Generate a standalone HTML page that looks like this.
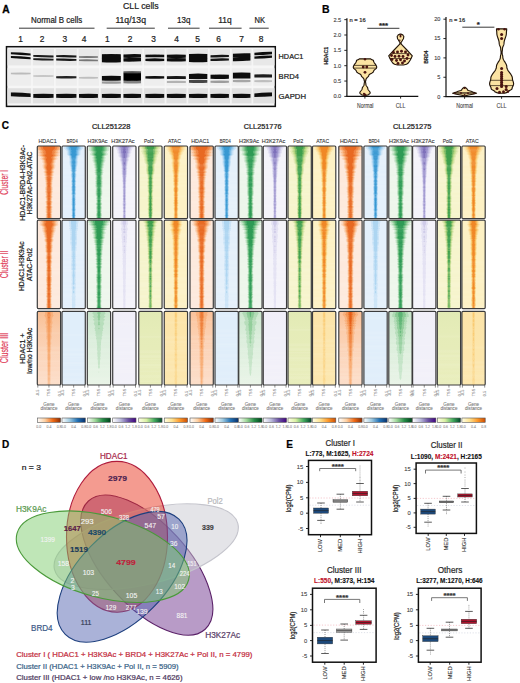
<!DOCTYPE html>
<html><head><meta charset="utf-8"><style>
html,body{margin:0;padding:0;background:#fff;}
body{width:520px;height:683px;overflow:hidden;font-family:"Liberation Sans", sans-serif;}
svg{display:block;}
</style></head><body>
<svg width="520" height="683" viewBox="0 0 520 683" font-family="'Liberation Sans', sans-serif">
<defs>
<filter id="bblur" x="-5%" y="-50%" width="110%" height="200%"><feGaussianBlur stdDeviation="0.6"/></filter>
<linearGradient id="cb_HDAC1" x1="0" y1="0" x2="1" y2="0"><stop offset="0.00" stop-color="#ffffff"/><stop offset="0.33" stop-color="#fdd0a2"/><stop offset="0.67" stop-color="#f16913"/><stop offset="1.00" stop-color="#8c2d04"/></linearGradient>
<linearGradient id="cb_BRD4" x1="0" y1="0" x2="1" y2="0"><stop offset="0.00" stop-color="#ffffff"/><stop offset="0.33" stop-color="#9ecae1"/><stop offset="0.67" stop-color="#2171b5"/><stop offset="1.00" stop-color="#08306b"/></linearGradient>
<linearGradient id="cb_H3K9Ac" x1="0" y1="0" x2="1" y2="0"><stop offset="0.00" stop-color="#ffffff"/><stop offset="0.33" stop-color="#a1d99b"/><stop offset="0.67" stop-color="#238b45"/><stop offset="1.00" stop-color="#00441b"/></linearGradient>
<linearGradient id="cb_H3K27Ac" x1="0" y1="0" x2="1" y2="0"><stop offset="0.00" stop-color="#ffffff"/><stop offset="0.33" stop-color="#bcbddc"/><stop offset="0.67" stop-color="#6a51a3"/><stop offset="1.00" stop-color="#3f007d"/></linearGradient>
<linearGradient id="cb_Pol2" x1="0" y1="0" x2="1" y2="0"><stop offset="0.00" stop-color="#ffffe5"/><stop offset="0.33" stop-color="#d9f0a3"/><stop offset="0.67" stop-color="#41ab5d"/><stop offset="1.00" stop-color="#004529"/></linearGradient>
<linearGradient id="cb_ATAC" x1="0" y1="0" x2="1" y2="0"><stop offset="0.00" stop-color="#ffffe5"/><stop offset="0.33" stop-color="#fee391"/><stop offset="0.67" stop-color="#fe9929"/><stop offset="1.00" stop-color="#cc4c02"/></linearGradient>
<filter id="lblur" x="-50%" y="-10%" width="200%" height="120%"><feGaussianBlur stdDeviation="0.6"/></filter>
<pattern id="streak" patternUnits="userSpaceOnUse" x="0" y="0" width="30" height="120"><rect x="0" y="1.14" width="30" height="1.71" fill="#fff" opacity="0.07"/><rect x="0" y="2.85" width="30" height="1.30" fill="#fff" opacity="0.07"/><rect x="0" y="5.51" width="30" height="0.71" fill="#fff" opacity="0.04"/><rect x="0" y="10.21" width="30" height="1.34" fill="#fff" opacity="0.03"/><rect x="0" y="11.54" width="30" height="1.23" fill="#fff" opacity="0.04"/><rect x="0" y="12.78" width="30" height="0.89" fill="#fff" opacity="0.06"/><rect x="0" y="17.22" width="30" height="1.15" fill="#fff" opacity="0.10"/><rect x="0" y="20.16" width="30" height="1.45" fill="#fff" opacity="0.05"/><rect x="0" y="21.61" width="30" height="0.95" fill="#fff" opacity="0.08"/><rect x="0" y="24.70" width="30" height="1.62" fill="#fff" opacity="0.04"/><rect x="0" y="26.32" width="30" height="1.69" fill="#fff" opacity="0.10"/><rect x="0" y="28.01" width="30" height="1.08" fill="#fff" opacity="0.07"/><rect x="0" y="29.09" width="30" height="1.53" fill="#fff" opacity="0.04"/><rect x="0" y="31.62" width="30" height="1.51" fill="#fff" opacity="0.05"/><rect x="0" y="33.13" width="30" height="0.72" fill="#fff" opacity="0.09"/><rect x="0" y="34.67" width="30" height="1.14" fill="#fff" opacity="0.08"/><rect x="0" y="36.56" width="30" height="0.74" fill="#fff" opacity="0.04"/><rect x="0" y="38.22" width="30" height="1.56" fill="#fff" opacity="0.09"/><rect x="0" y="39.79" width="30" height="0.85" fill="#fff" opacity="0.09"/><rect x="0" y="40.64" width="30" height="1.37" fill="#fff" opacity="0.10"/><rect x="0" y="42.01" width="30" height="0.86" fill="#fff" opacity="0.08"/><rect x="0" y="42.87" width="30" height="0.99" fill="#fff" opacity="0.04"/><rect x="0" y="45.46" width="30" height="1.05" fill="#fff" opacity="0.10"/><rect x="0" y="47.69" width="30" height="1.64" fill="#fff" opacity="0.04"/><rect x="0" y="51.02" width="30" height="0.90" fill="#fff" opacity="0.08"/><rect x="0" y="51.92" width="30" height="1.73" fill="#fff" opacity="0.10"/><rect x="0" y="55.31" width="30" height="1.11" fill="#fff" opacity="0.03"/><rect x="0" y="56.41" width="30" height="1.76" fill="#fff" opacity="0.08"/><rect x="0" y="59.07" width="30" height="1.32" fill="#fff" opacity="0.04"/><rect x="0" y="60.39" width="30" height="1.46" fill="#fff" opacity="0.05"/><rect x="0" y="63.13" width="30" height="1.34" fill="#fff" opacity="0.09"/><rect x="0" y="64.46" width="30" height="0.84" fill="#fff" opacity="0.05"/><rect x="0" y="65.31" width="30" height="1.13" fill="#fff" opacity="0.04"/><rect x="0" y="67.49" width="30" height="0.76" fill="#fff" opacity="0.09"/><rect x="0" y="71.45" width="30" height="0.77" fill="#fff" opacity="0.03"/><rect x="0" y="73.91" width="30" height="1.76" fill="#fff" opacity="0.07"/><rect x="0" y="88.48" width="30" height="1.35" fill="#fff" opacity="0.07"/><rect x="0" y="89.83" width="30" height="1.33" fill="#fff" opacity="0.07"/><rect x="0" y="92.95" width="30" height="1.47" fill="#fff" opacity="0.08"/><rect x="0" y="94.42" width="30" height="1.30" fill="#fff" opacity="0.09"/><rect x="0" y="97.06" width="30" height="1.18" fill="#fff" opacity="0.08"/><rect x="0" y="99.43" width="30" height="1.70" fill="#fff" opacity="0.03"/><rect x="0" y="102.10" width="30" height="0.84" fill="#fff" opacity="0.09"/><rect x="0" y="102.94" width="30" height="1.39" fill="#fff" opacity="0.09"/><rect x="0" y="105.32" width="30" height="0.84" fill="#fff" opacity="0.09"/><rect x="0" y="108.92" width="30" height="0.98" fill="#fff" opacity="0.06"/><rect x="0" y="112.96" width="30" height="0.93" fill="#fff" opacity="0.06"/><rect x="0" y="113.89" width="30" height="0.93" fill="#fff" opacity="0.06"/><rect x="0" y="114.82" width="30" height="1.35" fill="#fff" opacity="0.05"/><rect x="0" y="117.78" width="30" height="1.14" fill="#fff" opacity="0.03"/><rect x="0" y="118.92" width="30" height="1.65" fill="#fff" opacity="0.08"/></pattern>
</defs>
<rect width="520" height="683" fill="#fff"/>
<text x="2.20" y="12.90" font-size="10.2" fill="#000" stroke="#000" stroke-width="0.3" font-weight="bold">A</text>
<text x="123.00" y="8.70" font-size="9.3" fill="#222" stroke="#222" stroke-width="0.22" textLength="35.70" lengthAdjust="spacingAndGlyphs">CLL cells</text>
<text x="31.00" y="23.40" font-size="8.7" fill="#222" stroke="#222" stroke-width="0.22" textLength="51.20" lengthAdjust="spacingAndGlyphs">Normal B cells</text>
<text x="115.40" y="23.40" font-size="8.7" fill="#222" stroke="#222" stroke-width="0.22" textLength="30.60" lengthAdjust="spacingAndGlyphs">11q/13q</text>
<text x="177.00" y="23.40" font-size="8.7" fill="#222" stroke="#222" stroke-width="0.22" textLength="13.40" lengthAdjust="spacingAndGlyphs">13q</text>
<text x="218.20" y="23.40" font-size="8.7" fill="#222" stroke="#222" stroke-width="0.22" textLength="13.40" lengthAdjust="spacingAndGlyphs">11q</text>
<text x="254.50" y="23.40" font-size="8.7" fill="#222" stroke="#222" stroke-width="0.22" textLength="10.50" lengthAdjust="spacingAndGlyphs">NK</text>
<line x1="19.00" y1="28.20" x2="94.50" y2="28.20" stroke="#222" stroke-width="0.9"/>
<line x1="106.70" y1="28.20" x2="154.80" y2="28.20" stroke="#222" stroke-width="0.9"/>
<line x1="168.00" y1="28.20" x2="199.60" y2="28.20" stroke="#222" stroke-width="0.9"/>
<line x1="209.00" y1="28.20" x2="241.60" y2="28.20" stroke="#222" stroke-width="0.9"/>
<line x1="249.40" y1="28.20" x2="268.70" y2="28.20" stroke="#222" stroke-width="0.9"/>
<text x="20.70" y="41.90" font-size="8.4" fill="#222" stroke="#222" stroke-width="0.22" text-anchor="middle">1</text>
<text x="42.00" y="41.90" font-size="8.4" fill="#222" stroke="#222" stroke-width="0.22" text-anchor="middle">2</text>
<text x="64.80" y="41.90" font-size="8.4" fill="#222" stroke="#222" stroke-width="0.22" text-anchor="middle">3</text>
<text x="84.00" y="41.90" font-size="8.4" fill="#222" stroke="#222" stroke-width="0.22" text-anchor="middle">4</text>
<text x="107.30" y="41.90" font-size="8.4" fill="#222" stroke="#222" stroke-width="0.22" text-anchor="middle">1</text>
<text x="130.00" y="41.90" font-size="8.4" fill="#222" stroke="#222" stroke-width="0.22" text-anchor="middle">2</text>
<text x="153.50" y="41.90" font-size="8.4" fill="#222" stroke="#222" stroke-width="0.22" text-anchor="middle">3</text>
<text x="176.50" y="41.90" font-size="8.4" fill="#222" stroke="#222" stroke-width="0.22" text-anchor="middle">4</text>
<text x="197.50" y="41.90" font-size="8.4" fill="#222" stroke="#222" stroke-width="0.22" text-anchor="middle">5</text>
<text x="218.60" y="41.90" font-size="8.4" fill="#222" stroke="#222" stroke-width="0.22" text-anchor="middle">6</text>
<text x="241.60" y="41.90" font-size="8.4" fill="#222" stroke="#222" stroke-width="0.22" text-anchor="middle">7</text>
<text x="261.00" y="41.90" font-size="8.4" fill="#222" stroke="#222" stroke-width="0.22" text-anchor="middle">8</text>
<rect x="6.50" y="46.70" width="268.80" height="59.70" fill="#f6f6f6" stroke="#111" stroke-width="1.5"/>
<rect x="7.50" y="48.80" width="267.00" height="16.60" fill="#e8e8e8"/>
<rect x="7.50" y="68.20" width="267.00" height="17.60" fill="#eeeeee"/>
<rect x="7.50" y="88.20" width="267.00" height="15.20" fill="#e0e0e0"/>
<rect x="31.05" y="48.80" width="1.80" height="55.00" fill="#f7f7f7" opacity="0.8"/>
<rect x="53.95" y="48.80" width="1.80" height="55.00" fill="#f7f7f7" opacity="0.8"/>
<rect x="76.80" y="48.80" width="1.80" height="55.00" fill="#f7f7f7" opacity="0.8"/>
<rect x="99.00" y="48.80" width="1.80" height="55.00" fill="#f7f7f7" opacity="0.8"/>
<rect x="121.25" y="48.80" width="1.80" height="55.00" fill="#f7f7f7" opacity="0.8"/>
<rect x="142.30" y="48.80" width="1.80" height="55.00" fill="#f7f7f7" opacity="0.8"/>
<rect x="164.65" y="48.80" width="1.80" height="55.00" fill="#f7f7f7" opacity="0.8"/>
<rect x="186.50" y="48.80" width="1.80" height="55.00" fill="#f7f7f7" opacity="0.8"/>
<rect x="208.00" y="48.80" width="1.80" height="55.00" fill="#f7f7f7" opacity="0.8"/>
<rect x="230.00" y="48.80" width="1.80" height="55.00" fill="#f7f7f7" opacity="0.8"/>
<rect x="251.50" y="48.80" width="1.80" height="55.00" fill="#f7f7f7" opacity="0.8"/>
<g filter="url(#bblur)">
<path d="M10.90,52.35 Q20.75,52.35 30.60,53.55 L30.60,55.45 Q20.75,55.25 10.90,54.25 Z" fill="#111" fill-opacity="1"/>
<path d="M10.90,56.05 Q20.75,56.05 30.60,57.25 L30.60,59.15 Q20.75,58.95 10.90,57.95 Z" fill="#111" fill-opacity="1"/>
<path d="M33.30,55.00 Q43.40,54.70 53.50,55.60 L53.50,57.40 Q43.40,57.50 33.30,56.80 Z" fill="#1a1a1a" fill-opacity="1"/>
<path d="M33.30,58.20 Q43.40,57.90 53.50,58.80 L53.50,60.60 Q43.40,60.70 33.30,60.00 Z" fill="#1a1a1a" fill-opacity="1"/>
<path d="M56.20,55.20 Q66.30,54.75 76.40,55.50 L76.40,57.40 Q66.30,57.65 56.20,57.10 Z" fill="#161616" fill-opacity="1"/>
<path d="M56.20,58.60 Q66.30,58.15 76.40,58.90 L76.40,60.80 Q66.30,61.05 56.20,60.50 Z" fill="#161616" fill-opacity="1"/>
<path d="M79.00,56.15 Q88.45,55.65 97.90,56.35 L97.90,57.85 Q88.45,58.15 79.00,57.65 Z" fill="#777" fill-opacity="1"/>
<path d="M79.00,59.45 Q88.45,58.95 97.90,59.65 L97.90,61.15 Q88.45,61.45 79.00,60.95 Z" fill="#777" fill-opacity="1"/>
<path d="M101.90,54.20 Q111.35,53.60 120.80,54.20 L120.80,58.60 Q111.35,59.00 101.90,58.60 Z" fill="#080808" fill-opacity="1"/>
<path d="M101.90,57.80 Q111.35,57.20 120.80,57.80 L120.80,62.20 Q111.35,62.60 101.90,62.20 Z" fill="#080808" fill-opacity="1"/>
<path d="M123.50,54.45 Q132.25,53.70 141.00,54.15 L141.00,57.55 Q132.25,58.10 123.50,57.85 Z" fill="#0c0c0c" fill-opacity="1"/>
<path d="M123.50,58.15 Q132.25,57.40 141.00,57.85 L141.00,61.25 Q132.25,61.80 123.50,61.55 Z" fill="#0c0c0c" fill-opacity="1"/>
<path d="M145.40,54.85 Q154.80,54.25 164.20,54.85 L164.20,57.15 Q154.80,57.55 145.40,57.15 Z" fill="#111" fill-opacity="1"/>
<path d="M145.40,58.65 Q154.80,58.05 164.20,58.65 L164.20,60.95 Q154.80,61.35 145.40,60.95 Z" fill="#111" fill-opacity="1"/>
<path d="M166.90,54.70 Q176.35,54.10 185.80,54.70 L185.80,57.70 Q176.35,58.10 166.90,57.70 Z" fill="#0c0c0c" fill-opacity="1"/>
<path d="M166.90,58.30 Q176.35,57.70 185.80,58.30 L185.80,61.30 Q176.35,61.70 166.90,61.30 Z" fill="#0c0c0c" fill-opacity="1"/>
<path d="M189.00,54.10 Q198.15,53.50 207.30,54.10 L207.30,58.30 Q198.15,58.70 189.00,58.30 Z" fill="#080808" fill-opacity="1"/>
<path d="M189.00,57.90 Q198.15,57.30 207.30,57.90 L207.30,62.10 Q198.15,62.50 189.00,62.10 Z" fill="#080808" fill-opacity="1"/>
<path d="M210.50,55.30 Q219.70,54.55 228.90,55.00 L228.90,57.10 Q219.70,57.65 210.50,57.40 Z" fill="#151515" fill-opacity="1"/>
<path d="M210.50,58.80 Q219.70,58.05 228.90,58.50 L228.90,60.60 Q219.70,61.15 210.50,60.90 Z" fill="#151515" fill-opacity="1"/>
<path d="M232.90,53.80 Q241.65,52.90 250.40,53.20 L250.40,57.00 Q241.65,57.70 232.90,57.60 Z" fill="#0a0a0a" fill-opacity="1"/>
<path d="M232.90,57.40 Q241.65,56.50 250.40,56.80 L250.40,60.60 Q241.65,61.30 232.90,61.20 Z" fill="#0a0a0a" fill-opacity="1"/>
<path d="M254.40,52.85 Q263.20,51.75 272.00,51.85 L272.00,54.15 Q263.20,55.05 254.40,55.15 Z" fill="#111" fill-opacity="1"/>
<path d="M254.40,56.45 Q263.20,55.35 272.00,55.45 L272.00,57.75 Q263.20,58.65 254.40,58.75 Z" fill="#111" fill-opacity="1"/>
<path d="M10.90,72.75 Q20.75,72.15 30.60,72.75 L30.60,74.25 Q20.75,74.65 10.90,74.25 Z" fill="#999" fill-opacity="0.6"/>
<path d="M33.30,75.30 Q43.40,74.70 53.50,75.30 L53.50,76.70 Q43.40,77.10 33.30,76.70 Z" fill="#aaa" fill-opacity="0.6"/>
<path d="M56.20,76.30 Q66.30,75.70 76.40,76.30 L76.40,78.30 Q66.30,78.70 56.20,78.30 Z" fill="#222" fill-opacity="1"/>
<path d="M79.00,77.05 Q88.45,76.45 97.90,77.05 L97.90,78.55 Q88.45,78.95 79.00,78.55 Z" fill="#aaa" fill-opacity="0.7"/>
<path d="M101.90,76.00 Q111.35,75.40 120.80,76.00 L120.80,80.60 Q111.35,81.00 101.90,80.60 Z" fill="#0a0a0a" fill-opacity="1"/>
<path d="M101.90,81.60 Q111.35,81.00 120.80,81.60 L120.80,83.60 Q111.35,84.00 101.90,83.60 Z" fill="#777" fill-opacity="0.7"/>
<path d="M123.50,72.80 Q132.25,72.20 141.00,72.80 L141.00,80.80 Q132.25,81.20 123.50,80.80 Z" fill="#060606" fill-opacity="1"/>
<path d="M123.50,71.20 Q132.25,70.60 141.00,71.20 L141.00,73.20 Q132.25,73.60 123.50,73.20 Z" fill="#444" fill-opacity="0.8"/>
<path d="M123.50,80.80 Q132.25,80.20 141.00,80.80 L141.00,83.20 Q132.25,83.60 123.50,83.20 Z" fill="#555" fill-opacity="0.7"/>
<path d="M145.40,76.20 Q154.80,75.60 164.20,76.20 L164.20,78.60 Q154.80,79.00 145.40,78.60 Z" fill="#111" fill-opacity="1"/>
<path d="M166.90,76.30 Q176.35,75.70 185.80,76.30 L185.80,78.90 Q176.35,79.30 166.90,78.90 Z" fill="#151515" fill-opacity="1"/>
<path d="M166.90,81.10 Q176.35,80.50 185.80,81.10 L185.80,82.90 Q176.35,83.30 166.90,82.90 Z" fill="#999" fill-opacity="0.7"/>
<path d="M189.00,73.90 Q198.15,73.30 207.30,73.90 L207.30,78.90 Q198.15,79.30 189.00,78.90 Z" fill="#080808" fill-opacity="1"/>
<path d="M189.00,80.10 Q198.15,79.50 207.30,80.10 L207.30,82.70 Q198.15,83.10 189.00,82.70 Z" fill="#333" fill-opacity="0.9"/>
<path d="M210.50,74.80 Q219.70,74.20 228.90,74.80 L228.90,78.80 Q219.70,79.20 210.50,78.80 Z" fill="#111" fill-opacity="1"/>
<path d="M210.50,80.80 Q219.70,80.20 228.90,80.80 L228.90,82.80 Q219.70,83.20 210.50,82.80 Z" fill="#888" fill-opacity="0.8"/>
<path d="M232.90,72.80 Q241.65,72.20 250.40,72.80 L250.40,78.40 Q241.65,78.80 232.90,78.40 Z" fill="#0a0a0a" fill-opacity="1"/>
<path d="M232.90,80.00 Q241.65,79.40 250.40,80.00 L250.40,82.00 Q241.65,82.40 232.90,82.00 Z" fill="#888" fill-opacity="0.7"/>
<path d="M254.40,74.60 Q263.20,74.00 272.00,74.60 L272.00,77.40 Q263.20,77.80 254.40,77.40 Z" fill="#1a1a1a" fill-opacity="1"/>
<path d="M254.40,80.30 Q263.20,79.70 272.00,80.30 L272.00,82.10 Q263.20,82.50 254.40,82.10 Z" fill="#aaa" fill-opacity="0.7"/>
<path d="M10.90,92.60 Q20.75,92.40 30.60,93.40 L30.60,97.00 Q20.75,97.00 10.90,96.20 Z" fill="#0a0a0a" fill-opacity="1"/>
<path d="M33.30,94.10 Q43.40,93.50 53.50,94.10 L53.50,97.70 Q43.40,98.10 33.30,97.70 Z" fill="#0a0a0a" fill-opacity="1"/>
<path d="M56.20,94.10 Q66.30,93.50 76.40,94.10 L76.40,97.70 Q66.30,98.10 56.20,97.70 Z" fill="#0a0a0a" fill-opacity="1"/>
<path d="M79.00,94.10 Q88.45,93.50 97.90,94.10 L97.90,97.70 Q88.45,98.10 79.00,97.70 Z" fill="#0a0a0a" fill-opacity="1"/>
<path d="M101.90,94.10 Q111.35,93.50 120.80,94.10 L120.80,97.70 Q111.35,98.10 101.90,97.70 Z" fill="#0a0a0a" fill-opacity="1"/>
<path d="M123.50,94.10 Q132.25,93.50 141.00,94.10 L141.00,97.70 Q132.25,98.10 123.50,97.70 Z" fill="#0a0a0a" fill-opacity="1"/>
<path d="M145.40,94.10 Q154.80,93.50 164.20,94.10 L164.20,97.70 Q154.80,98.10 145.40,97.70 Z" fill="#0a0a0a" fill-opacity="1"/>
<path d="M166.90,94.10 Q176.35,93.50 185.80,94.10 L185.80,97.70 Q176.35,98.10 166.90,97.70 Z" fill="#0a0a0a" fill-opacity="1"/>
<path d="M189.00,94.10 Q198.15,93.50 207.30,94.10 L207.30,97.70 Q198.15,98.10 189.00,97.70 Z" fill="#0a0a0a" fill-opacity="1"/>
<path d="M210.50,94.10 Q219.70,93.50 228.90,94.10 L228.90,97.70 Q219.70,98.10 210.50,97.70 Z" fill="#0a0a0a" fill-opacity="1"/>
<path d="M232.90,94.10 Q241.65,93.50 250.40,94.10 L250.40,97.70 Q241.65,98.10 232.90,97.70 Z" fill="#0a0a0a" fill-opacity="1"/>
<path d="M254.40,93.40 Q263.20,92.40 272.00,92.60 L272.00,96.20 Q263.20,97.00 254.40,97.00 Z" fill="#0a0a0a" fill-opacity="1"/>
</g>
<text x="278.60" y="59.10" font-size="7.5" fill="#222" stroke="#222" stroke-width="0.22" textLength="24.80" lengthAdjust="spacingAndGlyphs">HDAC1</text>
<text x="278.60" y="79.30" font-size="7.5" fill="#222" stroke="#222" stroke-width="0.22" textLength="20.40" lengthAdjust="spacingAndGlyphs">BRD4</text>
<text x="278.60" y="99.10" font-size="7.5" fill="#222" stroke="#222" stroke-width="0.22" textLength="27.40" lengthAdjust="spacingAndGlyphs">GAPDH</text>
<text x="321.90" y="12.50" font-size="10.5" fill="#000" stroke="#000" stroke-width="0.22" font-weight="bold">B</text>
<line x1="346.90" y1="18.30" x2="346.90" y2="96.40" stroke="#111" stroke-width="1.2"/>
<line x1="346.30" y1="96.40" x2="418.30" y2="96.40" stroke="#111" stroke-width="1.2"/>
<line x1="344.30" y1="96.40" x2="346.90" y2="96.40" stroke="#111" stroke-width="0.9"/>
<text x="341.20" y="98.30" font-size="5.6" fill="#444" stroke="#444" stroke-width="0.12" text-anchor="end">0.0</text>
<line x1="344.30" y1="81.05" x2="346.90" y2="81.05" stroke="#111" stroke-width="0.9"/>
<text x="341.20" y="82.95" font-size="5.6" fill="#444" stroke="#444" stroke-width="0.12" text-anchor="end">0.5</text>
<line x1="344.30" y1="65.70" x2="346.90" y2="65.70" stroke="#111" stroke-width="0.9"/>
<text x="341.20" y="67.60" font-size="5.6" fill="#444" stroke="#444" stroke-width="0.12" text-anchor="end">1.0</text>
<line x1="344.30" y1="50.35" x2="346.90" y2="50.35" stroke="#111" stroke-width="0.9"/>
<text x="341.20" y="52.25" font-size="5.6" fill="#444" stroke="#444" stroke-width="0.12" text-anchor="end">1.5</text>
<line x1="344.30" y1="35.00" x2="346.90" y2="35.00" stroke="#111" stroke-width="0.9"/>
<text x="341.20" y="36.90" font-size="5.6" fill="#444" stroke="#444" stroke-width="0.12" text-anchor="end">2.0</text>
<line x1="344.30" y1="19.65" x2="346.90" y2="19.65" stroke="#111" stroke-width="0.9"/>
<text x="341.20" y="21.55" font-size="5.6" fill="#444" stroke="#444" stroke-width="0.12" text-anchor="end">2.5</text>
<line x1="364.90" y1="96.40" x2="364.90" y2="98.60" stroke="#111" stroke-width="0.9"/>
<line x1="400.60" y1="96.40" x2="400.60" y2="98.60" stroke="#111" stroke-width="0.9"/>
<text x="365.20" y="107.80" font-size="6.3" fill="#444" stroke="#444" stroke-width="0.1" text-anchor="middle" textLength="16.50" lengthAdjust="spacingAndGlyphs">Normal</text>
<text x="400.60" y="107.80" font-size="6.3" fill="#444" stroke="#444" stroke-width="0.1" text-anchor="middle" textLength="9.80" lengthAdjust="spacingAndGlyphs">CLL</text>
<text x="327.80" y="64.50" font-size="6.2" fill="#222" stroke="#222" stroke-width="0.22" font-weight="bold" textLength="17.50" lengthAdjust="spacingAndGlyphs" transform="rotate(-90 327.80 64.50)">HDAC1</text>
<text x="349.50" y="21.80" font-size="5.2" fill="#333" stroke="#333" stroke-width="0.22" textLength="16.20" lengthAdjust="spacingAndGlyphs">n = 16</text>
<line x1="367.30" y1="28.30" x2="399.40" y2="28.30" stroke="#222" stroke-width="0.9"/>
<text x="383.50" y="28.00" font-size="7.8" fill="#222" stroke="#222" stroke-width="0.22" font-weight="bold" text-anchor="middle">***</text>
<polygon points="370.40,58.80 371.18,59.37 372.73,59.93 373.50,60.50 373.55,61.02 373.68,61.55 373.90,62.07 374.19,62.59 374.53,63.12 374.91,63.64 375.29,64.16 375.67,64.68 376.01,65.21 376.30,65.73 376.52,66.25 376.65,66.78 376.70,67.30 376.58,67.83 376.23,68.35 375.71,68.88 375.10,69.40 374.49,69.92 373.97,70.45 373.62,70.97 373.50,71.50 373.27,72.06 372.62,72.61 371.67,73.17 370.63,73.73 369.68,74.29 369.03,74.84 368.80,75.40 368.69,75.91 368.39,76.43 367.94,76.94 367.40,77.45 366.86,77.96 366.41,78.47 366.11,78.99 366.00,79.50 365.93,80.00 365.75,80.50 365.57,81.00 365.50,81.50 365.53,82.00 365.60,82.50 365.70,83.00 365.80,83.50 365.87,84.00 365.90,84.50 365.97,85.00 366.18,85.50 366.49,86.00 366.85,86.50 367.21,87.00 367.52,87.50 367.73,88.00 367.80,88.50 367.87,89.00 368.08,89.50 368.40,90.00 368.79,90.50 369.21,91.00 369.60,91.50 369.92,92.00 370.13,92.50 370.20,93.00 369.77,93.60 368.93,94.20 368.50,94.80 367.00,95.10 365.50,95.40 364.50,95.40 363.00,95.10 361.50,94.80 361.07,94.20 360.23,93.60 359.80,93.00 359.87,92.50 360.08,92.00 360.40,91.50 360.79,91.00 361.21,90.50 361.60,90.00 361.92,89.50 362.13,89.00 362.20,88.50 362.27,88.00 362.48,87.50 362.79,87.00 363.15,86.50 363.51,86.00 363.82,85.50 364.03,85.00 364.10,84.50 364.13,84.00 364.20,83.50 364.30,83.00 364.40,82.50 364.47,82.00 364.50,81.50 364.43,81.00 364.25,80.50 364.07,80.00 364.00,79.50 363.89,78.99 363.59,78.47 363.14,77.96 362.60,77.45 362.06,76.94 361.61,76.43 361.31,75.91 361.20,75.40 360.97,74.84 360.32,74.29 359.37,73.73 358.33,73.17 357.38,72.61 356.73,72.06 356.50,71.50 356.38,70.97 356.03,70.45 355.51,69.92 354.90,69.40 354.29,68.88 353.77,68.35 353.42,67.83 353.30,67.30 353.35,66.78 353.48,66.25 353.70,65.73 353.99,65.21 354.33,64.68 354.71,64.16 355.09,63.64 355.47,63.12 355.81,62.59 356.10,62.07 356.32,61.55 356.45,61.02 356.50,60.50 357.27,59.93 358.82,59.37 359.60,58.80" fill="#fbe3a3" stroke="#24160a" stroke-width="1.15" stroke-linejoin="round"/>
<line x1="354.00" y1="65.40" x2="376.00" y2="65.40" stroke="#24160a" stroke-width="0.7"/>
<line x1="353.60" y1="68.10" x2="376.40" y2="68.10" stroke="#24160a" stroke-width="0.7"/>
<circle cx="363.20" cy="67.00" r="1.4" fill="#4a1410"/>
<circle cx="366.80" cy="67.00" r="1.4" fill="#4a1410"/>
<circle cx="365.00" cy="72.30" r="1.4" fill="#4a1410"/>
<circle cx="365.00" cy="59.20" r="1.2" fill="#4a1410"/>
<circle cx="365.00" cy="94.80" r="1.2" fill="#4a1410"/>
<circle cx="364.00" cy="93.80" r="1.1" fill="#4a1410"/>
<polygon points="401.00,34.10 401.85,34.45 402.70,34.80 402.98,35.37 403.52,35.93 403.80,36.50 403.76,37.00 403.65,37.50 403.54,38.00 403.50,38.50 403.32,39.00 402.90,39.50 402.48,40.00 402.30,40.50 402.12,41.00 401.70,41.50 401.28,42.00 401.10,42.50 401.10,43.00 401.10,43.50 401.10,44.00 401.50,44.30 406.90,50.00 412.30,55.80 410.30,60.00 408.30,63.00 406.50,64.30 403.50,65.00 397.50,65.00 394.50,64.30 392.70,63.00 390.70,60.00 388.70,55.80 394.10,50.00 399.50,44.30 399.90,44.00 399.90,43.50 399.90,43.00 399.90,42.50 399.72,42.00 399.30,41.50 398.88,41.00 398.70,40.50 398.52,40.00 398.10,39.50 397.68,39.00 397.50,38.50 397.46,38.00 397.35,37.50 397.24,37.00 397.20,36.50 397.48,35.93 398.02,35.37 398.30,34.80 399.15,34.45 400.00,34.10" fill="#fbe3a3" stroke="#24160a" stroke-width="1.15" stroke-linejoin="round"/>
<line x1="392.00" y1="53.60" x2="409.00" y2="53.60" stroke="#24160a" stroke-width="0.7"/>
<line x1="389.70" y1="58.50" x2="411.30" y2="58.50" stroke="#24160a" stroke-width="0.7"/>
<circle cx="400.50" cy="36.50" r="1.0" fill="#4a1410"/>
<circle cx="400.50" cy="35.20" r="0.9" fill="#4a1410"/>
<circle cx="399.80" cy="40.30" r="0.8" fill="#4a1410"/>
<circle cx="393.50" cy="52.50" r="1.45" fill="#4a1410"/>
<circle cx="397.50" cy="52.00" r="1.45" fill="#4a1410"/>
<circle cx="401.50" cy="51.30" r="1.45" fill="#4a1410"/>
<circle cx="405.50" cy="52.00" r="1.45" fill="#4a1410"/>
<circle cx="408.00" cy="55.00" r="1.45" fill="#4a1410"/>
<circle cx="395.00" cy="56.50" r="1.45" fill="#4a1410"/>
<circle cx="399.00" cy="56.20" r="1.45" fill="#4a1410"/>
<circle cx="403.00" cy="56.50" r="1.45" fill="#4a1410"/>
<circle cx="407.00" cy="58.50" r="1.45" fill="#4a1410"/>
<circle cx="392.00" cy="59.50" r="1.45" fill="#4a1410"/>
<circle cx="396.50" cy="60.50" r="1.45" fill="#4a1410"/>
<circle cx="400.50" cy="59.80" r="1.45" fill="#4a1410"/>
<circle cx="404.50" cy="61.00" r="1.45" fill="#4a1410"/>
<circle cx="398.00" cy="63.50" r="1.45" fill="#4a1410"/>
<circle cx="402.50" cy="63.00" r="1.45" fill="#4a1410"/>
<circle cx="391.50" cy="55.50" r="1.45" fill="#4a1410"/>
<line x1="446.00" y1="16.90" x2="446.00" y2="96.60" stroke="#111" stroke-width="1.2"/>
<line x1="445.40" y1="96.60" x2="520.00" y2="96.60" stroke="#111" stroke-width="1.2"/>
<line x1="443.40" y1="96.60" x2="446.00" y2="96.60" stroke="#111" stroke-width="0.9"/>
<text x="440.40" y="98.50" font-size="5.6" fill="#444" stroke="#444" stroke-width="0.12" text-anchor="end">0</text>
<line x1="443.40" y1="77.25" x2="446.00" y2="77.25" stroke="#111" stroke-width="0.9"/>
<text x="440.40" y="79.15" font-size="5.6" fill="#444" stroke="#444" stroke-width="0.12" text-anchor="end">5</text>
<line x1="443.40" y1="57.90" x2="446.00" y2="57.90" stroke="#111" stroke-width="0.9"/>
<text x="440.40" y="59.80" font-size="5.6" fill="#444" stroke="#444" stroke-width="0.12" text-anchor="end">10</text>
<line x1="443.40" y1="38.55" x2="446.00" y2="38.55" stroke="#111" stroke-width="0.9"/>
<text x="440.40" y="40.45" font-size="5.6" fill="#444" stroke="#444" stroke-width="0.12" text-anchor="end">15</text>
<line x1="443.40" y1="19.20" x2="446.00" y2="19.20" stroke="#111" stroke-width="0.9"/>
<text x="440.40" y="21.10" font-size="5.6" fill="#444" stroke="#444" stroke-width="0.12" text-anchor="end">20</text>
<line x1="464.60" y1="96.60" x2="464.60" y2="98.80" stroke="#111" stroke-width="0.9"/>
<line x1="501.60" y1="96.60" x2="501.60" y2="98.80" stroke="#111" stroke-width="0.9"/>
<text x="464.60" y="108.20" font-size="6.3" fill="#444" stroke="#444" stroke-width="0.1" text-anchor="middle" textLength="16.80" lengthAdjust="spacingAndGlyphs">Normal</text>
<text x="501.60" y="108.20" font-size="6.3" fill="#444" stroke="#444" stroke-width="0.1" text-anchor="middle" textLength="10.00" lengthAdjust="spacingAndGlyphs">CLL</text>
<text x="428.40" y="63.50" font-size="6.2" fill="#222" stroke="#222" stroke-width="0.22" font-weight="bold" textLength="13.00" lengthAdjust="spacingAndGlyphs" transform="rotate(-90 428.40 63.50)">BRD4</text>
<text x="449.20" y="21.50" font-size="5.2" fill="#333" stroke="#333" stroke-width="0.22" textLength="16.00" lengthAdjust="spacingAndGlyphs">n = 16</text>
<line x1="462.30" y1="27.20" x2="494.40" y2="27.20" stroke="#222" stroke-width="0.9"/>
<text x="478.30" y="27.00" font-size="7.8" fill="#222" stroke="#222" stroke-width="0.22" font-weight="bold" text-anchor="middle">*</text>
<polygon points="465.00,87.30 465.90,87.90 466.80,88.50 467.00,89.00 467.40,89.50 467.60,90.00 468.33,90.50 470.10,91.00 471.87,91.50 472.60,92.00 474.60,92.60 476.60,93.20 474.60,93.70 472.60,94.20 470.10,94.75 467.60,95.30 466.30,95.60 465.00,95.90 464.20,95.90 462.90,95.60 461.60,95.30 459.10,94.75 456.60,94.20 454.60,93.70 452.60,93.20 454.60,92.60 456.60,92.00 457.33,91.50 459.10,91.00 460.87,90.50 461.60,90.00 461.80,89.50 462.20,89.00 462.40,88.50 463.30,87.90 464.20,87.30" fill="#fbe3a3" stroke="#24160a" stroke-width="1.15" stroke-linejoin="round"/>
<line x1="455.10" y1="92.60" x2="474.10" y2="92.60" stroke="#24160a" stroke-width="0.7"/>
<line x1="454.60" y1="93.70" x2="474.60" y2="93.70" stroke="#24160a" stroke-width="0.7"/>
<circle cx="464.60" cy="88.20" r="0.9" fill="#4a1410"/>
<circle cx="461.00" cy="93.00" r="0.9" fill="#4a1410"/>
<circle cx="468.00" cy="93.20" r="0.9" fill="#4a1410"/>
<circle cx="464.60" cy="94.80" r="0.9" fill="#4a1410"/>
<circle cx="455.00" cy="93.30" r="0.8" fill="#4a1410"/>
<circle cx="474.00" cy="93.30" r="0.8" fill="#4a1410"/>
<polygon points="506.70,28.80 506.69,29.32 506.66,29.85 506.61,30.38 506.55,30.90 506.49,31.43 506.44,31.95 506.41,32.48 506.40,33.00 506.39,33.52 506.34,34.04 506.27,34.56 506.17,35.08 506.05,35.60 505.91,36.12 505.74,36.64 505.57,37.16 505.39,37.68 505.20,38.20 505.01,38.72 504.83,39.24 504.66,39.76 504.49,40.28 504.35,40.80 504.23,41.32 504.13,41.84 504.06,42.36 504.01,42.88 504.00,43.40 503.96,43.91 503.86,44.42 503.69,44.93 503.48,45.44 503.25,45.95 503.02,46.46 502.81,46.97 502.64,47.48 502.54,47.99 502.50,48.50 502.48,49.04 502.44,49.58 502.38,50.11 502.30,50.65 502.22,51.19 502.16,51.72 502.12,52.26 502.10,52.80 502.13,53.32 502.20,53.85 502.32,54.38 502.45,54.90 502.58,55.42 502.70,55.95 502.77,56.48 502.80,57.00 502.83,57.52 502.91,58.03 503.04,58.55 503.22,59.06 503.45,59.58 503.71,60.09 504.00,60.61 504.31,61.13 504.63,61.64 504.97,62.16 505.29,62.67 505.60,63.19 505.89,63.71 506.15,64.22 506.38,64.74 506.56,65.25 506.69,65.77 506.77,66.28 506.80,66.80 506.83,67.31 506.90,67.82 507.03,68.33 507.21,68.83 507.43,69.34 507.69,69.85 507.99,70.36 508.31,70.87 508.66,71.38 509.03,71.89 509.41,72.40 509.79,72.90 510.17,73.41 510.54,73.92 510.89,74.43 511.21,74.94 511.51,75.45 511.77,75.96 511.99,76.47 512.17,76.97 512.30,77.48 512.37,77.99 512.40,78.50 512.43,79.03 512.51,79.56 512.65,80.09 512.81,80.62 513.00,81.15 513.19,81.68 513.35,82.21 513.49,82.74 513.57,83.27 513.60,83.80 513.55,84.32 513.42,84.84 513.23,85.37 512.98,85.89 512.72,86.41 512.48,86.93 512.28,87.46 512.15,87.98 512.10,88.50 511.90,89.00 511.35,89.50 510.55,90.00 509.65,90.50 508.85,91.00 508.30,91.50 508.10,92.00 506.35,92.60 504.60,93.20 498.60,93.20 496.85,92.60 495.10,92.00 494.90,91.50 494.35,91.00 493.55,90.50 492.65,90.00 491.85,89.50 491.30,89.00 491.10,88.50 491.05,87.98 490.92,87.46 490.73,86.93 490.48,86.41 490.22,85.89 489.98,85.37 489.78,84.84 489.65,84.32 489.60,83.80 489.63,83.27 489.71,82.74 489.85,82.21 490.01,81.68 490.20,81.15 490.39,80.62 490.55,80.09 490.69,79.56 490.77,79.03 490.80,78.50 490.83,77.99 490.90,77.48 491.03,76.97 491.21,76.47 491.43,75.96 491.69,75.45 491.99,74.94 492.31,74.43 492.66,73.92 493.03,73.41 493.41,72.90 493.79,72.40 494.17,71.89 494.54,71.38 494.89,70.87 495.21,70.36 495.51,69.85 495.77,69.34 495.99,68.83 496.17,68.33 496.30,67.82 496.37,67.31 496.40,66.80 496.43,66.28 496.51,65.77 496.64,65.25 496.82,64.74 497.05,64.22 497.31,63.71 497.60,63.19 497.91,62.67 498.23,62.16 498.57,61.64 498.89,61.13 499.20,60.61 499.49,60.09 499.75,59.58 499.98,59.06 500.16,58.55 500.29,58.03 500.37,57.52 500.40,57.00 500.43,56.48 500.50,55.95 500.62,55.42 500.75,54.90 500.88,54.38 501.00,53.85 501.07,53.32 501.10,52.80 501.08,52.26 501.04,51.72 500.98,51.19 500.90,50.65 500.82,50.11 500.76,49.58 500.72,49.04 500.70,48.50 500.66,47.99 500.56,47.48 500.39,46.97 500.18,46.46 499.95,45.95 499.72,45.44 499.51,44.93 499.34,44.42 499.24,43.91 499.20,43.40 499.19,42.88 499.14,42.36 499.07,41.84 498.97,41.32 498.85,40.80 498.71,40.28 498.54,39.76 498.37,39.24 498.19,38.72 498.00,38.20 497.81,37.68 497.63,37.16 497.46,36.64 497.29,36.12 497.15,35.60 497.03,35.08 496.93,34.56 496.86,34.04 496.81,33.52 496.80,33.00 496.79,32.48 496.76,31.95 496.71,31.43 496.65,30.90 496.59,30.38 496.54,29.85 496.51,29.32 496.50,28.80" fill="#fbe3a3" stroke="#24160a" stroke-width="1.15" stroke-linejoin="round"/>
<line x1="490.30" y1="80.30" x2="512.90" y2="80.30" stroke="#24160a" stroke-width="0.7"/>
<line x1="489.80" y1="85.60" x2="513.40" y2="85.60" stroke="#24160a" stroke-width="0.7"/>
<circle cx="501.60" cy="34.60" r="1.5" fill="#4a1410"/>
<circle cx="501.60" cy="38.50" r="1.5" fill="#4a1410"/>
<circle cx="501.60" cy="68.50" r="1.5" fill="#4a1410"/>
<circle cx="498.50" cy="29.20" r="1.2" fill="#4a1410"/>
<circle cx="504.60" cy="29.20" r="1.2" fill="#4a1410"/>
<circle cx="501.60" cy="72.50" r="1.55" fill="#4a1410"/>
<circle cx="501.60" cy="74.50" r="1.55" fill="#4a1410"/>
<circle cx="501.60" cy="76.50" r="1.55" fill="#4a1410"/>
<circle cx="501.60" cy="78.50" r="1.55" fill="#4a1410"/>
<circle cx="501.60" cy="80.50" r="1.55" fill="#4a1410"/>
<circle cx="501.60" cy="82.50" r="1.55" fill="#4a1410"/>
<circle cx="501.60" cy="84.50" r="1.55" fill="#4a1410"/>
<circle cx="501.60" cy="86.50" r="1.55" fill="#4a1410"/>
<circle cx="497.00" cy="88.50" r="1.5" fill="#4a1410"/>
<circle cx="506.20" cy="86.50" r="1.5" fill="#4a1410"/>
<circle cx="506.20" cy="89.50" r="1.5" fill="#4a1410"/>
<circle cx="499.50" cy="92.20" r="1.5" fill="#4a1410"/>
<circle cx="503.50" cy="91.80" r="1.5" fill="#4a1410"/>
<circle cx="508.00" cy="91.50" r="1.2" fill="#4a1410"/>
<text x="1.70" y="129.20" font-size="10" fill="#000" stroke="#000" stroke-width="0.22" font-weight="bold">C</text>
<text x="91.90" y="129.30" font-size="6.6" fill="#222" stroke="#222" stroke-width="0.22" textLength="38.50" lengthAdjust="spacingAndGlyphs">CLL251228</text>
<text x="243.80" y="129.30" font-size="6.6" fill="#222" stroke="#222" stroke-width="0.22" textLength="37.70" lengthAdjust="spacingAndGlyphs">CLL251776</text>
<text x="393.00" y="129.30" font-size="6.6" fill="#222" stroke="#222" stroke-width="0.22" textLength="38.50" lengthAdjust="spacingAndGlyphs">CLL251275</text>
<text x="47.55" y="142.50" font-size="5.4" fill="#333" stroke="#333" stroke-width="0.1" text-anchor="middle" textLength="18.20" lengthAdjust="spacingAndGlyphs">HDAC1</text>
<text x="72.25" y="142.50" font-size="5.4" fill="#333" stroke="#333" stroke-width="0.1" text-anchor="middle" textLength="10.90" lengthAdjust="spacingAndGlyphs">BRD4</text>
<text x="97.55" y="142.50" font-size="5.4" fill="#333" stroke="#333" stroke-width="0.1" text-anchor="middle" textLength="20.10" lengthAdjust="spacingAndGlyphs">H3K9Ac</text>
<text x="122.95" y="142.50" font-size="5.4" fill="#333" stroke="#333" stroke-width="0.1" text-anchor="middle" textLength="23.30" lengthAdjust="spacingAndGlyphs">H3K27Ac</text>
<text x="149.00" y="142.50" font-size="5.4" fill="#333" stroke="#333" stroke-width="0.1" text-anchor="middle" textLength="9.80" lengthAdjust="spacingAndGlyphs">Pol2</text>
<text x="174.50" y="142.50" font-size="5.4" fill="#333" stroke="#333" stroke-width="0.1" text-anchor="middle" textLength="13.00" lengthAdjust="spacingAndGlyphs">ATAC</text>
<text x="200.25" y="142.50" font-size="5.4" fill="#333" stroke="#333" stroke-width="0.1" text-anchor="middle" textLength="18.20" lengthAdjust="spacingAndGlyphs">HDAC1</text>
<text x="225.25" y="142.50" font-size="5.4" fill="#333" stroke="#333" stroke-width="0.1" text-anchor="middle" textLength="10.90" lengthAdjust="spacingAndGlyphs">BRD4</text>
<text x="249.00" y="142.50" font-size="5.4" fill="#333" stroke="#333" stroke-width="0.1" text-anchor="middle" textLength="20.10" lengthAdjust="spacingAndGlyphs">H3K9Ac</text>
<text x="273.50" y="142.50" font-size="5.4" fill="#333" stroke="#333" stroke-width="0.1" text-anchor="middle" textLength="23.30" lengthAdjust="spacingAndGlyphs">H3K27Ac</text>
<text x="298.25" y="142.50" font-size="5.4" fill="#333" stroke="#333" stroke-width="0.1" text-anchor="middle" textLength="9.80" lengthAdjust="spacingAndGlyphs">Pol2</text>
<text x="322.75" y="142.50" font-size="5.4" fill="#333" stroke="#333" stroke-width="0.1" text-anchor="middle" textLength="13.00" lengthAdjust="spacingAndGlyphs">ATAC</text>
<text x="349.05" y="142.50" font-size="5.4" fill="#333" stroke="#333" stroke-width="0.1" text-anchor="middle" textLength="18.20" lengthAdjust="spacingAndGlyphs">HDAC1</text>
<text x="374.15" y="142.50" font-size="5.4" fill="#333" stroke="#333" stroke-width="0.1" text-anchor="middle" textLength="10.90" lengthAdjust="spacingAndGlyphs">BRD4</text>
<text x="399.05" y="142.50" font-size="5.4" fill="#333" stroke="#333" stroke-width="0.1" text-anchor="middle" textLength="20.10" lengthAdjust="spacingAndGlyphs">H3K9Ac</text>
<text x="422.85" y="142.50" font-size="5.4" fill="#333" stroke="#333" stroke-width="0.1" text-anchor="middle" textLength="23.30" lengthAdjust="spacingAndGlyphs">H3K27Ac</text>
<text x="447.55" y="142.50" font-size="5.4" fill="#333" stroke="#333" stroke-width="0.1" text-anchor="middle" textLength="9.80" lengthAdjust="spacingAndGlyphs">Pol2</text>
<text x="472.15" y="142.50" font-size="5.4" fill="#333" stroke="#333" stroke-width="0.1" text-anchor="middle" textLength="13.00" lengthAdjust="spacingAndGlyphs">ATAC</text>
<defs>
<clipPath id="cp0_0"><rect x="37.30" y="146.00" width="23.3" height="72.50"/></clipPath>
<clipPath id="cp0_1"><rect x="62.00" y="146.00" width="23.3" height="72.50"/></clipPath>
<clipPath id="cp0_2"><rect x="87.30" y="146.00" width="23.3" height="72.50"/></clipPath>
<clipPath id="cp0_3"><rect x="112.70" y="146.00" width="23.3" height="72.50"/></clipPath>
<clipPath id="cp0_4"><rect x="138.75" y="146.00" width="23.3" height="72.50"/></clipPath>
<clipPath id="cp0_5"><rect x="164.25" y="146.00" width="23.3" height="72.50"/></clipPath>
<clipPath id="cp0_6"><rect x="190.00" y="146.00" width="23.3" height="72.50"/></clipPath>
<clipPath id="cp0_7"><rect x="215.00" y="146.00" width="23.3" height="72.50"/></clipPath>
<clipPath id="cp0_8"><rect x="238.75" y="146.00" width="23.3" height="72.50"/></clipPath>
<clipPath id="cp0_9"><rect x="263.25" y="146.00" width="23.3" height="72.50"/></clipPath>
<clipPath id="cp0_10"><rect x="288.00" y="146.00" width="23.3" height="72.50"/></clipPath>
<clipPath id="cp0_11"><rect x="312.50" y="146.00" width="23.3" height="72.50"/></clipPath>
<clipPath id="cp0_12"><rect x="338.80" y="146.00" width="23.3" height="72.50"/></clipPath>
<clipPath id="cp0_13"><rect x="363.90" y="146.00" width="23.3" height="72.50"/></clipPath>
<clipPath id="cp0_14"><rect x="388.80" y="146.00" width="23.3" height="72.50"/></clipPath>
<clipPath id="cp0_15"><rect x="412.60" y="146.00" width="23.3" height="72.50"/></clipPath>
<clipPath id="cp0_16"><rect x="437.30" y="146.00" width="23.3" height="72.50"/></clipPath>
<clipPath id="cp0_17"><rect x="461.90" y="146.00" width="23.3" height="72.50"/></clipPath>
<clipPath id="cp1_0"><rect x="37.30" y="220.20" width="23.3" height="88.40"/></clipPath>
<clipPath id="cp1_1"><rect x="62.00" y="220.20" width="23.3" height="88.40"/></clipPath>
<clipPath id="cp1_2"><rect x="87.30" y="220.20" width="23.3" height="88.40"/></clipPath>
<clipPath id="cp1_3"><rect x="112.70" y="220.20" width="23.3" height="88.40"/></clipPath>
<clipPath id="cp1_4"><rect x="138.75" y="220.20" width="23.3" height="88.40"/></clipPath>
<clipPath id="cp1_5"><rect x="164.25" y="220.20" width="23.3" height="88.40"/></clipPath>
<clipPath id="cp1_6"><rect x="190.00" y="220.20" width="23.3" height="88.40"/></clipPath>
<clipPath id="cp1_7"><rect x="215.00" y="220.20" width="23.3" height="88.40"/></clipPath>
<clipPath id="cp1_8"><rect x="238.75" y="220.20" width="23.3" height="88.40"/></clipPath>
<clipPath id="cp1_9"><rect x="263.25" y="220.20" width="23.3" height="88.40"/></clipPath>
<clipPath id="cp1_10"><rect x="288.00" y="220.20" width="23.3" height="88.40"/></clipPath>
<clipPath id="cp1_11"><rect x="312.50" y="220.20" width="23.3" height="88.40"/></clipPath>
<clipPath id="cp1_12"><rect x="338.80" y="220.20" width="23.3" height="88.40"/></clipPath>
<clipPath id="cp1_13"><rect x="363.90" y="220.20" width="23.3" height="88.40"/></clipPath>
<clipPath id="cp1_14"><rect x="388.80" y="220.20" width="23.3" height="88.40"/></clipPath>
<clipPath id="cp1_15"><rect x="412.60" y="220.20" width="23.3" height="88.40"/></clipPath>
<clipPath id="cp1_16"><rect x="437.30" y="220.20" width="23.3" height="88.40"/></clipPath>
<clipPath id="cp1_17"><rect x="461.90" y="220.20" width="23.3" height="88.40"/></clipPath>
<clipPath id="cp2_0"><rect x="37.30" y="311.40" width="23.3" height="73.60"/></clipPath>
<clipPath id="cp2_1"><rect x="62.00" y="311.40" width="23.3" height="73.60"/></clipPath>
<clipPath id="cp2_2"><rect x="87.30" y="311.40" width="23.3" height="73.60"/></clipPath>
<clipPath id="cp2_3"><rect x="112.70" y="311.40" width="23.3" height="73.60"/></clipPath>
<clipPath id="cp2_4"><rect x="138.75" y="311.40" width="23.3" height="73.60"/></clipPath>
<clipPath id="cp2_5"><rect x="164.25" y="311.40" width="23.3" height="73.60"/></clipPath>
<clipPath id="cp2_6"><rect x="190.00" y="311.40" width="23.3" height="73.60"/></clipPath>
<clipPath id="cp2_7"><rect x="215.00" y="311.40" width="23.3" height="73.60"/></clipPath>
<clipPath id="cp2_8"><rect x="238.75" y="311.40" width="23.3" height="73.60"/></clipPath>
<clipPath id="cp2_9"><rect x="263.25" y="311.40" width="23.3" height="73.60"/></clipPath>
<clipPath id="cp2_10"><rect x="288.00" y="311.40" width="23.3" height="73.60"/></clipPath>
<clipPath id="cp2_11"><rect x="312.50" y="311.40" width="23.3" height="73.60"/></clipPath>
<clipPath id="cp2_12"><rect x="338.80" y="311.40" width="23.3" height="73.60"/></clipPath>
<clipPath id="cp2_13"><rect x="363.90" y="311.40" width="23.3" height="73.60"/></clipPath>
<clipPath id="cp2_14"><rect x="388.80" y="311.40" width="23.3" height="73.60"/></clipPath>
<clipPath id="cp2_15"><rect x="412.60" y="311.40" width="23.3" height="73.60"/></clipPath>
<clipPath id="cp2_16"><rect x="437.30" y="311.40" width="23.3" height="73.60"/></clipPath>
<clipPath id="cp2_17"><rect x="461.90" y="311.40" width="23.3" height="73.60"/></clipPath>
<g id="w0HDAC1"><rect x="-11.7" y="0" width="23.3" height="72.5" fill="#fde9dc"/><polygon points="13.0,-2.0 13.0,1.0 13.0,2.0 13.0,3.0 13.0,4.0 10.3,5.0 11.7,6.0 11.8,7.0 9.2,8.1 11.4,9.1 10.4,10.1 7.4,11.1 8.1,12.1 9.0,13.1 6.8,14.1 6.4,15.1 6.8,16.1 6.2,17.1 5.5,18.1 6.7,19.1 6.2,20.1 6.5,21.1 5.9,22.2 5.4,23.2 4.4,24.2 5.3,25.2 5.5,26.2 4.5,27.2 4.4,28.2 5.1,29.2 3.6,30.2 4.6,31.2 4.1,32.2 4.1,33.2 3.6,34.2 4.0,35.2 3.4,36.2 3.6,37.3 3.5,38.3 3.4,39.3 3.2,40.3 3.9,41.3 3.8,42.3 4.0,43.3 3.4,44.3 4.0,45.3 3.8,46.3 3.2,47.3 3.7,48.3 2.9,49.3 3.6,50.3 3.6,51.4 3.0,52.4 3.1,53.4 2.8,54.4 3.7,55.4 3.5,56.4 3.0,57.4 3.3,58.4 2.7,59.4 3.6,60.4 3.6,61.4 3.1,62.4 3.5,63.4 3.2,64.4 3.4,65.5 3.4,66.5 2.7,67.5 3.3,68.5 3.2,69.5 3.1,70.5 3.5,71.5 2.7,74.5 -2.7,74.5 -3.5,71.5 -3.1,70.5 -3.2,69.5 -3.3,68.5 -2.7,67.5 -3.4,66.5 -3.4,65.5 -3.2,64.4 -3.5,63.4 -3.1,62.4 -3.6,61.4 -3.6,60.4 -2.7,59.4 -3.3,58.4 -3.0,57.4 -3.5,56.4 -3.7,55.4 -2.8,54.4 -3.1,53.4 -3.0,52.4 -3.6,51.4 -3.6,50.3 -2.9,49.3 -3.7,48.3 -3.2,47.3 -3.8,46.3 -4.0,45.3 -3.4,44.3 -4.0,43.3 -3.8,42.3 -3.9,41.3 -3.2,40.3 -3.4,39.3 -3.5,38.3 -3.6,37.3 -3.4,36.2 -4.0,35.2 -3.6,34.2 -4.1,33.2 -4.1,32.2 -4.6,31.2 -3.6,30.2 -5.1,29.2 -4.4,28.2 -4.5,27.2 -5.5,26.2 -5.3,25.2 -4.4,24.2 -5.4,23.2 -5.9,22.2 -6.5,21.1 -6.2,20.1 -6.7,19.1 -5.5,18.1 -6.2,17.1 -6.8,16.1 -6.4,15.1 -6.8,14.1 -9.0,13.1 -8.1,12.1 -7.4,11.1 -10.4,10.1 -11.4,9.1 -9.2,8.1 -11.8,7.0 -11.7,6.0 -10.3,5.0 -13.0,4.0 -13.0,3.0 -13.0,2.0 -13.0,1.0 -13.0,-2.0" fill="#fbd6bb" filter="url(#lblur)"/><polygon points="12.4,-2.0 13.0,1.0 11.1,2.0 12.4,3.0 10.4,4.0 8.3,5.0 9.3,6.0 9.5,7.0 7.4,8.1 9.3,9.1 8.4,10.1 5.9,11.1 6.5,12.1 7.2,13.1 5.5,14.1 5.2,15.1 5.5,16.1 5.0,17.1 4.4,18.1 5.3,19.1 5.0,20.1 5.3,21.1 4.8,22.2 4.4,23.2 3.6,24.2 4.3,25.2 4.5,26.2 3.6,27.2 3.6,28.2 4.1,29.2 2.9,30.2 3.7,31.2 3.3,32.2 3.4,33.2 2.9,34.2 3.2,35.2 2.7,36.2 3.0,37.3 2.9,38.3 2.7,39.3 2.6,40.3 3.1,41.3 3.1,42.3 3.3,43.3 2.8,44.3 3.2,45.3 3.1,46.3 2.6,47.3 3.0,48.3 2.4,49.3 2.9,50.3 2.9,51.4 2.4,52.4 2.5,53.4 2.2,54.4 3.0,55.4 2.8,56.4 2.5,57.4 2.6,58.4 2.1,59.4 2.9,60.4 2.9,61.4 2.5,62.4 2.8,63.4 2.5,64.4 2.7,65.5 2.8,66.5 2.2,67.5 2.7,68.5 2.5,69.5 2.5,70.5 2.8,71.5 2.1,74.5 -2.1,74.5 -2.8,71.5 -2.5,70.5 -2.5,69.5 -2.7,68.5 -2.2,67.5 -2.8,66.5 -2.7,65.5 -2.5,64.4 -2.8,63.4 -2.5,62.4 -2.9,61.4 -2.9,60.4 -2.1,59.4 -2.6,58.4 -2.5,57.4 -2.8,56.4 -3.0,55.4 -2.2,54.4 -2.5,53.4 -2.4,52.4 -2.9,51.4 -2.9,50.3 -2.4,49.3 -3.0,48.3 -2.6,47.3 -3.1,46.3 -3.2,45.3 -2.8,44.3 -3.3,43.3 -3.1,42.3 -3.1,41.3 -2.6,40.3 -2.7,39.3 -2.9,38.3 -3.0,37.3 -2.7,36.2 -3.2,35.2 -2.9,34.2 -3.4,33.2 -3.3,32.2 -3.7,31.2 -2.9,30.2 -4.1,29.2 -3.6,28.2 -3.6,27.2 -4.5,26.2 -4.3,25.2 -3.6,24.2 -4.4,23.2 -4.8,22.2 -5.3,21.1 -5.0,20.1 -5.3,19.1 -4.4,18.1 -5.0,17.1 -5.5,16.1 -5.2,15.1 -5.5,14.1 -7.2,13.1 -6.5,12.1 -5.9,11.1 -8.4,10.1 -9.3,9.1 -7.4,8.1 -9.5,7.0 -9.3,6.0 -8.3,5.0 -10.4,4.0 -12.4,3.0 -11.1,2.0 -13.0,1.0 -12.4,-2.0" fill="#f9bd90" filter="url(#lblur)"/><polygon points="10.3,-2.0 11.0,1.0 9.3,2.0 10.2,3.0 8.5,4.0 6.8,5.0 7.5,6.0 7.7,7.0 5.9,8.1 7.7,9.1 7.0,10.1 4.9,11.1 5.3,12.1 5.9,13.1 4.6,14.1 4.4,15.1 4.5,16.1 4.1,17.1 3.5,18.1 4.3,19.1 4.1,20.1 4.5,21.1 4.0,22.2 3.6,23.2 2.9,24.2 3.5,25.2 3.7,26.2 2.9,27.2 2.9,28.2 3.3,29.2 2.3,30.2 3.1,31.2 2.7,32.2 2.8,33.2 2.4,34.2 2.7,35.2 2.2,36.2 2.5,37.3 2.4,38.3 2.2,39.3 2.1,40.3 2.5,41.3 2.5,42.3 2.7,43.3 2.3,44.3 2.6,45.3 2.5,46.3 2.1,47.3 2.4,48.3 2.0,49.3 2.4,50.3 2.3,51.4 2.0,52.4 2.0,53.4 1.8,54.4 2.5,55.4 2.3,56.4 2.1,57.4 2.2,58.4 1.7,59.4 2.4,60.4 2.4,61.4 2.1,62.4 2.3,63.4 2.0,64.4 2.1,65.5 2.3,66.5 1.8,67.5 2.2,68.5 2.1,69.5 2.1,70.5 2.2,71.5 1.7,74.5 -1.7,74.5 -2.2,71.5 -2.1,70.5 -2.1,69.5 -2.2,68.5 -1.8,67.5 -2.3,66.5 -2.1,65.5 -2.0,64.4 -2.3,63.4 -2.1,62.4 -2.4,61.4 -2.4,60.4 -1.7,59.4 -2.2,58.4 -2.1,57.4 -2.3,56.4 -2.5,55.4 -1.8,54.4 -2.0,53.4 -2.0,52.4 -2.3,51.4 -2.4,50.3 -2.0,49.3 -2.4,48.3 -2.1,47.3 -2.5,46.3 -2.6,45.3 -2.3,44.3 -2.7,43.3 -2.5,42.3 -2.5,41.3 -2.1,40.3 -2.2,39.3 -2.4,38.3 -2.5,37.3 -2.2,36.2 -2.7,35.2 -2.4,34.2 -2.8,33.2 -2.7,32.2 -3.1,31.2 -2.3,30.2 -3.3,29.2 -2.9,28.2 -2.9,27.2 -3.7,26.2 -3.5,25.2 -2.9,24.2 -3.6,23.2 -4.0,22.2 -4.5,21.1 -4.1,20.1 -4.3,19.1 -3.5,18.1 -4.1,17.1 -4.5,16.1 -4.4,15.1 -4.6,14.1 -5.9,13.1 -5.3,12.1 -4.9,11.1 -7.0,10.1 -7.7,9.1 -5.9,8.1 -7.7,7.0 -7.5,6.0 -6.8,5.0 -8.5,4.0 -10.2,3.0 -9.3,2.0 -11.0,1.0 -10.3,-2.0" fill="#f7a466" filter="url(#lblur)"/><polygon points="8.4,-2.0 8.8,1.0 7.6,2.0 8.2,3.0 6.6,4.0 5.4,5.0 5.7,6.0 6.0,7.0 4.5,8.1 6.3,9.1 5.6,10.1 3.8,11.1 4.0,12.1 4.7,13.1 3.8,14.1 3.6,15.1 3.6,16.1 3.3,17.1 2.7,18.1 3.3,19.1 3.1,20.1 3.6,21.1 3.2,22.2 2.9,23.2 2.3,24.2 2.7,25.2 3.0,26.2 2.3,27.2 2.3,28.2 2.6,29.2 1.7,30.2 2.6,31.2 2.1,32.2 2.3,33.2 1.9,34.2 2.1,35.2 1.7,36.2 2.0,37.3 1.9,38.3 1.6,39.3 1.7,40.3 2.0,41.3 2.0,42.3 2.2,43.3 1.9,44.3 2.1,45.3 2.0,46.3 1.6,47.3 1.8,48.3 1.6,49.3 1.9,50.3 1.7,51.4 1.5,52.4 1.5,53.4 1.4,54.4 2.1,55.4 1.8,56.4 1.7,57.4 1.8,58.4 1.3,59.4 1.9,60.4 1.9,61.4 1.6,62.4 1.7,63.4 1.6,64.4 1.5,65.5 1.9,66.5 1.4,67.5 1.8,68.5 1.6,69.5 1.7,70.5 1.6,71.5 1.2,74.5 -1.2,74.5 -1.6,71.5 -1.7,70.5 -1.6,69.5 -1.8,68.5 -1.4,67.5 -1.9,66.5 -1.5,65.5 -1.6,64.4 -1.7,63.4 -1.6,62.4 -1.9,61.4 -1.9,60.4 -1.3,59.4 -1.8,58.4 -1.7,57.4 -1.8,56.4 -2.1,55.4 -1.4,54.4 -1.5,53.4 -1.5,52.4 -1.7,51.4 -1.9,50.3 -1.6,49.3 -1.8,48.3 -1.6,47.3 -2.0,46.3 -2.1,45.3 -1.9,44.3 -2.2,43.3 -2.0,42.3 -2.0,41.3 -1.7,40.3 -1.6,39.3 -1.9,38.3 -2.0,37.3 -1.7,36.2 -2.1,35.2 -1.9,34.2 -2.3,33.2 -2.1,32.2 -2.6,31.2 -1.7,30.2 -2.6,29.2 -2.3,28.2 -2.3,27.2 -3.0,26.2 -2.7,25.2 -2.3,24.2 -2.9,23.2 -3.2,22.2 -3.6,21.1 -3.1,20.1 -3.3,19.1 -2.7,18.1 -3.3,17.1 -3.6,16.1 -3.6,15.1 -3.8,14.1 -4.7,13.1 -4.0,12.1 -3.8,11.1 -5.6,10.1 -6.3,9.1 -4.5,8.1 -6.0,7.0 -5.7,6.0 -5.4,5.0 -6.6,4.0 -8.2,3.0 -7.6,2.0 -8.8,1.0 -8.4,-2.0" fill="#ef8645" filter="url(#lblur)"/><polygon points="6.1,-2.0 6.1,1.0 5.7,2.0 5.7,3.0 4.1,4.0 3.5,5.0 3.0,6.0 3.7,7.0 2.3,8.1 4.6,9.1 4.0,10.1 2.4,11.1 2.2,12.1 3.0,13.1 2.8,14.1 2.7,15.1 2.5,16.1 2.2,17.1 1.3,18.1 2.0,19.1 1.8,20.1 2.7,21.1 2.4,22.2 2.1,23.2 1.6,24.2 1.5,25.2 2.3,26.2 1.5,27.2 1.5,28.2 1.7,29.2 0.9,30.2 2.0,31.2 1.4,32.2 1.6,33.2 1.3,34.2 1.5,35.2 0.9,36.2 1.5,37.3 1.3,38.3 0.8,39.3 1.3,40.3 1.2,41.3 1.4,42.3 1.7,43.3 1.4,44.3 1.4,45.3 1.3,46.3 0.9,47.3 0.9,48.3 1.1,49.3 1.2,50.3 0.6,51.4 0.9,52.4 0.8,53.4 0.8,54.4 1.5,55.4 1.1,56.4 1.2,57.4 1.2,58.4 0.7,59.4 1.4,60.4 1.3,61.4 1.1,62.4 1.0,63.4 0.8,64.4 0.2,65.5 1.4,66.5 0.9,67.5 1.3,68.5 0.8,69.5 1.2,70.5 0.7,71.5 0.4,74.5 -0.4,74.5 -0.7,71.5 -1.2,70.5 -0.8,69.5 -1.3,68.5 -0.9,67.5 -1.4,66.5 -0.2,65.5 -0.8,64.4 -1.0,63.4 -1.1,62.4 -1.3,61.4 -1.4,60.4 -0.7,59.4 -1.2,58.4 -1.2,57.4 -1.1,56.4 -1.5,55.4 -0.8,54.4 -0.8,53.4 -0.9,52.4 -0.6,51.4 -1.2,50.3 -1.1,49.3 -0.9,48.3 -0.9,47.3 -1.3,46.3 -1.4,45.3 -1.4,44.3 -1.7,43.3 -1.4,42.3 -1.2,41.3 -1.3,40.3 -0.8,39.3 -1.3,38.3 -1.5,37.3 -0.9,36.2 -1.5,35.2 -1.3,34.2 -1.6,33.2 -1.4,32.2 -2.0,31.2 -0.9,30.2 -1.7,29.2 -1.5,28.2 -1.5,27.2 -2.3,26.2 -1.5,25.2 -1.6,24.2 -2.1,23.2 -2.4,22.2 -2.7,21.1 -1.8,20.1 -2.0,19.1 -1.3,18.1 -2.2,17.1 -2.5,16.1 -2.7,15.1 -2.8,14.1 -3.0,13.1 -2.2,12.1 -2.4,11.1 -4.0,10.1 -4.6,9.1 -2.3,8.1 -3.7,7.0 -3.0,6.0 -3.5,5.0 -4.1,4.0 -5.7,3.0 -5.7,2.0 -6.1,1.0 -6.1,-2.0" fill="#e86924" filter="url(#lblur)"/></g>
<g id="w0BRD4"><rect x="-11.7" y="0" width="23.3" height="72.5" fill="#e4f0fb"/><polygon points="9.3,-2.0 9.2,1.0 9.8,2.0 8.9,3.0 8.1,4.0 6.8,5.0 7.0,6.0 6.7,7.0 6.9,8.1 6.6,9.1 4.7,10.1 4.6,11.1 4.6,12.1 4.4,13.1 4.2,14.1 4.1,15.1 4.6,16.1 4.0,17.1 4.3,18.1 3.8,19.1 3.8,20.1 3.2,21.1 3.3,22.2 2.8,23.2 3.5,24.2 2.9,25.2 2.5,26.2 2.5,27.2 3.0,28.2 2.8,29.2 2.8,30.2 2.6,31.2 2.5,32.2 2.2,33.2 2.3,34.2 2.7,35.2 2.4,36.2 2.3,37.3 2.5,38.3 2.0,39.3 2.3,40.3 2.6,41.3 2.4,42.3 2.4,43.3 2.4,44.3 2.1,45.3 2.2,46.3 2.5,47.3 2.5,48.3 2.1,49.3 2.1,50.3 2.2,51.4 2.1,52.4 2.3,53.4 1.9,54.4 2.3,55.4 2.1,56.4 2.3,57.4 2.4,58.4 2.0,59.4 1.9,60.4 1.9,61.4 2.0,62.4 2.4,63.4 2.1,64.4 1.9,65.5 2.0,66.5 1.9,67.5 1.8,68.5 2.4,69.5 1.8,70.5 1.8,71.5 2.2,74.5 -2.2,74.5 -1.8,71.5 -1.8,70.5 -2.4,69.5 -1.8,68.5 -1.9,67.5 -2.0,66.5 -1.9,65.5 -2.1,64.4 -2.4,63.4 -2.0,62.4 -1.9,61.4 -1.9,60.4 -2.0,59.4 -2.4,58.4 -2.3,57.4 -2.1,56.4 -2.3,55.4 -1.9,54.4 -2.3,53.4 -2.1,52.4 -2.2,51.4 -2.1,50.3 -2.1,49.3 -2.5,48.3 -2.5,47.3 -2.2,46.3 -2.1,45.3 -2.4,44.3 -2.4,43.3 -2.4,42.3 -2.6,41.3 -2.3,40.3 -2.0,39.3 -2.5,38.3 -2.3,37.3 -2.4,36.2 -2.7,35.2 -2.3,34.2 -2.2,33.2 -2.5,32.2 -2.6,31.2 -2.8,30.2 -2.8,29.2 -3.0,28.2 -2.5,27.2 -2.5,26.2 -2.9,25.2 -3.5,24.2 -2.8,23.2 -3.3,22.2 -3.2,21.1 -3.8,20.1 -3.8,19.1 -4.3,18.1 -4.0,17.1 -4.6,16.1 -4.1,15.1 -4.2,14.1 -4.4,13.1 -4.6,12.1 -4.6,11.1 -4.7,10.1 -6.6,9.1 -6.9,8.1 -6.7,7.0 -7.0,6.0 -6.8,5.0 -8.1,4.0 -8.9,3.0 -9.8,2.0 -9.2,1.0 -9.3,-2.0" fill="#cce4f7" filter="url(#lblur)"/><polygon points="7.5,-2.0 7.5,1.0 7.9,2.0 7.2,3.0 6.5,4.0 5.5,5.0 5.7,6.0 5.4,7.0 5.6,8.1 5.4,9.1 3.8,10.1 3.8,11.1 3.7,12.1 3.6,13.1 3.3,14.1 3.3,15.1 3.7,16.1 3.2,17.1 3.4,18.1 3.0,19.1 3.1,20.1 2.6,21.1 2.7,22.2 2.3,23.2 2.8,24.2 2.3,25.2 2.0,26.2 2.0,27.2 2.4,28.2 2.2,29.2 2.2,30.2 2.1,31.2 2.0,32.2 1.7,33.2 1.9,34.2 2.2,35.2 1.9,36.2 1.9,37.3 2.1,38.3 1.6,39.3 1.9,40.3 2.1,41.3 2.0,42.3 2.0,43.3 2.0,44.3 1.7,45.3 1.7,46.3 2.0,47.3 2.0,48.3 1.6,49.3 1.7,50.3 1.7,51.4 1.7,52.4 1.9,53.4 1.6,54.4 1.8,55.4 1.7,56.4 1.8,57.4 1.9,58.4 1.6,59.4 1.5,60.4 1.6,61.4 1.6,62.4 1.9,63.4 1.7,64.4 1.5,65.5 1.6,66.5 1.6,67.5 1.5,68.5 2.0,69.5 1.4,70.5 1.5,71.5 1.8,74.5 -1.8,74.5 -1.5,71.5 -1.4,70.5 -2.0,69.5 -1.5,68.5 -1.6,67.5 -1.6,66.5 -1.5,65.5 -1.7,64.4 -1.9,63.4 -1.6,62.4 -1.6,61.4 -1.5,60.4 -1.6,59.4 -1.9,58.4 -1.8,57.4 -1.7,56.4 -1.8,55.4 -1.6,54.4 -1.9,53.4 -1.7,52.4 -1.7,51.4 -1.7,50.3 -1.6,49.3 -2.0,48.3 -2.0,47.3 -1.7,46.3 -1.7,45.3 -2.0,44.3 -2.0,43.3 -2.0,42.3 -2.1,41.3 -1.9,40.3 -1.6,39.3 -2.1,38.3 -1.9,37.3 -1.9,36.2 -2.2,35.2 -1.9,34.2 -1.7,33.2 -2.0,32.2 -2.1,31.2 -2.2,30.2 -2.2,29.2 -2.4,28.2 -2.0,27.2 -2.0,26.2 -2.3,25.2 -2.8,24.2 -2.3,23.2 -2.7,22.2 -2.6,21.1 -3.1,20.1 -3.0,19.1 -3.4,18.1 -3.2,17.1 -3.7,16.1 -3.3,15.1 -3.3,14.1 -3.6,13.1 -3.7,12.1 -3.8,11.1 -3.8,10.1 -5.4,9.1 -5.6,8.1 -5.4,7.0 -5.7,6.0 -5.5,5.0 -6.5,4.0 -7.2,3.0 -7.9,2.0 -7.5,1.0 -7.5,-2.0" fill="#add5f1" filter="url(#lblur)"/><polygon points="6.2,-2.0 6.3,1.0 6.4,2.0 5.9,3.0 5.3,4.0 4.4,5.0 4.7,6.0 4.3,7.0 4.7,8.1 4.5,9.1 3.2,10.1 3.1,11.1 3.1,12.1 3.0,13.1 2.7,14.1 2.7,15.1 3.0,16.1 2.6,17.1 2.7,18.1 2.5,19.1 2.6,20.1 2.2,21.1 2.2,22.2 1.9,23.2 2.3,24.2 2.0,25.2 1.6,26.2 1.7,27.2 2.0,28.2 1.8,29.2 1.8,30.2 1.7,31.2 1.6,32.2 1.4,33.2 1.5,34.2 1.8,35.2 1.5,36.2 1.5,37.3 1.7,38.3 1.3,39.3 1.6,40.3 1.8,41.3 1.6,42.3 1.6,43.3 1.6,44.3 1.4,45.3 1.4,46.3 1.7,47.3 1.6,48.3 1.3,49.3 1.3,50.3 1.4,51.4 1.4,52.4 1.5,53.4 1.3,54.4 1.4,55.4 1.4,56.4 1.4,57.4 1.6,58.4 1.3,59.4 1.3,60.4 1.3,61.4 1.3,62.4 1.6,63.4 1.4,64.4 1.2,65.5 1.3,66.5 1.3,67.5 1.2,68.5 1.6,69.5 1.2,70.5 1.2,71.5 1.4,74.5 -1.4,74.5 -1.2,71.5 -1.2,70.5 -1.6,69.5 -1.2,68.5 -1.3,67.5 -1.3,66.5 -1.2,65.5 -1.4,64.4 -1.6,63.4 -1.3,62.4 -1.3,61.4 -1.3,60.4 -1.3,59.4 -1.6,58.4 -1.4,57.4 -1.4,56.4 -1.4,55.4 -1.3,54.4 -1.5,53.4 -1.4,52.4 -1.4,51.4 -1.3,50.3 -1.3,49.3 -1.6,48.3 -1.7,47.3 -1.4,46.3 -1.4,45.3 -1.6,44.3 -1.6,43.3 -1.6,42.3 -1.8,41.3 -1.6,40.3 -1.3,39.3 -1.7,38.3 -1.5,37.3 -1.5,36.2 -1.8,35.2 -1.5,34.2 -1.4,33.2 -1.6,32.2 -1.7,31.2 -1.8,30.2 -1.8,29.2 -2.0,28.2 -1.7,27.2 -1.6,26.2 -2.0,25.2 -2.3,24.2 -1.9,23.2 -2.2,22.2 -2.2,21.1 -2.6,20.1 -2.5,19.1 -2.7,18.1 -2.6,17.1 -3.0,16.1 -2.7,15.1 -2.7,14.1 -3.0,13.1 -3.1,12.1 -3.1,11.1 -3.2,10.1 -4.5,9.1 -4.7,8.1 -4.3,7.0 -4.7,6.0 -4.4,5.0 -5.3,4.0 -5.9,3.0 -6.4,2.0 -6.3,1.0 -6.2,-2.0" fill="#8ec6ec" filter="url(#lblur)"/><polygon points="4.9,-2.0 5.2,1.0 4.9,2.0 4.6,3.0 4.1,4.0 3.4,5.0 3.8,6.0 3.3,7.0 3.8,8.1 3.6,9.1 2.5,10.1 2.5,11.1 2.5,12.1 2.4,13.1 2.0,14.1 2.1,15.1 2.3,16.1 2.1,17.1 2.1,18.1 2.0,19.1 2.2,20.1 1.7,21.1 1.8,22.2 1.5,23.2 1.8,24.2 1.6,25.2 1.2,26.2 1.4,27.2 1.5,28.2 1.3,29.2 1.4,30.2 1.3,31.2 1.2,32.2 1.1,33.2 1.2,34.2 1.5,35.2 1.2,36.2 1.2,37.3 1.4,38.3 1.0,39.3 1.3,40.3 1.4,41.3 1.3,42.3 1.3,43.3 1.3,44.3 1.1,45.3 1.1,46.3 1.4,47.3 1.1,48.3 1.0,49.3 1.0,50.3 1.0,51.4 1.1,52.4 1.2,53.4 1.1,54.4 1.1,55.4 1.1,56.4 1.1,57.4 1.2,58.4 1.1,59.4 1.0,60.4 1.0,61.4 1.0,62.4 1.2,63.4 1.1,64.4 0.9,65.5 1.0,66.5 1.0,67.5 1.0,68.5 1.3,69.5 0.9,70.5 0.9,71.5 1.0,74.5 -1.0,74.5 -0.9,71.5 -0.9,70.5 -1.3,69.5 -1.0,68.5 -1.0,67.5 -1.0,66.5 -0.9,65.5 -1.1,64.4 -1.2,63.4 -1.0,62.4 -1.0,61.4 -1.0,60.4 -1.1,59.4 -1.2,58.4 -1.1,57.4 -1.1,56.4 -1.1,55.4 -1.1,54.4 -1.2,53.4 -1.1,52.4 -1.0,51.4 -1.0,50.3 -1.0,49.3 -1.1,48.3 -1.4,47.3 -1.1,46.3 -1.1,45.3 -1.3,44.3 -1.3,43.3 -1.3,42.3 -1.4,41.3 -1.3,40.3 -1.0,39.3 -1.4,38.3 -1.2,37.3 -1.2,36.2 -1.5,35.2 -1.2,34.2 -1.1,33.2 -1.2,32.2 -1.3,31.2 -1.4,30.2 -1.3,29.2 -1.5,28.2 -1.4,27.2 -1.2,26.2 -1.6,25.2 -1.8,24.2 -1.5,23.2 -1.8,22.2 -1.7,21.1 -2.2,20.1 -2.0,19.1 -2.1,18.1 -2.1,17.1 -2.3,16.1 -2.1,15.1 -2.0,14.1 -2.4,13.1 -2.5,12.1 -2.5,11.1 -2.5,10.1 -3.6,9.1 -3.8,8.1 -3.3,7.0 -3.8,6.0 -3.4,5.0 -4.1,4.0 -4.6,3.0 -4.9,2.0 -5.2,1.0 -4.9,-2.0" fill="#63afdf" filter="url(#lblur)"/><polygon points="3.4,-2.0 3.9,1.0 2.8,2.0 3.0,3.0 2.5,4.0 2.0,5.0 2.8,6.0 1.6,7.0 2.9,8.1 2.7,9.1 1.7,10.1 1.9,11.1 1.8,12.1 1.7,13.1 0.9,14.1 1.3,15.1 1.4,16.1 1.4,17.1 1.0,18.1 1.3,19.1 1.6,20.1 1.2,21.1 1.2,22.2 1.1,23.2 1.1,24.2 1.2,25.2 0.5,26.2 1.0,27.2 1.0,28.2 0.5,29.2 0.9,30.2 0.8,31.2 0.6,32.2 0.7,33.2 0.9,34.2 1.0,35.2 0.6,36.2 0.8,37.3 1.0,38.3 0.7,39.3 0.9,40.3 1.0,41.3 0.9,42.3 0.9,43.3 0.9,44.3 0.8,45.3 0.7,46.3 1.0,47.3 0.0,48.3 0.5,49.3 0.4,50.3 0.2,51.4 0.8,52.4 0.7,53.4 0.8,54.4 0.4,55.4 0.7,56.4 0.5,57.4 0.6,58.4 0.7,59.4 0.7,60.4 0.6,61.4 0.5,62.4 0.7,63.4 0.7,64.4 0.2,65.5 0.4,66.5 0.7,67.5 0.6,68.5 0.8,69.5 0.5,70.5 0.6,71.5 0.3,74.5 -0.3,74.5 -0.6,71.5 -0.5,70.5 -0.8,69.5 -0.6,68.5 -0.7,67.5 -0.4,66.5 -0.2,65.5 -0.7,64.4 -0.7,63.4 -0.5,62.4 -0.6,61.4 -0.7,60.4 -0.7,59.4 -0.6,58.4 -0.5,57.4 -0.7,56.4 -0.4,55.4 -0.8,54.4 -0.7,53.4 -0.8,52.4 -0.2,51.4 -0.4,50.3 -0.5,49.3 -0.0,48.3 -1.0,47.3 -0.7,46.3 -0.8,45.3 -0.9,44.3 -0.9,43.3 -0.9,42.3 -1.0,41.3 -0.9,40.3 -0.7,39.3 -1.0,38.3 -0.8,37.3 -0.6,36.2 -1.0,35.2 -0.9,34.2 -0.7,33.2 -0.6,32.2 -0.8,31.2 -0.9,30.2 -0.5,29.2 -1.0,28.2 -1.0,27.2 -0.5,26.2 -1.2,25.2 -1.1,24.2 -1.1,23.2 -1.2,22.2 -1.2,21.1 -1.6,20.1 -1.3,19.1 -1.0,18.1 -1.4,17.1 -1.4,16.1 -1.3,15.1 -0.9,14.1 -1.7,13.1 -1.8,12.1 -1.9,11.1 -1.7,10.1 -2.7,9.1 -2.9,8.1 -1.6,7.0 -2.8,6.0 -2.0,5.0 -2.5,4.0 -3.0,3.0 -2.8,2.0 -3.9,1.0 -3.4,-2.0" fill="#3898d2" filter="url(#lblur)"/></g>
<g id="w0H3K9Ac"><rect x="-11.7" y="0" width="23.3" height="72.5" fill="#edf6eb"/><polygon points="10.0,-2.0 9.7,1.0 10.7,2.0 9.6,3.0 10.7,4.0 9.1,5.0 7.8,6.0 8.4,7.0 8.8,8.1 8.8,9.1 6.2,10.1 6.1,11.1 7.3,12.1 5.7,13.1 6.8,14.1 6.2,15.1 6.2,16.1 5.1,17.1 5.0,18.1 5.7,19.1 4.3,20.1 5.1,21.1 4.3,22.2 3.9,23.2 4.7,24.2 3.8,25.2 4.8,26.2 4.0,27.2 4.3,28.2 3.4,29.2 3.4,30.2 3.6,31.2 3.8,32.2 3.9,33.2 3.2,34.2 3.9,35.2 3.6,36.2 3.8,37.3 3.5,38.3 3.8,39.3 3.8,40.3 3.5,41.3 3.1,42.3 3.3,43.3 3.2,44.3 3.5,45.3 3.4,46.3 3.6,47.3 3.3,48.3 3.4,49.3 2.6,50.3 2.7,51.4 3.2,52.4 2.5,53.4 2.9,54.4 2.5,55.4 2.6,56.4 3.3,57.4 3.2,58.4 2.5,59.4 2.8,60.4 3.1,61.4 2.9,62.4 2.7,63.4 2.8,64.4 2.8,65.5 2.4,66.5 2.9,67.5 3.0,68.5 3.2,69.5 2.6,70.5 2.9,71.5 2.9,74.5 -2.9,74.5 -2.9,71.5 -2.6,70.5 -3.2,69.5 -3.0,68.5 -2.9,67.5 -2.4,66.5 -2.8,65.5 -2.8,64.4 -2.7,63.4 -2.9,62.4 -3.1,61.4 -2.8,60.4 -2.5,59.4 -3.2,58.4 -3.3,57.4 -2.6,56.4 -2.5,55.4 -2.9,54.4 -2.5,53.4 -3.2,52.4 -2.7,51.4 -2.6,50.3 -3.4,49.3 -3.3,48.3 -3.6,47.3 -3.4,46.3 -3.5,45.3 -3.2,44.3 -3.3,43.3 -3.1,42.3 -3.5,41.3 -3.8,40.3 -3.8,39.3 -3.5,38.3 -3.8,37.3 -3.6,36.2 -3.9,35.2 -3.2,34.2 -3.9,33.2 -3.8,32.2 -3.6,31.2 -3.4,30.2 -3.4,29.2 -4.3,28.2 -4.0,27.2 -4.8,26.2 -3.8,25.2 -4.7,24.2 -3.9,23.2 -4.3,22.2 -5.1,21.1 -4.3,20.1 -5.7,19.1 -5.0,18.1 -5.1,17.1 -6.2,16.1 -6.2,15.1 -6.8,14.1 -5.7,13.1 -7.3,12.1 -6.1,11.1 -6.2,10.1 -8.8,9.1 -8.8,8.1 -8.4,7.0 -7.8,6.0 -9.1,5.0 -10.7,4.0 -9.6,3.0 -10.7,2.0 -9.7,1.0 -10.0,-2.0" fill="#d0e9d2" filter="url(#lblur)"/><polygon points="8.1,-2.0 7.8,1.0 8.7,2.0 7.7,3.0 8.7,4.0 7.3,5.0 6.3,6.0 6.7,7.0 7.2,8.1 7.2,9.1 5.0,10.1 5.0,11.1 5.9,12.1 4.5,13.1 5.5,14.1 5.0,15.1 5.0,16.1 4.1,17.1 4.1,18.1 4.6,19.1 3.5,20.1 4.1,21.1 3.4,22.2 3.1,23.2 3.8,24.2 3.0,25.2 3.9,26.2 3.3,27.2 3.5,28.2 2.8,29.2 2.7,30.2 2.9,31.2 3.0,32.2 3.1,33.2 2.6,34.2 3.2,35.2 2.9,36.2 3.1,37.3 2.8,38.3 3.1,39.3 3.1,40.3 2.8,41.3 2.5,42.3 2.7,43.3 2.6,44.3 2.9,45.3 2.7,46.3 2.9,47.3 2.7,48.3 2.7,49.3 2.1,50.3 2.2,51.4 2.6,52.4 2.0,53.4 2.3,54.4 2.0,55.4 2.1,56.4 2.7,57.4 2.6,58.4 2.0,59.4 2.3,60.4 2.5,61.4 2.4,62.4 2.2,63.4 2.2,64.4 2.3,65.5 2.0,66.5 2.4,67.5 2.5,68.5 2.6,69.5 2.1,70.5 2.4,71.5 2.4,74.5 -2.4,74.5 -2.4,71.5 -2.1,70.5 -2.6,69.5 -2.5,68.5 -2.4,67.5 -2.0,66.5 -2.3,65.5 -2.2,64.4 -2.2,63.4 -2.4,62.4 -2.5,61.4 -2.3,60.4 -2.0,59.4 -2.6,58.4 -2.7,57.4 -2.1,56.4 -2.0,55.4 -2.3,54.4 -2.0,53.4 -2.6,52.4 -2.2,51.4 -2.1,50.3 -2.7,49.3 -2.7,48.3 -2.9,47.3 -2.7,46.3 -2.9,45.3 -2.6,44.3 -2.7,43.3 -2.5,42.3 -2.8,41.3 -3.1,40.3 -3.1,39.3 -2.8,38.3 -3.1,37.3 -2.9,36.2 -3.2,35.2 -2.6,34.2 -3.1,33.2 -3.0,32.2 -2.9,31.2 -2.7,30.2 -2.8,29.2 -3.5,28.2 -3.3,27.2 -3.9,26.2 -3.0,25.2 -3.8,24.2 -3.1,23.2 -3.4,22.2 -4.1,21.1 -3.5,20.1 -4.6,19.1 -4.1,18.1 -4.1,17.1 -5.0,16.1 -5.0,15.1 -5.5,14.1 -4.5,13.1 -5.9,12.1 -5.0,11.1 -5.0,10.1 -7.2,9.1 -7.2,8.1 -6.7,7.0 -6.3,6.0 -7.3,5.0 -8.7,4.0 -7.7,3.0 -8.7,2.0 -7.8,1.0 -8.1,-2.0" fill="#abd9b1" filter="url(#lblur)"/><polygon points="6.7,-2.0 6.4,1.0 7.3,2.0 6.2,3.0 7.3,4.0 5.9,5.0 5.2,6.0 5.5,7.0 6.0,8.1 6.0,9.1 4.2,10.1 4.2,11.1 5.0,12.1 3.7,13.1 4.6,14.1 4.1,15.1 4.1,16.1 3.4,17.1 3.4,18.1 3.7,19.1 2.9,20.1 3.3,21.1 2.7,22.2 2.6,23.2 3.2,24.2 2.4,25.2 3.2,26.2 2.7,27.2 2.9,28.2 2.3,29.2 2.2,30.2 2.4,31.2 2.5,32.2 2.6,33.2 2.2,34.2 2.7,35.2 2.4,36.2 2.6,37.3 2.4,38.3 2.5,39.3 2.6,40.3 2.2,41.3 2.1,42.3 2.2,43.3 2.1,44.3 2.4,45.3 2.2,46.3 2.4,47.3 2.3,48.3 2.2,49.3 1.7,50.3 1.8,51.4 2.1,52.4 1.6,53.4 1.9,54.4 1.7,55.4 1.7,56.4 2.2,57.4 2.2,58.4 1.6,59.4 1.9,60.4 2.1,61.4 1.9,62.4 1.8,63.4 1.8,64.4 1.9,65.5 1.6,66.5 2.0,67.5 2.0,68.5 2.1,69.5 1.7,70.5 2.0,71.5 2.0,74.5 -2.0,74.5 -2.0,71.5 -1.7,70.5 -2.1,69.5 -2.0,68.5 -2.0,67.5 -1.6,66.5 -1.9,65.5 -1.8,64.4 -1.8,63.4 -1.9,62.4 -2.1,61.4 -1.9,60.4 -1.6,59.4 -2.2,58.4 -2.2,57.4 -1.7,56.4 -1.7,55.4 -1.9,54.4 -1.6,53.4 -2.1,52.4 -1.8,51.4 -1.7,50.3 -2.2,49.3 -2.3,48.3 -2.4,47.3 -2.2,46.3 -2.4,45.3 -2.1,44.3 -2.2,43.3 -2.1,42.3 -2.2,41.3 -2.6,40.3 -2.5,39.3 -2.4,38.3 -2.6,37.3 -2.4,36.2 -2.7,35.2 -2.2,34.2 -2.6,33.2 -2.5,32.2 -2.4,31.2 -2.2,30.2 -2.3,29.2 -2.9,28.2 -2.7,27.2 -3.2,26.2 -2.4,25.2 -3.2,24.2 -2.6,23.2 -2.7,22.2 -3.3,21.1 -2.9,20.1 -3.7,19.1 -3.4,18.1 -3.4,17.1 -4.1,16.1 -4.1,15.1 -4.6,14.1 -3.7,13.1 -5.0,12.1 -4.2,11.1 -4.2,10.1 -6.0,9.1 -6.0,8.1 -5.5,7.0 -5.2,6.0 -5.9,5.0 -7.3,4.0 -6.2,3.0 -7.3,2.0 -6.4,1.0 -6.7,-2.0" fill="#86c890" filter="url(#lblur)"/><polygon points="5.4,-2.0 5.0,1.0 6.0,2.0 4.8,3.0 6.0,4.0 4.4,5.0 4.1,6.0 4.2,7.0 4.9,8.1 4.9,9.1 3.3,10.1 3.4,11.1 4.0,12.1 2.8,13.1 3.7,14.1 3.3,15.1 3.2,16.1 2.6,17.1 2.7,18.1 2.8,19.1 2.3,20.1 2.5,21.1 2.1,22.2 2.1,23.2 2.6,24.2 1.9,25.2 2.6,26.2 2.2,27.2 2.3,28.2 1.9,29.2 1.7,30.2 1.9,31.2 1.9,32.2 2.0,33.2 1.8,34.2 2.2,35.2 1.8,36.2 2.1,37.3 1.9,38.3 2.0,39.3 2.1,40.3 1.6,41.3 1.6,42.3 1.8,43.3 1.6,44.3 1.9,45.3 1.7,46.3 1.9,47.3 1.8,48.3 1.7,49.3 1.3,50.3 1.4,51.4 1.7,52.4 1.2,53.4 1.5,54.4 1.3,55.4 1.2,56.4 1.7,57.4 1.7,58.4 1.2,59.4 1.5,60.4 1.7,61.4 1.5,62.4 1.4,63.4 1.4,64.4 1.5,65.5 1.3,66.5 1.6,67.5 1.6,68.5 1.6,69.5 1.2,70.5 1.5,71.5 1.6,74.5 -1.6,74.5 -1.5,71.5 -1.2,70.5 -1.6,69.5 -1.6,68.5 -1.6,67.5 -1.3,66.5 -1.5,65.5 -1.4,64.4 -1.4,63.4 -1.5,62.4 -1.7,61.4 -1.5,60.4 -1.2,59.4 -1.7,58.4 -1.7,57.4 -1.2,56.4 -1.3,55.4 -1.5,54.4 -1.2,53.4 -1.7,52.4 -1.4,51.4 -1.3,50.3 -1.7,49.3 -1.8,48.3 -1.9,47.3 -1.7,46.3 -1.9,45.3 -1.6,44.3 -1.8,43.3 -1.6,42.3 -1.6,41.3 -2.1,40.3 -2.0,39.3 -1.9,38.3 -2.1,37.3 -1.8,36.2 -2.2,35.2 -1.8,34.2 -2.0,33.2 -1.9,32.2 -1.9,31.2 -1.7,30.2 -1.9,29.2 -2.3,28.2 -2.2,27.2 -2.6,26.2 -1.9,25.2 -2.6,24.2 -2.1,23.2 -2.1,22.2 -2.5,21.1 -2.3,20.1 -2.8,19.1 -2.7,18.1 -2.6,17.1 -3.2,16.1 -3.3,15.1 -3.7,14.1 -2.8,13.1 -4.0,12.1 -3.4,11.1 -3.3,10.1 -4.9,9.1 -4.9,8.1 -4.2,7.0 -4.1,6.0 -4.4,5.0 -6.0,4.0 -4.8,3.0 -6.0,2.0 -5.0,1.0 -5.4,-2.0" fill="#59b272" filter="url(#lblur)"/><polygon points="3.8,-2.0 3.2,1.0 4.6,2.0 2.7,3.0 4.5,4.0 2.3,5.0 2.8,6.0 2.6,7.0 3.7,8.1 3.7,9.1 2.4,10.1 2.6,11.1 3.0,12.1 1.4,13.1 2.6,14.1 2.2,15.1 2.1,16.1 1.7,17.1 1.9,18.1 1.4,19.1 1.6,20.1 1.5,21.1 1.1,22.2 1.4,23.2 1.8,24.2 1.0,25.2 1.8,26.2 1.6,27.2 1.6,28.2 1.4,29.2 0.8,30.2 1.3,31.2 1.1,32.2 1.4,33.2 1.3,34.2 1.7,35.2 1.1,36.2 1.6,37.3 1.5,38.3 1.3,39.3 1.6,40.3 0.7,41.3 1.2,42.3 1.3,43.3 0.9,44.3 1.3,45.3 1.0,46.3 1.3,47.3 1.3,48.3 1.1,49.3 0.9,50.3 1.0,51.4 1.0,52.4 0.5,53.4 1.0,54.4 0.9,55.4 0.6,56.4 1.2,57.4 1.1,58.4 0.7,59.4 1.0,60.4 1.2,61.4 0.8,62.4 0.9,63.4 0.8,64.4 1.0,65.5 1.0,66.5 1.2,67.5 1.2,68.5 1.0,69.5 0.4,70.5 1.1,71.5 1.2,74.5 -1.2,74.5 -1.1,71.5 -0.4,70.5 -1.0,69.5 -1.2,68.5 -1.2,67.5 -1.0,66.5 -1.0,65.5 -0.8,64.4 -0.9,63.4 -0.8,62.4 -1.2,61.4 -1.0,60.4 -0.7,59.4 -1.1,58.4 -1.2,57.4 -0.6,56.4 -0.9,55.4 -1.0,54.4 -0.5,53.4 -1.0,52.4 -1.0,51.4 -0.9,50.3 -1.1,49.3 -1.3,48.3 -1.3,47.3 -1.0,46.3 -1.3,45.3 -0.9,44.3 -1.3,43.3 -1.2,42.3 -0.7,41.3 -1.6,40.3 -1.3,39.3 -1.5,38.3 -1.6,37.3 -1.1,36.2 -1.7,35.2 -1.3,34.2 -1.4,33.2 -1.1,32.2 -1.3,31.2 -0.8,30.2 -1.4,29.2 -1.6,28.2 -1.6,27.2 -1.8,26.2 -1.0,25.2 -1.8,24.2 -1.4,23.2 -1.1,22.2 -1.5,21.1 -1.6,20.1 -1.4,19.1 -1.9,18.1 -1.7,17.1 -2.1,16.1 -2.2,15.1 -2.6,14.1 -1.4,13.1 -3.0,12.1 -2.6,11.1 -2.4,10.1 -3.7,9.1 -3.7,8.1 -2.6,7.0 -2.8,6.0 -2.3,5.0 -4.5,4.0 -2.7,3.0 -4.6,2.0 -3.2,1.0 -3.8,-2.0" fill="#2d9b55" filter="url(#lblur)"/></g>
<g id="w0H3K27Ac"><rect x="-11.7" y="0" width="23.3" height="72.5" fill="#f4f3fa"/><polygon points="8.8,-2.0 10.1,1.0 8.4,2.0 7.9,3.0 7.6,4.0 6.9,5.0 6.9,6.0 7.1,7.0 5.6,8.1 6.1,9.1 5.9,10.1 5.6,11.1 4.0,12.1 4.6,13.1 4.6,14.1 4.2,15.1 3.5,16.1 3.7,17.1 3.2,18.1 3.2,19.1 3.0,20.1 2.7,21.1 3.2,22.2 2.6,23.2 2.8,24.2 2.9,25.2 2.5,26.2 2.9,27.2 2.6,28.2 2.3,29.2 2.5,30.2 2.2,31.2 2.0,32.2 1.8,33.2 2.1,34.2 2.1,35.2 1.8,36.2 1.8,37.3 1.8,38.3 1.7,39.3 1.7,40.3 2.0,41.3 1.7,42.3 1.8,43.3 1.8,44.3 1.6,45.3 1.8,46.3 1.6,47.3 1.5,48.3 1.8,49.3 1.8,50.3 1.4,51.4 1.6,52.4 1.6,53.4 1.4,54.4 1.9,55.4 1.7,56.4 1.9,57.4 1.9,58.4 1.8,59.4 1.5,60.4 1.7,61.4 1.6,62.4 1.4,63.4 1.4,64.4 1.8,65.5 1.4,66.5 1.4,67.5 1.6,68.5 1.6,69.5 1.6,70.5 1.7,71.5 1.6,74.5 -1.6,74.5 -1.7,71.5 -1.6,70.5 -1.6,69.5 -1.6,68.5 -1.4,67.5 -1.4,66.5 -1.8,65.5 -1.4,64.4 -1.4,63.4 -1.6,62.4 -1.7,61.4 -1.5,60.4 -1.8,59.4 -1.9,58.4 -1.9,57.4 -1.7,56.4 -1.9,55.4 -1.4,54.4 -1.6,53.4 -1.6,52.4 -1.4,51.4 -1.8,50.3 -1.8,49.3 -1.5,48.3 -1.6,47.3 -1.8,46.3 -1.6,45.3 -1.8,44.3 -1.8,43.3 -1.7,42.3 -2.0,41.3 -1.7,40.3 -1.7,39.3 -1.8,38.3 -1.8,37.3 -1.8,36.2 -2.1,35.2 -2.1,34.2 -1.8,33.2 -2.0,32.2 -2.2,31.2 -2.5,30.2 -2.3,29.2 -2.6,28.2 -2.9,27.2 -2.5,26.2 -2.9,25.2 -2.8,24.2 -2.6,23.2 -3.2,22.2 -2.7,21.1 -3.0,20.1 -3.2,19.1 -3.2,18.1 -3.7,17.1 -3.5,16.1 -4.2,15.1 -4.6,14.1 -4.6,13.1 -4.0,12.1 -5.6,11.1 -5.9,10.1 -6.1,9.1 -5.6,8.1 -7.1,7.0 -6.9,6.0 -6.9,5.0 -7.6,4.0 -7.9,3.0 -8.4,2.0 -10.1,1.0 -8.8,-2.0" fill="#e4e2f3" filter="url(#lblur)"/><polygon points="7.0,-2.0 8.1,1.0 6.6,2.0 6.3,3.0 6.0,4.0 5.5,5.0 5.5,6.0 5.7,7.0 4.4,8.1 4.9,9.1 4.6,10.1 4.5,11.1 3.2,12.1 3.6,13.1 3.6,14.1 3.3,15.1 2.7,16.1 2.9,17.1 2.5,18.1 2.5,19.1 2.4,20.1 2.1,21.1 2.5,22.2 2.0,23.2 2.2,24.2 2.3,25.2 2.0,26.2 2.2,27.2 2.0,28.2 1.8,29.2 2.0,30.2 1.7,31.2 1.6,32.2 1.4,33.2 1.6,34.2 1.7,35.2 1.4,36.2 1.4,37.3 1.4,38.3 1.3,39.3 1.3,40.3 1.6,41.3 1.3,42.3 1.4,43.3 1.4,44.3 1.3,45.3 1.3,46.3 1.3,47.3 1.1,48.3 1.4,49.3 1.4,50.3 1.1,51.4 1.3,52.4 1.3,53.4 1.1,54.4 1.5,55.4 1.3,56.4 1.4,57.4 1.5,58.4 1.4,59.4 1.1,60.4 1.3,61.4 1.2,62.4 1.0,63.4 1.1,64.4 1.4,65.5 1.1,66.5 1.1,67.5 1.2,68.5 1.2,69.5 1.2,70.5 1.3,71.5 1.2,74.5 -1.2,74.5 -1.3,71.5 -1.2,70.5 -1.2,69.5 -1.2,68.5 -1.1,67.5 -1.1,66.5 -1.4,65.5 -1.1,64.4 -1.0,63.4 -1.2,62.4 -1.3,61.4 -1.1,60.4 -1.4,59.4 -1.5,58.4 -1.4,57.4 -1.3,56.4 -1.5,55.4 -1.1,54.4 -1.3,53.4 -1.3,52.4 -1.1,51.4 -1.4,50.3 -1.4,49.3 -1.1,48.3 -1.3,47.3 -1.3,46.3 -1.3,45.3 -1.4,44.3 -1.4,43.3 -1.3,42.3 -1.6,41.3 -1.3,40.3 -1.3,39.3 -1.4,38.3 -1.4,37.3 -1.4,36.2 -1.7,35.2 -1.6,34.2 -1.4,33.2 -1.6,32.2 -1.7,31.2 -2.0,30.2 -1.8,29.2 -2.0,28.2 -2.2,27.2 -2.0,26.2 -2.3,25.2 -2.2,24.2 -2.0,23.2 -2.5,22.2 -2.1,21.1 -2.4,20.1 -2.5,19.1 -2.5,18.1 -2.9,17.1 -2.7,16.1 -3.3,15.1 -3.6,14.1 -3.6,13.1 -3.2,12.1 -4.5,11.1 -4.6,10.1 -4.9,9.1 -4.4,8.1 -5.7,7.0 -5.5,6.0 -5.5,5.0 -6.0,4.0 -6.3,3.0 -6.6,2.0 -8.1,1.0 -7.0,-2.0" fill="#d0cce9" filter="url(#lblur)"/><polygon points="5.5,-2.0 6.6,1.0 5.1,2.0 5.1,3.0 4.8,4.0 4.4,5.0 4.5,6.0 4.6,7.0 3.4,8.1 4.0,9.1 3.6,10.1 3.6,11.1 2.5,12.1 2.7,13.1 2.8,14.1 2.6,15.1 2.1,16.1 2.3,17.1 2.0,18.1 2.0,19.1 1.8,20.1 1.6,21.1 1.9,22.2 1.6,23.2 1.6,24.2 1.8,25.2 1.6,26.2 1.7,27.2 1.6,28.2 1.3,29.2 1.6,30.2 1.4,31.2 1.3,32.2 1.1,33.2 1.2,34.2 1.3,35.2 1.1,36.2 1.1,37.3 1.1,38.3 1.0,39.3 1.0,40.3 1.2,41.3 0.9,42.3 1.0,43.3 1.1,44.3 1.0,45.3 1.0,46.3 1.0,47.3 0.8,48.3 1.1,49.3 1.0,50.3 0.8,51.4 1.0,52.4 1.0,53.4 0.8,54.4 1.1,55.4 0.9,56.4 1.0,57.4 1.1,58.4 1.0,59.4 0.8,60.4 1.0,61.4 0.9,62.4 0.7,63.4 0.8,64.4 1.0,65.5 0.8,66.5 0.8,67.5 0.8,68.5 0.9,69.5 0.9,70.5 0.9,71.5 0.9,74.5 -0.9,74.5 -0.9,71.5 -0.9,70.5 -0.9,69.5 -0.8,68.5 -0.8,67.5 -0.8,66.5 -1.0,65.5 -0.8,64.4 -0.7,63.4 -0.9,62.4 -1.0,61.4 -0.8,60.4 -1.0,59.4 -1.1,58.4 -1.0,57.4 -0.9,56.4 -1.1,55.4 -0.8,54.4 -1.0,53.4 -1.0,52.4 -0.8,51.4 -1.0,50.3 -1.1,49.3 -0.8,48.3 -1.0,47.3 -1.0,46.3 -1.0,45.3 -1.1,44.3 -1.0,43.3 -0.9,42.3 -1.2,41.3 -1.0,40.3 -1.0,39.3 -1.1,38.3 -1.1,37.3 -1.1,36.2 -1.3,35.2 -1.2,34.2 -1.1,33.2 -1.3,32.2 -1.4,31.2 -1.6,30.2 -1.3,29.2 -1.6,28.2 -1.7,27.2 -1.6,26.2 -1.8,25.2 -1.6,24.2 -1.6,23.2 -1.9,22.2 -1.6,21.1 -1.8,20.1 -2.0,19.1 -2.0,18.1 -2.3,17.1 -2.1,16.1 -2.6,15.1 -2.8,14.1 -2.7,13.1 -2.5,12.1 -3.6,11.1 -3.6,10.1 -4.0,9.1 -3.4,8.1 -4.6,7.0 -4.5,6.0 -4.4,5.0 -4.8,4.0 -5.1,3.0 -5.1,2.0 -6.6,1.0 -5.5,-2.0" fill="#bcb6e0" filter="url(#lblur)"/><polygon points="3.8,-2.0 5.1,1.0 3.4,2.0 3.9,3.0 3.5,4.0 3.3,5.0 3.3,6.0 3.4,7.0 2.4,8.1 3.0,9.1 2.4,10.1 2.8,11.1 1.7,12.1 1.8,13.1 1.9,14.1 1.7,15.1 1.4,16.1 1.7,17.1 1.5,18.1 1.5,19.1 1.1,20.1 0.9,21.1 1.3,22.2 1.2,23.2 0.9,24.2 1.2,25.2 1.1,26.2 1.1,27.2 1.1,28.2 0.9,29.2 1.1,30.2 0.9,31.2 0.9,32.2 0.8,33.2 0.7,34.2 0.9,35.2 0.7,36.2 0.8,37.3 0.6,38.3 0.4,39.3 0.5,40.3 0.9,41.3 0.4,42.3 0.5,43.3 0.7,44.3 0.7,45.3 0.4,46.3 0.6,47.3 0.4,48.3 0.7,49.3 0.7,50.3 0.4,51.4 0.7,52.4 0.6,53.4 0.5,54.4 0.7,55.4 0.3,56.4 0.0,57.4 0.7,58.4 0.6,59.4 0.3,60.4 0.6,61.4 0.6,62.4 0.2,63.4 0.3,64.4 0.6,65.5 0.2,66.5 0.4,67.5 0.0,68.5 0.5,69.5 0.5,70.5 0.3,71.5 0.1,74.5 -0.1,74.5 -0.3,71.5 -0.5,70.5 -0.5,69.5 -0.0,68.5 -0.4,67.5 -0.2,66.5 -0.6,65.5 -0.3,64.4 -0.2,63.4 -0.6,62.4 -0.6,61.4 -0.3,60.4 -0.6,59.4 -0.7,58.4 -0.0,57.4 -0.3,56.4 -0.7,55.4 -0.5,54.4 -0.6,53.4 -0.7,52.4 -0.4,51.4 -0.7,50.3 -0.7,49.3 -0.4,48.3 -0.6,47.3 -0.4,46.3 -0.7,45.3 -0.7,44.3 -0.5,43.3 -0.4,42.3 -0.9,41.3 -0.5,40.3 -0.4,39.3 -0.6,38.3 -0.8,37.3 -0.7,36.2 -0.9,35.2 -0.7,34.2 -0.8,33.2 -0.9,32.2 -0.9,31.2 -1.1,30.2 -0.9,29.2 -1.1,28.2 -1.1,27.2 -1.1,26.2 -1.2,25.2 -0.9,24.2 -1.2,23.2 -1.3,22.2 -0.9,21.1 -1.1,20.1 -1.5,19.1 -1.5,18.1 -1.7,17.1 -1.4,16.1 -1.7,15.1 -1.9,14.1 -1.8,13.1 -1.7,12.1 -2.8,11.1 -2.4,10.1 -3.0,9.1 -2.4,8.1 -3.4,7.0 -3.3,6.0 -3.3,5.0 -3.5,4.0 -3.9,3.0 -3.4,2.0 -5.1,1.0 -3.8,-2.0" fill="#9c93cd" filter="url(#lblur)"/><polygon points="0.0,-2.0 3.0,1.0 0.0,2.0 2.3,3.0 0.7,4.0 1.5,5.0 1.6,6.0 1.8,7.0 0.0,8.1 1.6,9.1 0.0,10.1 1.6,11.1 0.0,12.1 0.0,13.1 0.0,14.1 0.0,15.1 0.0,16.1 0.6,17.1 0.4,18.1 0.0,19.1 0.0,20.1 0.0,21.1 0.0,22.2 0.5,23.2 0.0,24.2 0.0,25.2 0.0,26.2 0.0,27.2 0.0,28.2 0.0,29.2 0.0,30.2 0.0,31.2 0.0,32.2 0.0,33.2 0.0,34.2 0.0,35.2 0.0,36.2 0.0,37.3 0.0,38.3 0.0,39.3 0.0,40.3 0.0,41.3 0.0,42.3 0.0,43.3 0.0,44.3 0.0,45.3 0.0,46.3 0.0,47.3 0.0,48.3 0.0,49.3 0.0,50.3 0.0,51.4 0.0,52.4 0.0,53.4 0.0,54.4 0.0,55.4 0.0,56.4 0.0,57.4 0.0,58.4 0.0,59.4 0.0,60.4 0.0,61.4 0.0,62.4 0.0,63.4 0.0,64.4 0.0,65.5 0.0,66.5 0.0,67.5 0.0,68.5 0.0,69.5 0.0,70.5 0.0,71.5 0.0,74.5 -0.0,74.5 -0.0,71.5 -0.0,70.5 -0.0,69.5 -0.0,68.5 -0.0,67.5 -0.0,66.5 -0.0,65.5 -0.0,64.4 -0.0,63.4 -0.0,62.4 -0.0,61.4 -0.0,60.4 -0.0,59.4 -0.0,58.4 -0.0,57.4 -0.0,56.4 -0.0,55.4 -0.0,54.4 -0.0,53.4 -0.0,52.4 -0.0,51.4 -0.0,50.3 -0.0,49.3 -0.0,48.3 -0.0,47.3 -0.0,46.3 -0.0,45.3 -0.0,44.3 -0.0,43.3 -0.0,42.3 -0.0,41.3 -0.0,40.3 -0.0,39.3 -0.0,38.3 -0.0,37.3 -0.0,36.2 -0.0,35.2 -0.0,34.2 -0.0,33.2 -0.0,32.2 -0.0,31.2 -0.0,30.2 -0.0,29.2 -0.0,28.2 -0.0,27.2 -0.0,26.2 -0.0,25.2 -0.0,24.2 -0.5,23.2 -0.0,22.2 -0.0,21.1 -0.0,20.1 -0.0,19.1 -0.4,18.1 -0.6,17.1 -0.0,16.1 -0.0,15.1 -0.0,14.1 -0.0,13.1 -0.0,12.1 -1.6,11.1 -0.0,10.1 -1.6,9.1 -0.0,8.1 -1.8,7.0 -1.6,6.0 -1.5,5.0 -0.7,4.0 -2.3,3.0 -0.0,2.0 -3.0,1.0 -0.0,-2.0" fill="#7d6fb9" filter="url(#lblur)"/></g>
<g id="w0Pol2"><rect x="-11.7" y="0" width="23.3" height="72.5" fill="#f6f4cc"/><polygon points="10.7,-2.0 10.4,1.0 9.6,2.0 9.6,3.0 7.9,4.0 9.9,5.0 8.8,6.0 8.4,7.0 8.2,8.1 6.9,9.1 7.2,10.1 7.0,11.1 6.0,12.1 6.6,13.1 6.1,14.1 5.9,15.1 5.9,16.1 5.8,17.1 4.8,18.1 4.2,19.1 4.7,20.1 4.1,21.1 4.4,22.2 4.5,23.2 4.5,24.2 4.4,25.2 4.0,26.2 4.2,27.2 3.5,28.2 3.2,29.2 3.2,30.2 2.7,31.2 3.2,32.2 2.7,33.2 2.7,34.2 2.9,35.2 3.2,36.2 2.9,37.3 2.5,38.3 3.1,39.3 3.2,40.3 2.9,41.3 3.0,42.3 2.4,43.3 3.1,44.3 2.8,45.3 2.5,46.3 2.2,47.3 2.3,48.3 2.3,49.3 2.8,50.3 2.6,51.4 2.9,52.4 2.6,53.4 2.7,54.4 2.8,55.4 2.3,56.4 2.4,57.4 2.8,58.4 2.6,59.4 2.3,60.4 2.4,61.4 2.8,62.4 2.8,63.4 2.4,64.4 2.6,65.5 2.5,66.5 2.7,67.5 2.1,68.5 2.4,69.5 2.1,70.5 2.1,71.5 2.5,74.5 -2.5,74.5 -2.1,71.5 -2.1,70.5 -2.4,69.5 -2.1,68.5 -2.7,67.5 -2.5,66.5 -2.6,65.5 -2.4,64.4 -2.8,63.4 -2.8,62.4 -2.4,61.4 -2.3,60.4 -2.6,59.4 -2.8,58.4 -2.4,57.4 -2.3,56.4 -2.8,55.4 -2.7,54.4 -2.6,53.4 -2.9,52.4 -2.6,51.4 -2.8,50.3 -2.3,49.3 -2.3,48.3 -2.2,47.3 -2.5,46.3 -2.8,45.3 -3.1,44.3 -2.4,43.3 -3.0,42.3 -2.9,41.3 -3.2,40.3 -3.1,39.3 -2.5,38.3 -2.9,37.3 -3.2,36.2 -2.9,35.2 -2.7,34.2 -2.7,33.2 -3.2,32.2 -2.7,31.2 -3.2,30.2 -3.2,29.2 -3.5,28.2 -4.2,27.2 -4.0,26.2 -4.4,25.2 -4.5,24.2 -4.5,23.2 -4.4,22.2 -4.1,21.1 -4.7,20.1 -4.2,19.1 -4.8,18.1 -5.8,17.1 -5.9,16.1 -5.9,15.1 -6.1,14.1 -6.6,13.1 -6.0,12.1 -7.0,11.1 -7.2,10.1 -6.9,9.1 -8.2,8.1 -8.4,7.0 -8.8,6.0 -9.9,5.0 -7.9,4.0 -9.6,3.0 -9.6,2.0 -10.4,1.0 -10.7,-2.0" fill="#e4ebb6" filter="url(#lblur)"/><polygon points="8.7,-2.0 8.4,1.0 7.9,2.0 7.7,3.0 6.4,4.0 8.0,5.0 7.1,6.0 6.8,7.0 6.7,8.1 5.6,9.1 5.9,10.1 5.7,11.1 4.9,12.1 5.3,13.1 5.0,14.1 4.8,15.1 4.7,16.1 4.7,17.1 3.9,18.1 3.4,19.1 3.8,20.1 3.3,21.1 3.6,22.2 3.7,23.2 3.7,24.2 3.6,25.2 3.2,26.2 3.4,27.2 2.8,28.2 2.5,29.2 2.6,30.2 2.2,31.2 2.6,32.2 2.2,33.2 2.2,34.2 2.3,35.2 2.6,36.2 2.3,37.3 2.0,38.3 2.5,39.3 2.6,40.3 2.3,41.3 2.4,42.3 1.9,43.3 2.5,44.3 2.3,45.3 2.0,46.3 1.8,47.3 1.9,48.3 1.8,49.3 2.2,50.3 2.1,51.4 2.3,52.4 2.1,53.4 2.1,54.4 2.2,55.4 1.8,56.4 2.0,57.4 2.2,58.4 2.1,59.4 1.8,60.4 2.0,61.4 2.2,62.4 2.3,63.4 1.9,64.4 2.1,65.5 2.1,66.5 2.2,67.5 1.7,68.5 2.0,69.5 1.7,70.5 1.7,71.5 2.0,74.5 -2.0,74.5 -1.7,71.5 -1.7,70.5 -2.0,69.5 -1.7,68.5 -2.2,67.5 -2.1,66.5 -2.1,65.5 -1.9,64.4 -2.3,63.4 -2.2,62.4 -2.0,61.4 -1.8,60.4 -2.1,59.4 -2.2,58.4 -2.0,57.4 -1.8,56.4 -2.2,55.4 -2.1,54.4 -2.1,53.4 -2.3,52.4 -2.1,51.4 -2.2,50.3 -1.8,49.3 -1.9,48.3 -1.8,47.3 -2.0,46.3 -2.3,45.3 -2.5,44.3 -1.9,43.3 -2.4,42.3 -2.3,41.3 -2.6,40.3 -2.5,39.3 -2.0,38.3 -2.3,37.3 -2.6,36.2 -2.3,35.2 -2.2,34.2 -2.2,33.2 -2.6,32.2 -2.2,31.2 -2.6,30.2 -2.5,29.2 -2.8,28.2 -3.4,27.2 -3.2,26.2 -3.6,25.2 -3.7,24.2 -3.7,23.2 -3.6,22.2 -3.3,21.1 -3.8,20.1 -3.4,19.1 -3.9,18.1 -4.7,17.1 -4.7,16.1 -4.8,15.1 -5.0,14.1 -5.3,13.1 -4.9,12.1 -5.7,11.1 -5.9,10.1 -5.6,9.1 -6.7,8.1 -6.8,7.0 -7.1,6.0 -8.0,5.0 -6.4,4.0 -7.7,3.0 -7.9,2.0 -8.4,1.0 -8.7,-2.0" fill="#cce09a" filter="url(#lblur)"/><polygon points="7.2,-2.0 6.9,1.0 6.6,2.0 6.3,3.0 5.2,4.0 6.6,5.0 5.8,6.0 5.6,7.0 5.5,8.1 4.5,9.1 4.9,10.1 4.7,11.1 4.1,12.1 4.3,13.1 4.2,14.1 4.1,15.1 3.8,16.1 3.8,17.1 3.3,18.1 2.8,19.1 3.1,20.1 2.8,21.1 3.0,22.2 3.1,23.2 3.1,24.2 3.0,25.2 2.7,26.2 2.8,27.2 2.4,28.2 2.1,29.2 2.1,30.2 1.8,31.2 2.2,32.2 1.8,33.2 1.8,34.2 1.9,35.2 2.1,36.2 1.9,37.3 1.7,38.3 2.1,39.3 2.1,40.3 1.9,41.3 2.0,42.3 1.6,43.3 2.0,44.3 1.9,45.3 1.7,46.3 1.4,47.3 1.5,48.3 1.5,49.3 1.8,50.3 1.7,51.4 1.9,52.4 1.7,53.4 1.7,54.4 1.8,55.4 1.5,56.4 1.6,57.4 1.9,58.4 1.7,59.4 1.5,60.4 1.6,61.4 1.7,62.4 1.9,63.4 1.6,64.4 1.7,65.5 1.7,66.5 1.8,67.5 1.4,68.5 1.6,69.5 1.4,70.5 1.4,71.5 1.6,74.5 -1.6,74.5 -1.4,71.5 -1.4,70.5 -1.6,69.5 -1.4,68.5 -1.8,67.5 -1.7,66.5 -1.7,65.5 -1.6,64.4 -1.9,63.4 -1.7,62.4 -1.6,61.4 -1.5,60.4 -1.7,59.4 -1.9,58.4 -1.6,57.4 -1.5,56.4 -1.8,55.4 -1.7,54.4 -1.7,53.4 -1.9,52.4 -1.7,51.4 -1.8,50.3 -1.5,49.3 -1.5,48.3 -1.4,47.3 -1.7,46.3 -1.9,45.3 -2.0,44.3 -1.6,43.3 -2.0,42.3 -1.9,41.3 -2.1,40.3 -2.1,39.3 -1.7,38.3 -1.9,37.3 -2.1,36.2 -1.9,35.2 -1.8,34.2 -1.8,33.2 -2.2,32.2 -1.8,31.2 -2.1,30.2 -2.1,29.2 -2.4,28.2 -2.8,27.2 -2.7,26.2 -3.0,25.2 -3.1,24.2 -3.1,23.2 -3.0,22.2 -2.8,21.1 -3.1,20.1 -2.8,19.1 -3.3,18.1 -3.8,17.1 -3.8,16.1 -4.1,15.1 -4.2,14.1 -4.3,13.1 -4.1,12.1 -4.7,11.1 -4.9,10.1 -4.5,9.1 -5.5,8.1 -5.6,7.0 -5.8,6.0 -6.6,5.0 -5.2,4.0 -6.3,3.0 -6.6,2.0 -6.9,1.0 -7.2,-2.0" fill="#b4d47e" filter="url(#lblur)"/><polygon points="5.7,-2.0 5.4,1.0 5.4,2.0 4.9,3.0 4.0,4.0 5.1,5.0 4.5,6.0 4.4,7.0 4.4,8.1 3.5,9.1 4.0,10.1 3.7,11.1 3.4,12.1 3.3,13.1 3.4,14.1 3.3,15.1 3.0,16.1 3.0,17.1 2.7,18.1 2.2,19.1 2.4,20.1 2.3,21.1 2.4,22.2 2.5,23.2 2.5,24.2 2.3,25.2 2.1,26.2 2.3,27.2 1.9,28.2 1.6,29.2 1.6,30.2 1.3,31.2 1.8,32.2 1.5,33.2 1.4,34.2 1.5,35.2 1.6,36.2 1.6,37.3 1.3,38.3 1.7,39.3 1.6,40.3 1.5,41.3 1.6,42.3 1.2,43.3 1.5,44.3 1.5,45.3 1.4,46.3 1.1,47.3 1.2,48.3 1.1,49.3 1.3,50.3 1.4,51.4 1.6,52.4 1.2,53.4 1.3,54.4 1.4,55.4 1.1,56.4 1.3,57.4 1.5,58.4 1.3,59.4 1.1,60.4 1.3,61.4 1.3,62.4 1.5,63.4 1.3,64.4 1.2,65.5 1.4,66.5 1.5,67.5 1.1,68.5 1.3,69.5 1.1,70.5 1.1,71.5 1.1,74.5 -1.1,74.5 -1.1,71.5 -1.1,70.5 -1.3,69.5 -1.1,68.5 -1.5,67.5 -1.4,66.5 -1.2,65.5 -1.3,64.4 -1.5,63.4 -1.3,62.4 -1.3,61.4 -1.1,60.4 -1.3,59.4 -1.5,58.4 -1.3,57.4 -1.1,56.4 -1.4,55.4 -1.3,54.4 -1.2,53.4 -1.6,52.4 -1.4,51.4 -1.3,50.3 -1.1,49.3 -1.2,48.3 -1.1,47.3 -1.4,46.3 -1.5,45.3 -1.5,44.3 -1.2,43.3 -1.6,42.3 -1.5,41.3 -1.6,40.3 -1.7,39.3 -1.3,38.3 -1.6,37.3 -1.6,36.2 -1.5,35.2 -1.4,34.2 -1.5,33.2 -1.8,32.2 -1.3,31.2 -1.6,30.2 -1.6,29.2 -1.9,28.2 -2.3,27.2 -2.1,26.2 -2.3,25.2 -2.5,24.2 -2.5,23.2 -2.4,22.2 -2.3,21.1 -2.4,20.1 -2.2,19.1 -2.7,18.1 -3.0,17.1 -3.0,16.1 -3.3,15.1 -3.4,14.1 -3.3,13.1 -3.4,12.1 -3.7,11.1 -4.0,10.1 -3.5,9.1 -4.4,8.1 -4.4,7.0 -4.5,6.0 -5.1,5.0 -4.0,4.0 -4.9,3.0 -5.4,2.0 -5.4,1.0 -5.7,-2.0" fill="#79b966" filter="url(#lblur)"/><polygon points="4.0,-2.0 3.5,1.0 4.2,2.0 2.9,3.0 2.4,4.0 3.3,5.0 2.7,6.0 3.0,7.0 3.1,8.1 2.2,9.1 3.0,10.1 2.5,11.1 2.6,12.1 1.8,13.1 2.5,14.1 2.5,15.1 1.8,16.1 1.9,17.1 2.1,18.1 1.4,19.1 1.4,20.1 1.7,21.1 1.8,22.2 1.9,23.2 1.9,24.2 1.6,25.2 1.4,26.2 1.6,27.2 1.3,28.2 0.8,29.2 0.8,30.2 0.6,31.2 1.3,32.2 1.0,33.2 1.0,34.2 1.0,35.2 1.1,36.2 1.1,37.3 0.8,38.3 1.2,39.3 0.9,40.3 0.9,41.3 1.2,42.3 0.7,43.3 0.9,44.3 1.1,45.3 1.0,46.3 0.7,47.3 0.7,48.3 0.4,49.3 0.7,50.3 0.9,51.4 1.1,52.4 0.6,53.4 0.5,54.4 0.8,55.4 0.6,56.4 0.9,57.4 1.0,58.4 0.7,59.4 0.6,60.4 1.0,61.4 0.5,62.4 1.1,63.4 0.9,64.4 0.6,65.5 1.0,66.5 1.1,67.5 0.8,68.5 1.0,69.5 0.7,70.5 0.8,71.5 0.1,74.5 -0.1,74.5 -0.8,71.5 -0.7,70.5 -1.0,69.5 -0.8,68.5 -1.1,67.5 -1.0,66.5 -0.6,65.5 -0.9,64.4 -1.1,63.4 -0.5,62.4 -1.0,61.4 -0.6,60.4 -0.7,59.4 -1.0,58.4 -0.9,57.4 -0.6,56.4 -0.8,55.4 -0.5,54.4 -0.6,53.4 -1.1,52.4 -0.9,51.4 -0.7,50.3 -0.4,49.3 -0.7,48.3 -0.7,47.3 -1.0,46.3 -1.1,45.3 -0.9,44.3 -0.7,43.3 -1.2,42.3 -0.9,41.3 -0.9,40.3 -1.2,39.3 -0.8,38.3 -1.1,37.3 -1.1,36.2 -1.0,35.2 -1.0,34.2 -1.0,33.2 -1.3,32.2 -0.6,31.2 -0.8,30.2 -0.8,29.2 -1.3,28.2 -1.6,27.2 -1.4,26.2 -1.6,25.2 -1.9,24.2 -1.9,23.2 -1.8,22.2 -1.7,21.1 -1.4,20.1 -1.4,19.1 -2.1,18.1 -1.9,17.1 -1.8,16.1 -2.5,15.1 -2.5,14.1 -1.8,13.1 -2.6,12.1 -2.5,11.1 -3.0,10.1 -2.2,9.1 -3.1,8.1 -3.0,7.0 -2.7,6.0 -3.3,5.0 -2.4,4.0 -2.9,3.0 -4.2,2.0 -3.5,1.0 -4.0,-2.0" fill="#3d9f4d" filter="url(#lblur)"/></g>
<g id="w0ATAC"><rect x="-11.7" y="0" width="23.3" height="72.5" fill="#fdf1c4"/><polygon points="10.2,-2.0 10.8,1.0 8.4,2.0 10.3,3.0 8.6,4.0 8.2,5.0 7.4,6.0 6.3,7.0 7.1,8.1 5.5,9.1 5.3,10.1 5.3,11.1 5.1,12.1 4.5,13.1 4.1,14.1 4.2,15.1 4.2,16.1 4.8,17.1 4.2,18.1 4.2,19.1 4.0,20.1 3.8,21.1 3.8,22.2 3.3,23.2 3.9,24.2 3.7,25.2 3.4,26.2 3.4,27.2 3.1,28.2 2.8,29.2 3.1,30.2 2.5,31.2 3.3,32.2 2.9,33.2 2.8,34.2 3.2,35.2 2.5,36.2 2.6,37.3 2.8,38.3 2.8,39.3 2.2,40.3 2.4,41.3 2.7,42.3 2.9,43.3 2.8,44.3 2.6,45.3 2.1,46.3 2.4,47.3 2.4,48.3 2.6,49.3 2.2,50.3 2.3,51.4 2.2,52.4 2.2,53.4 2.6,54.4 2.1,55.4 2.6,56.4 2.7,57.4 2.1,58.4 2.6,59.4 2.0,60.4 2.1,61.4 2.5,62.4 2.3,63.4 2.2,64.4 2.1,65.5 2.1,66.5 2.2,67.5 2.3,68.5 2.4,69.5 2.3,70.5 2.5,71.5 2.6,74.5 -2.6,74.5 -2.5,71.5 -2.3,70.5 -2.4,69.5 -2.3,68.5 -2.2,67.5 -2.1,66.5 -2.1,65.5 -2.2,64.4 -2.3,63.4 -2.5,62.4 -2.1,61.4 -2.0,60.4 -2.6,59.4 -2.1,58.4 -2.7,57.4 -2.6,56.4 -2.1,55.4 -2.6,54.4 -2.2,53.4 -2.2,52.4 -2.3,51.4 -2.2,50.3 -2.6,49.3 -2.4,48.3 -2.4,47.3 -2.1,46.3 -2.6,45.3 -2.8,44.3 -2.9,43.3 -2.7,42.3 -2.4,41.3 -2.2,40.3 -2.8,39.3 -2.8,38.3 -2.6,37.3 -2.5,36.2 -3.2,35.2 -2.8,34.2 -2.9,33.2 -3.3,32.2 -2.5,31.2 -3.1,30.2 -2.8,29.2 -3.1,28.2 -3.4,27.2 -3.4,26.2 -3.7,25.2 -3.9,24.2 -3.3,23.2 -3.8,22.2 -3.8,21.1 -4.0,20.1 -4.2,19.1 -4.2,18.1 -4.8,17.1 -4.2,16.1 -4.2,15.1 -4.1,14.1 -4.5,13.1 -5.1,12.1 -5.3,11.1 -5.3,10.1 -5.5,9.1 -7.1,8.1 -6.3,7.0 -7.4,6.0 -8.2,5.0 -8.6,4.0 -10.3,3.0 -8.4,2.0 -10.8,1.0 -10.2,-2.0" fill="#fce5ab" filter="url(#lblur)"/><polygon points="8.2,-2.0 8.8,1.0 6.9,2.0 8.4,3.0 7.0,4.0 6.6,5.0 6.0,6.0 5.1,7.0 5.7,8.1 4.5,9.1 4.3,10.1 4.2,11.1 4.2,12.1 3.7,13.1 3.3,14.1 3.4,15.1 3.4,16.1 3.9,17.1 3.4,18.1 3.4,19.1 3.3,20.1 3.1,21.1 3.1,22.2 2.6,23.2 3.2,24.2 2.9,25.2 2.8,26.2 2.7,27.2 2.5,28.2 2.3,29.2 2.5,30.2 2.0,31.2 2.6,32.2 2.3,33.2 2.3,34.2 2.6,35.2 2.0,36.2 2.1,37.3 2.2,38.3 2.2,39.3 1.7,40.3 1.9,41.3 2.2,42.3 2.3,43.3 2.3,44.3 2.1,45.3 1.7,46.3 1.9,47.3 1.9,48.3 2.1,49.3 1.8,50.3 1.9,51.4 1.8,52.4 1.7,53.4 2.1,54.4 1.7,55.4 2.1,56.4 2.2,57.4 1.7,58.4 2.1,59.4 1.6,60.4 1.7,61.4 2.0,62.4 1.9,63.4 1.8,64.4 1.7,65.5 1.6,66.5 1.7,67.5 1.8,68.5 1.9,69.5 1.8,70.5 2.0,71.5 2.1,74.5 -2.1,74.5 -2.0,71.5 -1.8,70.5 -1.9,69.5 -1.8,68.5 -1.7,67.5 -1.6,66.5 -1.7,65.5 -1.8,64.4 -1.9,63.4 -2.0,62.4 -1.7,61.4 -1.6,60.4 -2.1,59.4 -1.7,58.4 -2.2,57.4 -2.1,56.4 -1.7,55.4 -2.1,54.4 -1.7,53.4 -1.8,52.4 -1.9,51.4 -1.8,50.3 -2.1,49.3 -1.9,48.3 -1.9,47.3 -1.7,46.3 -2.1,45.3 -2.3,44.3 -2.3,43.3 -2.2,42.3 -1.9,41.3 -1.7,40.3 -2.2,39.3 -2.2,38.3 -2.1,37.3 -2.0,36.2 -2.6,35.2 -2.3,34.2 -2.3,33.2 -2.6,32.2 -2.0,31.2 -2.5,30.2 -2.3,29.2 -2.5,28.2 -2.7,27.2 -2.8,26.2 -2.9,25.2 -3.2,24.2 -2.6,23.2 -3.1,22.2 -3.1,21.1 -3.3,20.1 -3.4,19.1 -3.4,18.1 -3.9,17.1 -3.4,16.1 -3.4,15.1 -3.3,14.1 -3.7,13.1 -4.2,12.1 -4.2,11.1 -4.3,10.1 -4.5,9.1 -5.7,8.1 -5.1,7.0 -6.0,6.0 -6.6,5.0 -7.0,4.0 -8.4,3.0 -6.9,2.0 -8.8,1.0 -8.2,-2.0" fill="#fad58a" filter="url(#lblur)"/><polygon points="6.6,-2.0 7.3,1.0 5.8,2.0 6.9,3.0 5.7,4.0 5.4,5.0 5.0,6.0 4.1,7.0 4.7,8.1 3.8,9.1 3.5,10.1 3.5,11.1 3.4,12.1 3.0,13.1 2.7,14.1 2.7,15.1 2.8,16.1 3.2,17.1 2.8,18.1 2.8,19.1 2.7,20.1 2.6,21.1 2.6,22.2 2.2,23.2 2.6,24.2 2.4,25.2 2.2,26.2 2.2,27.2 2.0,28.2 1.9,29.2 2.1,30.2 1.7,31.2 2.1,32.2 1.9,33.2 1.9,34.2 2.2,35.2 1.6,36.2 1.8,37.3 1.8,38.3 1.8,39.3 1.4,40.3 1.6,41.3 1.9,42.3 1.9,43.3 1.9,44.3 1.8,45.3 1.4,46.3 1.5,47.3 1.5,48.3 1.8,49.3 1.4,50.3 1.6,51.4 1.5,52.4 1.4,53.4 1.7,54.4 1.4,55.4 1.7,56.4 1.8,57.4 1.4,58.4 1.7,59.4 1.3,60.4 1.4,61.4 1.6,62.4 1.6,63.4 1.5,64.4 1.4,65.5 1.3,66.5 1.4,67.5 1.5,68.5 1.6,69.5 1.4,70.5 1.6,71.5 1.7,74.5 -1.7,74.5 -1.6,71.5 -1.4,70.5 -1.6,69.5 -1.5,68.5 -1.4,67.5 -1.3,66.5 -1.4,65.5 -1.5,64.4 -1.6,63.4 -1.6,62.4 -1.4,61.4 -1.3,60.4 -1.7,59.4 -1.4,58.4 -1.8,57.4 -1.7,56.4 -1.4,55.4 -1.7,54.4 -1.4,53.4 -1.5,52.4 -1.6,51.4 -1.4,50.3 -1.8,49.3 -1.5,48.3 -1.5,47.3 -1.4,46.3 -1.8,45.3 -1.9,44.3 -1.9,43.3 -1.9,42.3 -1.6,41.3 -1.4,40.3 -1.8,39.3 -1.8,38.3 -1.8,37.3 -1.6,36.2 -2.2,35.2 -1.9,34.2 -1.9,33.2 -2.1,32.2 -1.7,31.2 -2.1,30.2 -1.9,29.2 -2.0,28.2 -2.2,27.2 -2.2,26.2 -2.4,25.2 -2.6,24.2 -2.2,23.2 -2.6,22.2 -2.6,21.1 -2.7,20.1 -2.8,19.1 -2.8,18.1 -3.2,17.1 -2.8,16.1 -2.7,15.1 -2.7,14.1 -3.0,13.1 -3.4,12.1 -3.5,11.1 -3.5,10.1 -3.8,9.1 -4.7,8.1 -4.1,7.0 -5.0,6.0 -5.4,5.0 -5.7,4.0 -6.9,3.0 -5.8,2.0 -7.3,1.0 -6.6,-2.0" fill="#f9c66a" filter="url(#lblur)"/><polygon points="5.1,-2.0 5.9,1.0 4.8,2.0 5.5,3.0 4.5,4.0 4.3,5.0 4.1,6.0 3.2,7.0 3.6,8.1 3.1,9.1 2.8,10.1 2.7,11.1 2.7,12.1 2.4,13.1 2.0,14.1 2.1,15.1 2.2,16.1 2.6,17.1 2.3,18.1 2.1,19.1 2.2,20.1 2.1,21.1 2.1,22.2 1.8,23.2 2.1,24.2 1.8,25.2 1.7,26.2 1.8,27.2 1.5,28.2 1.6,29.2 1.7,30.2 1.3,31.2 1.6,32.2 1.6,33.2 1.5,34.2 1.7,35.2 1.3,36.2 1.4,37.3 1.4,38.3 1.4,39.3 1.1,40.3 1.2,41.3 1.5,42.3 1.5,43.3 1.5,44.3 1.4,45.3 1.1,46.3 1.2,47.3 1.1,48.3 1.5,49.3 1.1,50.3 1.3,51.4 1.2,52.4 1.1,53.4 1.4,54.4 1.2,55.4 1.4,56.4 1.4,57.4 1.1,58.4 1.3,59.4 1.0,60.4 1.1,61.4 1.3,62.4 1.3,63.4 1.2,64.4 1.1,65.5 1.0,66.5 1.0,67.5 1.2,68.5 1.3,69.5 1.1,70.5 1.2,71.5 1.4,74.5 -1.4,74.5 -1.2,71.5 -1.1,70.5 -1.3,69.5 -1.2,68.5 -1.0,67.5 -1.0,66.5 -1.1,65.5 -1.2,64.4 -1.3,63.4 -1.3,62.4 -1.1,61.4 -1.0,60.4 -1.3,59.4 -1.1,58.4 -1.4,57.4 -1.4,56.4 -1.2,55.4 -1.4,54.4 -1.1,53.4 -1.2,52.4 -1.3,51.4 -1.1,50.3 -1.5,49.3 -1.1,48.3 -1.2,47.3 -1.1,46.3 -1.4,45.3 -1.5,44.3 -1.5,43.3 -1.5,42.3 -1.2,41.3 -1.1,40.3 -1.4,39.3 -1.4,38.3 -1.4,37.3 -1.3,36.2 -1.7,35.2 -1.5,34.2 -1.6,33.2 -1.6,32.2 -1.3,31.2 -1.7,30.2 -1.6,29.2 -1.5,28.2 -1.8,27.2 -1.7,26.2 -1.8,25.2 -2.1,24.2 -1.8,23.2 -2.1,22.2 -2.1,21.1 -2.2,20.1 -2.1,19.1 -2.3,18.1 -2.6,17.1 -2.2,16.1 -2.1,15.1 -2.0,14.1 -2.4,13.1 -2.7,12.1 -2.7,11.1 -2.8,10.1 -3.1,9.1 -3.6,8.1 -3.2,7.0 -4.1,6.0 -4.3,5.0 -4.5,4.0 -5.5,3.0 -4.8,2.0 -5.9,1.0 -5.1,-2.0" fill="#f4a748" filter="url(#lblur)"/><polygon points="3.0,-2.0 4.2,1.0 3.7,2.0 3.7,3.0 3.0,4.0 2.9,5.0 3.0,6.0 2.1,7.0 2.2,8.1 2.4,9.1 1.9,10.1 1.7,11.1 1.9,12.1 1.7,13.1 1.0,14.1 1.3,15.1 1.3,16.1 1.9,17.1 1.7,18.1 1.3,19.1 1.6,20.1 1.5,21.1 1.6,22.2 1.3,23.2 1.4,24.2 0.9,25.2 1.0,26.2 1.2,27.2 0.9,28.2 1.2,29.2 1.2,30.2 0.8,31.2 0.9,32.2 1.1,33.2 1.0,34.2 1.3,35.2 0.8,36.2 1.0,37.3 0.8,38.3 0.9,39.3 0.6,40.3 0.6,41.3 1.2,42.3 1.1,43.3 1.0,44.3 1.1,45.3 0.7,46.3 0.7,47.3 0.4,48.3 1.1,49.3 0.5,50.3 0.9,51.4 0.9,52.4 0.8,53.4 1.0,54.4 0.9,55.4 0.9,56.4 0.9,57.4 0.7,58.4 0.8,59.4 0.5,60.4 0.7,61.4 0.8,62.4 0.9,63.4 0.8,64.4 0.7,65.5 0.4,66.5 0.4,67.5 0.8,68.5 0.9,69.5 0.4,70.5 0.7,71.5 1.0,74.5 -1.0,74.5 -0.7,71.5 -0.4,70.5 -0.9,69.5 -0.8,68.5 -0.4,67.5 -0.4,66.5 -0.7,65.5 -0.8,64.4 -0.9,63.4 -0.8,62.4 -0.7,61.4 -0.5,60.4 -0.8,59.4 -0.7,58.4 -0.9,57.4 -0.9,56.4 -0.9,55.4 -1.0,54.4 -0.8,53.4 -0.9,52.4 -0.9,51.4 -0.5,50.3 -1.1,49.3 -0.4,48.3 -0.7,47.3 -0.7,46.3 -1.1,45.3 -1.0,44.3 -1.1,43.3 -1.2,42.3 -0.6,41.3 -0.6,40.3 -0.9,39.3 -0.8,38.3 -1.0,37.3 -0.8,36.2 -1.3,35.2 -1.0,34.2 -1.1,33.2 -0.9,32.2 -0.8,31.2 -1.2,30.2 -1.2,29.2 -0.9,28.2 -1.2,27.2 -1.0,26.2 -0.9,25.2 -1.4,24.2 -1.3,23.2 -1.6,22.2 -1.5,21.1 -1.6,20.1 -1.3,19.1 -1.7,18.1 -1.9,17.1 -1.3,16.1 -1.3,15.1 -1.0,14.1 -1.7,13.1 -1.9,12.1 -1.7,11.1 -1.9,10.1 -2.4,9.1 -2.2,8.1 -2.1,7.0 -3.0,6.0 -2.9,5.0 -3.0,4.0 -3.7,3.0 -3.7,2.0 -4.2,1.0 -3.0,-2.0" fill="#f08826" filter="url(#lblur)"/></g>
<g id="w1HDAC1"><rect x="-11.7" y="0" width="23.3" height="88.4" fill="#fde9dc"/><polygon points="11.0,-2.0 9.8,1.0 9.0,2.0 8.8,3.0 9.5,4.0 9.2,5.0 7.4,6.0 6.3,7.0 7.2,8.0 6.4,9.0 6.7,10.0 6.5,11.1 6.1,12.1 5.2,13.1 5.7,14.1 4.8,15.1 5.1,16.1 4.6,17.1 3.8,18.1 4.6,19.1 4.7,20.1 4.5,21.1 3.7,22.1 3.6,23.1 3.3,24.1 4.1,25.1 3.7,26.1 4.0,27.1 3.5,28.1 3.6,29.1 3.6,30.1 3.8,31.1 3.2,32.1 2.9,33.2 2.8,34.2 3.3,35.2 3.2,36.2 3.3,37.2 3.4,38.2 2.6,39.2 2.8,40.2 3.4,41.2 3.2,42.2 2.9,43.2 2.7,44.2 2.9,45.2 2.4,46.2 2.6,47.2 2.9,48.2 2.7,49.2 3.1,50.2 2.9,51.2 2.9,52.2 3.0,53.2 2.9,54.2 2.8,55.3 2.3,56.3 3.1,57.3 2.8,58.3 3.1,59.3 3.0,60.3 3.0,61.3 2.8,62.3 2.5,63.3 2.9,64.3 2.5,65.3 2.4,66.3 2.7,67.3 2.9,68.3 2.4,69.3 2.7,70.3 3.0,71.3 2.5,72.3 2.9,73.3 2.5,74.3 2.8,75.3 3.1,76.3 2.6,77.4 2.4,78.4 2.7,79.4 2.5,80.4 2.5,81.4 2.5,82.4 2.6,83.4 3.0,84.4 2.7,85.4 2.8,86.4 2.8,87.4 2.4,90.4 -2.4,90.4 -2.8,87.4 -2.8,86.4 -2.7,85.4 -3.0,84.4 -2.6,83.4 -2.5,82.4 -2.5,81.4 -2.5,80.4 -2.7,79.4 -2.4,78.4 -2.6,77.4 -3.1,76.3 -2.8,75.3 -2.5,74.3 -2.9,73.3 -2.5,72.3 -3.0,71.3 -2.7,70.3 -2.4,69.3 -2.9,68.3 -2.7,67.3 -2.4,66.3 -2.5,65.3 -2.9,64.3 -2.5,63.3 -2.8,62.3 -3.0,61.3 -3.0,60.3 -3.1,59.3 -2.8,58.3 -3.1,57.3 -2.3,56.3 -2.8,55.3 -2.9,54.2 -3.0,53.2 -2.9,52.2 -2.9,51.2 -3.1,50.2 -2.7,49.2 -2.9,48.2 -2.6,47.2 -2.4,46.2 -2.9,45.2 -2.7,44.2 -2.9,43.2 -3.2,42.2 -3.4,41.2 -2.8,40.2 -2.6,39.2 -3.4,38.2 -3.3,37.2 -3.2,36.2 -3.3,35.2 -2.8,34.2 -2.9,33.2 -3.2,32.1 -3.8,31.1 -3.6,30.1 -3.6,29.1 -3.5,28.1 -4.0,27.1 -3.7,26.1 -4.1,25.1 -3.3,24.1 -3.6,23.1 -3.7,22.1 -4.5,21.1 -4.7,20.1 -4.6,19.1 -3.8,18.1 -4.6,17.1 -5.1,16.1 -4.8,15.1 -5.7,14.1 -5.2,13.1 -6.1,12.1 -6.5,11.1 -6.7,10.0 -6.4,9.0 -7.2,8.0 -6.3,7.0 -7.4,6.0 -9.2,5.0 -9.5,4.0 -8.8,3.0 -9.0,2.0 -9.8,1.0 -11.0,-2.0" fill="#fbd6bb" filter="url(#lblur)"/><polygon points="8.8,-2.0 8.0,1.0 7.2,2.0 7.2,3.0 7.8,4.0 7.5,5.0 6.1,6.0 5.1,7.0 5.8,8.0 5.1,9.0 5.4,10.0 5.3,11.1 4.9,12.1 4.3,13.1 4.6,14.1 3.9,15.1 4.1,16.1 3.8,17.1 3.1,18.1 3.8,19.1 3.8,20.1 3.7,21.1 2.9,22.1 2.9,23.1 2.7,24.1 3.3,25.1 3.0,26.1 3.3,27.1 2.8,28.1 2.9,29.1 2.9,30.1 3.1,31.1 2.6,32.1 2.3,33.2 2.2,34.2 2.6,35.2 2.6,36.2 2.7,37.2 2.7,38.2 2.1,39.2 2.3,40.2 2.7,41.2 2.6,42.2 2.3,43.2 2.2,44.2 2.3,45.2 2.0,46.2 2.1,47.2 2.3,48.2 2.2,49.2 2.5,50.2 2.3,51.2 2.3,52.2 2.4,53.2 2.3,54.2 2.3,55.3 1.9,56.3 2.5,57.3 2.3,58.3 2.5,59.3 2.4,60.3 2.4,61.3 2.2,62.3 2.0,63.3 2.4,64.3 2.0,65.3 2.0,66.3 2.2,67.3 2.4,68.3 2.0,69.3 2.1,70.3 2.4,71.3 2.0,72.3 2.3,73.3 2.0,74.3 2.2,75.3 2.6,76.3 2.1,77.4 1.9,78.4 2.2,79.4 2.0,80.4 2.0,81.4 2.0,82.4 2.1,83.4 2.4,84.4 2.2,85.4 2.2,86.4 2.2,87.4 1.9,90.4 -1.9,90.4 -2.2,87.4 -2.2,86.4 -2.2,85.4 -2.4,84.4 -2.1,83.4 -2.0,82.4 -2.0,81.4 -2.0,80.4 -2.2,79.4 -1.9,78.4 -2.1,77.4 -2.6,76.3 -2.2,75.3 -2.0,74.3 -2.3,73.3 -2.0,72.3 -2.4,71.3 -2.1,70.3 -2.0,69.3 -2.4,68.3 -2.2,67.3 -2.0,66.3 -2.0,65.3 -2.4,64.3 -2.0,63.3 -2.2,62.3 -2.4,61.3 -2.4,60.3 -2.5,59.3 -2.3,58.3 -2.5,57.3 -1.9,56.3 -2.3,55.3 -2.3,54.2 -2.4,53.2 -2.3,52.2 -2.3,51.2 -2.5,50.2 -2.2,49.2 -2.3,48.2 -2.1,47.2 -2.0,46.2 -2.3,45.2 -2.2,44.2 -2.3,43.2 -2.6,42.2 -2.7,41.2 -2.3,40.2 -2.1,39.2 -2.7,38.2 -2.7,37.2 -2.6,36.2 -2.6,35.2 -2.2,34.2 -2.3,33.2 -2.6,32.1 -3.1,31.1 -2.9,30.1 -2.9,29.1 -2.8,28.1 -3.3,27.1 -3.0,26.1 -3.3,25.1 -2.7,24.1 -2.9,23.1 -2.9,22.1 -3.7,21.1 -3.8,20.1 -3.8,19.1 -3.1,18.1 -3.8,17.1 -4.1,16.1 -3.9,15.1 -4.6,14.1 -4.3,13.1 -4.9,12.1 -5.3,11.1 -5.4,10.0 -5.1,9.0 -5.8,8.0 -5.1,7.0 -6.1,6.0 -7.5,5.0 -7.8,4.0 -7.2,3.0 -7.2,2.0 -8.0,1.0 -8.8,-2.0" fill="#f9bd90" filter="url(#lblur)"/><polygon points="7.2,-2.0 6.6,1.0 5.8,2.0 6.0,3.0 6.5,4.0 6.3,5.0 5.0,6.0 4.3,7.0 4.7,8.0 4.2,9.0 4.5,10.0 4.5,11.1 4.0,12.1 3.6,13.1 3.7,14.1 3.3,15.1 3.4,16.1 3.2,17.1 2.5,18.1 3.1,19.1 3.2,20.1 3.1,21.1 2.4,22.1 2.4,23.1 2.2,24.1 2.7,25.1 2.5,26.1 2.7,27.1 2.4,28.1 2.3,29.1 2.4,30.1 2.6,31.1 2.1,32.1 1.9,33.2 1.8,34.2 2.1,35.2 2.1,36.2 2.2,37.2 2.2,38.2 1.7,39.2 1.9,40.2 2.3,41.2 2.1,42.2 1.9,43.2 1.8,44.2 1.9,45.2 1.6,46.2 1.7,47.2 1.9,48.2 1.8,49.2 2.1,50.2 1.9,51.2 1.8,52.2 1.9,53.2 1.9,54.2 1.8,55.3 1.5,56.3 2.0,57.3 1.9,58.3 2.0,59.3 2.0,60.3 1.9,61.3 1.9,62.3 1.7,63.3 2.0,64.3 1.7,65.3 1.6,66.3 1.8,67.3 2.0,68.3 1.6,69.3 1.7,70.3 1.9,71.3 1.6,72.3 1.9,73.3 1.7,74.3 1.8,75.3 2.1,76.3 1.7,77.4 1.5,78.4 1.8,79.4 1.6,80.4 1.7,81.4 1.7,82.4 1.7,83.4 1.9,84.4 1.8,85.4 1.8,86.4 1.8,87.4 1.5,90.4 -1.5,90.4 -1.8,87.4 -1.8,86.4 -1.8,85.4 -1.9,84.4 -1.7,83.4 -1.7,82.4 -1.7,81.4 -1.6,80.4 -1.8,79.4 -1.5,78.4 -1.7,77.4 -2.1,76.3 -1.8,75.3 -1.7,74.3 -1.9,73.3 -1.6,72.3 -1.9,71.3 -1.7,70.3 -1.6,69.3 -2.0,68.3 -1.8,67.3 -1.6,66.3 -1.7,65.3 -2.0,64.3 -1.7,63.3 -1.9,62.3 -1.9,61.3 -2.0,60.3 -2.0,59.3 -1.9,58.3 -2.0,57.3 -1.5,56.3 -1.8,55.3 -1.9,54.2 -1.9,53.2 -1.8,52.2 -1.9,51.2 -2.1,50.2 -1.8,49.2 -1.9,48.2 -1.7,47.2 -1.6,46.2 -1.9,45.2 -1.8,44.2 -1.9,43.2 -2.1,42.2 -2.3,41.2 -1.9,40.2 -1.7,39.2 -2.2,38.2 -2.2,37.2 -2.1,36.2 -2.1,35.2 -1.8,34.2 -1.9,33.2 -2.1,32.1 -2.6,31.1 -2.4,30.1 -2.3,29.1 -2.4,28.1 -2.7,27.1 -2.5,26.1 -2.7,25.1 -2.2,24.1 -2.4,23.1 -2.4,22.1 -3.1,21.1 -3.2,20.1 -3.1,19.1 -2.5,18.1 -3.2,17.1 -3.4,16.1 -3.3,15.1 -3.7,14.1 -3.6,13.1 -4.0,12.1 -4.5,11.1 -4.5,10.0 -4.2,9.0 -4.7,8.0 -4.3,7.0 -5.0,6.0 -6.3,5.0 -6.5,4.0 -6.0,3.0 -5.8,2.0 -6.6,1.0 -7.2,-2.0" fill="#f7a466" filter="url(#lblur)"/><polygon points="5.6,-2.0 5.3,1.0 4.4,2.0 4.8,3.0 5.3,4.0 5.1,5.0 4.1,6.0 3.5,7.0 3.7,8.0 3.3,9.0 3.5,10.0 3.7,11.1 3.2,12.1 2.9,13.1 2.9,14.1 2.6,15.1 2.6,16.1 2.6,17.1 1.9,18.1 2.6,19.1 2.5,20.1 2.5,21.1 1.8,22.1 2.0,23.1 1.8,24.1 2.0,25.1 2.0,26.1 2.1,27.1 1.9,28.1 1.8,29.1 1.9,30.1 2.1,31.1 1.7,32.1 1.4,33.2 1.4,34.2 1.6,35.2 1.7,36.2 1.7,37.2 1.7,38.2 1.4,39.2 1.6,40.2 1.8,41.2 1.6,42.2 1.5,43.2 1.4,44.2 1.5,45.2 1.3,46.2 1.4,47.2 1.5,48.2 1.4,49.2 1.7,50.2 1.4,51.2 1.3,52.2 1.5,53.2 1.4,54.2 1.4,55.3 1.2,56.3 1.6,57.3 1.5,58.3 1.6,59.3 1.6,60.3 1.5,61.3 1.5,62.3 1.3,63.3 1.6,64.3 1.3,65.3 1.2,66.3 1.4,67.3 1.6,68.3 1.3,69.3 1.3,70.3 1.5,71.3 1.1,72.3 1.5,73.3 1.4,74.3 1.4,75.3 1.7,76.3 1.4,77.4 1.2,78.4 1.5,79.4 1.3,80.4 1.3,81.4 1.3,82.4 1.3,83.4 1.5,84.4 1.4,85.4 1.4,86.4 1.4,87.4 1.1,90.4 -1.1,90.4 -1.4,87.4 -1.4,86.4 -1.4,85.4 -1.5,84.4 -1.3,83.4 -1.3,82.4 -1.3,81.4 -1.3,80.4 -1.5,79.4 -1.2,78.4 -1.4,77.4 -1.7,76.3 -1.4,75.3 -1.4,74.3 -1.5,73.3 -1.1,72.3 -1.5,71.3 -1.3,70.3 -1.3,69.3 -1.6,68.3 -1.4,67.3 -1.2,66.3 -1.3,65.3 -1.6,64.3 -1.3,63.3 -1.5,62.3 -1.5,61.3 -1.6,60.3 -1.6,59.3 -1.5,58.3 -1.6,57.3 -1.2,56.3 -1.4,55.3 -1.4,54.2 -1.5,53.2 -1.3,52.2 -1.4,51.2 -1.7,50.2 -1.4,49.2 -1.5,48.2 -1.4,47.2 -1.3,46.2 -1.5,45.2 -1.4,44.2 -1.5,43.2 -1.6,42.2 -1.8,41.2 -1.6,40.2 -1.4,39.2 -1.7,38.2 -1.7,37.2 -1.7,36.2 -1.6,35.2 -1.4,34.2 -1.4,33.2 -1.7,32.1 -2.1,31.1 -1.9,30.1 -1.8,29.1 -1.9,28.1 -2.1,27.1 -2.0,26.1 -2.0,25.1 -1.8,24.1 -2.0,23.1 -1.8,22.1 -2.5,21.1 -2.5,20.1 -2.6,19.1 -1.9,18.1 -2.6,17.1 -2.6,16.1 -2.6,15.1 -2.9,14.1 -2.9,13.1 -3.2,12.1 -3.7,11.1 -3.5,10.0 -3.3,9.0 -3.7,8.0 -3.5,7.0 -4.1,6.0 -5.1,5.0 -5.3,4.0 -4.8,3.0 -4.4,2.0 -5.3,1.0 -5.6,-2.0" fill="#ef8645" filter="url(#lblur)"/><polygon points="3.5,-2.0 3.7,1.0 2.5,2.0 3.5,3.0 3.9,4.0 3.8,5.0 2.9,6.0 2.6,7.0 2.3,8.0 2.0,9.0 2.4,10.0 2.8,11.1 2.1,12.1 2.2,13.1 1.7,14.1 2.0,15.1 1.6,16.1 2.0,17.1 1.2,18.1 1.9,19.1 1.7,20.1 1.9,21.1 1.1,22.1 1.4,23.1 1.2,24.1 1.2,25.1 1.4,26.1 1.5,27.1 1.5,28.1 1.0,29.1 1.2,30.1 1.6,31.1 1.1,32.1 0.9,33.2 0.8,34.2 0.7,35.2 1.2,36.2 1.2,37.2 1.0,38.2 1.0,39.2 1.2,40.2 1.3,41.2 0.9,42.2 0.9,43.2 0.9,44.2 1.1,45.2 0.9,46.2 1.1,47.2 1.1,48.2 1.0,49.2 1.3,50.2 0.8,51.2 0.6,52.2 0.9,53.2 0.7,54.2 0.7,55.3 0.7,56.3 1.0,57.3 1.1,58.3 0.9,59.3 1.1,60.3 0.9,61.3 1.1,62.3 0.8,63.3 1.2,64.3 0.9,65.3 0.6,66.3 1.0,67.3 1.2,68.3 0.8,69.3 0.7,70.3 0.7,71.3 0.4,72.3 1.0,73.3 1.0,74.3 0.7,75.3 1.2,76.3 1.0,77.4 0.7,78.4 1.1,79.4 0.8,80.4 1.0,81.4 1.0,82.4 0.9,83.4 0.8,84.4 1.0,85.4 0.8,86.4 0.8,87.4 0.0,90.4 -0.0,90.4 -0.8,87.4 -0.8,86.4 -1.0,85.4 -0.8,84.4 -0.9,83.4 -1.0,82.4 -1.0,81.4 -0.8,80.4 -1.1,79.4 -0.7,78.4 -1.0,77.4 -1.2,76.3 -0.7,75.3 -1.0,74.3 -1.0,73.3 -0.4,72.3 -0.7,71.3 -0.7,70.3 -0.8,69.3 -1.2,68.3 -1.0,67.3 -0.6,66.3 -0.9,65.3 -1.2,64.3 -0.8,63.3 -1.1,62.3 -0.9,61.3 -1.1,60.3 -0.9,59.3 -1.1,58.3 -1.0,57.3 -0.7,56.3 -0.7,55.3 -0.7,54.2 -0.9,53.2 -0.6,52.2 -0.8,51.2 -1.3,50.2 -1.0,49.2 -1.1,48.2 -1.1,47.2 -0.9,46.2 -1.1,45.2 -0.9,44.2 -0.9,43.2 -0.9,42.2 -1.3,41.2 -1.2,40.2 -1.0,39.2 -1.0,38.2 -1.2,37.2 -1.2,36.2 -0.7,35.2 -0.8,34.2 -0.9,33.2 -1.1,32.1 -1.6,31.1 -1.2,30.1 -1.0,29.1 -1.5,28.1 -1.5,27.1 -1.4,26.1 -1.2,25.1 -1.2,24.1 -1.4,23.1 -1.1,22.1 -1.9,21.1 -1.7,20.1 -1.9,19.1 -1.2,18.1 -2.0,17.1 -1.6,16.1 -2.0,15.1 -1.7,14.1 -2.2,13.1 -2.1,12.1 -2.8,11.1 -2.4,10.0 -2.0,9.0 -2.3,8.0 -2.6,7.0 -2.9,6.0 -3.8,5.0 -3.9,4.0 -3.5,3.0 -2.5,2.0 -3.7,1.0 -3.5,-2.0" fill="#e86924" filter="url(#lblur)"/></g>
<g id="w1BRD4"><rect x="-11.7" y="0" width="23.3" height="88.4" fill="#e4f0fb"/><polygon points="4.9,-2.0 4.9,1.0 4.8,2.0 4.5,3.0 4.3,4.0 4.3,5.0 4.6,6.0 3.4,7.0 4.7,8.0 3.7,9.0 4.2,10.0 3.1,11.1 3.6,12.1 3.0,13.1 3.7,14.1 3.1,15.1 3.3,16.1 3.4,17.1 3.4,18.1 3.6,19.1 3.2,20.1 2.9,21.1 3.5,22.1 3.3,23.1 3.1,24.1 3.0,25.1 2.4,26.1 2.9,27.1 2.8,28.1 2.6,29.1 3.0,30.1 2.3,31.1 2.2,32.1 2.3,33.2 2.3,34.2 2.1,35.2 2.7,36.2 2.1,37.2 2.4,38.2 2.0,39.2 2.1,40.2 2.4,41.2 2.1,42.2 2.5,43.2 2.5,44.2 2.6,45.2 2.3,46.2 2.4,47.2 2.3,48.2 2.6,49.2 1.8,50.2 2.0,51.2 2.2,52.2 2.1,53.2 2.0,54.2 2.1,55.3 1.9,56.3 2.1,57.3 1.8,58.3 2.2,59.3 2.1,60.3 1.8,61.3 1.8,62.3 2.2,63.3 2.1,64.3 2.1,65.3 1.9,66.3 2.2,67.3 2.0,68.3 1.8,69.3 1.6,70.3 1.7,71.3 1.7,72.3 1.9,73.3 1.6,74.3 1.8,75.3 2.1,76.3 1.7,77.4 1.7,78.4 1.9,79.4 1.7,80.4 1.7,81.4 1.7,82.4 1.6,83.4 1.9,84.4 1.7,85.4 1.6,86.4 1.6,87.4 1.8,90.4 -1.8,90.4 -1.6,87.4 -1.6,86.4 -1.7,85.4 -1.9,84.4 -1.6,83.4 -1.7,82.4 -1.7,81.4 -1.7,80.4 -1.9,79.4 -1.7,78.4 -1.7,77.4 -2.1,76.3 -1.8,75.3 -1.6,74.3 -1.9,73.3 -1.7,72.3 -1.7,71.3 -1.6,70.3 -1.8,69.3 -2.0,68.3 -2.2,67.3 -1.9,66.3 -2.1,65.3 -2.1,64.3 -2.2,63.3 -1.8,62.3 -1.8,61.3 -2.1,60.3 -2.2,59.3 -1.8,58.3 -2.1,57.3 -1.9,56.3 -2.1,55.3 -2.0,54.2 -2.1,53.2 -2.2,52.2 -2.0,51.2 -1.8,50.2 -2.6,49.2 -2.3,48.2 -2.4,47.2 -2.3,46.2 -2.6,45.2 -2.5,44.2 -2.5,43.2 -2.1,42.2 -2.4,41.2 -2.1,40.2 -2.0,39.2 -2.4,38.2 -2.1,37.2 -2.7,36.2 -2.1,35.2 -2.3,34.2 -2.3,33.2 -2.2,32.1 -2.3,31.1 -3.0,30.1 -2.6,29.1 -2.8,28.1 -2.9,27.1 -2.4,26.1 -3.0,25.1 -3.1,24.1 -3.3,23.1 -3.5,22.1 -2.9,21.1 -3.2,20.1 -3.6,19.1 -3.4,18.1 -3.4,17.1 -3.3,16.1 -3.1,15.1 -3.7,14.1 -3.0,13.1 -3.6,12.1 -3.1,11.1 -4.2,10.0 -3.7,9.0 -4.7,8.0 -3.4,7.0 -4.6,6.0 -4.3,5.0 -4.3,4.0 -4.5,3.0 -4.8,2.0 -4.9,1.0 -4.9,-2.0" fill="#cce4f7" filter="url(#lblur)"/><polygon points="2.9,-2.0 2.6,1.0 2.7,2.0 2.8,3.0 2.5,4.0 2.2,5.0 2.7,6.0 2.0,7.0 2.9,8.0 2.0,9.0 2.2,10.0 1.6,11.1 2.1,12.1 1.6,13.1 2.0,14.1 1.8,15.1 1.9,16.1 2.0,17.1 2.0,18.1 2.0,19.1 1.7,20.1 1.3,21.1 2.0,22.1 1.9,23.1 1.8,24.1 1.7,25.1 1.2,26.1 1.7,27.1 1.6,28.1 1.4,29.1 1.6,30.1 1.2,31.1 1.0,32.1 1.2,33.2 1.2,34.2 0.9,35.2 1.5,36.2 1.1,37.2 1.2,38.2 0.6,39.2 1.1,40.2 1.2,41.2 1.0,42.2 0.9,43.2 1.3,44.2 1.2,45.2 0.9,46.2 0.9,47.2 1.1,48.2 1.3,49.2 0.5,50.2 0.8,51.2 0.7,52.2 0.8,53.2 0.9,54.2 1.1,55.3 0.9,56.3 0.7,57.3 0.7,58.3 0.6,59.3 0.8,60.3 0.8,61.3 0.6,62.3 1.0,63.3 0.4,64.3 0.0,65.3 0.4,66.3 0.8,67.3 0.8,68.3 0.3,69.3 0.0,70.3 0.6,71.3 0.7,72.3 0.0,73.3 0.0,74.3 0.0,75.3 0.0,76.3 0.0,77.4 0.0,78.4 0.0,79.4 0.0,80.4 0.0,81.4 0.0,82.4 0.0,83.4 0.0,84.4 0.0,85.4 0.0,86.4 0.0,87.4 0.0,90.4 -0.0,90.4 -0.0,87.4 -0.0,86.4 -0.0,85.4 -0.0,84.4 -0.0,83.4 -0.0,82.4 -0.0,81.4 -0.0,80.4 -0.0,79.4 -0.0,78.4 -0.0,77.4 -0.0,76.3 -0.0,75.3 -0.0,74.3 -0.0,73.3 -0.7,72.3 -0.6,71.3 -0.0,70.3 -0.3,69.3 -0.8,68.3 -0.8,67.3 -0.4,66.3 -0.0,65.3 -0.4,64.3 -1.0,63.3 -0.6,62.3 -0.8,61.3 -0.8,60.3 -0.6,59.3 -0.7,58.3 -0.7,57.3 -0.9,56.3 -1.1,55.3 -0.9,54.2 -0.8,53.2 -0.7,52.2 -0.8,51.2 -0.5,50.2 -1.3,49.2 -1.1,48.2 -0.9,47.2 -0.9,46.2 -1.2,45.2 -1.3,44.2 -0.9,43.2 -1.0,42.2 -1.2,41.2 -1.1,40.2 -0.6,39.2 -1.2,38.2 -1.1,37.2 -1.5,36.2 -0.9,35.2 -1.2,34.2 -1.2,33.2 -1.0,32.1 -1.2,31.1 -1.6,30.1 -1.4,29.1 -1.6,28.1 -1.7,27.1 -1.2,26.1 -1.7,25.1 -1.8,24.1 -1.9,23.1 -2.0,22.1 -1.3,21.1 -1.7,20.1 -2.0,19.1 -2.0,18.1 -2.0,17.1 -1.9,16.1 -1.8,15.1 -2.0,14.1 -1.6,13.1 -2.1,12.1 -1.6,11.1 -2.2,10.0 -2.0,9.0 -2.9,8.0 -2.0,7.0 -2.7,6.0 -2.2,5.0 -2.5,4.0 -2.8,3.0 -2.7,2.0 -2.6,1.0 -2.9,-2.0" fill="#add5f1" filter="url(#lblur)"/></g>
<g id="w1H3K9Ac"><rect x="-11.7" y="0" width="23.3" height="88.4" fill="#edf6eb"/><polygon points="12.5,-2.0 12.0,1.0 11.4,2.0 9.1,3.0 10.5,4.0 9.5,5.0 7.2,6.0 8.5,7.0 6.4,8.0 8.4,9.0 6.0,10.0 6.0,11.1 6.6,12.1 7.0,13.1 5.5,14.1 6.0,15.1 5.4,16.1 6.3,17.1 6.0,18.1 4.4,19.1 5.4,20.1 4.8,21.1 5.3,22.1 3.9,23.1 5.0,24.1 3.8,25.1 4.0,26.1 4.2,27.1 3.9,28.1 4.0,29.1 3.7,30.1 3.6,31.1 3.4,32.1 3.6,33.2 3.6,34.2 3.1,35.2 3.5,36.2 2.8,37.2 2.9,38.2 3.7,39.2 2.9,40.2 3.3,41.2 2.7,42.2 3.4,43.2 3.2,44.2 2.5,45.2 3.3,46.2 3.1,47.2 2.6,48.2 2.5,49.2 2.4,50.2 2.8,51.2 2.5,52.2 2.3,53.2 3.2,54.2 3.0,55.3 2.8,56.3 3.2,57.3 2.6,58.3 3.0,59.3 3.0,60.3 2.8,61.3 2.7,62.3 2.4,63.3 2.4,64.3 2.8,65.3 2.8,66.3 3.0,67.3 2.6,68.3 2.8,69.3 2.6,70.3 2.7,71.3 2.7,72.3 2.3,73.3 3.0,74.3 2.2,75.3 2.9,76.3 2.8,77.4 2.3,78.4 2.2,79.4 2.6,80.4 2.7,81.4 2.4,82.4 2.2,83.4 2.4,84.4 2.6,85.4 2.3,86.4 2.9,87.4 2.7,90.4 -2.7,90.4 -2.9,87.4 -2.3,86.4 -2.6,85.4 -2.4,84.4 -2.2,83.4 -2.4,82.4 -2.7,81.4 -2.6,80.4 -2.2,79.4 -2.3,78.4 -2.8,77.4 -2.9,76.3 -2.2,75.3 -3.0,74.3 -2.3,73.3 -2.7,72.3 -2.7,71.3 -2.6,70.3 -2.8,69.3 -2.6,68.3 -3.0,67.3 -2.8,66.3 -2.8,65.3 -2.4,64.3 -2.4,63.3 -2.7,62.3 -2.8,61.3 -3.0,60.3 -3.0,59.3 -2.6,58.3 -3.2,57.3 -2.8,56.3 -3.0,55.3 -3.2,54.2 -2.3,53.2 -2.5,52.2 -2.8,51.2 -2.4,50.2 -2.5,49.2 -2.6,48.2 -3.1,47.2 -3.3,46.2 -2.5,45.2 -3.2,44.2 -3.4,43.2 -2.7,42.2 -3.3,41.2 -2.9,40.2 -3.7,39.2 -2.9,38.2 -2.8,37.2 -3.5,36.2 -3.1,35.2 -3.6,34.2 -3.6,33.2 -3.4,32.1 -3.6,31.1 -3.7,30.1 -4.0,29.1 -3.9,28.1 -4.2,27.1 -4.0,26.1 -3.8,25.1 -5.0,24.1 -3.9,23.1 -5.3,22.1 -4.8,21.1 -5.4,20.1 -4.4,19.1 -6.0,18.1 -6.3,17.1 -5.4,16.1 -6.0,15.1 -5.5,14.1 -7.0,13.1 -6.6,12.1 -6.0,11.1 -6.0,10.0 -8.4,9.0 -6.4,8.0 -8.5,7.0 -7.2,6.0 -9.5,5.0 -10.5,4.0 -9.1,3.0 -11.4,2.0 -12.0,1.0 -12.5,-2.0" fill="#d0e9d2" filter="url(#lblur)"/><polygon points="10.2,-2.0 9.6,1.0 9.2,2.0 7.4,3.0 8.6,4.0 7.6,5.0 5.8,6.0 6.9,7.0 5.1,8.0 6.8,9.0 4.8,10.0 4.9,11.1 5.4,12.1 5.6,13.1 4.5,14.1 4.8,15.1 4.4,16.1 5.2,17.1 5.0,18.1 3.5,19.1 4.3,20.1 3.9,21.1 4.3,22.1 3.2,23.1 4.1,24.1 3.1,25.1 3.3,26.1 3.4,27.1 3.1,28.1 3.3,29.1 3.0,30.1 2.9,31.1 2.8,32.1 3.0,33.2 3.0,34.2 2.5,35.2 2.8,36.2 2.3,37.2 2.4,38.2 3.0,39.2 2.4,40.2 2.7,41.2 2.2,42.2 2.8,43.2 2.6,44.2 2.0,45.2 2.7,46.2 2.5,47.2 2.1,48.2 2.0,49.2 2.0,50.2 2.2,51.2 2.0,52.2 1.9,53.2 2.5,54.2 2.4,55.3 2.3,56.3 2.6,57.3 2.1,58.3 2.4,59.3 2.5,60.3 2.2,61.3 2.2,62.3 2.0,63.3 1.9,64.3 2.3,65.3 2.3,66.3 2.4,67.3 2.1,68.3 2.3,69.3 2.1,70.3 2.1,71.3 2.2,72.3 1.9,73.3 2.4,74.3 1.8,75.3 2.3,76.3 2.3,77.4 1.8,78.4 1.8,79.4 2.1,80.4 2.2,81.4 1.9,82.4 1.8,83.4 2.0,84.4 2.1,85.4 1.9,86.4 2.4,87.4 2.2,90.4 -2.2,90.4 -2.4,87.4 -1.9,86.4 -2.1,85.4 -2.0,84.4 -1.8,83.4 -1.9,82.4 -2.2,81.4 -2.1,80.4 -1.8,79.4 -1.8,78.4 -2.3,77.4 -2.3,76.3 -1.8,75.3 -2.4,74.3 -1.9,73.3 -2.2,72.3 -2.1,71.3 -2.1,70.3 -2.3,69.3 -2.1,68.3 -2.4,67.3 -2.3,66.3 -2.3,65.3 -1.9,64.3 -2.0,63.3 -2.2,62.3 -2.2,61.3 -2.5,60.3 -2.4,59.3 -2.1,58.3 -2.6,57.3 -2.3,56.3 -2.4,55.3 -2.5,54.2 -1.9,53.2 -2.0,52.2 -2.2,51.2 -2.0,50.2 -2.0,49.2 -2.1,48.2 -2.5,47.2 -2.7,46.2 -2.0,45.2 -2.6,44.2 -2.8,43.2 -2.2,42.2 -2.7,41.2 -2.4,40.2 -3.0,39.2 -2.4,38.2 -2.3,37.2 -2.8,36.2 -2.5,35.2 -3.0,34.2 -3.0,33.2 -2.8,32.1 -2.9,31.1 -3.0,30.1 -3.3,29.1 -3.1,28.1 -3.4,27.1 -3.3,26.1 -3.1,25.1 -4.1,24.1 -3.2,23.1 -4.3,22.1 -3.9,21.1 -4.3,20.1 -3.5,19.1 -5.0,18.1 -5.2,17.1 -4.4,16.1 -4.8,15.1 -4.5,14.1 -5.6,13.1 -5.4,12.1 -4.9,11.1 -4.8,10.0 -6.8,9.0 -5.1,8.0 -6.9,7.0 -5.8,6.0 -7.6,5.0 -8.6,4.0 -7.4,3.0 -9.2,2.0 -9.6,1.0 -10.2,-2.0" fill="#abd9b1" filter="url(#lblur)"/><polygon points="8.5,-2.0 7.9,1.0 7.6,2.0 6.1,3.0 7.2,4.0 6.2,5.0 4.7,6.0 5.7,7.0 4.1,8.0 5.6,9.0 4.0,10.0 4.1,11.1 4.4,12.1 4.5,13.1 3.8,14.1 4.0,15.1 3.6,16.1 4.3,17.1 4.2,18.1 2.8,19.1 3.5,20.1 3.2,21.1 3.5,22.1 2.6,23.1 3.4,24.1 2.6,25.1 2.7,26.1 2.9,27.1 2.5,28.1 2.7,29.1 2.5,30.1 2.4,31.1 2.2,32.1 2.5,33.2 2.5,34.2 2.0,35.2 2.3,36.2 1.9,37.2 2.0,38.2 2.4,39.2 1.9,40.2 2.2,41.2 1.8,42.2 2.2,43.2 2.2,44.2 1.6,45.2 2.2,46.2 2.1,47.2 1.7,48.2 1.7,49.2 1.6,50.2 1.8,51.2 1.6,52.2 1.5,53.2 2.0,54.2 2.0,55.3 1.8,56.3 2.2,57.3 1.7,58.3 2.0,59.3 2.0,60.3 1.8,61.3 1.7,62.3 1.6,63.3 1.5,64.3 1.9,65.3 1.9,66.3 1.9,67.3 1.7,68.3 1.8,69.3 1.8,70.3 1.7,71.3 1.8,72.3 1.6,73.3 2.0,74.3 1.5,75.3 1.8,76.3 1.9,77.4 1.5,78.4 1.4,79.4 1.7,80.4 1.8,81.4 1.6,82.4 1.5,83.4 1.6,84.4 1.7,85.4 1.6,86.4 2.0,87.4 1.8,90.4 -1.8,90.4 -2.0,87.4 -1.6,86.4 -1.7,85.4 -1.6,84.4 -1.5,83.4 -1.6,82.4 -1.8,81.4 -1.7,80.4 -1.4,79.4 -1.5,78.4 -1.9,77.4 -1.8,76.3 -1.5,75.3 -2.0,74.3 -1.6,73.3 -1.8,72.3 -1.7,71.3 -1.8,70.3 -1.8,69.3 -1.7,68.3 -1.9,67.3 -1.9,66.3 -1.9,65.3 -1.5,64.3 -1.6,63.3 -1.7,62.3 -1.8,61.3 -2.0,60.3 -2.0,59.3 -1.7,58.3 -2.2,57.3 -1.8,56.3 -2.0,55.3 -2.0,54.2 -1.5,53.2 -1.6,52.2 -1.8,51.2 -1.6,50.2 -1.7,49.2 -1.7,48.2 -2.1,47.2 -2.2,46.2 -1.6,45.2 -2.2,44.2 -2.2,43.2 -1.8,42.2 -2.2,41.2 -1.9,40.2 -2.4,39.2 -2.0,38.2 -1.9,37.2 -2.3,36.2 -2.0,35.2 -2.5,34.2 -2.5,33.2 -2.2,32.1 -2.4,31.1 -2.5,30.1 -2.7,29.1 -2.5,28.1 -2.9,27.1 -2.7,26.1 -2.6,25.1 -3.4,24.1 -2.6,23.1 -3.5,22.1 -3.2,21.1 -3.5,20.1 -2.8,19.1 -4.2,18.1 -4.3,17.1 -3.6,16.1 -4.0,15.1 -3.8,14.1 -4.5,13.1 -4.4,12.1 -4.1,11.1 -4.0,10.0 -5.6,9.0 -4.1,8.0 -5.7,7.0 -4.7,6.0 -6.2,5.0 -7.2,4.0 -6.1,3.0 -7.6,2.0 -7.9,1.0 -8.5,-2.0" fill="#86c890" filter="url(#lblur)"/><polygon points="6.9,-2.0 6.1,1.0 6.0,2.0 4.8,3.0 6.0,4.0 4.9,5.0 3.6,6.0 4.7,7.0 3.1,8.0 4.4,9.0 3.2,10.0 3.3,11.1 3.6,12.1 3.5,13.1 3.1,14.1 3.2,15.1 2.9,16.1 3.6,17.1 3.4,18.1 2.1,19.1 2.7,20.1 2.5,21.1 2.8,22.1 2.0,23.1 2.8,24.1 2.2,25.1 2.2,26.1 2.3,27.1 1.9,28.1 2.2,29.1 2.1,30.1 1.9,31.1 1.7,32.1 2.1,33.2 2.0,34.2 1.6,35.2 1.8,36.2 1.6,37.2 1.6,38.2 1.9,39.2 1.5,40.2 1.8,41.2 1.4,42.2 1.7,43.2 1.8,44.2 1.2,45.2 1.8,46.2 1.6,47.2 1.4,48.2 1.3,49.2 1.3,50.2 1.4,51.2 1.2,52.2 1.1,53.2 1.5,54.2 1.5,55.3 1.4,56.3 1.8,57.3 1.4,58.3 1.5,59.3 1.6,60.3 1.5,61.3 1.3,62.3 1.2,63.3 1.1,64.3 1.5,65.3 1.5,66.3 1.5,67.3 1.4,68.3 1.4,69.3 1.4,70.3 1.3,71.3 1.5,72.3 1.3,73.3 1.5,74.3 1.2,75.3 1.4,76.3 1.5,77.4 1.2,78.4 1.1,79.4 1.3,80.4 1.4,81.4 1.3,82.4 1.2,83.4 1.3,84.4 1.4,85.4 1.3,86.4 1.6,87.4 1.5,90.4 -1.5,90.4 -1.6,87.4 -1.3,86.4 -1.4,85.4 -1.3,84.4 -1.2,83.4 -1.3,82.4 -1.4,81.4 -1.3,80.4 -1.1,79.4 -1.2,78.4 -1.5,77.4 -1.4,76.3 -1.2,75.3 -1.5,74.3 -1.3,73.3 -1.5,72.3 -1.3,71.3 -1.4,70.3 -1.4,69.3 -1.4,68.3 -1.5,67.3 -1.5,66.3 -1.5,65.3 -1.1,64.3 -1.2,63.3 -1.3,62.3 -1.5,61.3 -1.6,60.3 -1.5,59.3 -1.4,58.3 -1.8,57.3 -1.4,56.3 -1.5,55.3 -1.5,54.2 -1.1,53.2 -1.2,52.2 -1.4,51.2 -1.3,50.2 -1.3,49.2 -1.4,48.2 -1.6,47.2 -1.8,46.2 -1.2,45.2 -1.8,44.2 -1.7,43.2 -1.4,42.2 -1.8,41.2 -1.5,40.2 -1.9,39.2 -1.6,38.2 -1.6,37.2 -1.8,36.2 -1.6,35.2 -2.0,34.2 -2.1,33.2 -1.7,32.1 -1.9,31.1 -2.1,30.1 -2.2,29.1 -1.9,28.1 -2.3,27.1 -2.2,26.1 -2.2,25.1 -2.8,24.1 -2.0,23.1 -2.8,22.1 -2.5,21.1 -2.7,20.1 -2.1,19.1 -3.4,18.1 -3.6,17.1 -2.9,16.1 -3.2,15.1 -3.1,14.1 -3.5,13.1 -3.6,12.1 -3.3,11.1 -3.2,10.0 -4.4,9.0 -3.1,8.0 -4.7,7.0 -3.6,6.0 -4.9,5.0 -6.0,4.0 -4.8,3.0 -6.0,2.0 -6.1,1.0 -6.9,-2.0" fill="#59b272" filter="url(#lblur)"/><polygon points="5.2,-2.0 3.8,1.0 4.1,2.0 3.3,3.0 4.6,4.0 3.1,5.0 2.2,6.0 3.4,7.0 1.5,8.0 2.8,9.0 2.2,10.0 2.5,11.1 2.6,12.1 2.0,13.1 2.3,14.1 2.1,15.1 2.1,16.1 2.7,17.1 2.6,18.1 1.0,19.1 1.7,20.1 1.7,21.1 1.9,22.1 1.2,23.1 2.1,24.1 1.7,25.1 1.6,26.1 1.8,27.1 0.9,28.1 1.7,29.1 1.5,30.1 1.2,31.1 1.0,32.1 1.6,33.2 1.5,34.2 1.0,35.2 1.2,36.2 1.2,37.2 1.1,38.2 1.2,39.2 1.0,40.2 1.4,41.2 0.8,42.2 1.1,43.2 1.3,44.2 0.5,45.2 1.4,46.2 1.1,47.2 0.9,48.2 0.8,49.2 0.9,50.2 0.9,51.2 0.6,52.2 0.6,53.2 0.7,54.2 1.0,55.3 0.9,56.3 1.3,57.3 0.9,58.3 0.8,59.3 1.1,60.3 1.0,61.3 0.6,62.3 0.8,63.3 0.6,64.3 0.9,65.3 0.9,66.3 0.9,67.3 0.9,68.3 0.7,69.3 0.9,70.3 0.8,71.3 1.1,72.3 1.0,73.3 1.0,74.3 0.8,75.3 0.5,76.3 1.1,77.4 0.8,78.4 0.5,79.4 0.8,80.4 0.9,81.4 1.0,82.4 0.9,83.4 1.0,84.4 0.9,85.4 0.9,86.4 1.2,87.4 1.1,90.4 -1.1,90.4 -1.2,87.4 -0.9,86.4 -0.9,85.4 -1.0,84.4 -0.9,83.4 -1.0,82.4 -0.9,81.4 -0.8,80.4 -0.5,79.4 -0.8,78.4 -1.1,77.4 -0.5,76.3 -0.8,75.3 -1.0,74.3 -1.0,73.3 -1.1,72.3 -0.8,71.3 -0.9,70.3 -0.7,69.3 -0.9,68.3 -0.9,67.3 -0.9,66.3 -0.9,65.3 -0.6,64.3 -0.8,63.3 -0.6,62.3 -1.0,61.3 -1.1,60.3 -0.8,59.3 -0.9,58.3 -1.3,57.3 -0.9,56.3 -1.0,55.3 -0.7,54.2 -0.6,53.2 -0.6,52.2 -0.9,51.2 -0.9,50.2 -0.8,49.2 -0.9,48.2 -1.1,47.2 -1.4,46.2 -0.5,45.2 -1.3,44.2 -1.1,43.2 -0.8,42.2 -1.4,41.2 -1.0,40.2 -1.2,39.2 -1.1,38.2 -1.2,37.2 -1.2,36.2 -1.0,35.2 -1.5,34.2 -1.6,33.2 -1.0,32.1 -1.2,31.1 -1.5,30.1 -1.7,29.1 -0.9,28.1 -1.8,27.1 -1.6,26.1 -1.7,25.1 -2.1,24.1 -1.2,23.1 -1.9,22.1 -1.7,21.1 -1.7,20.1 -1.0,19.1 -2.6,18.1 -2.7,17.1 -2.1,16.1 -2.1,15.1 -2.3,14.1 -2.0,13.1 -2.6,12.1 -2.5,11.1 -2.2,10.0 -2.8,9.0 -1.5,8.0 -3.4,7.0 -2.2,6.0 -3.1,5.0 -4.6,4.0 -3.3,3.0 -4.1,2.0 -3.8,1.0 -5.2,-2.0" fill="#2d9b55" filter="url(#lblur)"/></g>
<g id="w1H3K27Ac"><rect x="-11.7" y="0" width="23.3" height="88.4" fill="#f4f3fa"/><polygon points="4.3,-2.0 3.5,1.0 3.5,2.0 3.7,3.0 3.9,4.0 3.0,5.0 2.8,6.0 2.8,7.0 3.3,8.0 3.5,9.0 3.1,10.0 2.7,11.1 3.0,12.1 2.2,13.1 2.8,14.1 2.9,15.1 2.9,16.1 2.7,17.1 2.7,18.1 2.4,19.1 2.1,20.1 2.7,21.1 2.5,22.1 2.0,23.1 2.3,24.1 1.8,25.1 2.2,26.1 1.7,27.1 1.9,28.1 1.8,29.1 2.1,30.1 1.6,31.1 1.9,32.1 1.5,33.2 2.0,34.2 1.7,35.2 1.7,36.2 1.4,37.2 1.9,38.2 1.7,39.2 1.5,40.2 1.8,41.2 1.5,42.2 1.9,43.2 1.7,44.2 1.3,45.2 1.4,46.2 1.4,47.2 1.7,48.2 1.5,49.2 1.5,50.2 1.4,51.2 1.6,52.2 1.6,53.2 1.5,54.2 1.5,55.3 1.4,56.3 1.6,57.3 1.4,58.3 1.2,59.3 1.1,60.3 1.4,61.3 1.2,62.3 1.5,63.3 1.0,64.3 1.5,65.3 1.1,66.3 1.2,67.3 1.0,68.3 1.2,69.3 1.3,70.3 1.4,71.3 1.1,72.3 1.2,73.3 1.3,74.3 1.2,75.3 0.9,76.3 1.0,77.4 1.0,78.4 1.3,79.4 1.0,80.4 1.2,81.4 1.0,82.4 1.2,83.4 1.0,84.4 1.1,85.4 1.1,86.4 1.0,87.4 1.2,90.4 -1.2,90.4 -1.0,87.4 -1.1,86.4 -1.1,85.4 -1.0,84.4 -1.2,83.4 -1.0,82.4 -1.2,81.4 -1.0,80.4 -1.3,79.4 -1.0,78.4 -1.0,77.4 -0.9,76.3 -1.2,75.3 -1.3,74.3 -1.2,73.3 -1.1,72.3 -1.4,71.3 -1.3,70.3 -1.2,69.3 -1.0,68.3 -1.2,67.3 -1.1,66.3 -1.5,65.3 -1.0,64.3 -1.5,63.3 -1.2,62.3 -1.4,61.3 -1.1,60.3 -1.2,59.3 -1.4,58.3 -1.6,57.3 -1.4,56.3 -1.5,55.3 -1.5,54.2 -1.6,53.2 -1.6,52.2 -1.4,51.2 -1.5,50.2 -1.5,49.2 -1.7,48.2 -1.4,47.2 -1.4,46.2 -1.3,45.2 -1.7,44.2 -1.9,43.2 -1.5,42.2 -1.8,41.2 -1.5,40.2 -1.7,39.2 -1.9,38.2 -1.4,37.2 -1.7,36.2 -1.7,35.2 -2.0,34.2 -1.5,33.2 -1.9,32.1 -1.6,31.1 -2.1,30.1 -1.8,29.1 -1.9,28.1 -1.7,27.1 -2.2,26.1 -1.8,25.1 -2.3,24.1 -2.0,23.1 -2.5,22.1 -2.7,21.1 -2.1,20.1 -2.4,19.1 -2.7,18.1 -2.7,17.1 -2.9,16.1 -2.9,15.1 -2.8,14.1 -2.2,13.1 -3.0,12.1 -2.7,11.1 -3.1,10.0 -3.5,9.0 -3.3,8.0 -2.8,7.0 -2.8,6.0 -3.0,5.0 -3.9,4.0 -3.7,3.0 -3.5,2.0 -3.5,1.0 -4.3,-2.0" fill="#e4e2f3" filter="url(#lblur)"/><polygon points="2.0,-2.0 1.5,1.0 1.7,2.0 1.8,3.0 1.8,4.0 0.9,5.0 0.8,6.0 0.6,7.0 0.0,8.0 1.6,9.0 0.0,10.0 0.8,11.1 1.4,12.1 0.0,13.1 0.0,14.1 0.0,15.1 0.6,16.1 1.0,17.1 0.0,18.1 0.9,19.1 0.0,20.1 1.0,21.1 0.0,22.1 0.0,23.1 0.0,24.1 0.0,25.1 0.8,26.1 0.0,27.1 0.2,28.1 0.0,29.1 0.6,30.1 0.0,31.1 0.5,32.1 0.0,33.2 0.0,34.2 0.0,35.2 0.0,36.2 0.0,37.2 0.0,38.2 0.0,39.2 0.0,40.2 0.0,41.2 0.0,42.2 0.0,43.2 0.0,44.2 0.0,45.2 0.0,46.2 0.0,47.2 0.0,48.2 0.0,49.2 0.0,50.2 0.0,51.2 0.0,52.2 0.0,53.2 0.0,54.2 0.0,55.3 0.0,56.3 0.0,57.3 0.0,58.3 0.0,59.3 0.0,60.3 0.0,61.3 0.0,62.3 0.0,63.3 0.0,64.3 0.0,65.3 0.0,66.3 0.0,67.3 0.0,68.3 0.0,69.3 0.0,70.3 0.0,71.3 0.0,72.3 0.0,73.3 0.0,74.3 0.0,75.3 0.0,76.3 0.0,77.4 0.0,78.4 0.0,79.4 0.0,80.4 0.0,81.4 0.0,82.4 0.0,83.4 0.0,84.4 0.0,85.4 0.0,86.4 0.0,87.4 0.0,90.4 -0.0,90.4 -0.0,87.4 -0.0,86.4 -0.0,85.4 -0.0,84.4 -0.0,83.4 -0.0,82.4 -0.0,81.4 -0.0,80.4 -0.0,79.4 -0.0,78.4 -0.0,77.4 -0.0,76.3 -0.0,75.3 -0.0,74.3 -0.0,73.3 -0.0,72.3 -0.0,71.3 -0.0,70.3 -0.0,69.3 -0.0,68.3 -0.0,67.3 -0.0,66.3 -0.0,65.3 -0.0,64.3 -0.0,63.3 -0.0,62.3 -0.0,61.3 -0.0,60.3 -0.0,59.3 -0.0,58.3 -0.0,57.3 -0.0,56.3 -0.0,55.3 -0.0,54.2 -0.0,53.2 -0.0,52.2 -0.0,51.2 -0.0,50.2 -0.0,49.2 -0.0,48.2 -0.0,47.2 -0.0,46.2 -0.0,45.2 -0.0,44.2 -0.0,43.2 -0.0,42.2 -0.0,41.2 -0.0,40.2 -0.0,39.2 -0.0,38.2 -0.0,37.2 -0.0,36.2 -0.0,35.2 -0.0,34.2 -0.0,33.2 -0.5,32.1 -0.0,31.1 -0.6,30.1 -0.0,29.1 -0.2,28.1 -0.0,27.1 -0.8,26.1 -0.0,25.1 -0.0,24.1 -0.0,23.1 -0.0,22.1 -1.0,21.1 -0.0,20.1 -0.9,19.1 -0.0,18.1 -1.0,17.1 -0.6,16.1 -0.0,15.1 -0.0,14.1 -0.0,13.1 -1.4,12.1 -0.8,11.1 -0.0,10.0 -1.6,9.0 -0.0,8.0 -0.6,7.0 -0.8,6.0 -0.9,5.0 -1.8,4.0 -1.8,3.0 -1.7,2.0 -1.5,1.0 -2.0,-2.0" fill="#d0cce9" filter="url(#lblur)"/></g>
<g id="w1Pol2"><rect x="-11.7" y="0" width="23.3" height="88.4" fill="#f6f4cc"/><polygon points="8.4,-2.0 7.0,1.0 7.1,2.0 5.9,3.0 5.4,4.0 6.1,5.0 6.2,6.0 5.0,7.0 5.6,8.0 5.3,9.0 4.1,10.0 5.1,11.1 4.8,12.1 4.3,13.1 4.2,14.1 4.5,15.1 3.4,16.1 4.4,17.1 3.8,18.1 3.9,19.1 4.0,20.1 3.0,21.1 3.5,22.1 3.2,23.1 3.1,24.1 3.3,25.1 3.4,26.1 2.7,27.1 3.0,28.1 2.8,29.1 2.8,30.1 3.0,31.1 2.4,32.1 2.9,33.2 2.9,34.2 2.1,35.2 2.8,36.2 2.7,37.2 2.6,38.2 2.0,39.2 2.0,40.2 2.6,41.2 2.5,42.2 2.3,43.2 2.0,44.2 1.9,45.2 2.2,46.2 1.9,47.2 2.2,48.2 2.1,49.2 2.3,50.2 2.3,51.2 1.8,52.2 1.9,53.2 2.1,54.2 1.9,55.3 2.3,56.3 2.1,57.3 2.2,58.3 2.1,59.3 2.2,60.3 2.1,61.3 2.2,62.3 1.8,63.3 2.2,64.3 1.9,65.3 2.3,66.3 1.8,67.3 1.8,68.3 2.0,69.3 2.0,70.3 2.0,71.3 1.7,72.3 1.7,73.3 1.8,74.3 2.0,75.3 2.1,76.3 2.2,77.4 1.8,78.4 1.7,79.4 1.8,80.4 2.0,81.4 1.6,82.4 2.0,83.4 1.9,84.4 2.0,85.4 2.1,86.4 1.8,87.4 1.7,90.4 -1.7,90.4 -1.8,87.4 -2.1,86.4 -2.0,85.4 -1.9,84.4 -2.0,83.4 -1.6,82.4 -2.0,81.4 -1.8,80.4 -1.7,79.4 -1.8,78.4 -2.2,77.4 -2.1,76.3 -2.0,75.3 -1.8,74.3 -1.7,73.3 -1.7,72.3 -2.0,71.3 -2.0,70.3 -2.0,69.3 -1.8,68.3 -1.8,67.3 -2.3,66.3 -1.9,65.3 -2.2,64.3 -1.8,63.3 -2.2,62.3 -2.1,61.3 -2.2,60.3 -2.1,59.3 -2.2,58.3 -2.1,57.3 -2.3,56.3 -1.9,55.3 -2.1,54.2 -1.9,53.2 -1.8,52.2 -2.3,51.2 -2.3,50.2 -2.1,49.2 -2.2,48.2 -1.9,47.2 -2.2,46.2 -1.9,45.2 -2.0,44.2 -2.3,43.2 -2.5,42.2 -2.6,41.2 -2.0,40.2 -2.0,39.2 -2.6,38.2 -2.7,37.2 -2.8,36.2 -2.1,35.2 -2.9,34.2 -2.9,33.2 -2.4,32.1 -3.0,31.1 -2.8,30.1 -2.8,29.1 -3.0,28.1 -2.7,27.1 -3.4,26.1 -3.3,25.1 -3.1,24.1 -3.2,23.1 -3.5,22.1 -3.0,21.1 -4.0,20.1 -3.9,19.1 -3.8,18.1 -4.4,17.1 -3.4,16.1 -4.5,15.1 -4.2,14.1 -4.3,13.1 -4.8,12.1 -5.1,11.1 -4.1,10.0 -5.3,9.0 -5.6,8.0 -5.0,7.0 -6.2,6.0 -6.1,5.0 -5.4,4.0 -5.9,3.0 -7.1,2.0 -7.0,1.0 -8.4,-2.0" fill="#e4ebb6" filter="url(#lblur)"/><polygon points="6.8,-2.0 5.6,1.0 5.8,2.0 4.7,3.0 4.4,4.0 5.0,5.0 5.1,6.0 4.0,7.0 4.4,8.0 4.3,9.0 3.3,10.0 4.1,11.1 3.8,12.1 3.5,13.1 3.4,14.1 3.7,15.1 2.8,16.1 3.5,17.1 3.0,18.1 3.2,19.1 3.2,20.1 2.4,21.1 2.8,22.1 2.6,23.1 2.5,24.1 2.6,25.1 2.7,26.1 2.2,27.1 2.4,28.1 2.3,29.1 2.2,30.1 2.5,31.1 1.9,32.1 2.3,33.2 2.3,34.2 1.7,35.2 2.3,36.2 2.2,37.2 2.1,38.2 1.6,39.2 1.7,40.2 2.1,41.2 2.0,42.2 1.8,43.2 1.6,44.2 1.5,45.2 1.7,46.2 1.5,47.2 1.7,48.2 1.7,49.2 1.9,50.2 1.8,51.2 1.4,52.2 1.5,53.2 1.7,54.2 1.5,55.3 1.8,56.3 1.7,57.3 1.7,58.3 1.6,59.3 1.8,60.3 1.6,61.3 1.8,62.3 1.4,63.3 1.7,64.3 1.5,65.3 1.9,66.3 1.5,67.3 1.4,68.3 1.5,69.3 1.6,70.3 1.6,71.3 1.3,72.3 1.3,73.3 1.4,74.3 1.6,75.3 1.7,76.3 1.7,77.4 1.4,78.4 1.3,79.4 1.5,80.4 1.5,81.4 1.3,82.4 1.5,83.4 1.5,84.4 1.6,85.4 1.7,86.4 1.4,87.4 1.3,90.4 -1.3,90.4 -1.4,87.4 -1.7,86.4 -1.6,85.4 -1.5,84.4 -1.5,83.4 -1.3,82.4 -1.5,81.4 -1.5,80.4 -1.3,79.4 -1.4,78.4 -1.7,77.4 -1.7,76.3 -1.6,75.3 -1.4,74.3 -1.3,73.3 -1.3,72.3 -1.6,71.3 -1.6,70.3 -1.5,69.3 -1.4,68.3 -1.5,67.3 -1.9,66.3 -1.5,65.3 -1.7,64.3 -1.4,63.3 -1.8,62.3 -1.6,61.3 -1.8,60.3 -1.6,59.3 -1.7,58.3 -1.7,57.3 -1.8,56.3 -1.5,55.3 -1.7,54.2 -1.5,53.2 -1.4,52.2 -1.8,51.2 -1.9,50.2 -1.7,49.2 -1.7,48.2 -1.5,47.2 -1.7,46.2 -1.5,45.2 -1.6,44.2 -1.8,43.2 -2.0,42.2 -2.1,41.2 -1.7,40.2 -1.6,39.2 -2.1,38.2 -2.2,37.2 -2.3,36.2 -1.7,35.2 -2.3,34.2 -2.3,33.2 -1.9,32.1 -2.5,31.1 -2.2,30.1 -2.3,29.1 -2.4,28.1 -2.2,27.1 -2.7,26.1 -2.6,25.1 -2.5,24.1 -2.6,23.1 -2.8,22.1 -2.4,21.1 -3.2,20.1 -3.2,19.1 -3.0,18.1 -3.5,17.1 -2.8,16.1 -3.7,15.1 -3.4,14.1 -3.5,13.1 -3.8,12.1 -4.1,11.1 -3.3,10.0 -4.3,9.0 -4.4,8.0 -4.0,7.0 -5.1,6.0 -5.0,5.0 -4.4,4.0 -4.7,3.0 -5.8,2.0 -5.6,1.0 -6.8,-2.0" fill="#cce09a" filter="url(#lblur)"/><polygon points="5.6,-2.0 4.5,1.0 4.8,2.0 3.9,3.0 3.6,4.0 4.2,5.0 4.2,6.0 3.3,7.0 3.5,8.0 3.5,9.0 2.7,10.0 3.3,11.1 3.1,12.1 2.9,13.1 2.8,14.1 3.0,15.1 2.2,16.1 2.8,17.1 2.4,18.1 2.6,19.1 2.6,20.1 2.0,21.1 2.3,22.1 2.1,23.1 2.0,24.1 2.2,25.1 2.2,26.1 1.8,27.1 1.9,28.1 1.9,29.1 1.7,30.1 2.0,31.1 1.6,32.1 1.9,33.2 1.9,34.2 1.4,35.2 1.9,36.2 1.8,37.2 1.7,38.2 1.3,39.2 1.4,40.2 1.7,41.2 1.6,42.2 1.4,43.2 1.3,44.2 1.2,45.2 1.3,46.2 1.2,47.2 1.4,48.2 1.4,49.2 1.5,50.2 1.5,51.2 1.1,52.2 1.2,53.2 1.4,54.2 1.2,55.3 1.5,56.3 1.3,57.3 1.4,58.3 1.3,59.3 1.4,60.3 1.3,61.3 1.4,62.3 1.1,63.3 1.4,64.3 1.2,65.3 1.5,66.3 1.1,67.3 1.1,68.3 1.2,69.3 1.3,70.3 1.3,71.3 1.0,72.3 1.1,73.3 1.1,74.3 1.3,75.3 1.4,76.3 1.3,77.4 1.1,78.4 1.0,79.4 1.2,80.4 1.2,81.4 1.0,82.4 1.2,83.4 1.2,84.4 1.2,85.4 1.3,86.4 1.1,87.4 1.0,90.4 -1.0,90.4 -1.1,87.4 -1.3,86.4 -1.2,85.4 -1.2,84.4 -1.2,83.4 -1.0,82.4 -1.2,81.4 -1.2,80.4 -1.0,79.4 -1.1,78.4 -1.3,77.4 -1.4,76.3 -1.3,75.3 -1.1,74.3 -1.1,73.3 -1.0,72.3 -1.3,71.3 -1.3,70.3 -1.2,69.3 -1.1,68.3 -1.1,67.3 -1.5,66.3 -1.2,65.3 -1.4,64.3 -1.1,63.3 -1.4,62.3 -1.3,61.3 -1.4,60.3 -1.3,59.3 -1.4,58.3 -1.3,57.3 -1.5,56.3 -1.2,55.3 -1.4,54.2 -1.2,53.2 -1.1,52.2 -1.5,51.2 -1.5,50.2 -1.4,49.2 -1.4,48.2 -1.2,47.2 -1.3,46.2 -1.2,45.2 -1.3,44.2 -1.4,43.2 -1.6,42.2 -1.7,41.2 -1.4,40.2 -1.3,39.2 -1.7,38.2 -1.8,37.2 -1.9,36.2 -1.4,35.2 -1.9,34.2 -1.9,33.2 -1.6,32.1 -2.0,31.1 -1.7,30.1 -1.9,29.1 -1.9,28.1 -1.8,27.1 -2.2,26.1 -2.2,25.1 -2.0,24.1 -2.1,23.1 -2.3,22.1 -2.0,21.1 -2.6,20.1 -2.6,19.1 -2.4,18.1 -2.8,17.1 -2.2,16.1 -3.0,15.1 -2.8,14.1 -2.9,13.1 -3.1,12.1 -3.3,11.1 -2.7,10.0 -3.5,9.0 -3.5,8.0 -3.3,7.0 -4.2,6.0 -4.2,5.0 -3.6,4.0 -3.9,3.0 -4.8,2.0 -4.5,1.0 -5.6,-2.0" fill="#b4d47e" filter="url(#lblur)"/><polygon points="4.4,-2.0 3.4,1.0 3.9,2.0 3.0,3.0 2.8,4.0 3.4,5.0 3.4,6.0 2.6,7.0 2.6,8.0 2.8,9.0 2.0,10.0 2.4,11.1 2.4,12.1 2.3,13.1 2.3,14.1 2.3,15.1 1.7,16.1 2.1,17.1 1.8,18.1 2.0,19.1 2.0,20.1 1.6,21.1 1.9,22.1 1.6,23.1 1.6,24.1 1.7,25.1 1.7,26.1 1.4,27.1 1.4,28.1 1.5,29.1 1.2,30.1 1.6,31.1 1.2,32.1 1.5,33.2 1.4,34.2 1.1,35.2 1.5,36.2 1.4,37.2 1.3,38.2 0.9,39.2 1.1,40.2 1.3,41.2 1.2,42.2 0.9,43.2 0.9,44.2 0.9,45.2 0.9,46.2 0.8,47.2 1.1,48.2 1.0,49.2 1.2,50.2 1.1,51.2 0.7,52.2 0.9,53.2 1.0,54.2 0.8,55.3 1.2,56.3 0.9,57.3 1.1,58.3 1.0,59.3 1.0,60.3 0.8,61.3 1.0,62.3 0.8,63.3 1.0,64.3 0.9,65.3 1.2,66.3 0.8,67.3 0.7,68.3 0.8,69.3 0.9,70.3 1.0,71.3 0.7,72.3 0.8,73.3 0.7,74.3 1.0,75.3 1.0,76.3 0.9,77.4 0.8,78.4 0.6,79.4 0.8,80.4 0.8,81.4 0.6,82.4 0.8,83.4 0.9,84.4 0.9,85.4 0.9,86.4 0.7,87.4 0.6,90.4 -0.6,90.4 -0.7,87.4 -0.9,86.4 -0.9,85.4 -0.9,84.4 -0.8,83.4 -0.6,82.4 -0.8,81.4 -0.8,80.4 -0.6,79.4 -0.8,78.4 -0.9,77.4 -1.0,76.3 -1.0,75.3 -0.7,74.3 -0.8,73.3 -0.7,72.3 -1.0,71.3 -0.9,70.3 -0.8,69.3 -0.7,68.3 -0.8,67.3 -1.2,66.3 -0.9,65.3 -1.0,64.3 -0.8,63.3 -1.0,62.3 -0.8,61.3 -1.0,60.3 -1.0,59.3 -1.1,58.3 -0.9,57.3 -1.2,56.3 -0.8,55.3 -1.0,54.2 -0.9,53.2 -0.7,52.2 -1.1,51.2 -1.2,50.2 -1.0,49.2 -1.1,48.2 -0.8,47.2 -0.9,46.2 -0.9,45.2 -0.9,44.2 -0.9,43.2 -1.2,42.2 -1.3,41.2 -1.1,40.2 -0.9,39.2 -1.3,38.2 -1.4,37.2 -1.5,36.2 -1.1,35.2 -1.4,34.2 -1.5,33.2 -1.2,32.1 -1.6,31.1 -1.2,30.1 -1.5,29.1 -1.4,28.1 -1.4,27.1 -1.7,26.1 -1.7,25.1 -1.6,24.1 -1.6,23.1 -1.9,22.1 -1.6,21.1 -2.0,20.1 -2.0,19.1 -1.8,18.1 -2.1,17.1 -1.7,16.1 -2.3,15.1 -2.3,14.1 -2.3,13.1 -2.4,12.1 -2.4,11.1 -2.0,10.0 -2.8,9.0 -2.6,8.0 -2.6,7.0 -3.4,6.0 -3.4,5.0 -2.8,4.0 -3.0,3.0 -3.9,2.0 -3.4,1.0 -4.4,-2.0" fill="#79b966" filter="url(#lblur)"/><polygon points="2.8,-2.0 1.8,1.0 2.9,2.0 1.8,3.0 1.8,4.0 2.6,5.0 2.5,6.0 1.6,7.0 1.1,8.0 1.9,9.0 1.0,10.0 1.1,11.1 1.5,12.1 1.7,13.1 1.6,14.1 1.5,15.1 0.9,16.1 1.1,17.1 0.8,18.1 1.4,19.1 1.3,20.1 1.1,21.1 1.3,22.1 0.8,23.1 1.0,24.1 1.1,25.1 1.0,26.1 1.0,27.1 0.0,28.1 1.0,29.1 0.0,30.1 1.0,31.1 0.8,32.1 0.8,33.2 0.8,34.2 0.7,35.2 1.0,36.2 1.0,37.2 0.6,38.2 0.0,39.2 0.7,40.2 0.9,41.2 0.5,42.2 0.0,43.2 0.3,44.2 0.0,45.2 0.0,46.2 0.0,47.2 0.7,48.2 0.6,49.2 0.7,50.2 0.4,51.2 0.0,52.2 0.0,53.2 0.3,54.2 0.0,55.3 0.7,56.3 0.0,57.3 0.6,58.3 0.4,59.3 0.0,60.3 0.0,61.3 0.2,62.3 0.3,63.3 0.0,64.3 0.4,65.3 0.7,66.3 0.0,67.3 0.0,68.3 0.0,69.3 0.4,70.3 0.5,71.3 0.0,72.3 0.2,73.3 0.0,74.3 0.5,75.3 0.5,76.3 0.0,77.4 0.2,78.4 0.0,79.4 0.0,80.4 0.0,81.4 0.0,82.4 0.0,83.4 0.0,84.4 0.2,85.4 0.0,86.4 0.0,87.4 0.0,90.4 -0.0,90.4 -0.0,87.4 -0.0,86.4 -0.2,85.4 -0.0,84.4 -0.0,83.4 -0.0,82.4 -0.0,81.4 -0.0,80.4 -0.0,79.4 -0.2,78.4 -0.0,77.4 -0.5,76.3 -0.5,75.3 -0.0,74.3 -0.2,73.3 -0.0,72.3 -0.5,71.3 -0.4,70.3 -0.0,69.3 -0.0,68.3 -0.0,67.3 -0.7,66.3 -0.4,65.3 -0.0,64.3 -0.3,63.3 -0.2,62.3 -0.0,61.3 -0.0,60.3 -0.4,59.3 -0.6,58.3 -0.0,57.3 -0.7,56.3 -0.0,55.3 -0.3,54.2 -0.0,53.2 -0.0,52.2 -0.4,51.2 -0.7,50.2 -0.6,49.2 -0.7,48.2 -0.0,47.2 -0.0,46.2 -0.0,45.2 -0.3,44.2 -0.0,43.2 -0.5,42.2 -0.9,41.2 -0.7,40.2 -0.0,39.2 -0.6,38.2 -1.0,37.2 -1.0,36.2 -0.7,35.2 -0.8,34.2 -0.8,33.2 -0.8,32.1 -1.0,31.1 -0.0,30.1 -1.0,29.1 -0.0,28.1 -1.0,27.1 -1.0,26.1 -1.1,25.1 -1.0,24.1 -0.8,23.1 -1.3,22.1 -1.1,21.1 -1.3,20.1 -1.4,19.1 -0.8,18.1 -1.1,17.1 -0.9,16.1 -1.5,15.1 -1.6,14.1 -1.7,13.1 -1.5,12.1 -1.1,11.1 -1.0,10.0 -1.9,9.0 -1.1,8.0 -1.6,7.0 -2.5,6.0 -2.6,5.0 -1.8,4.0 -1.8,3.0 -2.9,2.0 -1.8,1.0 -2.8,-2.0" fill="#3d9f4d" filter="url(#lblur)"/></g>
<g id="w1ATAC"><rect x="-11.7" y="0" width="23.3" height="88.4" fill="#fdf1c4"/><polygon points="7.6,-2.0 5.8,1.0 6.1,2.0 5.3,3.0 6.7,4.0 5.9,5.0 5.8,6.0 4.9,7.0 4.5,8.0 5.7,9.0 5.6,10.0 5.0,11.1 4.8,12.1 4.4,13.1 4.8,14.1 3.5,15.1 4.1,16.1 3.4,17.1 4.1,18.1 3.5,19.1 3.2,20.1 3.3,21.1 3.2,22.1 3.4,23.1 3.4,24.1 3.4,25.1 3.0,26.1 3.4,27.1 3.4,28.1 3.1,29.1 3.2,30.1 2.8,31.1 3.2,32.1 3.3,33.2 3.2,34.2 2.7,35.2 2.7,36.2 2.7,37.2 2.4,38.2 3.1,39.2 2.7,40.2 2.6,41.2 2.5,42.2 2.9,43.2 2.6,44.2 2.9,45.2 2.9,46.2 2.9,47.2 2.2,48.2 2.6,49.2 2.7,50.2 2.8,51.2 2.2,52.2 2.3,53.2 2.8,54.2 2.3,55.3 2.6,56.3 2.4,57.3 2.1,58.3 2.4,59.3 2.5,60.3 2.1,61.3 2.4,62.3 2.4,63.3 2.1,64.3 2.5,65.3 2.1,66.3 2.7,67.3 2.7,68.3 2.1,69.3 2.3,70.3 2.4,71.3 2.2,72.3 2.2,73.3 2.0,74.3 2.0,75.3 2.0,76.3 2.3,77.4 2.3,78.4 2.5,79.4 2.6,80.4 2.4,81.4 2.1,82.4 2.3,83.4 2.6,84.4 2.6,85.4 2.0,86.4 2.1,87.4 2.3,90.4 -2.3,90.4 -2.1,87.4 -2.0,86.4 -2.6,85.4 -2.6,84.4 -2.3,83.4 -2.1,82.4 -2.4,81.4 -2.6,80.4 -2.5,79.4 -2.3,78.4 -2.3,77.4 -2.0,76.3 -2.0,75.3 -2.0,74.3 -2.2,73.3 -2.2,72.3 -2.4,71.3 -2.3,70.3 -2.1,69.3 -2.7,68.3 -2.7,67.3 -2.1,66.3 -2.5,65.3 -2.1,64.3 -2.4,63.3 -2.4,62.3 -2.1,61.3 -2.5,60.3 -2.4,59.3 -2.1,58.3 -2.4,57.3 -2.6,56.3 -2.3,55.3 -2.8,54.2 -2.3,53.2 -2.2,52.2 -2.8,51.2 -2.7,50.2 -2.6,49.2 -2.2,48.2 -2.9,47.2 -2.9,46.2 -2.9,45.2 -2.6,44.2 -2.9,43.2 -2.5,42.2 -2.6,41.2 -2.7,40.2 -3.1,39.2 -2.4,38.2 -2.7,37.2 -2.7,36.2 -2.7,35.2 -3.2,34.2 -3.3,33.2 -3.2,32.1 -2.8,31.1 -3.2,30.1 -3.1,29.1 -3.4,28.1 -3.4,27.1 -3.0,26.1 -3.4,25.1 -3.4,24.1 -3.4,23.1 -3.2,22.1 -3.3,21.1 -3.2,20.1 -3.5,19.1 -4.1,18.1 -3.4,17.1 -4.1,16.1 -3.5,15.1 -4.8,14.1 -4.4,13.1 -4.8,12.1 -5.0,11.1 -5.6,10.0 -5.7,9.0 -4.5,8.0 -4.9,7.0 -5.8,6.0 -5.9,5.0 -6.7,4.0 -5.3,3.0 -6.1,2.0 -5.8,1.0 -7.6,-2.0" fill="#fce5ab" filter="url(#lblur)"/><polygon points="6.1,-2.0 4.6,1.0 4.8,2.0 4.3,3.0 5.5,4.0 4.8,5.0 4.7,6.0 3.9,7.0 3.6,8.0 4.6,9.0 4.6,10.0 4.0,11.1 3.8,12.1 3.6,13.1 3.8,14.1 2.9,15.1 3.3,16.1 2.8,17.1 3.4,18.1 2.8,19.1 2.6,20.1 2.6,21.1 2.6,22.1 2.7,23.1 2.8,24.1 2.7,25.1 2.4,26.1 2.7,27.1 2.7,28.1 2.5,29.1 2.5,30.1 2.3,31.1 2.6,32.1 2.6,33.2 2.6,34.2 2.2,35.2 2.1,36.2 2.2,37.2 1.9,38.2 2.5,39.2 2.1,40.2 2.1,41.2 2.0,42.2 2.3,43.2 2.1,44.2 2.3,45.2 2.3,46.2 2.3,47.2 1.8,48.2 2.1,49.2 2.2,50.2 2.2,51.2 1.8,52.2 1.8,53.2 2.3,54.2 1.8,55.3 2.1,56.3 1.9,57.3 1.7,58.3 1.9,59.3 2.0,60.3 1.7,61.3 1.9,62.3 2.0,63.3 1.7,64.3 2.0,65.3 1.7,66.3 2.2,67.3 2.2,68.3 1.6,69.3 1.8,70.3 1.9,71.3 1.8,72.3 1.8,73.3 1.6,74.3 1.6,75.3 1.6,76.3 1.9,77.4 1.8,78.4 2.0,79.4 2.1,80.4 1.9,81.4 1.7,82.4 1.9,83.4 2.1,84.4 2.1,85.4 1.6,86.4 1.7,87.4 1.9,90.4 -1.9,90.4 -1.7,87.4 -1.6,86.4 -2.1,85.4 -2.1,84.4 -1.9,83.4 -1.7,82.4 -1.9,81.4 -2.1,80.4 -2.0,79.4 -1.8,78.4 -1.9,77.4 -1.6,76.3 -1.6,75.3 -1.6,74.3 -1.8,73.3 -1.8,72.3 -1.9,71.3 -1.8,70.3 -1.6,69.3 -2.2,68.3 -2.2,67.3 -1.7,66.3 -2.0,65.3 -1.7,64.3 -2.0,63.3 -1.9,62.3 -1.7,61.3 -2.0,60.3 -1.9,59.3 -1.7,58.3 -1.9,57.3 -2.1,56.3 -1.8,55.3 -2.3,54.2 -1.8,53.2 -1.8,52.2 -2.2,51.2 -2.2,50.2 -2.1,49.2 -1.8,48.2 -2.3,47.2 -2.3,46.2 -2.3,45.2 -2.1,44.2 -2.3,43.2 -2.0,42.2 -2.1,41.2 -2.1,40.2 -2.5,39.2 -1.9,38.2 -2.2,37.2 -2.1,36.2 -2.2,35.2 -2.6,34.2 -2.6,33.2 -2.6,32.1 -2.3,31.1 -2.5,30.1 -2.5,29.1 -2.7,28.1 -2.7,27.1 -2.4,26.1 -2.7,25.1 -2.8,24.1 -2.7,23.1 -2.6,22.1 -2.6,21.1 -2.6,20.1 -2.8,19.1 -3.4,18.1 -2.8,17.1 -3.3,16.1 -2.9,15.1 -3.8,14.1 -3.6,13.1 -3.8,12.1 -4.0,11.1 -4.6,10.0 -4.6,9.0 -3.6,8.0 -3.9,7.0 -4.7,6.0 -4.8,5.0 -5.5,4.0 -4.3,3.0 -4.8,2.0 -4.6,1.0 -6.1,-2.0" fill="#fad58a" filter="url(#lblur)"/><polygon points="5.1,-2.0 3.8,1.0 3.9,2.0 3.6,3.0 4.6,4.0 3.9,5.0 3.8,6.0 3.2,7.0 2.9,8.0 3.7,9.0 3.8,10.0 3.2,11.1 3.1,12.1 2.9,13.1 3.1,14.1 2.4,15.1 2.8,16.1 2.3,17.1 2.8,18.1 2.2,19.1 2.2,20.1 2.1,21.1 2.1,22.1 2.2,23.1 2.3,24.1 2.2,25.1 2.0,26.1 2.2,27.1 2.2,28.1 2.1,29.1 2.1,30.1 1.8,31.1 2.1,32.1 2.2,33.2 2.1,34.2 1.8,35.2 1.7,36.2 1.7,37.2 1.5,38.2 2.1,39.2 1.8,40.2 1.7,41.2 1.7,42.2 1.9,43.2 1.7,44.2 1.9,45.2 1.8,46.2 1.8,47.2 1.5,48.2 1.7,49.2 1.8,50.2 1.9,51.2 1.4,52.2 1.5,53.2 1.9,54.2 1.5,55.3 1.8,56.3 1.5,57.3 1.3,58.3 1.5,59.3 1.6,60.3 1.4,61.3 1.6,62.3 1.6,63.3 1.4,64.3 1.6,65.3 1.4,66.3 1.8,67.3 1.9,68.3 1.3,69.3 1.4,70.3 1.6,71.3 1.5,72.3 1.5,73.3 1.3,74.3 1.3,75.3 1.3,76.3 1.6,77.4 1.5,78.4 1.6,79.4 1.7,80.4 1.5,81.4 1.3,82.4 1.5,83.4 1.7,84.4 1.7,85.4 1.3,86.4 1.4,87.4 1.5,90.4 -1.5,90.4 -1.4,87.4 -1.3,86.4 -1.7,85.4 -1.7,84.4 -1.5,83.4 -1.3,82.4 -1.5,81.4 -1.7,80.4 -1.6,79.4 -1.5,78.4 -1.6,77.4 -1.3,76.3 -1.3,75.3 -1.3,74.3 -1.5,73.3 -1.5,72.3 -1.6,71.3 -1.4,70.3 -1.3,69.3 -1.9,68.3 -1.8,67.3 -1.4,66.3 -1.6,65.3 -1.4,64.3 -1.6,63.3 -1.6,62.3 -1.4,61.3 -1.6,60.3 -1.5,59.3 -1.3,58.3 -1.5,57.3 -1.8,56.3 -1.5,55.3 -1.9,54.2 -1.5,53.2 -1.4,52.2 -1.9,51.2 -1.8,50.2 -1.7,49.2 -1.5,48.2 -1.8,47.2 -1.8,46.2 -1.9,45.2 -1.7,44.2 -1.9,43.2 -1.7,42.2 -1.7,41.2 -1.8,40.2 -2.1,39.2 -1.5,38.2 -1.7,37.2 -1.7,36.2 -1.8,35.2 -2.1,34.2 -2.2,33.2 -2.1,32.1 -1.8,31.1 -2.1,30.1 -2.1,29.1 -2.2,28.1 -2.2,27.1 -2.0,26.1 -2.2,25.1 -2.3,24.1 -2.2,23.1 -2.1,22.1 -2.1,21.1 -2.2,20.1 -2.2,19.1 -2.8,18.1 -2.3,17.1 -2.8,16.1 -2.4,15.1 -3.1,14.1 -2.9,13.1 -3.1,12.1 -3.2,11.1 -3.8,10.0 -3.7,9.0 -2.9,8.0 -3.2,7.0 -3.8,6.0 -3.9,5.0 -4.6,4.0 -3.6,3.0 -3.9,2.0 -3.8,1.0 -5.1,-2.0" fill="#f9c66a" filter="url(#lblur)"/><polygon points="4.0,-2.0 3.0,1.0 3.0,2.0 2.9,3.0 3.8,4.0 3.0,5.0 3.0,6.0 2.5,7.0 2.2,8.0 2.8,9.0 3.1,10.0 2.5,11.1 2.4,12.1 2.3,13.1 2.3,14.1 1.9,15.1 2.2,16.1 1.8,17.1 2.2,18.1 1.6,19.1 1.8,20.1 1.6,21.1 1.6,22.1 1.6,23.1 1.8,24.1 1.8,25.1 1.5,26.1 1.7,27.1 1.7,28.1 1.7,29.1 1.6,30.1 1.4,31.1 1.6,32.1 1.7,33.2 1.7,34.2 1.4,35.2 1.3,36.2 1.3,37.2 1.2,38.2 1.7,39.2 1.4,40.2 1.4,41.2 1.4,42.2 1.5,43.2 1.3,44.2 1.6,45.2 1.4,46.2 1.4,47.2 1.1,48.2 1.2,49.2 1.5,50.2 1.5,51.2 1.1,52.2 1.1,53.2 1.6,54.2 1.2,55.3 1.4,56.3 1.1,57.3 1.0,58.3 1.1,59.3 1.2,60.3 1.1,61.3 1.3,62.3 1.2,63.3 1.1,64.3 1.2,65.3 1.1,66.3 1.4,67.3 1.5,68.3 1.0,69.3 1.1,70.3 1.3,71.3 1.2,72.3 1.2,73.3 0.9,74.3 1.0,75.3 1.0,76.3 1.2,77.4 1.2,78.4 1.2,79.4 1.3,80.4 1.2,81.4 1.0,82.4 1.1,83.4 1.2,84.4 1.3,85.4 1.0,86.4 1.0,87.4 1.2,90.4 -1.2,90.4 -1.0,87.4 -1.0,86.4 -1.3,85.4 -1.2,84.4 -1.1,83.4 -1.0,82.4 -1.2,81.4 -1.3,80.4 -1.2,79.4 -1.2,78.4 -1.2,77.4 -1.0,76.3 -1.0,75.3 -0.9,74.3 -1.2,73.3 -1.2,72.3 -1.3,71.3 -1.1,70.3 -1.0,69.3 -1.5,68.3 -1.4,67.3 -1.1,66.3 -1.2,65.3 -1.1,64.3 -1.2,63.3 -1.3,62.3 -1.1,61.3 -1.2,60.3 -1.1,59.3 -1.0,58.3 -1.1,57.3 -1.4,56.3 -1.2,55.3 -1.6,54.2 -1.1,53.2 -1.1,52.2 -1.5,51.2 -1.5,50.2 -1.2,49.2 -1.1,48.2 -1.4,47.2 -1.4,46.2 -1.6,45.2 -1.3,44.2 -1.5,43.2 -1.4,42.2 -1.4,41.2 -1.4,40.2 -1.7,39.2 -1.2,38.2 -1.3,37.2 -1.3,36.2 -1.4,35.2 -1.7,34.2 -1.7,33.2 -1.6,32.1 -1.4,31.1 -1.6,30.1 -1.7,29.1 -1.7,28.1 -1.7,27.1 -1.5,26.1 -1.8,25.1 -1.8,24.1 -1.6,23.1 -1.6,22.1 -1.6,21.1 -1.8,20.1 -1.6,19.1 -2.2,18.1 -1.8,17.1 -2.2,16.1 -1.9,15.1 -2.3,14.1 -2.3,13.1 -2.4,12.1 -2.5,11.1 -3.1,10.0 -2.8,9.0 -2.2,8.0 -2.5,7.0 -3.0,6.0 -3.0,5.0 -3.8,4.0 -2.9,3.0 -3.0,2.0 -3.0,1.0 -4.0,-2.0" fill="#f4a748" filter="url(#lblur)"/><polygon points="2.7,-2.0 2.0,1.0 1.6,2.0 2.1,3.0 2.8,4.0 1.8,5.0 1.8,6.0 1.6,7.0 1.2,8.0 1.5,9.0 2.2,10.0 1.3,11.1 1.4,12.1 1.6,13.1 1.2,14.1 1.3,15.1 1.6,16.1 1.1,17.1 1.5,18.1 0.7,19.1 1.3,20.1 0.8,21.1 0.9,22.1 0.7,23.1 1.3,24.1 1.2,25.1 1.0,26.1 1.0,27.1 0.9,28.1 1.3,29.1 0.9,30.1 0.8,31.1 1.0,32.1 1.2,33.2 1.1,34.2 1.0,35.2 0.5,36.2 0.7,37.2 0.7,38.2 1.2,39.2 0.9,40.2 0.9,41.2 1.0,42.2 0.9,43.2 0.8,44.2 1.1,45.2 0.6,46.2 0.7,47.2 0.7,48.2 0.5,49.2 1.1,50.2 1.1,51.2 0.6,52.2 0.7,53.2 1.2,54.2 0.8,55.3 1.0,56.3 0.4,57.3 0.4,58.3 0.3,59.3 0.5,60.3 0.7,61.3 0.9,62.3 0.7,63.3 0.8,64.3 0.6,65.3 0.7,66.3 1.0,67.3 1.1,68.3 0.4,69.3 0.2,70.3 0.9,71.3 0.8,72.3 0.8,73.3 0.1,74.3 0.6,75.3 0.7,76.3 0.9,77.4 0.8,78.4 0.6,79.4 0.8,80.4 0.6,81.4 0.6,82.4 0.6,83.4 0.2,84.4 0.8,85.4 0.6,86.4 0.6,87.4 0.8,90.4 -0.8,90.4 -0.6,87.4 -0.6,86.4 -0.8,85.4 -0.2,84.4 -0.6,83.4 -0.6,82.4 -0.6,81.4 -0.8,80.4 -0.6,79.4 -0.8,78.4 -0.9,77.4 -0.7,76.3 -0.6,75.3 -0.1,74.3 -0.8,73.3 -0.8,72.3 -0.9,71.3 -0.2,70.3 -0.4,69.3 -1.1,68.3 -1.0,67.3 -0.7,66.3 -0.6,65.3 -0.8,64.3 -0.7,63.3 -0.9,62.3 -0.7,61.3 -0.5,60.3 -0.3,59.3 -0.4,58.3 -0.4,57.3 -1.0,56.3 -0.8,55.3 -1.2,54.2 -0.7,53.2 -0.6,52.2 -1.1,51.2 -1.1,50.2 -0.5,49.2 -0.7,48.2 -0.7,47.2 -0.6,46.2 -1.1,45.2 -0.8,44.2 -0.9,43.2 -1.0,42.2 -0.9,41.2 -0.9,40.2 -1.2,39.2 -0.7,38.2 -0.7,37.2 -0.5,36.2 -1.0,35.2 -1.1,34.2 -1.2,33.2 -1.0,32.1 -0.8,31.1 -0.9,30.1 -1.3,29.1 -0.9,28.1 -1.0,27.1 -1.0,26.1 -1.2,25.1 -1.3,24.1 -0.7,23.1 -0.9,22.1 -0.8,21.1 -1.3,20.1 -0.7,19.1 -1.5,18.1 -1.1,17.1 -1.6,16.1 -1.3,15.1 -1.2,14.1 -1.6,13.1 -1.4,12.1 -1.3,11.1 -2.2,10.0 -1.5,9.0 -1.2,8.0 -1.6,7.0 -1.8,6.0 -1.8,5.0 -2.8,4.0 -2.1,3.0 -1.6,2.0 -2.0,1.0 -2.7,-2.0" fill="#f08826" filter="url(#lblur)"/></g>
<linearGradient id="g2HDAC10" x1="0" y1="0" x2="0" y2="1"><stop offset="0.00" stop-color="#f9c095"/><stop offset="0.25" stop-color="#facba9"/><stop offset="0.50" stop-color="#fbd2b5"/><stop offset="0.75" stop-color="#fcd8c0"/><stop offset="1.00" stop-color="#fcdec9"/></linearGradient>
<linearGradient id="l2HDAC1014" x1="0" y1="0" x2="0" y2="1"><stop offset="0.00" stop-color="#f8ac74"/><stop offset="0.25" stop-color="#f9b888"/><stop offset="0.50" stop-color="#f9bf94"/><stop offset="0.75" stop-color="#fac59f"/><stop offset="1.00" stop-color="#facba8"/></linearGradient>
<linearGradient id="l2HDAC1032" x1="0" y1="0" x2="0" y2="1"><stop offset="0.00" stop-color="#f29050"/><stop offset="0.25" stop-color="#f59e5f"/><stop offset="0.50" stop-color="#f7a66a"/><stop offset="0.75" stop-color="#f8ac74"/><stop offset="1.00" stop-color="#f8b27e"/></linearGradient>
<linearGradient id="l2HDAC1050" x1="0" y1="0" x2="0" y2="1"><stop offset="0.00" stop-color="#ea732f"/><stop offset="0.25" stop-color="#ee803e"/><stop offset="0.50" stop-color="#f08948"/><stop offset="0.75" stop-color="#f29050"/><stop offset="1.00" stop-color="#f49757"/></linearGradient>
<g id="w2HDAC10"><rect x="-11.7" y="0" width="23.3" height="73.6" fill="#fde9dc"/><rect x="-11.7" y="0" width="23.3" height="73.6" fill="url(#g2HDAC10)"/><polygon points="5.0,-2.0 3.8,1.0 3.9,2.0 4.0,3.0 4.7,4.0 4.1,5.0 3.4,6.0 3.3,7.1 3.2,8.1 3.0,9.1 3.4,10.1 3.6,11.1 3.5,12.1 3.0,13.1 2.6,14.1 3.4,15.1 3.2,16.1 2.6,17.1 2.8,18.1 2.8,19.2 2.9,20.2 2.7,21.2 2.5,22.2 2.4,23.2 2.3,24.2 2.7,25.2 2.5,26.2 2.6,27.2 2.2,28.2 2.1,29.2 2.0,30.2 2.3,31.3 2.3,32.3 2.1,33.3 1.9,34.3 2.3,35.3 2.1,36.3 2.2,37.3 2.2,38.3 1.7,39.3 2.1,40.3 1.8,41.3 1.8,42.3 1.8,43.4 2.1,44.4 1.9,45.4 2.0,46.4 2.0,47.4 1.8,48.4 1.8,49.4 1.8,50.4 1.8,51.4 2.0,52.4 1.6,53.4 1.9,54.4 1.7,55.5 1.7,56.5 1.6,57.5 1.7,58.5 1.7,59.5 1.8,60.5 1.5,61.5 1.8,62.5 1.6,63.5 1.4,64.5 1.7,65.5 1.6,66.5 1.6,67.6 1.7,68.6 1.5,69.6 1.4,70.6 1.4,71.6 1.6,72.6 1.4,75.6 -1.4,75.6 -1.6,72.6 -1.4,71.6 -1.4,70.6 -1.5,69.6 -1.7,68.6 -1.6,67.6 -1.6,66.5 -1.7,65.5 -1.4,64.5 -1.6,63.5 -1.8,62.5 -1.5,61.5 -1.8,60.5 -1.7,59.5 -1.7,58.5 -1.6,57.5 -1.7,56.5 -1.7,55.5 -1.9,54.4 -1.6,53.4 -2.0,52.4 -1.8,51.4 -1.8,50.4 -1.8,49.4 -1.8,48.4 -2.0,47.4 -2.0,46.4 -1.9,45.4 -2.1,44.4 -1.8,43.4 -1.8,42.3 -1.8,41.3 -2.1,40.3 -1.7,39.3 -2.2,38.3 -2.2,37.3 -2.1,36.3 -2.3,35.3 -1.9,34.3 -2.1,33.3 -2.3,32.3 -2.3,31.3 -2.0,30.2 -2.1,29.2 -2.2,28.2 -2.6,27.2 -2.5,26.2 -2.7,25.2 -2.3,24.2 -2.4,23.2 -2.5,22.2 -2.7,21.2 -2.9,20.2 -2.8,19.2 -2.8,18.1 -2.6,17.1 -3.2,16.1 -3.4,15.1 -2.6,14.1 -3.0,13.1 -3.5,12.1 -3.6,11.1 -3.4,10.1 -3.0,9.1 -3.2,8.1 -3.3,7.1 -3.4,6.0 -4.1,5.0 -4.7,4.0 -4.0,3.0 -3.9,2.0 -3.8,1.0 -5.0,-2.0" fill="url(#l2HDAC1014)" filter="url(#lblur)"/><polygon points="1.9,-2.0 1.5,1.0 1.5,2.0 1.7,3.0 1.9,4.0 1.5,5.0 1.5,6.0 1.5,7.1 1.4,8.1 1.5,9.1 1.6,10.1 1.7,11.1 1.3,12.1 1.3,13.1 1.2,14.1 1.6,15.1 1.4,16.1 1.5,17.1 1.4,18.1 1.5,19.2 1.4,20.2 1.4,21.2 1.3,22.2 1.3,23.2 1.3,24.2 1.5,25.2 1.3,26.2 1.3,27.2 1.2,28.2 1.1,29.2 1.0,30.2 1.3,31.3 1.3,32.3 1.1,33.3 1.0,34.3 1.2,35.3 1.1,36.3 1.2,37.3 1.2,38.3 0.9,39.3 1.2,40.3 0.9,41.3 0.8,42.3 0.9,43.4 1.1,44.4 0.9,45.4 1.1,46.4 1.0,47.4 0.9,48.4 0.8,49.4 0.8,50.4 0.8,51.4 1.1,52.4 0.7,53.4 1.0,54.4 0.7,55.5 0.8,56.5 0.6,57.5 0.7,58.5 0.8,59.5 0.8,60.5 0.7,61.5 0.8,62.5 0.7,63.5 0.1,64.5 0.6,65.5 0.6,66.5 0.7,67.6 0.6,68.6 0.5,69.6 0.4,70.6 0.3,71.6 0.4,72.6 0.5,75.6 -0.5,75.6 -0.4,72.6 -0.3,71.6 -0.4,70.6 -0.5,69.6 -0.6,68.6 -0.7,67.6 -0.6,66.5 -0.6,65.5 -0.1,64.5 -0.7,63.5 -0.8,62.5 -0.7,61.5 -0.8,60.5 -0.8,59.5 -0.7,58.5 -0.6,57.5 -0.8,56.5 -0.7,55.5 -1.0,54.4 -0.7,53.4 -1.1,52.4 -0.8,51.4 -0.8,50.4 -0.8,49.4 -0.9,48.4 -1.0,47.4 -1.1,46.4 -0.9,45.4 -1.1,44.4 -0.9,43.4 -0.8,42.3 -0.9,41.3 -1.2,40.3 -0.9,39.3 -1.2,38.3 -1.2,37.3 -1.1,36.3 -1.2,35.3 -1.0,34.3 -1.1,33.3 -1.3,32.3 -1.3,31.3 -1.0,30.2 -1.1,29.2 -1.2,28.2 -1.3,27.2 -1.3,26.2 -1.5,25.2 -1.3,24.2 -1.3,23.2 -1.3,22.2 -1.4,21.2 -1.4,20.2 -1.5,19.2 -1.4,18.1 -1.5,17.1 -1.4,16.1 -1.6,15.1 -1.2,14.1 -1.3,13.1 -1.3,12.1 -1.7,11.1 -1.6,10.1 -1.5,9.1 -1.4,8.1 -1.5,7.1 -1.5,6.0 -1.5,5.0 -1.9,4.0 -1.7,3.0 -1.5,2.0 -1.5,1.0 -1.9,-2.0" fill="url(#l2HDAC1032)" filter="url(#lblur)"/><polygon points="0.7,-2.0 0.0,1.0 0.5,2.0 0.0,3.0 0.0,4.0 0.0,5.0 0.6,6.0 0.0,7.1 0.0,8.1 0.0,9.1 0.0,10.1 0.0,11.1 0.0,12.1 0.0,13.1 0.0,14.1 0.0,15.1 0.0,16.1 0.0,17.1 0.0,18.1 0.0,19.2 0.0,20.2 0.0,21.2 0.0,22.2 0.0,23.2 0.0,24.2 0.0,25.2 0.0,26.2 0.0,27.2 0.0,28.2 0.0,29.2 0.0,30.2 0.0,31.3 0.0,32.3 0.0,33.3 0.0,34.3 0.0,35.3 0.0,36.3 0.0,37.3 0.0,38.3 0.0,39.3 0.0,40.3 0.0,41.3 0.0,42.3 0.0,43.4 0.0,44.4 0.0,45.4 0.0,46.4 0.0,47.4 0.0,48.4 0.0,49.4 0.0,50.4 0.0,51.4 0.0,52.4 0.0,53.4 0.0,54.4 0.0,55.5 0.0,56.5 0.0,57.5 0.0,58.5 0.0,59.5 0.0,60.5 0.0,61.5 0.0,62.5 0.0,63.5 0.0,64.5 0.0,65.5 0.0,66.5 0.0,67.6 0.0,68.6 0.0,69.6 0.0,70.6 0.0,71.6 0.0,72.6 0.0,75.6 -0.0,75.6 -0.0,72.6 -0.0,71.6 -0.0,70.6 -0.0,69.6 -0.0,68.6 -0.0,67.6 -0.0,66.5 -0.0,65.5 -0.0,64.5 -0.0,63.5 -0.0,62.5 -0.0,61.5 -0.0,60.5 -0.0,59.5 -0.0,58.5 -0.0,57.5 -0.0,56.5 -0.0,55.5 -0.0,54.4 -0.0,53.4 -0.0,52.4 -0.0,51.4 -0.0,50.4 -0.0,49.4 -0.0,48.4 -0.0,47.4 -0.0,46.4 -0.0,45.4 -0.0,44.4 -0.0,43.4 -0.0,42.3 -0.0,41.3 -0.0,40.3 -0.0,39.3 -0.0,38.3 -0.0,37.3 -0.0,36.3 -0.0,35.3 -0.0,34.3 -0.0,33.3 -0.0,32.3 -0.0,31.3 -0.0,30.2 -0.0,29.2 -0.0,28.2 -0.0,27.2 -0.0,26.2 -0.0,25.2 -0.0,24.2 -0.0,23.2 -0.0,22.2 -0.0,21.2 -0.0,20.2 -0.0,19.2 -0.0,18.1 -0.0,17.1 -0.0,16.1 -0.0,15.1 -0.0,14.1 -0.0,13.1 -0.0,12.1 -0.0,11.1 -0.0,10.1 -0.0,9.1 -0.0,8.1 -0.0,7.1 -0.6,6.0 -0.0,5.0 -0.0,4.0 -0.0,3.0 -0.5,2.0 -0.0,1.0 -0.7,-2.0" fill="url(#l2HDAC1050)" filter="url(#lblur)"/></g>
<linearGradient id="g2BRD4" x1="0" y1="0" x2="0" y2="1"><stop offset="0.00" stop-color="#e0eefa"/><stop offset="0.25" stop-color="#e0eefa"/><stop offset="0.50" stop-color="#e0eefa"/><stop offset="0.75" stop-color="#e0eefa"/><stop offset="1.00" stop-color="#e1eefa"/></linearGradient>
<g id="w2BRD4"><rect x="-11.7" y="0" width="23.3" height="73.6" fill="#e4f0fb"/><rect x="-11.7" y="0" width="23.3" height="73.6" fill="url(#g2BRD4)"/></g>
<linearGradient id="g2H3K9Ac0" x1="0" y1="0" x2="0" y2="1"><stop offset="0.00" stop-color="#cce7ce"/><stop offset="0.25" stop-color="#d7ecd8"/><stop offset="0.50" stop-color="#deefde"/><stop offset="0.75" stop-color="#e4f2e3"/><stop offset="1.00" stop-color="#e9f4e7"/></linearGradient>
<linearGradient id="l2H3K9Ac014" x1="0" y1="0" x2="0" y2="1"><stop offset="0.00" stop-color="#afdab4"/><stop offset="0.25" stop-color="#badfbe"/><stop offset="0.50" stop-color="#c1e2c4"/><stop offset="0.75" stop-color="#c7e5c9"/><stop offset="1.00" stop-color="#cce7ce"/></linearGradient>
<linearGradient id="l2H3K9Ac032" x1="0" y1="0" x2="0" y2="1"><stop offset="0.00" stop-color="#8aca94"/><stop offset="0.25" stop-color="#95cf9d"/><stop offset="0.50" stop-color="#9cd2a3"/><stop offset="0.75" stop-color="#a2d4a8"/><stop offset="1.00" stop-color="#a7d7ad"/></linearGradient>
<g id="w2H3K9Ac0"><rect x="-11.7" y="0" width="23.3" height="73.6" fill="#edf6eb"/><rect x="-11.7" y="0" width="23.3" height="73.6" fill="url(#g2H3K9Ac0)"/><polygon points="6.1,-2.0 6.1,1.0 6.7,2.0 5.4,3.0 5.1,4.0 6.6,5.0 5.6,6.0 4.3,7.1 6.0,8.1 5.4,9.1 4.5,10.1 4.6,11.1 5.3,12.1 4.9,13.1 4.2,14.1 3.8,15.1 4.0,16.1 4.7,17.1 3.8,18.1 4.3,19.2 3.2,20.2 3.5,21.2 3.4,22.2 3.1,23.2 3.7,24.2 2.8,25.2 2.6,26.2 3.0,27.2 2.5,28.2 2.3,29.2 2.2,30.2 2.1,31.3 2.0,32.3 2.1,33.3 1.7,34.3 1.8,35.3 1.8,36.3 2.0,37.3 2.2,38.3 1.6,39.3 1.4,40.3 1.8,41.3 1.7,42.3 1.4,43.4 1.7,44.4 1.4,45.4 1.1,46.4 1.6,47.4 1.3,48.4 1.0,49.4 1.1,50.4 1.1,51.4 1.0,52.4 0.9,53.4 0.7,54.4 1.0,55.5 0.7,56.5 0.0,57.5 0.0,58.5 0.0,59.5 0.3,60.5 0.0,61.5 0.0,62.5 0.0,63.5 0.0,64.5 0.0,65.5 0.0,66.5 0.0,67.6 0.0,68.6 0.0,69.6 0.0,70.6 0.0,71.6 0.0,72.6 0.0,75.6 -0.0,75.6 -0.0,72.6 -0.0,71.6 -0.0,70.6 -0.0,69.6 -0.0,68.6 -0.0,67.6 -0.0,66.5 -0.0,65.5 -0.0,64.5 -0.0,63.5 -0.0,62.5 -0.0,61.5 -0.3,60.5 -0.0,59.5 -0.0,58.5 -0.0,57.5 -0.7,56.5 -1.0,55.5 -0.7,54.4 -0.9,53.4 -1.0,52.4 -1.1,51.4 -1.1,50.4 -1.0,49.4 -1.3,48.4 -1.6,47.4 -1.1,46.4 -1.4,45.4 -1.7,44.4 -1.4,43.4 -1.7,42.3 -1.8,41.3 -1.4,40.3 -1.6,39.3 -2.2,38.3 -2.0,37.3 -1.8,36.3 -1.8,35.3 -1.7,34.3 -2.1,33.3 -2.0,32.3 -2.1,31.3 -2.2,30.2 -2.3,29.2 -2.5,28.2 -3.0,27.2 -2.6,26.2 -2.8,25.2 -3.7,24.2 -3.1,23.2 -3.4,22.2 -3.5,21.2 -3.2,20.2 -4.3,19.2 -3.8,18.1 -4.7,17.1 -4.0,16.1 -3.8,15.1 -4.2,14.1 -4.9,13.1 -5.3,12.1 -4.6,11.1 -4.5,10.1 -5.4,9.1 -6.0,8.1 -4.3,7.1 -5.6,6.0 -6.6,5.0 -5.1,4.0 -5.4,3.0 -6.7,2.0 -6.1,1.0 -6.1,-2.0" fill="url(#l2H3K9Ac014)" filter="url(#lblur)"/><polygon points="1.4,-2.0 1.4,1.0 1.7,2.0 0.8,3.0 1.0,4.0 1.4,5.0 1.3,6.0 0.8,7.1 1.2,8.1 0.5,9.1 0.4,10.1 0.8,11.1 0.6,12.1 1.2,13.1 0.0,14.1 0.0,15.1 0.0,16.1 0.7,17.1 0.0,18.1 0.0,19.2 0.0,20.2 0.0,21.2 0.0,22.2 0.0,23.2 0.0,24.2 0.0,25.2 0.0,26.2 0.0,27.2 0.0,28.2 0.0,29.2 0.0,30.2 0.0,31.3 0.0,32.3 0.0,33.3 0.0,34.3 0.0,35.3 0.0,36.3 0.0,37.3 0.0,38.3 0.0,39.3 0.0,40.3 0.0,41.3 0.0,42.3 0.0,43.4 0.0,44.4 0.0,45.4 0.0,46.4 0.0,47.4 0.0,48.4 0.0,49.4 0.0,50.4 0.0,51.4 0.0,52.4 0.0,53.4 0.0,54.4 0.0,55.5 0.0,56.5 0.0,57.5 0.0,58.5 0.0,59.5 0.0,60.5 0.0,61.5 0.0,62.5 0.0,63.5 0.0,64.5 0.0,65.5 0.0,66.5 0.0,67.6 0.0,68.6 0.0,69.6 0.0,70.6 0.0,71.6 0.0,72.6 0.0,75.6 -0.0,75.6 -0.0,72.6 -0.0,71.6 -0.0,70.6 -0.0,69.6 -0.0,68.6 -0.0,67.6 -0.0,66.5 -0.0,65.5 -0.0,64.5 -0.0,63.5 -0.0,62.5 -0.0,61.5 -0.0,60.5 -0.0,59.5 -0.0,58.5 -0.0,57.5 -0.0,56.5 -0.0,55.5 -0.0,54.4 -0.0,53.4 -0.0,52.4 -0.0,51.4 -0.0,50.4 -0.0,49.4 -0.0,48.4 -0.0,47.4 -0.0,46.4 -0.0,45.4 -0.0,44.4 -0.0,43.4 -0.0,42.3 -0.0,41.3 -0.0,40.3 -0.0,39.3 -0.0,38.3 -0.0,37.3 -0.0,36.3 -0.0,35.3 -0.0,34.3 -0.0,33.3 -0.0,32.3 -0.0,31.3 -0.0,30.2 -0.0,29.2 -0.0,28.2 -0.0,27.2 -0.0,26.2 -0.0,25.2 -0.0,24.2 -0.0,23.2 -0.0,22.2 -0.0,21.2 -0.0,20.2 -0.0,19.2 -0.0,18.1 -0.7,17.1 -0.0,16.1 -0.0,15.1 -0.0,14.1 -1.2,13.1 -0.6,12.1 -0.8,11.1 -0.4,10.1 -0.5,9.1 -1.2,8.1 -0.8,7.1 -1.3,6.0 -1.4,5.0 -1.0,4.0 -0.8,3.0 -1.7,2.0 -1.4,1.0 -1.4,-2.0" fill="url(#l2H3K9Ac032)" filter="url(#lblur)"/></g>
<linearGradient id="g2H3K27Ac" x1="0" y1="0" x2="0" y2="1"><stop offset="0.00" stop-color="#f1eff8"/><stop offset="0.25" stop-color="#f1f0f9"/><stop offset="0.50" stop-color="#f1f0f9"/><stop offset="0.75" stop-color="#f2f0f9"/><stop offset="1.00" stop-color="#f2f1f9"/></linearGradient>
<g id="w2H3K27Ac"><rect x="-11.7" y="0" width="23.3" height="73.6" fill="#f4f3fa"/><rect x="-11.7" y="0" width="23.3" height="73.6" fill="url(#g2H3K27Ac)"/></g>
<linearGradient id="g2Pol2" x1="0" y1="0" x2="0" y2="1"><stop offset="0.00" stop-color="#e2eab5"/><stop offset="0.25" stop-color="#e5ecb8"/><stop offset="0.50" stop-color="#e6ecb9"/><stop offset="0.75" stop-color="#e8edbb"/><stop offset="1.00" stop-color="#e9eebc"/></linearGradient>
<g id="w2Pol2"><rect x="-11.7" y="0" width="23.3" height="73.6" fill="#f6f4cc"/><rect x="-11.7" y="0" width="23.3" height="73.6" fill="url(#g2Pol2)"/></g>
<linearGradient id="g2ATAC" x1="0" y1="0" x2="0" y2="1"><stop offset="0.00" stop-color="#fce4a9"/><stop offset="0.25" stop-color="#fce5ab"/><stop offset="0.50" stop-color="#fce6ac"/><stop offset="0.75" stop-color="#fce6ad"/><stop offset="1.00" stop-color="#fce7ae"/></linearGradient>
<linearGradient id="l2ATAC14" x1="0" y1="0" x2="0" y2="1"><stop offset="0.00" stop-color="#fbd890"/><stop offset="0.25" stop-color="#fbd992"/><stop offset="0.50" stop-color="#fbda93"/><stop offset="0.75" stop-color="#fbda94"/><stop offset="1.00" stop-color="#fbdb95"/></linearGradient>
<linearGradient id="l2ATAC32" x1="0" y1="0" x2="0" y2="1"><stop offset="0.00" stop-color="#f9c96f"/><stop offset="0.25" stop-color="#f9ca71"/><stop offset="0.50" stop-color="#f9ca73"/><stop offset="0.75" stop-color="#f9cb74"/><stop offset="1.00" stop-color="#f9cb75"/></linearGradient>
<g id="w2ATAC"><rect x="-11.7" y="0" width="23.3" height="73.6" fill="#fdf1c4"/><rect x="-11.7" y="0" width="23.3" height="73.6" fill="url(#g2ATAC)"/><polygon points="1.6,-2.0 1.2,1.0 1.5,2.0 1.3,3.0 1.4,4.0 1.4,5.0 1.2,6.0 1.3,7.1 1.3,8.1 1.5,9.1 1.5,10.1 1.2,11.1 1.5,12.1 1.5,13.1 1.5,14.1 1.2,15.1 1.3,16.1 1.3,17.1 1.1,18.1 1.2,19.2 1.2,20.2 1.2,21.2 1.5,22.2 1.4,23.2 1.3,24.2 1.1,25.2 1.1,26.2 1.2,27.2 1.2,28.2 1.3,29.2 1.2,30.2 1.1,31.3 1.2,32.3 1.4,33.3 1.1,34.3 1.2,35.3 1.3,36.3 1.4,37.3 1.4,38.3 1.1,39.3 1.1,40.3 1.4,41.3 1.2,42.3 1.4,43.4 1.2,44.4 1.3,45.4 1.1,46.4 1.4,47.4 1.4,48.4 1.1,49.4 1.4,50.4 1.2,51.4 1.3,52.4 1.3,53.4 1.3,54.4 1.1,55.5 1.2,56.5 1.0,57.5 1.1,58.5 1.0,59.5 1.4,60.5 1.1,61.5 1.0,62.5 1.0,63.5 1.4,64.5 1.3,65.5 1.0,66.5 1.3,67.6 1.3,68.6 1.3,69.6 1.2,70.6 1.1,71.6 1.1,72.6 1.1,75.6 -1.1,75.6 -1.1,72.6 -1.1,71.6 -1.2,70.6 -1.3,69.6 -1.3,68.6 -1.3,67.6 -1.0,66.5 -1.3,65.5 -1.4,64.5 -1.0,63.5 -1.0,62.5 -1.1,61.5 -1.4,60.5 -1.0,59.5 -1.1,58.5 -1.0,57.5 -1.2,56.5 -1.1,55.5 -1.3,54.4 -1.3,53.4 -1.3,52.4 -1.2,51.4 -1.4,50.4 -1.1,49.4 -1.4,48.4 -1.4,47.4 -1.1,46.4 -1.3,45.4 -1.2,44.4 -1.4,43.4 -1.2,42.3 -1.4,41.3 -1.1,40.3 -1.1,39.3 -1.4,38.3 -1.4,37.3 -1.3,36.3 -1.2,35.3 -1.1,34.3 -1.4,33.3 -1.2,32.3 -1.1,31.3 -1.2,30.2 -1.3,29.2 -1.2,28.2 -1.2,27.2 -1.1,26.2 -1.1,25.2 -1.3,24.2 -1.4,23.2 -1.5,22.2 -1.2,21.2 -1.2,20.2 -1.2,19.2 -1.1,18.1 -1.3,17.1 -1.3,16.1 -1.2,15.1 -1.5,14.1 -1.5,13.1 -1.5,12.1 -1.2,11.1 -1.5,10.1 -1.5,9.1 -1.3,8.1 -1.3,7.1 -1.2,6.0 -1.4,5.0 -1.4,4.0 -1.3,3.0 -1.5,2.0 -1.2,1.0 -1.6,-2.0" fill="url(#l2ATAC14)" filter="url(#lblur)"/><polygon points="0.8,-2.0 0.0,1.0 0.6,2.0 0.6,3.0 0.7,4.0 0.6,5.0 0.5,6.0 0.0,7.1 0.5,8.1 0.6,9.1 0.6,10.1 0.0,11.1 0.4,12.1 0.6,13.1 0.5,14.1 0.3,15.1 0.0,16.1 0.5,17.1 0.0,18.1 0.3,19.2 0.3,20.2 0.2,21.2 0.6,22.2 0.3,23.2 0.5,24.2 0.0,25.2 0.2,26.2 0.4,27.2 0.4,28.2 0.4,29.2 0.0,30.2 0.3,31.3 0.0,32.3 0.0,33.3 0.3,34.3 0.0,35.3 0.1,36.3 0.0,37.3 0.5,38.3 0.0,39.3 0.0,40.3 0.0,41.3 0.2,42.3 0.5,43.4 0.0,44.4 0.0,45.4 0.0,46.4 0.0,47.4 0.0,48.4 0.4,49.4 0.0,50.4 0.0,51.4 0.0,52.4 0.3,53.4 0.4,54.4 0.4,55.5 0.0,56.5 0.0,57.5 0.0,58.5 0.0,59.5 0.0,60.5 0.0,61.5 0.0,62.5 0.0,63.5 0.0,64.5 0.0,65.5 0.0,66.5 0.3,67.6 0.0,68.6 0.0,69.6 0.0,70.6 0.0,71.6 0.0,72.6 0.0,75.6 -0.0,75.6 -0.0,72.6 -0.0,71.6 -0.0,70.6 -0.0,69.6 -0.0,68.6 -0.3,67.6 -0.0,66.5 -0.0,65.5 -0.0,64.5 -0.0,63.5 -0.0,62.5 -0.0,61.5 -0.0,60.5 -0.0,59.5 -0.0,58.5 -0.0,57.5 -0.0,56.5 -0.4,55.5 -0.4,54.4 -0.3,53.4 -0.0,52.4 -0.0,51.4 -0.0,50.4 -0.4,49.4 -0.0,48.4 -0.0,47.4 -0.0,46.4 -0.0,45.4 -0.0,44.4 -0.5,43.4 -0.2,42.3 -0.0,41.3 -0.0,40.3 -0.0,39.3 -0.5,38.3 -0.0,37.3 -0.1,36.3 -0.0,35.3 -0.3,34.3 -0.0,33.3 -0.0,32.3 -0.3,31.3 -0.0,30.2 -0.4,29.2 -0.4,28.2 -0.4,27.2 -0.2,26.2 -0.0,25.2 -0.5,24.2 -0.3,23.2 -0.6,22.2 -0.2,21.2 -0.3,20.2 -0.3,19.2 -0.0,18.1 -0.5,17.1 -0.0,16.1 -0.3,15.1 -0.5,14.1 -0.6,13.1 -0.4,12.1 -0.0,11.1 -0.6,10.1 -0.6,9.1 -0.5,8.1 -0.0,7.1 -0.5,6.0 -0.6,5.0 -0.7,4.0 -0.6,3.0 -0.6,2.0 -0.0,1.0 -0.8,-2.0" fill="url(#l2ATAC32)" filter="url(#lblur)"/></g>
<linearGradient id="g2HDAC11" x1="0" y1="0" x2="0" y2="1"><stop offset="0.00" stop-color="#fac29a"/><stop offset="0.25" stop-color="#fbcdac"/><stop offset="0.50" stop-color="#fbd3b7"/><stop offset="0.75" stop-color="#fcd9c1"/><stop offset="1.00" stop-color="#fcdec9"/></linearGradient>
<linearGradient id="l2HDAC1114" x1="0" y1="0" x2="0" y2="1"><stop offset="0.00" stop-color="#f8af79"/><stop offset="0.25" stop-color="#f9b98b"/><stop offset="0.50" stop-color="#f9c096"/><stop offset="0.75" stop-color="#fac69f"/><stop offset="1.00" stop-color="#facba8"/></linearGradient>
<linearGradient id="l2HDAC1132" x1="0" y1="0" x2="0" y2="1"><stop offset="0.00" stop-color="#f39454"/><stop offset="0.25" stop-color="#f6a062"/><stop offset="0.50" stop-color="#f7a76b"/><stop offset="0.75" stop-color="#f8ad75"/><stop offset="1.00" stop-color="#f8b27e"/></linearGradient>
<linearGradient id="l2HDAC1150" x1="0" y1="0" x2="0" y2="1"><stop offset="0.00" stop-color="#eb7632"/><stop offset="0.25" stop-color="#ee8340"/><stop offset="0.50" stop-color="#f08a49"/><stop offset="0.75" stop-color="#f29151"/><stop offset="1.00" stop-color="#f49757"/></linearGradient>
<g id="w2HDAC11"><rect x="-11.7" y="0" width="23.3" height="73.6" fill="#fde9dc"/><rect x="-11.7" y="0" width="23.3" height="73.6" fill="url(#g2HDAC11)"/><polygon points="6.3,-2.0 6.1,1.0 5.3,2.0 5.8,3.0 5.9,4.0 4.8,5.0 4.8,6.0 5.1,7.1 4.2,8.1 4.7,9.1 4.8,10.1 4.2,11.1 4.0,12.1 4.2,13.1 3.6,14.1 4.4,15.1 4.1,16.1 3.7,17.1 3.6,18.1 3.1,19.2 3.5,20.2 3.0,21.2 3.5,22.2 2.8,23.2 3.2,24.2 2.7,25.2 2.6,26.2 3.1,27.2 3.0,28.2 2.8,29.2 3.1,30.2 2.4,31.3 2.3,32.3 2.3,33.3 2.4,34.3 2.8,35.3 2.4,36.3 2.2,37.3 2.4,38.3 2.1,39.3 2.4,40.3 2.1,41.3 2.2,42.3 2.1,43.4 2.2,44.4 2.0,45.4 2.4,46.4 2.1,47.4 2.1,48.4 2.2,49.4 2.3,50.4 2.1,51.4 1.8,52.4 2.2,53.4 1.8,54.4 1.8,55.5 2.0,56.5 1.6,57.5 2.1,58.5 1.8,59.5 1.7,60.5 1.9,61.5 1.9,62.5 1.6,63.5 2.0,64.5 1.7,65.5 1.8,66.5 1.5,67.6 1.7,68.6 1.6,69.6 1.8,70.6 1.4,71.6 1.6,72.6 1.7,75.6 -1.7,75.6 -1.6,72.6 -1.4,71.6 -1.8,70.6 -1.6,69.6 -1.7,68.6 -1.5,67.6 -1.8,66.5 -1.7,65.5 -2.0,64.5 -1.6,63.5 -1.9,62.5 -1.9,61.5 -1.7,60.5 -1.8,59.5 -2.1,58.5 -1.6,57.5 -2.0,56.5 -1.8,55.5 -1.8,54.4 -2.2,53.4 -1.8,52.4 -2.1,51.4 -2.3,50.4 -2.2,49.4 -2.1,48.4 -2.1,47.4 -2.4,46.4 -2.0,45.4 -2.2,44.4 -2.1,43.4 -2.2,42.3 -2.1,41.3 -2.4,40.3 -2.1,39.3 -2.4,38.3 -2.2,37.3 -2.4,36.3 -2.8,35.3 -2.4,34.3 -2.3,33.3 -2.3,32.3 -2.4,31.3 -3.1,30.2 -2.8,29.2 -3.0,28.2 -3.1,27.2 -2.6,26.2 -2.7,25.2 -3.2,24.2 -2.8,23.2 -3.5,22.2 -3.0,21.2 -3.5,20.2 -3.1,19.2 -3.6,18.1 -3.7,17.1 -4.1,16.1 -4.4,15.1 -3.6,14.1 -4.2,13.1 -4.0,12.1 -4.2,11.1 -4.8,10.1 -4.7,9.1 -4.2,8.1 -5.1,7.1 -4.8,6.0 -4.8,5.0 -5.9,4.0 -5.8,3.0 -5.3,2.0 -6.1,1.0 -6.3,-2.0" fill="url(#l2HDAC1114)" filter="url(#lblur)"/><polygon points="3.2,-2.0 2.6,1.0 2.1,2.0 2.3,3.0 2.5,4.0 2.5,5.0 2.6,6.0 2.0,7.1 2.0,8.1 2.2,9.1 1.9,10.1 2.1,11.1 2.2,12.1 1.9,13.1 1.9,14.1 1.8,15.1 1.7,16.1 2.0,17.1 1.7,18.1 1.6,19.2 1.7,20.2 1.5,21.2 1.8,22.2 1.8,23.2 1.8,24.2 1.7,25.2 1.7,26.2 1.8,27.2 1.5,28.2 1.3,29.2 1.7,30.2 1.4,31.3 1.3,32.3 1.4,33.3 1.3,34.3 1.6,35.3 1.3,36.3 1.3,37.3 1.2,38.3 1.3,39.3 1.3,40.3 1.2,41.3 1.2,42.3 1.4,43.4 1.1,44.4 1.0,45.4 1.4,46.4 1.2,47.4 1.0,48.4 1.3,49.4 1.3,50.4 1.2,51.4 1.0,52.4 1.3,53.4 1.0,54.4 1.0,55.5 1.1,56.5 0.8,57.5 1.1,58.5 1.0,59.5 1.0,60.5 0.9,61.5 1.0,62.5 0.9,63.5 1.0,64.5 0.8,65.5 0.9,66.5 0.7,67.6 0.6,68.6 0.6,69.6 0.7,70.6 0.4,71.6 0.3,72.6 0.6,75.6 -0.6,75.6 -0.3,72.6 -0.4,71.6 -0.7,70.6 -0.6,69.6 -0.6,68.6 -0.7,67.6 -0.9,66.5 -0.8,65.5 -1.0,64.5 -0.9,63.5 -1.0,62.5 -0.9,61.5 -1.0,60.5 -1.0,59.5 -1.1,58.5 -0.8,57.5 -1.1,56.5 -1.0,55.5 -1.0,54.4 -1.3,53.4 -1.0,52.4 -1.2,51.4 -1.3,50.4 -1.3,49.4 -1.0,48.4 -1.2,47.4 -1.4,46.4 -1.0,45.4 -1.1,44.4 -1.4,43.4 -1.2,42.3 -1.2,41.3 -1.3,40.3 -1.3,39.3 -1.2,38.3 -1.3,37.3 -1.3,36.3 -1.6,35.3 -1.3,34.3 -1.4,33.3 -1.3,32.3 -1.4,31.3 -1.7,30.2 -1.3,29.2 -1.5,28.2 -1.8,27.2 -1.7,26.2 -1.7,25.2 -1.8,24.2 -1.8,23.2 -1.8,22.2 -1.5,21.2 -1.7,20.2 -1.6,19.2 -1.7,18.1 -2.0,17.1 -1.7,16.1 -1.8,15.1 -1.9,14.1 -1.9,13.1 -2.2,12.1 -2.1,11.1 -1.9,10.1 -2.2,9.1 -2.0,8.1 -2.0,7.1 -2.6,6.0 -2.5,5.0 -2.5,4.0 -2.3,3.0 -2.1,2.0 -2.6,1.0 -3.2,-2.0" fill="url(#l2HDAC1132)" filter="url(#lblur)"/><polygon points="1.6,-2.0 1.3,1.0 1.1,2.0 1.2,3.0 1.3,4.0 1.5,5.0 1.5,6.0 1.0,7.1 1.1,8.1 1.3,9.1 0.9,10.1 1.1,11.1 1.3,12.1 1.0,13.1 1.2,14.1 0.9,15.1 0.7,16.1 1.2,17.1 0.7,18.1 0.9,19.2 0.9,20.2 0.7,21.2 0.9,22.2 1.0,23.2 0.9,24.2 0.9,25.2 0.6,26.2 0.8,27.2 0.5,28.2 0.0,29.2 0.8,30.2 0.0,31.3 0.6,32.3 0.4,33.3 0.0,34.3 0.5,35.3 0.1,36.3 0.0,37.3 0.0,38.3 0.3,39.3 0.0,40.3 0.0,41.3 0.0,42.3 0.0,43.4 0.0,44.4 0.0,45.4 0.0,46.4 0.0,47.4 0.0,48.4 0.0,49.4 0.0,50.4 0.0,51.4 0.0,52.4 0.0,53.4 0.0,54.4 0.0,55.5 0.0,56.5 0.0,57.5 0.0,58.5 0.0,59.5 0.0,60.5 0.0,61.5 0.0,62.5 0.0,63.5 0.0,64.5 0.0,65.5 0.0,66.5 0.0,67.6 0.0,68.6 0.0,69.6 0.0,70.6 0.0,71.6 0.0,72.6 0.0,75.6 -0.0,75.6 -0.0,72.6 -0.0,71.6 -0.0,70.6 -0.0,69.6 -0.0,68.6 -0.0,67.6 -0.0,66.5 -0.0,65.5 -0.0,64.5 -0.0,63.5 -0.0,62.5 -0.0,61.5 -0.0,60.5 -0.0,59.5 -0.0,58.5 -0.0,57.5 -0.0,56.5 -0.0,55.5 -0.0,54.4 -0.0,53.4 -0.0,52.4 -0.0,51.4 -0.0,50.4 -0.0,49.4 -0.0,48.4 -0.0,47.4 -0.0,46.4 -0.0,45.4 -0.0,44.4 -0.0,43.4 -0.0,42.3 -0.0,41.3 -0.0,40.3 -0.3,39.3 -0.0,38.3 -0.0,37.3 -0.1,36.3 -0.5,35.3 -0.0,34.3 -0.4,33.3 -0.6,32.3 -0.0,31.3 -0.8,30.2 -0.0,29.2 -0.5,28.2 -0.8,27.2 -0.6,26.2 -0.9,25.2 -0.9,24.2 -1.0,23.2 -0.9,22.2 -0.7,21.2 -0.9,20.2 -0.9,19.2 -0.7,18.1 -1.2,17.1 -0.7,16.1 -0.9,15.1 -1.2,14.1 -1.0,13.1 -1.3,12.1 -1.1,11.1 -0.9,10.1 -1.3,9.1 -1.1,8.1 -1.0,7.1 -1.5,6.0 -1.5,5.0 -1.3,4.0 -1.2,3.0 -1.1,2.0 -1.3,1.0 -1.6,-2.0" fill="url(#l2HDAC1150)" filter="url(#lblur)"/></g>
<linearGradient id="g2H3K9Ac1" x1="0" y1="0" x2="0" y2="1"><stop offset="0.00" stop-color="#cce7ce"/><stop offset="0.25" stop-color="#d7ecd8"/><stop offset="0.50" stop-color="#deefde"/><stop offset="0.75" stop-color="#e4f2e3"/><stop offset="1.00" stop-color="#e9f4e7"/></linearGradient>
<linearGradient id="l2H3K9Ac114" x1="0" y1="0" x2="0" y2="1"><stop offset="0.00" stop-color="#afdab4"/><stop offset="0.25" stop-color="#badfbe"/><stop offset="0.50" stop-color="#c1e2c4"/><stop offset="0.75" stop-color="#c7e5c9"/><stop offset="1.00" stop-color="#cce7ce"/></linearGradient>
<linearGradient id="l2H3K9Ac132" x1="0" y1="0" x2="0" y2="1"><stop offset="0.00" stop-color="#8aca94"/><stop offset="0.25" stop-color="#95cf9d"/><stop offset="0.50" stop-color="#9cd2a3"/><stop offset="0.75" stop-color="#a2d4a8"/><stop offset="1.00" stop-color="#a7d7ad"/></linearGradient>
<linearGradient id="l2H3K9Ac150" x1="0" y1="0" x2="0" y2="1"><stop offset="0.00" stop-color="#5eb476"/><stop offset="0.25" stop-color="#6bbb7e"/><stop offset="0.50" stop-color="#74bf84"/><stop offset="0.75" stop-color="#7bc289"/><stop offset="1.00" stop-color="#81c68d"/></linearGradient>
<g id="w2H3K9Ac1"><rect x="-11.7" y="0" width="23.3" height="73.6" fill="#edf6eb"/><rect x="-11.7" y="0" width="23.3" height="73.6" fill="url(#g2H3K9Ac1)"/><polygon points="7.3,-2.0 7.6,1.0 8.3,2.0 7.4,3.0 6.9,4.0 6.8,5.0 5.8,6.0 5.8,7.1 5.5,8.1 4.9,9.1 6.1,10.1 6.2,11.1 5.9,12.1 5.7,13.1 4.6,14.1 4.4,15.1 4.7,16.1 4.7,17.1 5.3,18.1 4.9,19.2 3.8,20.2 4.2,21.2 4.7,22.2 4.1,23.2 3.6,24.2 4.4,25.2 3.8,26.2 3.7,27.2 3.7,28.2 4.0,29.2 4.0,30.2 3.8,31.3 3.2,32.3 2.9,33.3 3.0,34.3 3.2,35.3 3.0,36.3 2.6,37.3 2.9,38.3 2.3,39.3 2.6,40.3 2.5,41.3 2.8,42.3 2.6,43.4 2.2,44.4 2.0,45.4 2.4,46.4 1.9,47.4 1.9,48.4 1.5,49.4 1.7,50.4 2.0,51.4 1.3,52.4 1.6,53.4 1.3,54.4 1.2,55.5 1.0,56.5 1.3,57.5 1.1,58.5 1.0,59.5 0.8,60.5 1.1,61.5 0.5,62.5 0.6,63.5 0.0,64.5 0.0,65.5 0.0,66.5 0.0,67.6 0.0,68.6 0.0,69.6 0.0,70.6 0.0,71.6 0.0,72.6 0.0,75.6 -0.0,75.6 -0.0,72.6 -0.0,71.6 -0.0,70.6 -0.0,69.6 -0.0,68.6 -0.0,67.6 -0.0,66.5 -0.0,65.5 -0.0,64.5 -0.6,63.5 -0.5,62.5 -1.1,61.5 -0.8,60.5 -1.0,59.5 -1.1,58.5 -1.3,57.5 -1.0,56.5 -1.2,55.5 -1.3,54.4 -1.6,53.4 -1.3,52.4 -2.0,51.4 -1.7,50.4 -1.5,49.4 -1.9,48.4 -1.9,47.4 -2.4,46.4 -2.0,45.4 -2.2,44.4 -2.6,43.4 -2.8,42.3 -2.5,41.3 -2.6,40.3 -2.3,39.3 -2.9,38.3 -2.6,37.3 -3.0,36.3 -3.2,35.3 -3.0,34.3 -2.9,33.3 -3.2,32.3 -3.8,31.3 -4.0,30.2 -4.0,29.2 -3.7,28.2 -3.7,27.2 -3.8,26.2 -4.4,25.2 -3.6,24.2 -4.1,23.2 -4.7,22.2 -4.2,21.2 -3.8,20.2 -4.9,19.2 -5.3,18.1 -4.7,17.1 -4.7,16.1 -4.4,15.1 -4.6,14.1 -5.7,13.1 -5.9,12.1 -6.2,11.1 -6.1,10.1 -4.9,9.1 -5.5,8.1 -5.8,7.1 -5.8,6.0 -6.8,5.0 -6.9,4.0 -7.4,3.0 -8.3,2.0 -7.6,1.0 -7.3,-2.0" fill="url(#l2H3K9Ac114)" filter="url(#lblur)"/><polygon points="2.6,-2.0 3.6,1.0 4.0,2.0 3.4,3.0 3.2,4.0 3.1,5.0 2.9,6.0 2.1,7.1 2.3,8.1 1.6,9.1 2.1,10.1 1.5,11.1 1.7,12.1 2.2,13.1 1.8,14.1 1.7,15.1 1.8,16.1 1.6,17.1 1.7,18.1 1.7,19.2 1.0,20.2 1.3,21.2 1.4,22.2 1.2,23.2 0.8,24.2 1.3,25.2 0.8,26.2 1.1,27.2 0.8,28.2 0.7,29.2 0.8,30.2 1.0,31.3 0.0,32.3 0.0,33.3 0.4,34.3 0.0,35.3 0.0,36.3 0.0,37.3 0.0,38.3 0.0,39.3 0.0,40.3 0.0,41.3 0.0,42.3 0.0,43.4 0.0,44.4 0.0,45.4 0.0,46.4 0.0,47.4 0.0,48.4 0.0,49.4 0.0,50.4 0.0,51.4 0.0,52.4 0.0,53.4 0.0,54.4 0.0,55.5 0.0,56.5 0.0,57.5 0.0,58.5 0.0,59.5 0.0,60.5 0.0,61.5 0.0,62.5 0.0,63.5 0.0,64.5 0.0,65.5 0.0,66.5 0.0,67.6 0.0,68.6 0.0,69.6 0.0,70.6 0.0,71.6 0.0,72.6 0.0,75.6 -0.0,75.6 -0.0,72.6 -0.0,71.6 -0.0,70.6 -0.0,69.6 -0.0,68.6 -0.0,67.6 -0.0,66.5 -0.0,65.5 -0.0,64.5 -0.0,63.5 -0.0,62.5 -0.0,61.5 -0.0,60.5 -0.0,59.5 -0.0,58.5 -0.0,57.5 -0.0,56.5 -0.0,55.5 -0.0,54.4 -0.0,53.4 -0.0,52.4 -0.0,51.4 -0.0,50.4 -0.0,49.4 -0.0,48.4 -0.0,47.4 -0.0,46.4 -0.0,45.4 -0.0,44.4 -0.0,43.4 -0.0,42.3 -0.0,41.3 -0.0,40.3 -0.0,39.3 -0.0,38.3 -0.0,37.3 -0.0,36.3 -0.0,35.3 -0.4,34.3 -0.0,33.3 -0.0,32.3 -1.0,31.3 -0.8,30.2 -0.7,29.2 -0.8,28.2 -1.1,27.2 -0.8,26.2 -1.3,25.2 -0.8,24.2 -1.2,23.2 -1.4,22.2 -1.3,21.2 -1.0,20.2 -1.7,19.2 -1.7,18.1 -1.6,17.1 -1.8,16.1 -1.7,15.1 -1.8,14.1 -2.2,13.1 -1.7,12.1 -1.5,11.1 -2.1,10.1 -1.6,9.1 -2.3,8.1 -2.1,7.1 -2.9,6.0 -3.1,5.0 -3.2,4.0 -3.4,3.0 -4.0,2.0 -3.6,1.0 -2.6,-2.0" fill="url(#l2H3K9Ac132)" filter="url(#lblur)"/><polygon points="0.0,-2.0 0.7,1.0 0.7,2.0 0.6,3.0 0.5,4.0 0.5,5.0 0.0,6.0 0.0,7.1 0.0,8.1 0.0,9.1 0.0,10.1 0.0,11.1 0.0,12.1 0.0,13.1 0.0,14.1 0.0,15.1 0.0,16.1 0.0,17.1 0.0,18.1 0.0,19.2 0.0,20.2 0.0,21.2 0.0,22.2 0.0,23.2 0.0,24.2 0.0,25.2 0.0,26.2 0.0,27.2 0.0,28.2 0.0,29.2 0.0,30.2 0.0,31.3 0.0,32.3 0.0,33.3 0.0,34.3 0.0,35.3 0.0,36.3 0.0,37.3 0.0,38.3 0.0,39.3 0.0,40.3 0.0,41.3 0.0,42.3 0.0,43.4 0.0,44.4 0.0,45.4 0.0,46.4 0.0,47.4 0.0,48.4 0.0,49.4 0.0,50.4 0.0,51.4 0.0,52.4 0.0,53.4 0.0,54.4 0.0,55.5 0.0,56.5 0.0,57.5 0.0,58.5 0.0,59.5 0.0,60.5 0.0,61.5 0.0,62.5 0.0,63.5 0.0,64.5 0.0,65.5 0.0,66.5 0.0,67.6 0.0,68.6 0.0,69.6 0.0,70.6 0.0,71.6 0.0,72.6 0.0,75.6 -0.0,75.6 -0.0,72.6 -0.0,71.6 -0.0,70.6 -0.0,69.6 -0.0,68.6 -0.0,67.6 -0.0,66.5 -0.0,65.5 -0.0,64.5 -0.0,63.5 -0.0,62.5 -0.0,61.5 -0.0,60.5 -0.0,59.5 -0.0,58.5 -0.0,57.5 -0.0,56.5 -0.0,55.5 -0.0,54.4 -0.0,53.4 -0.0,52.4 -0.0,51.4 -0.0,50.4 -0.0,49.4 -0.0,48.4 -0.0,47.4 -0.0,46.4 -0.0,45.4 -0.0,44.4 -0.0,43.4 -0.0,42.3 -0.0,41.3 -0.0,40.3 -0.0,39.3 -0.0,38.3 -0.0,37.3 -0.0,36.3 -0.0,35.3 -0.0,34.3 -0.0,33.3 -0.0,32.3 -0.0,31.3 -0.0,30.2 -0.0,29.2 -0.0,28.2 -0.0,27.2 -0.0,26.2 -0.0,25.2 -0.0,24.2 -0.0,23.2 -0.0,22.2 -0.0,21.2 -0.0,20.2 -0.0,19.2 -0.0,18.1 -0.0,17.1 -0.0,16.1 -0.0,15.1 -0.0,14.1 -0.0,13.1 -0.0,12.1 -0.0,11.1 -0.0,10.1 -0.0,9.1 -0.0,8.1 -0.0,7.1 -0.0,6.0 -0.5,5.0 -0.5,4.0 -0.6,3.0 -0.7,2.0 -0.7,1.0 -0.0,-2.0" fill="url(#l2H3K9Ac150)" filter="url(#lblur)"/></g>
<linearGradient id="g2HDAC12" x1="0" y1="0" x2="0" y2="1"><stop offset="0.00" stop-color="#fac29a"/><stop offset="0.25" stop-color="#fbcdac"/><stop offset="0.50" stop-color="#fbd3b7"/><stop offset="0.75" stop-color="#fcd9c1"/><stop offset="1.00" stop-color="#fcdec9"/></linearGradient>
<linearGradient id="l2HDAC1214" x1="0" y1="0" x2="0" y2="1"><stop offset="0.00" stop-color="#f8af79"/><stop offset="0.25" stop-color="#f9b98b"/><stop offset="0.50" stop-color="#f9c096"/><stop offset="0.75" stop-color="#fac69f"/><stop offset="1.00" stop-color="#facba8"/></linearGradient>
<linearGradient id="l2HDAC1232" x1="0" y1="0" x2="0" y2="1"><stop offset="0.00" stop-color="#f39454"/><stop offset="0.25" stop-color="#f6a062"/><stop offset="0.50" stop-color="#f7a76b"/><stop offset="0.75" stop-color="#f8ad75"/><stop offset="1.00" stop-color="#f8b27e"/></linearGradient>
<linearGradient id="l2HDAC1250" x1="0" y1="0" x2="0" y2="1"><stop offset="0.00" stop-color="#eb7632"/><stop offset="0.25" stop-color="#ee8340"/><stop offset="0.50" stop-color="#f08a49"/><stop offset="0.75" stop-color="#f29151"/><stop offset="1.00" stop-color="#f49757"/></linearGradient>
<linearGradient id="l2HDAC1268" x1="0" y1="0" x2="0" y2="1"><stop offset="0.00" stop-color="#e45911"/><stop offset="0.25" stop-color="#e7651f"/><stop offset="0.50" stop-color="#e96d28"/><stop offset="0.75" stop-color="#eb732f"/><stop offset="1.00" stop-color="#ec7936"/></linearGradient>
<g id="w2HDAC12"><rect x="-11.7" y="0" width="23.3" height="73.6" fill="#fde9dc"/><rect x="-11.7" y="0" width="23.3" height="73.6" fill="url(#g2HDAC12)"/><polygon points="9.1,-2.0 6.8,1.0 7.1,2.0 7.9,3.0 7.3,4.0 6.2,5.0 5.8,6.0 5.6,7.1 5.2,8.1 6.2,9.1 5.7,10.1 4.7,11.1 6.1,12.1 4.2,13.1 5.4,14.1 4.9,15.1 4.3,16.1 4.9,17.1 4.2,18.1 3.8,19.2 3.9,20.2 4.3,21.2 4.2,22.2 3.7,23.2 3.4,24.2 3.8,25.2 3.5,26.2 3.5,27.2 3.7,28.2 3.2,29.2 3.6,30.2 3.2,31.3 2.9,32.3 3.3,33.3 3.1,34.3 2.9,35.3 2.5,36.3 2.9,37.3 3.2,38.3 3.0,39.3 2.3,40.3 2.5,41.3 2.7,42.3 2.6,43.4 2.4,44.4 2.3,45.4 2.8,46.4 2.3,47.4 2.5,48.4 2.2,49.4 2.0,50.4 2.2,51.4 2.2,52.4 2.4,53.4 1.8,54.4 2.1,55.5 2.0,56.5 2.1,57.5 1.8,58.5 1.8,59.5 1.9,60.5 1.9,61.5 1.9,62.5 1.9,63.5 1.8,64.5 1.9,65.5 1.8,66.5 1.6,67.6 1.8,68.6 1.6,69.6 1.6,70.6 1.9,71.6 1.6,72.6 1.7,75.6 -1.7,75.6 -1.6,72.6 -1.9,71.6 -1.6,70.6 -1.6,69.6 -1.8,68.6 -1.6,67.6 -1.8,66.5 -1.9,65.5 -1.8,64.5 -1.9,63.5 -1.9,62.5 -1.9,61.5 -1.9,60.5 -1.8,59.5 -1.8,58.5 -2.1,57.5 -2.0,56.5 -2.1,55.5 -1.8,54.4 -2.4,53.4 -2.2,52.4 -2.2,51.4 -2.0,50.4 -2.2,49.4 -2.5,48.4 -2.3,47.4 -2.8,46.4 -2.3,45.4 -2.4,44.4 -2.6,43.4 -2.7,42.3 -2.5,41.3 -2.3,40.3 -3.0,39.3 -3.2,38.3 -2.9,37.3 -2.5,36.3 -2.9,35.3 -3.1,34.3 -3.3,33.3 -2.9,32.3 -3.2,31.3 -3.6,30.2 -3.2,29.2 -3.7,28.2 -3.5,27.2 -3.5,26.2 -3.8,25.2 -3.4,24.2 -3.7,23.2 -4.2,22.2 -4.3,21.2 -3.9,20.2 -3.8,19.2 -4.2,18.1 -4.9,17.1 -4.3,16.1 -4.9,15.1 -5.4,14.1 -4.2,13.1 -6.1,12.1 -4.7,11.1 -5.7,10.1 -6.2,9.1 -5.2,8.1 -5.6,7.1 -5.8,6.0 -6.2,5.0 -7.3,4.0 -7.9,3.0 -7.1,2.0 -6.8,1.0 -9.1,-2.0" fill="url(#l2HDAC1214)" filter="url(#lblur)"/><polygon points="6.1,-2.0 4.2,1.0 4.4,2.0 5.5,3.0 4.5,4.0 4.1,5.0 3.6,6.0 3.6,7.1 3.1,8.1 4.0,9.1 3.6,10.1 2.9,11.1 4.0,12.1 2.5,13.1 3.5,14.1 2.6,15.1 2.5,16.1 2.8,17.1 2.5,18.1 2.5,19.2 2.2,20.2 2.6,21.2 2.5,22.2 2.1,23.2 2.1,24.2 2.2,25.2 2.1,26.2 2.1,27.2 2.2,28.2 1.8,29.2 2.2,30.2 1.9,31.3 1.8,32.3 2.1,33.3 1.9,34.3 1.7,35.3 1.7,36.3 1.6,37.3 1.9,38.3 1.7,39.3 1.5,40.3 1.7,41.3 1.5,42.3 1.6,43.4 1.6,44.4 1.3,45.4 1.5,46.4 1.4,47.4 1.5,48.4 1.3,49.4 1.2,50.4 1.2,51.4 1.4,52.4 1.5,53.4 1.1,54.4 1.3,55.5 1.3,56.5 1.3,57.5 1.0,58.5 1.0,59.5 1.0,60.5 1.1,61.5 1.0,62.5 1.0,63.5 0.9,64.5 1.1,65.5 0.8,66.5 0.8,67.6 1.0,68.6 0.9,69.6 0.8,70.6 0.9,71.6 0.7,72.6 0.7,75.6 -0.7,75.6 -0.7,72.6 -0.9,71.6 -0.8,70.6 -0.9,69.6 -1.0,68.6 -0.8,67.6 -0.8,66.5 -1.1,65.5 -0.9,64.5 -1.0,63.5 -1.0,62.5 -1.1,61.5 -1.0,60.5 -1.0,59.5 -1.0,58.5 -1.3,57.5 -1.3,56.5 -1.3,55.5 -1.1,54.4 -1.5,53.4 -1.4,52.4 -1.2,51.4 -1.2,50.4 -1.3,49.4 -1.5,48.4 -1.4,47.4 -1.5,46.4 -1.3,45.4 -1.6,44.4 -1.6,43.4 -1.5,42.3 -1.7,41.3 -1.5,40.3 -1.7,39.3 -1.9,38.3 -1.6,37.3 -1.7,36.3 -1.7,35.3 -1.9,34.3 -2.1,33.3 -1.8,32.3 -1.9,31.3 -2.2,30.2 -1.8,29.2 -2.2,28.2 -2.1,27.2 -2.1,26.2 -2.2,25.2 -2.1,24.2 -2.1,23.2 -2.5,22.2 -2.6,21.2 -2.2,20.2 -2.5,19.2 -2.5,18.1 -2.8,17.1 -2.5,16.1 -2.6,15.1 -3.5,14.1 -2.5,13.1 -4.0,12.1 -2.9,11.1 -3.6,10.1 -4.0,9.1 -3.1,8.1 -3.6,7.1 -3.6,6.0 -4.1,5.0 -4.5,4.0 -5.5,3.0 -4.4,2.0 -4.2,1.0 -6.1,-2.0" fill="url(#l2HDAC1232)" filter="url(#lblur)"/><polygon points="2.7,-2.0 2.2,1.0 2.1,2.0 2.6,3.0 1.8,4.0 2.2,5.0 1.8,6.0 2.1,7.1 1.8,8.1 2.0,9.1 1.7,10.1 1.7,11.1 1.8,12.1 1.5,13.1 1.8,14.1 1.3,15.1 1.4,16.1 1.4,17.1 1.5,18.1 1.7,19.2 1.3,20.2 1.4,21.2 1.5,22.2 1.2,23.2 1.3,24.2 1.3,25.2 1.3,26.2 1.3,27.2 1.3,28.2 1.0,29.2 1.3,30.2 1.1,31.3 1.1,32.3 1.2,33.3 1.1,34.3 0.9,35.3 1.0,36.3 0.8,37.3 0.9,38.3 0.9,39.3 0.9,40.3 1.0,41.3 0.7,42.3 0.9,43.4 0.7,44.4 0.0,45.4 0.7,46.4 0.0,47.4 0.6,48.4 0.3,49.4 0.0,50.4 0.0,51.4 0.0,52.4 0.0,53.4 0.0,54.4 0.1,55.5 0.0,56.5 0.0,57.5 0.0,58.5 0.0,59.5 0.0,60.5 0.0,61.5 0.0,62.5 0.0,63.5 0.0,64.5 0.0,65.5 0.0,66.5 0.0,67.6 0.0,68.6 0.0,69.6 0.0,70.6 0.0,71.6 0.0,72.6 0.0,75.6 -0.0,75.6 -0.0,72.6 -0.0,71.6 -0.0,70.6 -0.0,69.6 -0.0,68.6 -0.0,67.6 -0.0,66.5 -0.0,65.5 -0.0,64.5 -0.0,63.5 -0.0,62.5 -0.0,61.5 -0.0,60.5 -0.0,59.5 -0.0,58.5 -0.0,57.5 -0.0,56.5 -0.1,55.5 -0.0,54.4 -0.0,53.4 -0.0,52.4 -0.0,51.4 -0.0,50.4 -0.3,49.4 -0.6,48.4 -0.0,47.4 -0.7,46.4 -0.0,45.4 -0.7,44.4 -0.9,43.4 -0.7,42.3 -1.0,41.3 -0.9,40.3 -0.9,39.3 -0.9,38.3 -0.8,37.3 -1.0,36.3 -0.9,35.3 -1.1,34.3 -1.2,33.3 -1.1,32.3 -1.1,31.3 -1.3,30.2 -1.0,29.2 -1.3,28.2 -1.3,27.2 -1.3,26.2 -1.3,25.2 -1.3,24.2 -1.2,23.2 -1.5,22.2 -1.4,21.2 -1.3,20.2 -1.7,19.2 -1.5,18.1 -1.4,17.1 -1.4,16.1 -1.3,15.1 -1.8,14.1 -1.5,13.1 -1.8,12.1 -1.7,11.1 -1.7,10.1 -2.0,9.1 -1.8,8.1 -2.1,7.1 -1.8,6.0 -2.2,5.0 -1.8,4.0 -2.6,3.0 -2.1,2.0 -2.2,1.0 -2.7,-2.0" fill="url(#l2HDAC1250)" filter="url(#lblur)"/><polygon points="1.5,-2.0 1.2,1.0 0.9,2.0 1.3,3.0 0.9,4.0 1.2,5.0 1.0,6.0 1.3,7.1 0.9,8.1 1.1,9.1 0.9,10.1 0.5,11.1 1.0,12.1 0.0,13.1 1.0,14.1 0.0,15.1 0.6,16.1 0.5,17.1 0.4,18.1 0.7,19.2 0.0,20.2 0.6,21.2 0.5,22.2 0.0,23.2 0.0,24.2 0.0,25.2 0.0,26.2 0.0,27.2 0.0,28.2 0.0,29.2 0.0,30.2 0.0,31.3 0.0,32.3 0.0,33.3 0.0,34.3 0.0,35.3 0.0,36.3 0.0,37.3 0.0,38.3 0.0,39.3 0.0,40.3 0.0,41.3 0.0,42.3 0.0,43.4 0.0,44.4 0.0,45.4 0.0,46.4 0.0,47.4 0.0,48.4 0.0,49.4 0.0,50.4 0.0,51.4 0.0,52.4 0.0,53.4 0.0,54.4 0.0,55.5 0.0,56.5 0.0,57.5 0.0,58.5 0.0,59.5 0.0,60.5 0.0,61.5 0.0,62.5 0.0,63.5 0.0,64.5 0.0,65.5 0.0,66.5 0.0,67.6 0.0,68.6 0.0,69.6 0.0,70.6 0.0,71.6 0.0,72.6 0.0,75.6 -0.0,75.6 -0.0,72.6 -0.0,71.6 -0.0,70.6 -0.0,69.6 -0.0,68.6 -0.0,67.6 -0.0,66.5 -0.0,65.5 -0.0,64.5 -0.0,63.5 -0.0,62.5 -0.0,61.5 -0.0,60.5 -0.0,59.5 -0.0,58.5 -0.0,57.5 -0.0,56.5 -0.0,55.5 -0.0,54.4 -0.0,53.4 -0.0,52.4 -0.0,51.4 -0.0,50.4 -0.0,49.4 -0.0,48.4 -0.0,47.4 -0.0,46.4 -0.0,45.4 -0.0,44.4 -0.0,43.4 -0.0,42.3 -0.0,41.3 -0.0,40.3 -0.0,39.3 -0.0,38.3 -0.0,37.3 -0.0,36.3 -0.0,35.3 -0.0,34.3 -0.0,33.3 -0.0,32.3 -0.0,31.3 -0.0,30.2 -0.0,29.2 -0.0,28.2 -0.0,27.2 -0.0,26.2 -0.0,25.2 -0.0,24.2 -0.0,23.2 -0.5,22.2 -0.6,21.2 -0.0,20.2 -0.7,19.2 -0.4,18.1 -0.5,17.1 -0.6,16.1 -0.0,15.1 -1.0,14.1 -0.0,13.1 -1.0,12.1 -0.5,11.1 -0.9,10.1 -1.1,9.1 -0.9,8.1 -1.3,7.1 -1.0,6.0 -1.2,5.0 -0.9,4.0 -1.3,3.0 -0.9,2.0 -1.2,1.0 -1.5,-2.0" fill="url(#l2HDAC1268)" filter="url(#lblur)"/></g>
<linearGradient id="g2H3K9Ac2" x1="0" y1="0" x2="0" y2="1"><stop offset="0.00" stop-color="#c8e5ca"/><stop offset="0.25" stop-color="#d4ebd5"/><stop offset="0.50" stop-color="#dcefdc"/><stop offset="0.75" stop-color="#e3f1e2"/><stop offset="1.00" stop-color="#e9f4e7"/></linearGradient>
<linearGradient id="l2H3K9Ac214" x1="0" y1="0" x2="0" y2="1"><stop offset="0.00" stop-color="#abd9b1"/><stop offset="0.25" stop-color="#b8debc"/><stop offset="0.50" stop-color="#bfe2c3"/><stop offset="0.75" stop-color="#c6e5c9"/><stop offset="1.00" stop-color="#cce7ce"/></linearGradient>
<linearGradient id="l2H3K9Ac232" x1="0" y1="0" x2="0" y2="1"><stop offset="0.00" stop-color="#86c890"/><stop offset="0.25" stop-color="#92ce9b"/><stop offset="0.50" stop-color="#9ad1a2"/><stop offset="0.75" stop-color="#a1d4a8"/><stop offset="1.00" stop-color="#a7d7ad"/></linearGradient>
<linearGradient id="l2H3K9Ac250" x1="0" y1="0" x2="0" y2="1"><stop offset="0.00" stop-color="#59b272"/><stop offset="0.25" stop-color="#68b97c"/><stop offset="0.50" stop-color="#72be83"/><stop offset="0.75" stop-color="#7ac288"/><stop offset="1.00" stop-color="#81c68d"/></linearGradient>
<g id="w2H3K9Ac2"><rect x="-11.7" y="0" width="23.3" height="73.6" fill="#edf6eb"/><rect x="-11.7" y="0" width="23.3" height="73.6" fill="url(#g2H3K9Ac2)"/><polygon points="9.8,-2.0 7.3,1.0 7.3,2.0 8.2,3.0 8.1,4.0 8.7,5.0 6.1,6.0 6.6,7.1 6.0,8.1 6.4,9.1 6.9,10.1 5.9,11.1 6.3,12.1 5.4,13.1 6.4,14.1 5.3,15.1 6.2,16.1 5.8,17.1 5.3,18.1 4.8,19.2 5.0,20.2 5.5,21.2 5.4,22.2 4.6,23.2 4.5,24.2 4.5,25.2 3.7,26.2 4.8,27.2 4.4,28.2 3.8,29.2 4.4,30.2 4.6,31.3 4.5,32.3 4.1,33.3 3.2,34.3 3.5,35.3 3.8,36.3 3.8,37.3 4.0,38.3 3.6,39.3 2.6,40.3 3.3,41.3 2.5,42.3 2.7,43.4 3.0,44.4 2.6,45.4 2.4,46.4 2.3,47.4 2.5,48.4 2.2,49.4 2.5,50.4 2.5,51.4 1.9,52.4 1.9,53.4 1.7,54.4 1.9,55.5 1.6,56.5 2.0,57.5 1.9,58.5 1.9,59.5 1.4,60.5 1.4,61.5 1.3,62.5 1.2,63.5 0.9,64.5 1.1,65.5 1.0,66.5 0.7,67.6 0.0,68.6 0.0,69.6 0.0,70.6 0.0,71.6 0.0,72.6 0.0,75.6 -0.0,75.6 -0.0,72.6 -0.0,71.6 -0.0,70.6 -0.0,69.6 -0.0,68.6 -0.7,67.6 -1.0,66.5 -1.1,65.5 -0.9,64.5 -1.2,63.5 -1.3,62.5 -1.4,61.5 -1.4,60.5 -1.9,59.5 -1.9,58.5 -2.0,57.5 -1.6,56.5 -1.9,55.5 -1.7,54.4 -1.9,53.4 -1.9,52.4 -2.5,51.4 -2.5,50.4 -2.2,49.4 -2.5,48.4 -2.3,47.4 -2.4,46.4 -2.6,45.4 -3.0,44.4 -2.7,43.4 -2.5,42.3 -3.3,41.3 -2.6,40.3 -3.6,39.3 -4.0,38.3 -3.8,37.3 -3.8,36.3 -3.5,35.3 -3.2,34.3 -4.1,33.3 -4.5,32.3 -4.6,31.3 -4.4,30.2 -3.8,29.2 -4.4,28.2 -4.8,27.2 -3.7,26.2 -4.5,25.2 -4.5,24.2 -4.6,23.2 -5.4,22.2 -5.5,21.2 -5.0,20.2 -4.8,19.2 -5.3,18.1 -5.8,17.1 -6.2,16.1 -5.3,15.1 -6.4,14.1 -5.4,13.1 -6.3,12.1 -5.9,11.1 -6.9,10.1 -6.4,9.1 -6.0,8.1 -6.6,7.1 -6.1,6.0 -8.7,5.0 -8.1,4.0 -8.2,3.0 -7.3,2.0 -7.3,1.0 -9.8,-2.0" fill="url(#l2H3K9Ac214)" filter="url(#lblur)"/><polygon points="6.3,-2.0 4.5,1.0 4.8,2.0 5.6,3.0 5.1,4.0 5.8,5.0 3.7,6.0 4.2,7.1 3.5,8.1 4.2,9.1 4.1,10.1 3.3,11.1 4.0,12.1 3.2,13.1 3.9,14.1 3.3,15.1 3.5,16.1 3.3,17.1 2.6,18.1 2.4,19.2 2.7,20.2 3.0,21.2 2.4,22.2 2.0,23.2 2.5,24.2 2.0,25.2 1.6,26.2 1.9,27.2 1.7,28.2 1.9,29.2 1.7,30.2 1.9,31.3 1.8,32.3 1.7,33.3 1.3,34.3 1.3,35.3 1.3,36.3 1.3,37.3 1.2,38.3 1.1,39.3 0.7,40.3 1.1,41.3 0.4,42.3 0.0,43.4 0.0,44.4 0.0,45.4 0.0,46.4 0.0,47.4 0.0,48.4 0.0,49.4 0.0,50.4 0.0,51.4 0.0,52.4 0.0,53.4 0.0,54.4 0.0,55.5 0.0,56.5 0.0,57.5 0.0,58.5 0.0,59.5 0.0,60.5 0.0,61.5 0.0,62.5 0.0,63.5 0.0,64.5 0.0,65.5 0.0,66.5 0.0,67.6 0.0,68.6 0.0,69.6 0.0,70.6 0.0,71.6 0.0,72.6 0.0,75.6 -0.0,75.6 -0.0,72.6 -0.0,71.6 -0.0,70.6 -0.0,69.6 -0.0,68.6 -0.0,67.6 -0.0,66.5 -0.0,65.5 -0.0,64.5 -0.0,63.5 -0.0,62.5 -0.0,61.5 -0.0,60.5 -0.0,59.5 -0.0,58.5 -0.0,57.5 -0.0,56.5 -0.0,55.5 -0.0,54.4 -0.0,53.4 -0.0,52.4 -0.0,51.4 -0.0,50.4 -0.0,49.4 -0.0,48.4 -0.0,47.4 -0.0,46.4 -0.0,45.4 -0.0,44.4 -0.0,43.4 -0.4,42.3 -1.1,41.3 -0.7,40.3 -1.1,39.3 -1.2,38.3 -1.3,37.3 -1.3,36.3 -1.3,35.3 -1.3,34.3 -1.7,33.3 -1.8,32.3 -1.9,31.3 -1.7,30.2 -1.9,29.2 -1.7,28.2 -1.9,27.2 -1.6,26.2 -2.0,25.2 -2.5,24.2 -2.0,23.2 -2.4,22.2 -3.0,21.2 -2.7,20.2 -2.4,19.2 -2.6,18.1 -3.3,17.1 -3.5,16.1 -3.3,15.1 -3.9,14.1 -3.2,13.1 -4.0,12.1 -3.3,11.1 -4.1,10.1 -4.2,9.1 -3.5,8.1 -4.2,7.1 -3.7,6.0 -5.8,5.0 -5.1,4.0 -5.6,3.0 -4.8,2.0 -4.5,1.0 -6.3,-2.0" fill="url(#l2H3K9Ac232)" filter="url(#lblur)"/><polygon points="1.9,-2.0 1.6,1.0 2.2,2.0 2.2,3.0 2.1,4.0 2.2,5.0 1.3,6.0 1.6,7.1 1.3,8.1 2.0,9.1 1.4,10.1 1.1,11.1 1.7,12.1 1.2,13.1 1.3,14.1 1.4,15.1 1.0,16.1 1.0,17.1 0.4,18.1 0.0,19.2 0.8,20.2 0.7,21.2 0.0,22.2 0.0,23.2 0.6,24.2 0.0,25.2 0.0,26.2 0.0,27.2 0.0,28.2 0.0,29.2 0.0,30.2 0.0,31.3 0.0,32.3 0.0,33.3 0.0,34.3 0.0,35.3 0.0,36.3 0.0,37.3 0.0,38.3 0.0,39.3 0.0,40.3 0.0,41.3 0.0,42.3 0.0,43.4 0.0,44.4 0.0,45.4 0.0,46.4 0.0,47.4 0.0,48.4 0.0,49.4 0.0,50.4 0.0,51.4 0.0,52.4 0.0,53.4 0.0,54.4 0.0,55.5 0.0,56.5 0.0,57.5 0.0,58.5 0.0,59.5 0.0,60.5 0.0,61.5 0.0,62.5 0.0,63.5 0.0,64.5 0.0,65.5 0.0,66.5 0.0,67.6 0.0,68.6 0.0,69.6 0.0,70.6 0.0,71.6 0.0,72.6 0.0,75.6 -0.0,75.6 -0.0,72.6 -0.0,71.6 -0.0,70.6 -0.0,69.6 -0.0,68.6 -0.0,67.6 -0.0,66.5 -0.0,65.5 -0.0,64.5 -0.0,63.5 -0.0,62.5 -0.0,61.5 -0.0,60.5 -0.0,59.5 -0.0,58.5 -0.0,57.5 -0.0,56.5 -0.0,55.5 -0.0,54.4 -0.0,53.4 -0.0,52.4 -0.0,51.4 -0.0,50.4 -0.0,49.4 -0.0,48.4 -0.0,47.4 -0.0,46.4 -0.0,45.4 -0.0,44.4 -0.0,43.4 -0.0,42.3 -0.0,41.3 -0.0,40.3 -0.0,39.3 -0.0,38.3 -0.0,37.3 -0.0,36.3 -0.0,35.3 -0.0,34.3 -0.0,33.3 -0.0,32.3 -0.0,31.3 -0.0,30.2 -0.0,29.2 -0.0,28.2 -0.0,27.2 -0.0,26.2 -0.0,25.2 -0.6,24.2 -0.0,23.2 -0.0,22.2 -0.7,21.2 -0.8,20.2 -0.0,19.2 -0.4,18.1 -1.0,17.1 -1.0,16.1 -1.4,15.1 -1.3,14.1 -1.2,13.1 -1.7,12.1 -1.1,11.1 -1.4,10.1 -2.0,9.1 -1.3,8.1 -1.6,7.1 -1.3,6.0 -2.2,5.0 -2.1,4.0 -2.2,3.0 -2.2,2.0 -1.6,1.0 -1.9,-2.0" fill="url(#l2H3K9Ac250)" filter="url(#lblur)"/></g>
</defs>
<g clip-path="url(#cp0_0)"><use href="#w0HDAC1" x="48.95" y="146.00"/><rect x="37.30" y="146.00" width="23.3" height="72.50" fill="url(#streak)" transform="translate(0 28.7)"/></g>
<rect x="37.30" y="146.00" width="23.3" height="72.50" rx="1" fill="none" stroke="#3c3c3c" stroke-width="1.2"/>
<g clip-path="url(#cp0_1)"><use href="#w0BRD4" x="73.65" y="146.00"/><rect x="62.00" y="146.00" width="23.3" height="72.50" fill="url(#streak)" transform="translate(0 11.4)"/></g>
<rect x="62.00" y="146.00" width="23.3" height="72.50" rx="1" fill="none" stroke="#3c3c3c" stroke-width="1.2"/>
<g clip-path="url(#cp0_2)"><use href="#w0H3K9Ac" x="98.95" y="146.00"/><rect x="87.30" y="146.00" width="23.3" height="72.50" fill="url(#streak)" transform="translate(0 26.2)"/></g>
<rect x="87.30" y="146.00" width="23.3" height="72.50" rx="1" fill="none" stroke="#3c3c3c" stroke-width="1.2"/>
<g clip-path="url(#cp0_3)"><use href="#w0H3K27Ac" x="124.35" y="146.00"/><rect x="112.70" y="146.00" width="23.3" height="72.50" fill="url(#streak)" transform="translate(0 29.0)"/></g>
<rect x="112.70" y="146.00" width="23.3" height="72.50" rx="1" fill="none" stroke="#3c3c3c" stroke-width="1.2"/>
<g clip-path="url(#cp0_4)"><use href="#w0Pol2" x="150.40" y="146.00"/><rect x="138.75" y="146.00" width="23.3" height="72.50" fill="url(#streak)" transform="translate(0 3.1)"/></g>
<rect x="138.75" y="146.00" width="23.3" height="72.50" rx="1" fill="none" stroke="#3c3c3c" stroke-width="1.2"/>
<g clip-path="url(#cp0_5)"><use href="#w0ATAC" x="175.90" y="146.00"/><rect x="164.25" y="146.00" width="23.3" height="72.50" fill="url(#streak)" transform="translate(0 1.5)"/></g>
<rect x="164.25" y="146.00" width="23.3" height="72.50" rx="1" fill="none" stroke="#3c3c3c" stroke-width="1.2"/>
<g clip-path="url(#cp0_6)"><use href="#w0HDAC1" x="201.65" y="146.00"/><rect x="190.00" y="146.00" width="23.3" height="72.50" fill="url(#streak)" transform="translate(0 18.1)"/></g>
<rect x="190.00" y="146.00" width="23.3" height="72.50" rx="1" fill="none" stroke="#3c3c3c" stroke-width="1.2"/>
<g clip-path="url(#cp0_7)"><use href="#w0BRD4" x="226.65" y="146.00"/><rect x="215.00" y="146.00" width="23.3" height="72.50" fill="url(#streak)" transform="translate(0 26.1)"/></g>
<rect x="215.00" y="146.00" width="23.3" height="72.50" rx="1" fill="none" stroke="#3c3c3c" stroke-width="1.2"/>
<g clip-path="url(#cp0_8)"><use href="#w0H3K9Ac" x="250.40" y="146.00"/><rect x="238.75" y="146.00" width="23.3" height="72.50" fill="url(#streak)" transform="translate(0 9.8)"/></g>
<rect x="238.75" y="146.00" width="23.3" height="72.50" rx="1" fill="none" stroke="#3c3c3c" stroke-width="1.2"/>
<g clip-path="url(#cp0_9)"><use href="#w0H3K27Ac" x="274.90" y="146.00"/><rect x="263.25" y="146.00" width="23.3" height="72.50" fill="url(#streak)" transform="translate(0 11.2)"/></g>
<rect x="263.25" y="146.00" width="23.3" height="72.50" rx="1" fill="none" stroke="#3c3c3c" stroke-width="1.2"/>
<g clip-path="url(#cp0_10)"><use href="#w0Pol2" x="299.65" y="146.00"/><rect x="288.00" y="146.00" width="23.3" height="72.50" fill="url(#streak)" transform="translate(0 10.0)"/></g>
<rect x="288.00" y="146.00" width="23.3" height="72.50" rx="1" fill="none" stroke="#3c3c3c" stroke-width="1.2"/>
<g clip-path="url(#cp0_11)"><use href="#w0ATAC" x="324.15" y="146.00"/><rect x="312.50" y="146.00" width="23.3" height="72.50" fill="url(#streak)" transform="translate(0 23.3)"/></g>
<rect x="312.50" y="146.00" width="23.3" height="72.50" rx="1" fill="none" stroke="#3c3c3c" stroke-width="1.2"/>
<g clip-path="url(#cp0_12)"><use href="#w0HDAC1" x="350.45" y="146.00"/><rect x="338.80" y="146.00" width="23.3" height="72.50" fill="url(#streak)" transform="translate(0 36.3)"/></g>
<rect x="338.80" y="146.00" width="23.3" height="72.50" rx="1" fill="none" stroke="#3c3c3c" stroke-width="1.2"/>
<g clip-path="url(#cp0_13)"><use href="#w0BRD4" x="375.55" y="146.00"/><rect x="363.90" y="146.00" width="23.3" height="72.50" fill="url(#streak)" transform="translate(0 2.1)"/></g>
<rect x="363.90" y="146.00" width="23.3" height="72.50" rx="1" fill="none" stroke="#3c3c3c" stroke-width="1.2"/>
<g clip-path="url(#cp0_14)"><use href="#w0H3K9Ac" x="400.45" y="146.00"/><rect x="388.80" y="146.00" width="23.3" height="72.50" fill="url(#streak)" transform="translate(0 17.9)"/></g>
<rect x="388.80" y="146.00" width="23.3" height="72.50" rx="1" fill="none" stroke="#3c3c3c" stroke-width="1.2"/>
<g clip-path="url(#cp0_15)"><use href="#w0H3K27Ac" x="424.25" y="146.00"/><rect x="412.60" y="146.00" width="23.3" height="72.50" fill="url(#streak)" transform="translate(0 12.3)"/></g>
<rect x="412.60" y="146.00" width="23.3" height="72.50" rx="1" fill="none" stroke="#3c3c3c" stroke-width="1.2"/>
<g clip-path="url(#cp0_16)"><use href="#w0Pol2" x="448.95" y="146.00"/><rect x="437.30" y="146.00" width="23.3" height="72.50" fill="url(#streak)" transform="translate(0 18.9)"/></g>
<rect x="437.30" y="146.00" width="23.3" height="72.50" rx="1" fill="none" stroke="#3c3c3c" stroke-width="1.2"/>
<g clip-path="url(#cp0_17)"><use href="#w0ATAC" x="473.55" y="146.00"/><rect x="461.90" y="146.00" width="23.3" height="72.50" fill="url(#streak)" transform="translate(0 2.6)"/></g>
<rect x="461.90" y="146.00" width="23.3" height="72.50" rx="1" fill="none" stroke="#3c3c3c" stroke-width="1.2"/>
<g clip-path="url(#cp1_0)"><use href="#w1HDAC1" x="48.95" y="220.20"/><rect x="37.30" y="220.20" width="23.3" height="88.40" fill="url(#streak)" transform="translate(0 30.2)"/></g>
<rect x="37.30" y="220.20" width="23.3" height="88.40" rx="1" fill="none" stroke="#3c3c3c" stroke-width="1.2"/>
<g clip-path="url(#cp1_1)"><use href="#w1BRD4" x="73.65" y="220.20"/><rect x="62.00" y="220.20" width="23.3" height="88.40" fill="url(#streak)" transform="translate(0 27.9)"/></g>
<rect x="62.00" y="220.20" width="23.3" height="88.40" rx="1" fill="none" stroke="#3c3c3c" stroke-width="1.2"/>
<g clip-path="url(#cp1_2)"><use href="#w1H3K9Ac" x="98.95" y="220.20"/><rect x="87.30" y="220.20" width="23.3" height="88.40" fill="url(#streak)" transform="translate(0 22.8)"/></g>
<rect x="87.30" y="220.20" width="23.3" height="88.40" rx="1" fill="none" stroke="#3c3c3c" stroke-width="1.2"/>
<g clip-path="url(#cp1_3)"><use href="#w1H3K27Ac" x="124.35" y="220.20"/><rect x="112.70" y="220.20" width="23.3" height="88.40" fill="url(#streak)" transform="translate(0 1.9)"/></g>
<rect x="112.70" y="220.20" width="23.3" height="88.40" rx="1" fill="none" stroke="#3c3c3c" stroke-width="1.2"/>
<g clip-path="url(#cp1_4)"><use href="#w1Pol2" x="150.40" y="220.20"/><rect x="138.75" y="220.20" width="23.3" height="88.40" fill="url(#streak)" transform="translate(0 4.0)"/></g>
<rect x="138.75" y="220.20" width="23.3" height="88.40" rx="1" fill="none" stroke="#3c3c3c" stroke-width="1.2"/>
<g clip-path="url(#cp1_5)"><use href="#w1ATAC" x="175.90" y="220.20"/><rect x="164.25" y="220.20" width="23.3" height="88.40" fill="url(#streak)" transform="translate(0 11.4)"/></g>
<rect x="164.25" y="220.20" width="23.3" height="88.40" rx="1" fill="none" stroke="#3c3c3c" stroke-width="1.2"/>
<g clip-path="url(#cp1_6)"><use href="#w1HDAC1" x="201.65" y="220.20"/><rect x="190.00" y="220.20" width="23.3" height="88.40" fill="url(#streak)" transform="translate(0 2.4)"/></g>
<rect x="190.00" y="220.20" width="23.3" height="88.40" rx="1" fill="none" stroke="#3c3c3c" stroke-width="1.2"/>
<g clip-path="url(#cp1_7)"><use href="#w1BRD4" x="226.65" y="220.20"/><rect x="215.00" y="220.20" width="23.3" height="88.40" fill="url(#streak)" transform="translate(0 10.2)"/></g>
<rect x="215.00" y="220.20" width="23.3" height="88.40" rx="1" fill="none" stroke="#3c3c3c" stroke-width="1.2"/>
<g clip-path="url(#cp1_8)"><use href="#w1H3K9Ac" x="250.40" y="220.20"/><rect x="238.75" y="220.20" width="23.3" height="88.40" fill="url(#streak)" transform="translate(0 24.4)"/></g>
<rect x="238.75" y="220.20" width="23.3" height="88.40" rx="1" fill="none" stroke="#3c3c3c" stroke-width="1.2"/>
<g clip-path="url(#cp1_9)"><use href="#w1H3K27Ac" x="274.90" y="220.20"/><rect x="263.25" y="220.20" width="23.3" height="88.40" fill="url(#streak)" transform="translate(0 37.4)"/></g>
<rect x="263.25" y="220.20" width="23.3" height="88.40" rx="1" fill="none" stroke="#3c3c3c" stroke-width="1.2"/>
<g clip-path="url(#cp1_10)"><use href="#w1Pol2" x="299.65" y="220.20"/><rect x="288.00" y="220.20" width="23.3" height="88.40" fill="url(#streak)" transform="translate(0 2.7)"/></g>
<rect x="288.00" y="220.20" width="23.3" height="88.40" rx="1" fill="none" stroke="#3c3c3c" stroke-width="1.2"/>
<g clip-path="url(#cp1_11)"><use href="#w1ATAC" x="324.15" y="220.20"/><rect x="312.50" y="220.20" width="23.3" height="88.40" fill="url(#streak)" transform="translate(0 5.9)"/></g>
<rect x="312.50" y="220.20" width="23.3" height="88.40" rx="1" fill="none" stroke="#3c3c3c" stroke-width="1.2"/>
<g clip-path="url(#cp1_12)"><use href="#w1HDAC1" x="350.45" y="220.20"/><rect x="338.80" y="220.20" width="23.3" height="88.40" fill="url(#streak)" transform="translate(0 17.3)"/></g>
<rect x="338.80" y="220.20" width="23.3" height="88.40" rx="1" fill="none" stroke="#3c3c3c" stroke-width="1.2"/>
<g clip-path="url(#cp1_13)"><use href="#w1BRD4" x="375.55" y="220.20"/><rect x="363.90" y="220.20" width="23.3" height="88.40" fill="url(#streak)" transform="translate(0 29.7)"/></g>
<rect x="363.90" y="220.20" width="23.3" height="88.40" rx="1" fill="none" stroke="#3c3c3c" stroke-width="1.2"/>
<g clip-path="url(#cp1_14)"><use href="#w1H3K9Ac" x="400.45" y="220.20"/><rect x="388.80" y="220.20" width="23.3" height="88.40" fill="url(#streak)" transform="translate(0 5.8)"/></g>
<rect x="388.80" y="220.20" width="23.3" height="88.40" rx="1" fill="none" stroke="#3c3c3c" stroke-width="1.2"/>
<g clip-path="url(#cp1_15)"><use href="#w1H3K27Ac" x="424.25" y="220.20"/><rect x="412.60" y="220.20" width="23.3" height="88.40" fill="url(#streak)" transform="translate(0 17.2)"/></g>
<rect x="412.60" y="220.20" width="23.3" height="88.40" rx="1" fill="none" stroke="#3c3c3c" stroke-width="1.2"/>
<g clip-path="url(#cp1_16)"><use href="#w1Pol2" x="448.95" y="220.20"/><rect x="437.30" y="220.20" width="23.3" height="88.40" fill="url(#streak)" transform="translate(0 4.2)"/></g>
<rect x="437.30" y="220.20" width="23.3" height="88.40" rx="1" fill="none" stroke="#3c3c3c" stroke-width="1.2"/>
<g clip-path="url(#cp1_17)"><use href="#w1ATAC" x="473.55" y="220.20"/><rect x="461.90" y="220.20" width="23.3" height="88.40" fill="url(#streak)" transform="translate(0 39.4)"/></g>
<rect x="461.90" y="220.20" width="23.3" height="88.40" rx="1" fill="none" stroke="#3c3c3c" stroke-width="1.2"/>
<g clip-path="url(#cp2_0)"><use href="#w2HDAC10" x="48.95" y="311.40"/><rect x="37.30" y="311.40" width="23.3" height="73.60" fill="url(#streak)" transform="translate(0 18.3)"/></g>
<rect x="37.30" y="311.40" width="23.3" height="73.60" rx="1" fill="none" stroke="#3c3c3c" stroke-width="1.2"/>
<g clip-path="url(#cp2_1)"><use href="#w2BRD4" x="73.65" y="311.40"/><rect x="62.00" y="311.40" width="23.3" height="73.60" fill="url(#streak)" transform="translate(0 20.0)"/></g>
<rect x="62.00" y="311.40" width="23.3" height="73.60" rx="1" fill="none" stroke="#3c3c3c" stroke-width="1.2"/>
<g clip-path="url(#cp2_2)"><use href="#w2H3K9Ac0" x="98.95" y="311.40"/><rect x="87.30" y="311.40" width="23.3" height="73.60" fill="url(#streak)" transform="translate(0 6.3)"/></g>
<rect x="87.30" y="311.40" width="23.3" height="73.60" rx="1" fill="none" stroke="#3c3c3c" stroke-width="1.2"/>
<g clip-path="url(#cp2_3)"><use href="#w2H3K27Ac" x="124.35" y="311.40"/><rect x="112.70" y="311.40" width="23.3" height="73.60" fill="url(#streak)" transform="translate(0 9.2)"/></g>
<rect x="112.70" y="311.40" width="23.3" height="73.60" rx="1" fill="none" stroke="#3c3c3c" stroke-width="1.2"/>
<g clip-path="url(#cp2_4)"><use href="#w2Pol2" x="150.40" y="311.40"/><rect x="138.75" y="311.40" width="23.3" height="73.60" fill="url(#streak)" transform="translate(0 22.0)"/></g>
<rect x="138.75" y="311.40" width="23.3" height="73.60" rx="1" fill="none" stroke="#3c3c3c" stroke-width="1.2"/>
<g clip-path="url(#cp2_5)"><use href="#w2ATAC" x="175.90" y="311.40"/><rect x="164.25" y="311.40" width="23.3" height="73.60" fill="url(#streak)" transform="translate(0 7.6)"/></g>
<rect x="164.25" y="311.40" width="23.3" height="73.60" rx="1" fill="none" stroke="#3c3c3c" stroke-width="1.2"/>
<g clip-path="url(#cp2_6)"><use href="#w2HDAC11" x="201.65" y="311.40"/><rect x="190.00" y="311.40" width="23.3" height="73.60" fill="url(#streak)" transform="translate(0 7.0)"/></g>
<rect x="190.00" y="311.40" width="23.3" height="73.60" rx="1" fill="none" stroke="#3c3c3c" stroke-width="1.2"/>
<g clip-path="url(#cp2_7)"><use href="#w2BRD4" x="226.65" y="311.40"/><rect x="215.00" y="311.40" width="23.3" height="73.60" fill="url(#streak)" transform="translate(0 1.2)"/></g>
<rect x="215.00" y="311.40" width="23.3" height="73.60" rx="1" fill="none" stroke="#3c3c3c" stroke-width="1.2"/>
<g clip-path="url(#cp2_8)"><use href="#w2H3K9Ac1" x="250.40" y="311.40"/><rect x="238.75" y="311.40" width="23.3" height="73.60" fill="url(#streak)" transform="translate(0 5.8)"/></g>
<rect x="238.75" y="311.40" width="23.3" height="73.60" rx="1" fill="none" stroke="#3c3c3c" stroke-width="1.2"/>
<g clip-path="url(#cp2_9)"><use href="#w2H3K27Ac" x="274.90" y="311.40"/><rect x="263.25" y="311.40" width="23.3" height="73.60" fill="url(#streak)" transform="translate(0 23.2)"/></g>
<rect x="263.25" y="311.40" width="23.3" height="73.60" rx="1" fill="none" stroke="#3c3c3c" stroke-width="1.2"/>
<g clip-path="url(#cp2_10)"><use href="#w2Pol2" x="299.65" y="311.40"/><rect x="288.00" y="311.40" width="23.3" height="73.60" fill="url(#streak)" transform="translate(0 15.1)"/></g>
<rect x="288.00" y="311.40" width="23.3" height="73.60" rx="1" fill="none" stroke="#3c3c3c" stroke-width="1.2"/>
<g clip-path="url(#cp2_11)"><use href="#w2ATAC" x="324.15" y="311.40"/><rect x="312.50" y="311.40" width="23.3" height="73.60" fill="url(#streak)" transform="translate(0 11.2)"/></g>
<rect x="312.50" y="311.40" width="23.3" height="73.60" rx="1" fill="none" stroke="#3c3c3c" stroke-width="1.2"/>
<g clip-path="url(#cp2_12)"><use href="#w2HDAC12" x="350.45" y="311.40"/><rect x="338.80" y="311.40" width="23.3" height="73.60" fill="url(#streak)" transform="translate(0 14.9)"/></g>
<rect x="338.80" y="311.40" width="23.3" height="73.60" rx="1" fill="none" stroke="#3c3c3c" stroke-width="1.2"/>
<g clip-path="url(#cp2_13)"><use href="#w2BRD4" x="375.55" y="311.40"/><rect x="363.90" y="311.40" width="23.3" height="73.60" fill="url(#streak)" transform="translate(0 3.3)"/></g>
<rect x="363.90" y="311.40" width="23.3" height="73.60" rx="1" fill="none" stroke="#3c3c3c" stroke-width="1.2"/>
<g clip-path="url(#cp2_14)"><use href="#w2H3K9Ac2" x="400.45" y="311.40"/><rect x="388.80" y="311.40" width="23.3" height="73.60" fill="url(#streak)" transform="translate(0 11.1)"/></g>
<rect x="388.80" y="311.40" width="23.3" height="73.60" rx="1" fill="none" stroke="#3c3c3c" stroke-width="1.2"/>
<g clip-path="url(#cp2_15)"><use href="#w2H3K27Ac" x="424.25" y="311.40"/><rect x="412.60" y="311.40" width="23.3" height="73.60" fill="url(#streak)" transform="translate(0 30.6)"/></g>
<rect x="412.60" y="311.40" width="23.3" height="73.60" rx="1" fill="none" stroke="#3c3c3c" stroke-width="1.2"/>
<g clip-path="url(#cp2_16)"><use href="#w2Pol2" x="448.95" y="311.40"/><rect x="437.30" y="311.40" width="23.3" height="73.60" fill="url(#streak)" transform="translate(0 21.6)"/></g>
<rect x="437.30" y="311.40" width="23.3" height="73.60" rx="1" fill="none" stroke="#3c3c3c" stroke-width="1.2"/>
<g clip-path="url(#cp2_17)"><use href="#w2ATAC" x="473.55" y="311.40"/><rect x="461.90" y="311.40" width="23.3" height="73.60" fill="url(#streak)" transform="translate(0 32.6)"/></g>
<rect x="461.90" y="311.40" width="23.3" height="73.60" rx="1" fill="none" stroke="#3c3c3c" stroke-width="1.2"/>
<line x1="37.80" y1="385.00" x2="37.80" y2="387.60" stroke="#444" stroke-width="0.6"/>
<text x="39.10" y="396.20" font-size="3.8" fill="#888" stroke="#888" stroke-width="0.08" transform="rotate(-90 39.10 396.20)">-0.5</text>
<line x1="48.95" y1="385.00" x2="48.95" y2="387.60" stroke="#444" stroke-width="0.6"/>
<text x="50.25" y="396.20" font-size="3.8" fill="#888" stroke="#888" stroke-width="0.08" transform="rotate(-90 50.25 396.20)">TSS</text>
<line x1="60.10" y1="385.00" x2="60.10" y2="387.60" stroke="#444" stroke-width="0.6"/>
<text x="61.40" y="396.20" font-size="3.8" fill="#888" stroke="#888" stroke-width="0.08" transform="rotate(-90 61.40 396.20)">0.5</text>
<text x="48.95" y="405.60" font-size="4.6" fill="#777" stroke="#777" stroke-width="0.08" text-anchor="middle">Gene</text>
<text x="48.95" y="410.40" font-size="4.6" fill="#777" stroke="#777" stroke-width="0.08" text-anchor="middle" textLength="17.00" lengthAdjust="spacingAndGlyphs">distance</text>
<line x1="62.50" y1="385.00" x2="62.50" y2="387.60" stroke="#444" stroke-width="0.6"/>
<text x="63.80" y="396.20" font-size="3.8" fill="#888" stroke="#888" stroke-width="0.08" transform="rotate(-90 63.80 396.20)">-0.5</text>
<line x1="73.65" y1="385.00" x2="73.65" y2="387.60" stroke="#444" stroke-width="0.6"/>
<text x="74.95" y="396.20" font-size="3.8" fill="#888" stroke="#888" stroke-width="0.08" transform="rotate(-90 74.95 396.20)">TSS</text>
<line x1="84.80" y1="385.00" x2="84.80" y2="387.60" stroke="#444" stroke-width="0.6"/>
<text x="86.10" y="396.20" font-size="3.8" fill="#888" stroke="#888" stroke-width="0.08" transform="rotate(-90 86.10 396.20)">0.5</text>
<text x="73.65" y="405.60" font-size="4.6" fill="#777" stroke="#777" stroke-width="0.08" text-anchor="middle">Gene</text>
<text x="73.65" y="410.40" font-size="4.6" fill="#777" stroke="#777" stroke-width="0.08" text-anchor="middle" textLength="17.00" lengthAdjust="spacingAndGlyphs">distance</text>
<line x1="87.80" y1="385.00" x2="87.80" y2="387.60" stroke="#444" stroke-width="0.6"/>
<text x="89.10" y="396.20" font-size="3.8" fill="#888" stroke="#888" stroke-width="0.08" transform="rotate(-90 89.10 396.20)">-0.5</text>
<line x1="98.95" y1="385.00" x2="98.95" y2="387.60" stroke="#444" stroke-width="0.6"/>
<text x="100.25" y="396.20" font-size="3.8" fill="#888" stroke="#888" stroke-width="0.08" transform="rotate(-90 100.25 396.20)">TSS</text>
<line x1="110.10" y1="385.00" x2="110.10" y2="387.60" stroke="#444" stroke-width="0.6"/>
<text x="111.40" y="396.20" font-size="3.8" fill="#888" stroke="#888" stroke-width="0.08" transform="rotate(-90 111.40 396.20)">0.5</text>
<text x="98.95" y="405.60" font-size="4.6" fill="#777" stroke="#777" stroke-width="0.08" text-anchor="middle">Gene</text>
<text x="98.95" y="410.40" font-size="4.6" fill="#777" stroke="#777" stroke-width="0.08" text-anchor="middle" textLength="17.00" lengthAdjust="spacingAndGlyphs">distance</text>
<line x1="113.20" y1="385.00" x2="113.20" y2="387.60" stroke="#444" stroke-width="0.6"/>
<text x="114.50" y="396.20" font-size="3.8" fill="#888" stroke="#888" stroke-width="0.08" transform="rotate(-90 114.50 396.20)">-0.5</text>
<line x1="124.35" y1="385.00" x2="124.35" y2="387.60" stroke="#444" stroke-width="0.6"/>
<text x="125.65" y="396.20" font-size="3.8" fill="#888" stroke="#888" stroke-width="0.08" transform="rotate(-90 125.65 396.20)">TSS</text>
<line x1="135.50" y1="385.00" x2="135.50" y2="387.60" stroke="#444" stroke-width="0.6"/>
<text x="136.80" y="396.20" font-size="3.8" fill="#888" stroke="#888" stroke-width="0.08" transform="rotate(-90 136.80 396.20)">0.5</text>
<text x="124.35" y="405.60" font-size="4.6" fill="#777" stroke="#777" stroke-width="0.08" text-anchor="middle">Gene</text>
<text x="124.35" y="410.40" font-size="4.6" fill="#777" stroke="#777" stroke-width="0.08" text-anchor="middle" textLength="17.00" lengthAdjust="spacingAndGlyphs">distance</text>
<line x1="139.25" y1="385.00" x2="139.25" y2="387.60" stroke="#444" stroke-width="0.6"/>
<text x="140.55" y="396.20" font-size="3.8" fill="#888" stroke="#888" stroke-width="0.08" transform="rotate(-90 140.55 396.20)">-0.5</text>
<line x1="150.40" y1="385.00" x2="150.40" y2="387.60" stroke="#444" stroke-width="0.6"/>
<text x="151.70" y="396.20" font-size="3.8" fill="#888" stroke="#888" stroke-width="0.08" transform="rotate(-90 151.70 396.20)">TSS</text>
<line x1="161.55" y1="385.00" x2="161.55" y2="387.60" stroke="#444" stroke-width="0.6"/>
<text x="162.85" y="396.20" font-size="3.8" fill="#888" stroke="#888" stroke-width="0.08" transform="rotate(-90 162.85 396.20)">0.5</text>
<text x="150.40" y="405.60" font-size="4.6" fill="#777" stroke="#777" stroke-width="0.08" text-anchor="middle">Gene</text>
<text x="150.40" y="410.40" font-size="4.6" fill="#777" stroke="#777" stroke-width="0.08" text-anchor="middle" textLength="17.00" lengthAdjust="spacingAndGlyphs">distance</text>
<line x1="164.75" y1="385.00" x2="164.75" y2="387.60" stroke="#444" stroke-width="0.6"/>
<text x="166.05" y="396.20" font-size="3.8" fill="#888" stroke="#888" stroke-width="0.08" transform="rotate(-90 166.05 396.20)">-0.5</text>
<line x1="175.90" y1="385.00" x2="175.90" y2="387.60" stroke="#444" stroke-width="0.6"/>
<text x="177.20" y="396.20" font-size="3.8" fill="#888" stroke="#888" stroke-width="0.08" transform="rotate(-90 177.20 396.20)">TSS</text>
<line x1="187.05" y1="385.00" x2="187.05" y2="387.60" stroke="#444" stroke-width="0.6"/>
<text x="188.35" y="396.20" font-size="3.8" fill="#888" stroke="#888" stroke-width="0.08" transform="rotate(-90 188.35 396.20)">0.5</text>
<text x="175.90" y="405.60" font-size="4.6" fill="#777" stroke="#777" stroke-width="0.08" text-anchor="middle">Gene</text>
<text x="175.90" y="410.40" font-size="4.6" fill="#777" stroke="#777" stroke-width="0.08" text-anchor="middle" textLength="17.00" lengthAdjust="spacingAndGlyphs">distance</text>
<line x1="190.50" y1="385.00" x2="190.50" y2="387.60" stroke="#444" stroke-width="0.6"/>
<text x="191.80" y="396.20" font-size="3.8" fill="#888" stroke="#888" stroke-width="0.08" transform="rotate(-90 191.80 396.20)">-0.5</text>
<line x1="201.65" y1="385.00" x2="201.65" y2="387.60" stroke="#444" stroke-width="0.6"/>
<text x="202.95" y="396.20" font-size="3.8" fill="#888" stroke="#888" stroke-width="0.08" transform="rotate(-90 202.95 396.20)">TSS</text>
<line x1="212.80" y1="385.00" x2="212.80" y2="387.60" stroke="#444" stroke-width="0.6"/>
<text x="214.10" y="396.20" font-size="3.8" fill="#888" stroke="#888" stroke-width="0.08" transform="rotate(-90 214.10 396.20)">0.5</text>
<text x="201.65" y="405.60" font-size="4.6" fill="#777" stroke="#777" stroke-width="0.08" text-anchor="middle">Gene</text>
<text x="201.65" y="410.40" font-size="4.6" fill="#777" stroke="#777" stroke-width="0.08" text-anchor="middle" textLength="17.00" lengthAdjust="spacingAndGlyphs">distance</text>
<line x1="215.50" y1="385.00" x2="215.50" y2="387.60" stroke="#444" stroke-width="0.6"/>
<text x="216.80" y="396.20" font-size="3.8" fill="#888" stroke="#888" stroke-width="0.08" transform="rotate(-90 216.80 396.20)">-0.5</text>
<line x1="226.65" y1="385.00" x2="226.65" y2="387.60" stroke="#444" stroke-width="0.6"/>
<text x="227.95" y="396.20" font-size="3.8" fill="#888" stroke="#888" stroke-width="0.08" transform="rotate(-90 227.95 396.20)">TSS</text>
<line x1="237.80" y1="385.00" x2="237.80" y2="387.60" stroke="#444" stroke-width="0.6"/>
<text x="239.10" y="396.20" font-size="3.8" fill="#888" stroke="#888" stroke-width="0.08" transform="rotate(-90 239.10 396.20)">0.5</text>
<text x="226.65" y="405.60" font-size="4.6" fill="#777" stroke="#777" stroke-width="0.08" text-anchor="middle">Gene</text>
<text x="226.65" y="410.40" font-size="4.6" fill="#777" stroke="#777" stroke-width="0.08" text-anchor="middle" textLength="17.00" lengthAdjust="spacingAndGlyphs">distance</text>
<line x1="239.25" y1="385.00" x2="239.25" y2="387.60" stroke="#444" stroke-width="0.6"/>
<text x="240.55" y="396.20" font-size="3.8" fill="#888" stroke="#888" stroke-width="0.08" transform="rotate(-90 240.55 396.20)">-0.5</text>
<line x1="250.40" y1="385.00" x2="250.40" y2="387.60" stroke="#444" stroke-width="0.6"/>
<text x="251.70" y="396.20" font-size="3.8" fill="#888" stroke="#888" stroke-width="0.08" transform="rotate(-90 251.70 396.20)">TSS</text>
<line x1="261.55" y1="385.00" x2="261.55" y2="387.60" stroke="#444" stroke-width="0.6"/>
<text x="262.85" y="396.20" font-size="3.8" fill="#888" stroke="#888" stroke-width="0.08" transform="rotate(-90 262.85 396.20)">0.5</text>
<text x="250.40" y="405.60" font-size="4.6" fill="#777" stroke="#777" stroke-width="0.08" text-anchor="middle">Gene</text>
<text x="250.40" y="410.40" font-size="4.6" fill="#777" stroke="#777" stroke-width="0.08" text-anchor="middle" textLength="17.00" lengthAdjust="spacingAndGlyphs">distance</text>
<line x1="263.75" y1="385.00" x2="263.75" y2="387.60" stroke="#444" stroke-width="0.6"/>
<text x="265.05" y="396.20" font-size="3.8" fill="#888" stroke="#888" stroke-width="0.08" transform="rotate(-90 265.05 396.20)">-0.5</text>
<line x1="274.90" y1="385.00" x2="274.90" y2="387.60" stroke="#444" stroke-width="0.6"/>
<text x="276.20" y="396.20" font-size="3.8" fill="#888" stroke="#888" stroke-width="0.08" transform="rotate(-90 276.20 396.20)">TSS</text>
<line x1="286.05" y1="385.00" x2="286.05" y2="387.60" stroke="#444" stroke-width="0.6"/>
<text x="287.35" y="396.20" font-size="3.8" fill="#888" stroke="#888" stroke-width="0.08" transform="rotate(-90 287.35 396.20)">0.5</text>
<text x="274.90" y="405.60" font-size="4.6" fill="#777" stroke="#777" stroke-width="0.08" text-anchor="middle">Gene</text>
<text x="274.90" y="410.40" font-size="4.6" fill="#777" stroke="#777" stroke-width="0.08" text-anchor="middle" textLength="17.00" lengthAdjust="spacingAndGlyphs">distance</text>
<line x1="288.50" y1="385.00" x2="288.50" y2="387.60" stroke="#444" stroke-width="0.6"/>
<text x="289.80" y="396.20" font-size="3.8" fill="#888" stroke="#888" stroke-width="0.08" transform="rotate(-90 289.80 396.20)">-0.5</text>
<line x1="299.65" y1="385.00" x2="299.65" y2="387.60" stroke="#444" stroke-width="0.6"/>
<text x="300.95" y="396.20" font-size="3.8" fill="#888" stroke="#888" stroke-width="0.08" transform="rotate(-90 300.95 396.20)">TSS</text>
<line x1="310.80" y1="385.00" x2="310.80" y2="387.60" stroke="#444" stroke-width="0.6"/>
<text x="312.10" y="396.20" font-size="3.8" fill="#888" stroke="#888" stroke-width="0.08" transform="rotate(-90 312.10 396.20)">0.5</text>
<text x="299.65" y="405.60" font-size="4.6" fill="#777" stroke="#777" stroke-width="0.08" text-anchor="middle">Gene</text>
<text x="299.65" y="410.40" font-size="4.6" fill="#777" stroke="#777" stroke-width="0.08" text-anchor="middle" textLength="17.00" lengthAdjust="spacingAndGlyphs">distance</text>
<line x1="313.00" y1="385.00" x2="313.00" y2="387.60" stroke="#444" stroke-width="0.6"/>
<text x="314.30" y="396.20" font-size="3.8" fill="#888" stroke="#888" stroke-width="0.08" transform="rotate(-90 314.30 396.20)">-0.5</text>
<line x1="324.15" y1="385.00" x2="324.15" y2="387.60" stroke="#444" stroke-width="0.6"/>
<text x="325.45" y="396.20" font-size="3.8" fill="#888" stroke="#888" stroke-width="0.08" transform="rotate(-90 325.45 396.20)">TSS</text>
<line x1="335.30" y1="385.00" x2="335.30" y2="387.60" stroke="#444" stroke-width="0.6"/>
<text x="336.60" y="396.20" font-size="3.8" fill="#888" stroke="#888" stroke-width="0.08" transform="rotate(-90 336.60 396.20)">0.5</text>
<text x="324.15" y="405.60" font-size="4.6" fill="#777" stroke="#777" stroke-width="0.08" text-anchor="middle">Gene</text>
<text x="324.15" y="410.40" font-size="4.6" fill="#777" stroke="#777" stroke-width="0.08" text-anchor="middle" textLength="17.00" lengthAdjust="spacingAndGlyphs">distance</text>
<line x1="339.30" y1="385.00" x2="339.30" y2="387.60" stroke="#444" stroke-width="0.6"/>
<text x="340.60" y="396.20" font-size="3.8" fill="#888" stroke="#888" stroke-width="0.08" transform="rotate(-90 340.60 396.20)">-0.5</text>
<line x1="350.45" y1="385.00" x2="350.45" y2="387.60" stroke="#444" stroke-width="0.6"/>
<text x="351.75" y="396.20" font-size="3.8" fill="#888" stroke="#888" stroke-width="0.08" transform="rotate(-90 351.75 396.20)">TSS</text>
<line x1="361.60" y1="385.00" x2="361.60" y2="387.60" stroke="#444" stroke-width="0.6"/>
<text x="362.90" y="396.20" font-size="3.8" fill="#888" stroke="#888" stroke-width="0.08" transform="rotate(-90 362.90 396.20)">0.5</text>
<text x="350.45" y="405.60" font-size="4.6" fill="#777" stroke="#777" stroke-width="0.08" text-anchor="middle">Gene</text>
<text x="350.45" y="410.40" font-size="4.6" fill="#777" stroke="#777" stroke-width="0.08" text-anchor="middle" textLength="17.00" lengthAdjust="spacingAndGlyphs">distance</text>
<line x1="364.40" y1="385.00" x2="364.40" y2="387.60" stroke="#444" stroke-width="0.6"/>
<text x="365.70" y="396.20" font-size="3.8" fill="#888" stroke="#888" stroke-width="0.08" transform="rotate(-90 365.70 396.20)">-0.5</text>
<line x1="375.55" y1="385.00" x2="375.55" y2="387.60" stroke="#444" stroke-width="0.6"/>
<text x="376.85" y="396.20" font-size="3.8" fill="#888" stroke="#888" stroke-width="0.08" transform="rotate(-90 376.85 396.20)">TSS</text>
<line x1="386.70" y1="385.00" x2="386.70" y2="387.60" stroke="#444" stroke-width="0.6"/>
<text x="388.00" y="396.20" font-size="3.8" fill="#888" stroke="#888" stroke-width="0.08" transform="rotate(-90 388.00 396.20)">0.5</text>
<text x="375.55" y="405.60" font-size="4.6" fill="#777" stroke="#777" stroke-width="0.08" text-anchor="middle">Gene</text>
<text x="375.55" y="410.40" font-size="4.6" fill="#777" stroke="#777" stroke-width="0.08" text-anchor="middle" textLength="17.00" lengthAdjust="spacingAndGlyphs">distance</text>
<line x1="389.30" y1="385.00" x2="389.30" y2="387.60" stroke="#444" stroke-width="0.6"/>
<text x="390.60" y="396.20" font-size="3.8" fill="#888" stroke="#888" stroke-width="0.08" transform="rotate(-90 390.60 396.20)">-0.5</text>
<line x1="400.45" y1="385.00" x2="400.45" y2="387.60" stroke="#444" stroke-width="0.6"/>
<text x="401.75" y="396.20" font-size="3.8" fill="#888" stroke="#888" stroke-width="0.08" transform="rotate(-90 401.75 396.20)">TSS</text>
<line x1="411.60" y1="385.00" x2="411.60" y2="387.60" stroke="#444" stroke-width="0.6"/>
<text x="412.90" y="396.20" font-size="3.8" fill="#888" stroke="#888" stroke-width="0.08" transform="rotate(-90 412.90 396.20)">0.5</text>
<text x="400.45" y="405.60" font-size="4.6" fill="#777" stroke="#777" stroke-width="0.08" text-anchor="middle">Gene</text>
<text x="400.45" y="410.40" font-size="4.6" fill="#777" stroke="#777" stroke-width="0.08" text-anchor="middle" textLength="17.00" lengthAdjust="spacingAndGlyphs">distance</text>
<line x1="413.10" y1="385.00" x2="413.10" y2="387.60" stroke="#444" stroke-width="0.6"/>
<text x="414.40" y="396.20" font-size="3.8" fill="#888" stroke="#888" stroke-width="0.08" transform="rotate(-90 414.40 396.20)">-0.5</text>
<line x1="424.25" y1="385.00" x2="424.25" y2="387.60" stroke="#444" stroke-width="0.6"/>
<text x="425.55" y="396.20" font-size="3.8" fill="#888" stroke="#888" stroke-width="0.08" transform="rotate(-90 425.55 396.20)">TSS</text>
<line x1="435.40" y1="385.00" x2="435.40" y2="387.60" stroke="#444" stroke-width="0.6"/>
<text x="436.70" y="396.20" font-size="3.8" fill="#888" stroke="#888" stroke-width="0.08" transform="rotate(-90 436.70 396.20)">0.5</text>
<text x="424.25" y="405.60" font-size="4.6" fill="#777" stroke="#777" stroke-width="0.08" text-anchor="middle">Gene</text>
<text x="424.25" y="410.40" font-size="4.6" fill="#777" stroke="#777" stroke-width="0.08" text-anchor="middle" textLength="17.00" lengthAdjust="spacingAndGlyphs">distance</text>
<line x1="437.80" y1="385.00" x2="437.80" y2="387.60" stroke="#444" stroke-width="0.6"/>
<text x="439.10" y="396.20" font-size="3.8" fill="#888" stroke="#888" stroke-width="0.08" transform="rotate(-90 439.10 396.20)">-0.5</text>
<line x1="448.95" y1="385.00" x2="448.95" y2="387.60" stroke="#444" stroke-width="0.6"/>
<text x="450.25" y="396.20" font-size="3.8" fill="#888" stroke="#888" stroke-width="0.08" transform="rotate(-90 450.25 396.20)">TSS</text>
<line x1="460.10" y1="385.00" x2="460.10" y2="387.60" stroke="#444" stroke-width="0.6"/>
<text x="461.40" y="396.20" font-size="3.8" fill="#888" stroke="#888" stroke-width="0.08" transform="rotate(-90 461.40 396.20)">0.5</text>
<text x="448.95" y="405.60" font-size="4.6" fill="#777" stroke="#777" stroke-width="0.08" text-anchor="middle">Gene</text>
<text x="448.95" y="410.40" font-size="4.6" fill="#777" stroke="#777" stroke-width="0.08" text-anchor="middle" textLength="17.00" lengthAdjust="spacingAndGlyphs">distance</text>
<line x1="462.40" y1="385.00" x2="462.40" y2="387.60" stroke="#444" stroke-width="0.6"/>
<text x="463.70" y="396.20" font-size="3.8" fill="#888" stroke="#888" stroke-width="0.08" transform="rotate(-90 463.70 396.20)">-0.5</text>
<line x1="473.55" y1="385.00" x2="473.55" y2="387.60" stroke="#444" stroke-width="0.6"/>
<text x="474.85" y="396.20" font-size="3.8" fill="#888" stroke="#888" stroke-width="0.08" transform="rotate(-90 474.85 396.20)">TSS</text>
<line x1="484.70" y1="385.00" x2="484.70" y2="387.60" stroke="#444" stroke-width="0.6"/>
<text x="486.00" y="396.20" font-size="3.8" fill="#888" stroke="#888" stroke-width="0.08" transform="rotate(-90 486.00 396.20)">0.5</text>
<text x="473.55" y="405.60" font-size="4.6" fill="#777" stroke="#777" stroke-width="0.08" text-anchor="middle">Gene</text>
<text x="473.55" y="410.40" font-size="4.6" fill="#777" stroke="#777" stroke-width="0.08" text-anchor="middle" textLength="17.00" lengthAdjust="spacingAndGlyphs">distance</text>
<rect x="37.30" y="418.0" width="23.3" height="4.3" fill="url(#cb_HDAC1)" stroke="#555" stroke-width="0.6"/>
<text x="38.80" y="427.80" font-size="3.5" fill="#888" stroke="#888" stroke-width="0.05" text-anchor="middle">0.0</text>
<text x="48.95" y="427.80" font-size="3.5" fill="#888" stroke="#888" stroke-width="0.05" text-anchor="middle">0.4</text>
<text x="59.10" y="427.80" font-size="3.5" fill="#888" stroke="#888" stroke-width="0.05" text-anchor="middle">0.8</text>
<rect x="62.00" y="418.0" width="23.3" height="4.3" fill="url(#cb_BRD4)" stroke="#555" stroke-width="0.6"/>
<text x="63.50" y="427.80" font-size="3.5" fill="#888" stroke="#888" stroke-width="0.05" text-anchor="middle">0.0</text>
<text x="73.65" y="427.80" font-size="3.5" fill="#888" stroke="#888" stroke-width="0.05" text-anchor="middle">0.4</text>
<text x="83.80" y="427.80" font-size="3.5" fill="#888" stroke="#888" stroke-width="0.05" text-anchor="middle">0.8</text>
<rect x="87.30" y="418.0" width="23.3" height="4.3" fill="url(#cb_H3K9Ac)" stroke="#555" stroke-width="0.6"/>
<text x="88.80" y="427.80" font-size="3.5" fill="#888" stroke="#888" stroke-width="0.05" text-anchor="middle">0.0</text>
<text x="95.57" y="427.80" font-size="3.5" fill="#888" stroke="#888" stroke-width="0.05" text-anchor="middle">0.6</text>
<text x="102.33" y="427.80" font-size="3.5" fill="#888" stroke="#888" stroke-width="0.05" text-anchor="middle">1.2</text>
<text x="109.10" y="427.80" font-size="3.5" fill="#888" stroke="#888" stroke-width="0.05" text-anchor="middle">1.8</text>
<rect x="112.70" y="418.0" width="23.3" height="4.3" fill="url(#cb_H3K27Ac)" stroke="#555" stroke-width="0.6"/>
<text x="114.20" y="427.80" font-size="3.5" fill="#888" stroke="#888" stroke-width="0.05" text-anchor="middle">0.0</text>
<text x="120.97" y="427.80" font-size="3.5" fill="#888" stroke="#888" stroke-width="0.05" text-anchor="middle">0.6</text>
<text x="127.73" y="427.80" font-size="3.5" fill="#888" stroke="#888" stroke-width="0.05" text-anchor="middle">1.2</text>
<text x="134.50" y="427.80" font-size="3.5" fill="#888" stroke="#888" stroke-width="0.05" text-anchor="middle">1.8</text>
<rect x="138.75" y="418.0" width="23.3" height="4.3" fill="url(#cb_Pol2)" stroke="#555" stroke-width="0.6"/>
<text x="140.25" y="427.80" font-size="3.5" fill="#888" stroke="#888" stroke-width="0.05" text-anchor="middle">0.0</text>
<text x="147.02" y="427.80" font-size="3.5" fill="#888" stroke="#888" stroke-width="0.05" text-anchor="middle">0.6</text>
<text x="153.78" y="427.80" font-size="3.5" fill="#888" stroke="#888" stroke-width="0.05" text-anchor="middle">1.2</text>
<text x="160.55" y="427.80" font-size="3.5" fill="#888" stroke="#888" stroke-width="0.05" text-anchor="middle">1.8</text>
<rect x="164.25" y="418.0" width="23.3" height="4.3" fill="url(#cb_ATAC)" stroke="#555" stroke-width="0.6"/>
<text x="165.75" y="427.80" font-size="3.5" fill="#888" stroke="#888" stroke-width="0.05" text-anchor="middle">0.0</text>
<text x="175.90" y="427.80" font-size="3.5" fill="#888" stroke="#888" stroke-width="0.05" text-anchor="middle">0.4</text>
<text x="186.05" y="427.80" font-size="3.5" fill="#888" stroke="#888" stroke-width="0.05" text-anchor="middle">0.8</text>
<rect x="190.00" y="418.0" width="23.3" height="4.3" fill="url(#cb_HDAC1)" stroke="#555" stroke-width="0.6"/>
<text x="191.50" y="427.80" font-size="3.5" fill="#888" stroke="#888" stroke-width="0.05" text-anchor="middle">0.0</text>
<text x="201.65" y="427.80" font-size="3.5" fill="#888" stroke="#888" stroke-width="0.05" text-anchor="middle">0.4</text>
<text x="211.80" y="427.80" font-size="3.5" fill="#888" stroke="#888" stroke-width="0.05" text-anchor="middle">0.8</text>
<rect x="215.00" y="418.0" width="23.3" height="4.3" fill="url(#cb_BRD4)" stroke="#555" stroke-width="0.6"/>
<text x="216.50" y="427.80" font-size="3.5" fill="#888" stroke="#888" stroke-width="0.05" text-anchor="middle">0.0</text>
<text x="226.65" y="427.80" font-size="3.5" fill="#888" stroke="#888" stroke-width="0.05" text-anchor="middle">0.4</text>
<text x="236.80" y="427.80" font-size="3.5" fill="#888" stroke="#888" stroke-width="0.05" text-anchor="middle">0.8</text>
<rect x="238.75" y="418.0" width="23.3" height="4.3" fill="url(#cb_H3K9Ac)" stroke="#555" stroke-width="0.6"/>
<text x="240.25" y="427.80" font-size="3.5" fill="#888" stroke="#888" stroke-width="0.05" text-anchor="middle">0.0</text>
<text x="247.02" y="427.80" font-size="3.5" fill="#888" stroke="#888" stroke-width="0.05" text-anchor="middle">0.6</text>
<text x="253.78" y="427.80" font-size="3.5" fill="#888" stroke="#888" stroke-width="0.05" text-anchor="middle">1.2</text>
<text x="260.55" y="427.80" font-size="3.5" fill="#888" stroke="#888" stroke-width="0.05" text-anchor="middle">1.8</text>
<rect x="263.25" y="418.0" width="23.3" height="4.3" fill="url(#cb_H3K27Ac)" stroke="#555" stroke-width="0.6"/>
<text x="264.75" y="427.80" font-size="3.5" fill="#888" stroke="#888" stroke-width="0.05" text-anchor="middle">0.0</text>
<text x="271.52" y="427.80" font-size="3.5" fill="#888" stroke="#888" stroke-width="0.05" text-anchor="middle">0.6</text>
<text x="278.28" y="427.80" font-size="3.5" fill="#888" stroke="#888" stroke-width="0.05" text-anchor="middle">1.2</text>
<text x="285.05" y="427.80" font-size="3.5" fill="#888" stroke="#888" stroke-width="0.05" text-anchor="middle">1.8</text>
<rect x="288.00" y="418.0" width="23.3" height="4.3" fill="url(#cb_Pol2)" stroke="#555" stroke-width="0.6"/>
<text x="289.50" y="427.80" font-size="3.5" fill="#888" stroke="#888" stroke-width="0.05" text-anchor="middle">0.0</text>
<text x="296.27" y="427.80" font-size="3.5" fill="#888" stroke="#888" stroke-width="0.05" text-anchor="middle">0.6</text>
<text x="303.03" y="427.80" font-size="3.5" fill="#888" stroke="#888" stroke-width="0.05" text-anchor="middle">1.2</text>
<text x="309.80" y="427.80" font-size="3.5" fill="#888" stroke="#888" stroke-width="0.05" text-anchor="middle">1.8</text>
<rect x="312.50" y="418.0" width="23.3" height="4.3" fill="url(#cb_ATAC)" stroke="#555" stroke-width="0.6"/>
<text x="314.00" y="427.80" font-size="3.5" fill="#888" stroke="#888" stroke-width="0.05" text-anchor="middle">0.0</text>
<text x="324.15" y="427.80" font-size="3.5" fill="#888" stroke="#888" stroke-width="0.05" text-anchor="middle">0.4</text>
<text x="334.30" y="427.80" font-size="3.5" fill="#888" stroke="#888" stroke-width="0.05" text-anchor="middle">0.8</text>
<rect x="338.80" y="418.0" width="23.3" height="4.3" fill="url(#cb_HDAC1)" stroke="#555" stroke-width="0.6"/>
<text x="340.30" y="427.80" font-size="3.5" fill="#888" stroke="#888" stroke-width="0.05" text-anchor="middle">0.0</text>
<text x="350.45" y="427.80" font-size="3.5" fill="#888" stroke="#888" stroke-width="0.05" text-anchor="middle">0.4</text>
<text x="360.60" y="427.80" font-size="3.5" fill="#888" stroke="#888" stroke-width="0.05" text-anchor="middle">0.8</text>
<rect x="363.90" y="418.0" width="23.3" height="4.3" fill="url(#cb_BRD4)" stroke="#555" stroke-width="0.6"/>
<text x="365.40" y="427.80" font-size="3.5" fill="#888" stroke="#888" stroke-width="0.05" text-anchor="middle">0.0</text>
<text x="375.55" y="427.80" font-size="3.5" fill="#888" stroke="#888" stroke-width="0.05" text-anchor="middle">0.4</text>
<text x="385.70" y="427.80" font-size="3.5" fill="#888" stroke="#888" stroke-width="0.05" text-anchor="middle">0.8</text>
<rect x="388.80" y="418.0" width="23.3" height="4.3" fill="url(#cb_H3K9Ac)" stroke="#555" stroke-width="0.6"/>
<text x="390.30" y="427.80" font-size="3.5" fill="#888" stroke="#888" stroke-width="0.05" text-anchor="middle">0.0</text>
<text x="397.07" y="427.80" font-size="3.5" fill="#888" stroke="#888" stroke-width="0.05" text-anchor="middle">0.6</text>
<text x="403.83" y="427.80" font-size="3.5" fill="#888" stroke="#888" stroke-width="0.05" text-anchor="middle">1.2</text>
<text x="410.60" y="427.80" font-size="3.5" fill="#888" stroke="#888" stroke-width="0.05" text-anchor="middle">1.8</text>
<rect x="412.60" y="418.0" width="23.3" height="4.3" fill="url(#cb_H3K27Ac)" stroke="#555" stroke-width="0.6"/>
<text x="414.10" y="427.80" font-size="3.5" fill="#888" stroke="#888" stroke-width="0.05" text-anchor="middle">0.0</text>
<text x="420.87" y="427.80" font-size="3.5" fill="#888" stroke="#888" stroke-width="0.05" text-anchor="middle">0.6</text>
<text x="427.63" y="427.80" font-size="3.5" fill="#888" stroke="#888" stroke-width="0.05" text-anchor="middle">1.2</text>
<text x="434.40" y="427.80" font-size="3.5" fill="#888" stroke="#888" stroke-width="0.05" text-anchor="middle">1.8</text>
<rect x="437.30" y="418.0" width="23.3" height="4.3" fill="url(#cb_Pol2)" stroke="#555" stroke-width="0.6"/>
<text x="438.80" y="427.80" font-size="3.5" fill="#888" stroke="#888" stroke-width="0.05" text-anchor="middle">0.0</text>
<text x="445.57" y="427.80" font-size="3.5" fill="#888" stroke="#888" stroke-width="0.05" text-anchor="middle">0.6</text>
<text x="452.33" y="427.80" font-size="3.5" fill="#888" stroke="#888" stroke-width="0.05" text-anchor="middle">1.2</text>
<text x="459.10" y="427.80" font-size="3.5" fill="#888" stroke="#888" stroke-width="0.05" text-anchor="middle">1.8</text>
<rect x="461.90" y="418.0" width="23.3" height="4.3" fill="url(#cb_ATAC)" stroke="#555" stroke-width="0.6"/>
<text x="463.40" y="427.80" font-size="3.5" fill="#888" stroke="#888" stroke-width="0.05" text-anchor="middle">0.0</text>
<text x="473.55" y="427.80" font-size="3.5" fill="#888" stroke="#888" stroke-width="0.05" text-anchor="middle">0.4</text>
<text x="483.70" y="427.80" font-size="3.5" fill="#888" stroke="#888" stroke-width="0.05" text-anchor="middle">0.8</text>
<text x="8.50" y="194.70" font-size="10.2" fill="#e0405a" stroke="#e0405a" stroke-width="0.22" textLength="24.80" lengthAdjust="spacingAndGlyphs" transform="rotate(-90 8.50 194.70)">Cluster I</text>
<text x="25.30" y="220.80" font-size="7.3" fill="#222" stroke="#222" stroke-width="0.22" textLength="75.80" lengthAdjust="spacingAndGlyphs" transform="rotate(-90 25.30 220.80)">HDAC1-BRD4-H3K9Ac-</text>
<text x="32.50" y="214.60" font-size="7.3" fill="#222" stroke="#222" stroke-width="0.22" textLength="62.80" lengthAdjust="spacingAndGlyphs" transform="rotate(-90 32.50 214.60)">H3K27Ac-Pol2-ATAC</text>
<text x="8.50" y="278.20" font-size="10.2" fill="#e0405a" stroke="#e0405a" stroke-width="0.22" textLength="27.70" lengthAdjust="spacingAndGlyphs" transform="rotate(-90 8.50 278.20)">Cluster II</text>
<text x="24.00" y="291.00" font-size="7.3" fill="#222" stroke="#222" stroke-width="0.22" textLength="49.70" lengthAdjust="spacingAndGlyphs" transform="rotate(-90 24.00 291.00)">HDAC1-H3K9Ac</text>
<text x="31.60" y="280.90" font-size="7.3" fill="#222" stroke="#222" stroke-width="0.22" textLength="33.00" lengthAdjust="spacingAndGlyphs" transform="rotate(-90 31.60 280.90)">ATAC-Pol2</text>
<text x="8.50" y="363.20" font-size="10.2" fill="#e0405a" stroke="#e0405a" stroke-width="0.22" textLength="30.40" lengthAdjust="spacingAndGlyphs" transform="rotate(-90 8.50 363.20)">Cluster III</text>
<text x="25.10" y="363.80" font-size="7.3" fill="#222" stroke="#222" stroke-width="0.22" textLength="30.40" lengthAdjust="spacingAndGlyphs" transform="rotate(-90 25.10 363.80)">HDAC1 +</text>
<text x="32.30" y="373.70" font-size="7.3" fill="#222" stroke="#222" stroke-width="0.22" textLength="46.20" lengthAdjust="spacingAndGlyphs" transform="rotate(-90 32.30 373.70)">low/no H3K9Ac</text>
<text x="2.00" y="448.00" font-size="10" fill="#000" stroke="#000" stroke-width="0.22" font-weight="bold">D</text>
<text x="21.70" y="470.10" font-size="7.4" fill="#222" stroke="#222" stroke-width="0.22" textLength="19.20" lengthAdjust="spacingAndGlyphs">n = 3</text>
<ellipse cx="146.8" cy="565.1" rx="86.7" ry="41.5" transform="rotate(47.7 146.8 565.1)" fill="#6f348c" fill-opacity="0.49" stroke="#5a2068" stroke-width="1.1"/>
<ellipse cx="146.2" cy="546.7" rx="94.5" ry="37.2" transform="rotate(165.9 146.2 546.7)" fill="#c8c8d0" fill-opacity="0.49" stroke="#c4c4cc" stroke-width="1.1"/>
<ellipse cx="117.0" cy="536.8" rx="75.4" ry="50.5" transform="rotate(89.9 117.0 536.8)" fill="#e8341d" fill-opacity="0.49" stroke="#b01c3c" stroke-width="1.1"/>
<ellipse cx="122.1" cy="576.8" rx="80.9" ry="43.7" transform="rotate(134.6 122.1 576.8)" fill="#5262b0" fill-opacity="0.49" stroke="#1d3f7e" stroke-width="1.1"/>
<ellipse cx="102.8" cy="556.7" rx="88.9" ry="40.7" transform="rotate(15.2 102.8 556.7)" fill="#7ccb6c" fill-opacity="0.49" stroke="#4a9a3a" stroke-width="1.1"/>
<text x="100.00" y="459.40" font-size="8.4" fill="#a8284a" stroke="#a8284a" stroke-width="0.22" textLength="27.50" lengthAdjust="spacingAndGlyphs">HDAC1</text>
<text x="16.00" y="512.30" font-size="8.4" fill="#5a9a50" stroke="#5a9a50" stroke-width="0.22" textLength="30.50" lengthAdjust="spacingAndGlyphs">H3K9Ac</text>
<text x="207.50" y="503.60" font-size="8.6" fill="#b8b8bc" stroke="#b8b8bc" stroke-width="0.22" textLength="15.30" lengthAdjust="spacingAndGlyphs">Pol2</text>
<text x="31.10" y="630.80" font-size="8.6" fill="#3d5a88" stroke="#3d5a88" stroke-width="0.22" textLength="21.50" lengthAdjust="spacingAndGlyphs">BRD4</text>
<text x="205.20" y="638.00" font-size="8.3" fill="#5a4068" stroke="#5a4068" stroke-width="0.22" textLength="35.00" lengthAdjust="spacingAndGlyphs">H3K27Ac</text>
<text x="108.00" y="480.51" font-size="7.8" fill="#4a2050" stroke="#4a2050" stroke-width="0.15" font-weight="bold" textLength="18.90" lengthAdjust="spacingAndGlyphs">2979</text>
<text x="100.90" y="513.84" font-size="6.5" fill="#f4f4f4" stroke="#f4f4f4" stroke-width="0.1" textLength="11.00" lengthAdjust="spacingAndGlyphs">506</text>
<text x="119.10" y="519.54" font-size="6.5" fill="#f4f4f4" stroke="#f4f4f4" stroke-width="0.1" textLength="10.10" lengthAdjust="spacingAndGlyphs">328</text>
<text x="80.70" y="523.59" font-size="6.5" fill="#f4f4f4" stroke="#f4f4f4" stroke-width="0.1" textLength="13.00" lengthAdjust="spacingAndGlyphs">293</text>
<text x="63.80" y="531.31" font-size="7.8" fill="#5a1a48" stroke="#5a1a48" stroke-width="0.15" font-weight="bold" textLength="16.90" lengthAdjust="spacingAndGlyphs">1647</text>
<text x="87.90" y="535.11" font-size="7.8" fill="#1a4a6a" stroke="#1a4a6a" stroke-width="0.15" font-weight="bold" textLength="18.30" lengthAdjust="spacingAndGlyphs">4390</text>
<text x="70.10" y="551.51" font-size="7.8" fill="#1a3a5a" stroke="#1a3a5a" stroke-width="0.15" font-weight="bold" textLength="17.80" lengthAdjust="spacingAndGlyphs">1519</text>
<text x="40.40" y="541.94" font-size="6.5" fill="#f4f4f4" stroke="#f4f4f4" stroke-width="0.1" textLength="14.60" lengthAdjust="spacingAndGlyphs">1399</text>
<text x="57.70" y="566.34" font-size="6.5" fill="#f4f4f4" stroke="#f4f4f4" stroke-width="0.1" textLength="11.50" lengthAdjust="spacingAndGlyphs">158</text>
<text x="82.70" y="575.04" font-size="6.5" fill="#f4f4f4" stroke="#f4f4f4" stroke-width="0.1" textLength="11.50" lengthAdjust="spacingAndGlyphs">103</text>
<text x="70.40" y="582.74" font-size="6.5" fill="#f4f4f4" stroke="#f4f4f4" stroke-width="0.1" textLength="3.80" lengthAdjust="spacingAndGlyphs">2</text>
<text x="71.00" y="589.84" font-size="6.5" fill="#f4f4f4" stroke="#f4f4f4" stroke-width="0.1" textLength="3.80" lengthAdjust="spacingAndGlyphs">3</text>
<text x="92.10" y="595.64" font-size="6.5" fill="#f4f4f4" stroke="#f4f4f4" stroke-width="0.1" textLength="6.70" lengthAdjust="spacingAndGlyphs">25</text>
<text x="105.60" y="610.04" font-size="6.5" fill="#f4f4f4" stroke="#f4f4f4" stroke-width="0.1" textLength="10.60" lengthAdjust="spacingAndGlyphs">129</text>
<text x="80.80" y="625.34" font-size="6.5" fill="#303850" stroke="#303850" stroke-width="0.15" textLength="10.70" lengthAdjust="spacingAndGlyphs">111</text>
<text x="125.80" y="597.74" font-size="6.5" fill="#f4f4f4" stroke="#f4f4f4" stroke-width="0.1" textLength="11.50" lengthAdjust="spacingAndGlyphs">105</text>
<text x="125.80" y="609.74" font-size="6.5" fill="#f4f4f4" stroke="#f4f4f4" stroke-width="0.1" textLength="10.40" lengthAdjust="spacingAndGlyphs">277</text>
<text x="136.20" y="613.84" font-size="6.5" fill="#f4f4f4" stroke="#f4f4f4" stroke-width="0.1" textLength="11.50" lengthAdjust="spacingAndGlyphs">139</text>
<text x="155.80" y="594.34" font-size="6.5" fill="#f4f4f4" stroke="#f4f4f4" stroke-width="0.1" textLength="6.90" lengthAdjust="spacingAndGlyphs">13</text>
<text x="116.20" y="564.91" font-size="7.8" fill="#c0203a" stroke="#c0203a" stroke-width="0.15" font-weight="bold" textLength="19.50" lengthAdjust="spacingAndGlyphs">4799</text>
<text x="144.60" y="527.84" font-size="6.5" fill="#f4f4f4" stroke="#f4f4f4" stroke-width="0.1" textLength="11.60" lengthAdjust="spacingAndGlyphs">547</text>
<text x="150.40" y="512.34" font-size="6.5" fill="#f4f4f4" stroke="#f4f4f4" stroke-width="0.1" textLength="9.20" lengthAdjust="spacingAndGlyphs">479</text>
<text x="157.30" y="519.34" font-size="6.5" fill="#f4f4f4" stroke="#f4f4f4" stroke-width="0.1" textLength="7.60" lengthAdjust="spacingAndGlyphs">57</text>
<text x="171.20" y="528.54" font-size="6.5" fill="#f4f4f4" stroke="#f4f4f4" stroke-width="0.1" textLength="6.90" lengthAdjust="spacingAndGlyphs">10</text>
<text x="170.00" y="545.84" font-size="6.5" fill="#f4f4f4" stroke="#f4f4f4" stroke-width="0.1" textLength="7.40" lengthAdjust="spacingAndGlyphs">36</text>
<text x="168.20" y="568.34" font-size="6.5" fill="#f4f4f4" stroke="#f4f4f4" stroke-width="0.1" textLength="6.90" lengthAdjust="spacingAndGlyphs">14</text>
<text x="187.30" y="565.84" font-size="6.5" fill="#f4f4f4" stroke="#f4f4f4" stroke-width="0.1" textLength="9.20" lengthAdjust="spacingAndGlyphs">151</text>
<text x="179.70" y="575.84" font-size="6.5" fill="#f4f4f4" stroke="#f4f4f4" stroke-width="0.1" textLength="9.90" lengthAdjust="spacingAndGlyphs">224</text>
<text x="174.20" y="588.94" font-size="6.5" fill="#f4f4f4" stroke="#f4f4f4" stroke-width="0.1" textLength="10.80" lengthAdjust="spacingAndGlyphs">102</text>
<text x="202.00" y="530.41" font-size="7.8" fill="#404040" stroke="#404040" stroke-width="0.15" font-weight="bold" textLength="11.80" lengthAdjust="spacingAndGlyphs">339</text>
<text x="176.50" y="618.34" font-size="6.5" fill="#f4f4f4" stroke="#f4f4f4" stroke-width="0.1" textLength="11.00" lengthAdjust="spacingAndGlyphs">881</text>
<text x="16.20" y="657.40" font-size="7.6" fill="#c42e40" stroke="#c42e40" stroke-width="0.22" textLength="236.30" lengthAdjust="spacingAndGlyphs">Cluster I ( HDAC1 + H3K9Ac + BRD4 + H3K27Ac + Pol II, n = 4799)</text>
<text x="16.20" y="669.00" font-size="7.6" fill="#3a6488" stroke="#3a6488" stroke-width="0.22" textLength="162.50" lengthAdjust="spacingAndGlyphs">Cluster II (HDAC1 + H3K9Ac + Pol II, n = 5909)</text>
<text x="16.20" y="680.20" font-size="7.6" fill="#4e3a60" stroke="#4e3a60" stroke-width="0.22" textLength="166.30" lengthAdjust="spacingAndGlyphs">Cluster III (HDAC1 + low /no H3K9Ac, n = 4626)</text>
<text x="286.20" y="447.50" font-size="10" fill="#000" stroke="#000" stroke-width="0.22" font-weight="bold">E</text>
<line x1="309.50" y1="498.00" x2="370.50" y2="498.00" stroke="#f0b0b8" stroke-width="0.7" stroke-dasharray="1.2,1.6"/>
<line x1="309.50" y1="505.20" x2="370.50" y2="505.20" stroke="#d0d4e0" stroke-width="0.7" stroke-dasharray="1.2,1.6"/>
<polyline points="319.7,471.2 319.7,468.5 355.7,468.5 355.7,471.2" fill="none" stroke="#555" stroke-width="0.8"/>
<text x="337.70" y="468.80" font-size="7.8" fill="#333" stroke="#333" stroke-width="0.22" font-weight="bold" text-anchor="middle">****</text>
<line x1="321.00" y1="503.00" x2="321.00" y2="508.00" stroke="#555" stroke-width="0.6" stroke-dasharray="1,1"/>
<line x1="321.00" y1="513.20" x2="321.00" y2="520.40" stroke="#555" stroke-width="0.6" stroke-dasharray="1,1"/>
<line x1="317.20" y1="503.00" x2="324.80" y2="503.00" stroke="#333" stroke-width="0.8"/>
<line x1="317.20" y1="520.40" x2="324.80" y2="520.40" stroke="#333" stroke-width="0.8"/>
<circle cx="321.00" cy="522.00" r="0.45" fill="#555"/>
<circle cx="321.00" cy="523.50" r="0.45" fill="#555"/>
<rect x="313.50" y="508.00" width="15.00" height="5.20" fill="#1d4a7c" stroke="#333" stroke-width="0.4"/>
<line x1="313.50" y1="510.60" x2="328.50" y2="510.60" stroke="#222" stroke-width="0.6"/>
<line x1="340.35" y1="494.20" x2="340.35" y2="499.60" stroke="#555" stroke-width="0.6" stroke-dasharray="1,1"/>
<line x1="340.35" y1="502.40" x2="340.35" y2="509.20" stroke="#555" stroke-width="0.6" stroke-dasharray="1,1"/>
<line x1="336.55" y1="494.20" x2="344.15" y2="494.20" stroke="#333" stroke-width="0.8"/>
<line x1="336.55" y1="509.20" x2="344.15" y2="509.20" stroke="#333" stroke-width="0.8"/>
<rect x="333.00" y="499.60" width="14.70" height="2.80" fill="#a6a6a6" stroke="#333" stroke-width="0.4"/>
<line x1="333.00" y1="501.00" x2="347.70" y2="501.00" stroke="#222" stroke-width="0.6"/>
<line x1="360.00" y1="483.50" x2="360.00" y2="491.20" stroke="#555" stroke-width="0.6" stroke-dasharray="1,1"/>
<line x1="360.00" y1="495.80" x2="360.00" y2="502.00" stroke="#555" stroke-width="0.6" stroke-dasharray="1,1"/>
<line x1="356.20" y1="483.50" x2="363.80" y2="483.50" stroke="#333" stroke-width="0.8"/>
<line x1="356.20" y1="502.00" x2="363.80" y2="502.00" stroke="#333" stroke-width="0.8"/>
<circle cx="360.00" cy="466.00" r="0.45" fill="#555"/>
<circle cx="360.00" cy="468.00" r="0.45" fill="#555"/>
<circle cx="360.00" cy="470.00" r="0.45" fill="#555"/>
<circle cx="360.00" cy="472.00" r="0.45" fill="#555"/>
<circle cx="360.00" cy="474.00" r="0.45" fill="#555"/>
<circle cx="360.00" cy="476.00" r="0.45" fill="#555"/>
<circle cx="360.00" cy="477.50" r="0.45" fill="#555"/>
<circle cx="360.00" cy="479.00" r="0.45" fill="#555"/>
<circle cx="360.00" cy="480.50" r="0.45" fill="#555"/>
<circle cx="360.00" cy="482.00" r="0.45" fill="#555"/>
<rect x="352.30" y="491.20" width="15.40" height="4.60" fill="#b0142e" stroke="#333" stroke-width="0.4"/>
<line x1="352.30" y1="493.50" x2="367.70" y2="493.50" stroke="#222" stroke-width="0.6"/>
<rect x="308.50" y="460.40" width="63.00" height="74.30" fill="none" stroke="#111" stroke-width="1.5"/>
<line x1="306.00" y1="466.50" x2="308.50" y2="466.50" stroke="#111" stroke-width="0.9"/>
<text x="303.20" y="468.50" font-size="5.8" fill="#444" stroke="#444" stroke-width="0.1" text-anchor="end">15</text>
<line x1="306.00" y1="482.40" x2="308.50" y2="482.40" stroke="#111" stroke-width="0.9"/>
<text x="303.20" y="484.40" font-size="5.8" fill="#444" stroke="#444" stroke-width="0.1" text-anchor="end">10</text>
<line x1="306.00" y1="497.80" x2="308.50" y2="497.80" stroke="#111" stroke-width="0.9"/>
<text x="303.20" y="499.80" font-size="5.8" fill="#444" stroke="#444" stroke-width="0.1" text-anchor="end">5</text>
<line x1="306.00" y1="513.20" x2="308.50" y2="513.20" stroke="#111" stroke-width="0.9"/>
<text x="303.20" y="515.20" font-size="5.8" fill="#444" stroke="#444" stroke-width="0.1" text-anchor="end">0</text>
<line x1="306.00" y1="528.50" x2="308.50" y2="528.50" stroke="#111" stroke-width="0.9"/>
<text x="303.20" y="530.50" font-size="5.8" fill="#444" stroke="#444" stroke-width="0.1" text-anchor="end">-5</text>
<line x1="320.50" y1="534.70" x2="320.50" y2="537.20" stroke="#111" stroke-width="0.9"/>
<text x="322.50" y="538.90" font-size="5.8" fill="#333" stroke="#333" stroke-width="0.1" text-anchor="end" transform="rotate(-90 322.50 538.90)">LOW</text>
<line x1="340.30" y1="534.70" x2="340.30" y2="537.20" stroke="#111" stroke-width="0.9"/>
<text x="342.30" y="538.90" font-size="5.8" fill="#333" stroke="#333" stroke-width="0.1" text-anchor="end" transform="rotate(-90 342.30 538.90)">MED</text>
<line x1="359.70" y1="534.70" x2="359.70" y2="537.20" stroke="#111" stroke-width="0.9"/>
<text x="361.70" y="538.90" font-size="5.8" fill="#333" stroke="#333" stroke-width="0.1" text-anchor="end" transform="rotate(-90 361.70 538.90)">HIGH</text>
<text x="290.60" y="498.30" font-size="6.8" fill="#222" stroke="#222" stroke-width="0.22" text-anchor="middle" textLength="27.60" lengthAdjust="spacingAndGlyphs" transform="rotate(-90 290.60 498.30)">log2(CPM)</text>
<text x="340.20" y="445.50" font-size="8.6" fill="#2a2a2a" stroke="#2a2a2a" stroke-width="0.22" text-anchor="middle" textLength="29.50" lengthAdjust="spacingAndGlyphs">Cluster I</text>
<text x="305.40" y="455.90" font-size="7.0" font-weight="bold" stroke-width="0.12" textLength="68.10" lengthAdjust="spacingAndGlyphs"><tspan fill="#111" stroke="#111">L:773, M:1625, </tspan><tspan fill="#c0102a" stroke="#c0102a">H:2724</tspan></text>
<line x1="417.10" y1="498.40" x2="475.40" y2="498.40" stroke="#f0b0b8" stroke-width="0.7" stroke-dasharray="1.2,1.6"/>
<line x1="417.10" y1="505.50" x2="475.40" y2="505.50" stroke="#d0d4e0" stroke-width="0.7" stroke-dasharray="1.2,1.6"/>
<polyline points="425.5,473.5 425.5,470.1 461.1,470.1 461.1,473.5" fill="none" stroke="#555" stroke-width="0.8"/>
<text x="443.30" y="470.40" font-size="7.8" fill="#333" stroke="#333" stroke-width="0.22" font-weight="bold" text-anchor="middle">****</text>
<line x1="428.05" y1="503.30" x2="428.05" y2="509.10" stroke="#555" stroke-width="0.6" stroke-dasharray="1,1"/>
<line x1="428.05" y1="514.10" x2="428.05" y2="522.20" stroke="#555" stroke-width="0.6" stroke-dasharray="1,1"/>
<line x1="424.25" y1="503.30" x2="431.85" y2="503.30" stroke="#333" stroke-width="0.8"/>
<line x1="424.25" y1="522.20" x2="431.85" y2="522.20" stroke="#333" stroke-width="0.8"/>
<circle cx="428.05" cy="524.00" r="0.45" fill="#555"/>
<circle cx="428.05" cy="526.00" r="0.45" fill="#555"/>
<rect x="420.80" y="509.10" width="14.50" height="5.00" fill="#1d4a7c" stroke="#333" stroke-width="0.4"/>
<line x1="420.80" y1="511.60" x2="435.30" y2="511.60" stroke="#222" stroke-width="0.6"/>
<line x1="446.50" y1="496.30" x2="446.50" y2="501.00" stroke="#555" stroke-width="0.6" stroke-dasharray="1,1"/>
<line x1="446.50" y1="502.80" x2="446.50" y2="510.00" stroke="#555" stroke-width="0.6" stroke-dasharray="1,1"/>
<line x1="442.70" y1="496.30" x2="450.30" y2="496.30" stroke="#333" stroke-width="0.8"/>
<line x1="442.70" y1="510.00" x2="450.30" y2="510.00" stroke="#333" stroke-width="0.8"/>
<circle cx="446.50" cy="512.00" r="0.45" fill="#555"/>
<circle cx="446.50" cy="513.80" r="0.45" fill="#555"/>
<rect x="439.30" y="501.00" width="14.40" height="1.80" fill="#a6a6a6" stroke="#333" stroke-width="0.4"/>
<line x1="439.30" y1="501.90" x2="453.70" y2="501.90" stroke="#222" stroke-width="0.6"/>
<line x1="465.00" y1="488.50" x2="465.00" y2="493.90" stroke="#555" stroke-width="0.6" stroke-dasharray="1,1"/>
<line x1="465.00" y1="497.00" x2="465.00" y2="502.00" stroke="#555" stroke-width="0.6" stroke-dasharray="1,1"/>
<line x1="461.20" y1="488.50" x2="468.80" y2="488.50" stroke="#333" stroke-width="0.8"/>
<line x1="461.20" y1="502.00" x2="468.80" y2="502.00" stroke="#333" stroke-width="0.8"/>
<circle cx="465.00" cy="468.00" r="0.45" fill="#555"/>
<circle cx="465.00" cy="472.00" r="0.45" fill="#555"/>
<circle cx="465.00" cy="475.00" r="0.45" fill="#555"/>
<circle cx="465.00" cy="477.50" r="0.45" fill="#555"/>
<circle cx="465.00" cy="480.00" r="0.45" fill="#555"/>
<circle cx="465.00" cy="482.00" r="0.45" fill="#555"/>
<circle cx="465.00" cy="484.00" r="0.45" fill="#555"/>
<circle cx="465.00" cy="486.00" r="0.45" fill="#555"/>
<rect x="457.80" y="493.90" width="14.40" height="3.10" fill="#b0142e" stroke="#333" stroke-width="0.4"/>
<line x1="457.80" y1="495.45" x2="472.20" y2="495.45" stroke="#222" stroke-width="0.6"/>
<rect x="416.10" y="463.00" width="60.30" height="70.40" fill="none" stroke="#111" stroke-width="1.5"/>
<line x1="413.60" y1="469.20" x2="416.10" y2="469.20" stroke="#111" stroke-width="0.9"/>
<text x="410.80" y="471.20" font-size="5.8" fill="#444" stroke="#444" stroke-width="0.1" text-anchor="end">15</text>
<line x1="413.60" y1="483.60" x2="416.10" y2="483.60" stroke="#111" stroke-width="0.9"/>
<text x="410.80" y="485.60" font-size="5.8" fill="#444" stroke="#444" stroke-width="0.1" text-anchor="end">10</text>
<line x1="413.60" y1="498.40" x2="416.10" y2="498.40" stroke="#111" stroke-width="0.9"/>
<text x="410.80" y="500.40" font-size="5.8" fill="#444" stroke="#444" stroke-width="0.1" text-anchor="end">5</text>
<line x1="413.60" y1="512.90" x2="416.10" y2="512.90" stroke="#111" stroke-width="0.9"/>
<text x="410.80" y="514.90" font-size="5.8" fill="#444" stroke="#444" stroke-width="0.1" text-anchor="end">0</text>
<line x1="413.60" y1="527.30" x2="416.10" y2="527.30" stroke="#111" stroke-width="0.9"/>
<text x="410.80" y="529.30" font-size="5.8" fill="#444" stroke="#444" stroke-width="0.1" text-anchor="end">-5</text>
<line x1="428.20" y1="533.40" x2="428.20" y2="535.90" stroke="#111" stroke-width="0.9"/>
<text x="430.20" y="537.60" font-size="5.8" fill="#333" stroke="#333" stroke-width="0.1" text-anchor="end" transform="rotate(-90 430.20 537.60)">LOW</text>
<line x1="446.30" y1="533.40" x2="446.30" y2="535.90" stroke="#111" stroke-width="0.9"/>
<text x="448.30" y="537.60" font-size="5.8" fill="#333" stroke="#333" stroke-width="0.1" text-anchor="end" transform="rotate(-90 448.30 537.60)">MED</text>
<line x1="464.50" y1="533.40" x2="464.50" y2="535.90" stroke="#111" stroke-width="0.9"/>
<text x="466.50" y="537.60" font-size="5.8" fill="#333" stroke="#333" stroke-width="0.1" text-anchor="end" transform="rotate(-90 466.50 537.60)">HIGH</text>
<text x="397.80" y="498.50" font-size="6.8" fill="#222" stroke="#222" stroke-width="0.22" text-anchor="middle" textLength="27.60" lengthAdjust="spacingAndGlyphs" transform="rotate(-90 397.80 498.50)">log2(CPM)</text>
<text x="446.65" y="448.10" font-size="8.6" fill="#2a2a2a" stroke="#2a2a2a" stroke-width="0.22" text-anchor="middle" textLength="31.70" lengthAdjust="spacingAndGlyphs">Cluster II</text>
<text x="410.70" y="458.70" font-size="7.0" font-weight="bold" stroke-width="0.12" textLength="71.10" lengthAdjust="spacingAndGlyphs"><tspan fill="#111" stroke="#111">L:1090, </tspan><tspan fill="#c0102a" stroke="#c0102a">M:2421</tspan><tspan fill="#111" stroke="#111">, H:2165</tspan></text>
<line x1="313.50" y1="625.10" x2="375.10" y2="625.10" stroke="#f0b0b8" stroke-width="0.7" stroke-dasharray="1.2,1.6"/>
<line x1="313.50" y1="632.60" x2="375.10" y2="632.60" stroke="#d0d4e0" stroke-width="0.7" stroke-dasharray="1.2,1.6"/>
<polyline points="324.5,603 324.5,599.4 359.8,599.4 359.8,603" fill="none" stroke="#555" stroke-width="0.8"/>
<text x="342.15" y="599.70" font-size="7.8" fill="#333" stroke="#333" stroke-width="0.22" font-weight="bold" text-anchor="middle">****</text>
<line x1="325.00" y1="630.00" x2="325.00" y2="637.20" stroke="#555" stroke-width="0.6" stroke-dasharray="1,1"/>
<line x1="325.00" y1="643.90" x2="325.00" y2="653.50" stroke="#555" stroke-width="0.6" stroke-dasharray="1,1"/>
<line x1="321.20" y1="630.00" x2="328.80" y2="630.00" stroke="#333" stroke-width="0.8"/>
<line x1="321.20" y1="653.50" x2="328.80" y2="653.50" stroke="#333" stroke-width="0.8"/>
<rect x="317.30" y="637.20" width="15.40" height="6.70" fill="#1d4a7c" stroke="#333" stroke-width="0.4"/>
<line x1="317.30" y1="640.55" x2="332.70" y2="640.55" stroke="#222" stroke-width="0.6"/>
<line x1="344.20" y1="624.00" x2="344.20" y2="629.00" stroke="#555" stroke-width="0.6" stroke-dasharray="1,1"/>
<line x1="344.20" y1="632.30" x2="344.20" y2="640.10" stroke="#555" stroke-width="0.6" stroke-dasharray="1,1"/>
<line x1="340.40" y1="624.00" x2="348.00" y2="624.00" stroke="#333" stroke-width="0.8"/>
<line x1="340.40" y1="640.10" x2="348.00" y2="640.10" stroke="#333" stroke-width="0.8"/>
<rect x="336.50" y="629.00" width="15.40" height="3.30" fill="#a6a6a6" stroke="#333" stroke-width="0.4"/>
<line x1="336.50" y1="630.65" x2="351.90" y2="630.65" stroke="#222" stroke-width="0.6"/>
<line x1="363.60" y1="615.30" x2="363.60" y2="620.80" stroke="#555" stroke-width="0.6" stroke-dasharray="1,1"/>
<line x1="363.60" y1="624.20" x2="363.60" y2="629.40" stroke="#555" stroke-width="0.6" stroke-dasharray="1,1"/>
<line x1="359.80" y1="615.30" x2="367.40" y2="615.30" stroke="#333" stroke-width="0.8"/>
<line x1="359.80" y1="629.40" x2="367.40" y2="629.40" stroke="#333" stroke-width="0.8"/>
<circle cx="363.60" cy="609.50" r="0.45" fill="#555"/>
<circle cx="363.60" cy="611.50" r="0.45" fill="#555"/>
<circle cx="363.60" cy="613.00" r="0.45" fill="#555"/>
<rect x="355.80" y="620.80" width="15.60" height="3.40" fill="#b0142e" stroke="#333" stroke-width="0.4"/>
<line x1="355.80" y1="622.50" x2="371.40" y2="622.50" stroke="#222" stroke-width="0.6"/>
<rect x="312.50" y="588.20" width="63.60" height="74.00" fill="none" stroke="#111" stroke-width="1.5"/>
<line x1="310.00" y1="594.40" x2="312.50" y2="594.40" stroke="#111" stroke-width="0.9"/>
<text x="307.20" y="596.40" font-size="5.8" fill="#444" stroke="#444" stroke-width="0.1" text-anchor="end">15</text>
<line x1="310.00" y1="609.80" x2="312.50" y2="609.80" stroke="#111" stroke-width="0.9"/>
<text x="307.20" y="611.80" font-size="5.8" fill="#444" stroke="#444" stroke-width="0.1" text-anchor="end">10</text>
<line x1="310.00" y1="625.40" x2="312.50" y2="625.40" stroke="#111" stroke-width="0.9"/>
<text x="307.20" y="627.40" font-size="5.8" fill="#444" stroke="#444" stroke-width="0.1" text-anchor="end">5</text>
<line x1="310.00" y1="640.60" x2="312.50" y2="640.60" stroke="#111" stroke-width="0.9"/>
<text x="307.20" y="642.60" font-size="5.8" fill="#444" stroke="#444" stroke-width="0.1" text-anchor="end">0</text>
<line x1="310.00" y1="656.00" x2="312.50" y2="656.00" stroke="#111" stroke-width="0.9"/>
<text x="307.20" y="658.00" font-size="5.8" fill="#444" stroke="#444" stroke-width="0.1" text-anchor="end">-5</text>
<line x1="324.80" y1="662.20" x2="324.80" y2="664.70" stroke="#111" stroke-width="0.9"/>
<text x="326.80" y="666.40" font-size="5.8" fill="#333" stroke="#333" stroke-width="0.1" text-anchor="end" transform="rotate(-90 326.80 666.40)">LOW</text>
<line x1="344.20" y1="662.20" x2="344.20" y2="664.70" stroke="#111" stroke-width="0.9"/>
<text x="346.20" y="666.40" font-size="5.8" fill="#333" stroke="#333" stroke-width="0.1" text-anchor="end" transform="rotate(-90 346.20 666.40)">MED</text>
<line x1="363.40" y1="662.20" x2="363.40" y2="664.70" stroke="#111" stroke-width="0.9"/>
<text x="365.40" y="666.40" font-size="5.8" fill="#333" stroke="#333" stroke-width="0.1" text-anchor="end" transform="rotate(-90 365.40 666.40)">HIGH</text>
<text x="295.40" y="625.50" font-size="6.8" fill="#222" stroke="#222" stroke-width="0.22" text-anchor="middle" textLength="27.60" lengthAdjust="spacingAndGlyphs" transform="rotate(-90 295.40 625.50)">log2(CPM)</text>
<text x="344.20" y="573.10" font-size="8.6" fill="#2a2a2a" stroke="#2a2a2a" stroke-width="0.22" text-anchor="middle" textLength="34.40" lengthAdjust="spacingAndGlyphs">Cluster III</text>
<text x="314.00" y="583.20" font-size="7.0" font-weight="bold" stroke-width="0.12" textLength="60.40" lengthAdjust="spacingAndGlyphs"><tspan fill="#c0102a" stroke="#c0102a">L:550</tspan><tspan fill="#111" stroke="#111">, M:373, H:154</tspan></text>
<line x1="419.40" y1="625.40" x2="480.10" y2="625.40" stroke="#f0b0b8" stroke-width="0.7" stroke-dasharray="1.2,1.6"/>
<line x1="419.40" y1="632.90" x2="480.10" y2="632.90" stroke="#d0d4e0" stroke-width="0.7" stroke-dasharray="1.2,1.6"/>
<polyline points="431.6,600.9 431.6,597.7 467.4,597.7 467.4,600.9" fill="none" stroke="#555" stroke-width="0.8"/>
<text x="449.50" y="598.00" font-size="7.8" fill="#333" stroke="#333" stroke-width="0.22" font-weight="bold" text-anchor="middle">****</text>
<line x1="430.40" y1="628.30" x2="430.40" y2="635.80" stroke="#555" stroke-width="0.6" stroke-dasharray="1,1"/>
<line x1="430.40" y1="641.60" x2="430.40" y2="650.20" stroke="#555" stroke-width="0.6" stroke-dasharray="1,1"/>
<line x1="426.60" y1="628.30" x2="434.20" y2="628.30" stroke="#333" stroke-width="0.8"/>
<line x1="426.60" y1="650.20" x2="434.20" y2="650.20" stroke="#333" stroke-width="0.8"/>
<circle cx="430.40" cy="652.00" r="0.45" fill="#555"/>
<circle cx="430.40" cy="654.00" r="0.45" fill="#555"/>
<rect x="422.70" y="635.80" width="15.40" height="5.80" fill="#1d4a7c" stroke="#333" stroke-width="0.4"/>
<line x1="422.70" y1="638.70" x2="438.10" y2="638.70" stroke="#222" stroke-width="0.6"/>
<line x1="449.50" y1="622.20" x2="449.50" y2="629.00" stroke="#555" stroke-width="0.6" stroke-dasharray="1,1"/>
<line x1="449.50" y1="630.90" x2="449.50" y2="637.20" stroke="#555" stroke-width="0.6" stroke-dasharray="1,1"/>
<line x1="445.70" y1="622.20" x2="453.30" y2="622.20" stroke="#333" stroke-width="0.8"/>
<line x1="445.70" y1="637.20" x2="453.30" y2="637.20" stroke="#333" stroke-width="0.8"/>
<rect x="441.70" y="629.00" width="15.60" height="1.90" fill="#a6a6a6" stroke="#333" stroke-width="0.4"/>
<line x1="441.70" y1="629.95" x2="457.30" y2="629.95" stroke="#222" stroke-width="0.6"/>
<line x1="468.95" y1="611.40" x2="468.95" y2="619.20" stroke="#555" stroke-width="0.6" stroke-dasharray="1,1"/>
<line x1="468.95" y1="623.70" x2="468.95" y2="628.30" stroke="#555" stroke-width="0.6" stroke-dasharray="1,1"/>
<line x1="465.15" y1="611.40" x2="472.75" y2="611.40" stroke="#333" stroke-width="0.8"/>
<line x1="465.15" y1="628.30" x2="472.75" y2="628.30" stroke="#333" stroke-width="0.8"/>
<circle cx="468.95" cy="605.20" r="0.45" fill="#555"/>
<circle cx="468.95" cy="607.00" r="0.45" fill="#555"/>
<circle cx="468.95" cy="609.00" r="0.45" fill="#555"/>
<rect x="461.20" y="619.20" width="15.50" height="4.50" fill="#b0142e" stroke="#333" stroke-width="0.4"/>
<line x1="461.20" y1="621.45" x2="476.70" y2="621.45" stroke="#222" stroke-width="0.6"/>
<rect x="418.40" y="588.20" width="62.70" height="74.00" fill="none" stroke="#111" stroke-width="1.5"/>
<line x1="415.90" y1="594.40" x2="418.40" y2="594.40" stroke="#111" stroke-width="0.9"/>
<text x="413.10" y="596.40" font-size="5.8" fill="#444" stroke="#444" stroke-width="0.1" text-anchor="end">15</text>
<line x1="415.90" y1="609.80" x2="418.40" y2="609.80" stroke="#111" stroke-width="0.9"/>
<text x="413.10" y="611.80" font-size="5.8" fill="#444" stroke="#444" stroke-width="0.1" text-anchor="end">10</text>
<line x1="415.90" y1="625.40" x2="418.40" y2="625.40" stroke="#111" stroke-width="0.9"/>
<text x="413.10" y="627.40" font-size="5.8" fill="#444" stroke="#444" stroke-width="0.1" text-anchor="end">5</text>
<line x1="415.90" y1="640.60" x2="418.40" y2="640.60" stroke="#111" stroke-width="0.9"/>
<text x="413.10" y="642.60" font-size="5.8" fill="#444" stroke="#444" stroke-width="0.1" text-anchor="end">0</text>
<line x1="415.90" y1="656.00" x2="418.40" y2="656.00" stroke="#111" stroke-width="0.9"/>
<text x="413.10" y="658.00" font-size="5.8" fill="#444" stroke="#444" stroke-width="0.1" text-anchor="end">-5</text>
<line x1="430.20" y1="662.20" x2="430.20" y2="664.70" stroke="#111" stroke-width="0.9"/>
<text x="432.20" y="666.40" font-size="5.8" fill="#333" stroke="#333" stroke-width="0.1" text-anchor="end" transform="rotate(-90 432.20 666.40)">LOW</text>
<line x1="449.70" y1="662.20" x2="449.70" y2="664.70" stroke="#111" stroke-width="0.9"/>
<text x="451.70" y="666.40" font-size="5.8" fill="#333" stroke="#333" stroke-width="0.1" text-anchor="end" transform="rotate(-90 451.70 666.40)">MED</text>
<line x1="468.90" y1="662.20" x2="468.90" y2="664.70" stroke="#111" stroke-width="0.9"/>
<text x="470.90" y="666.40" font-size="5.8" fill="#333" stroke="#333" stroke-width="0.1" text-anchor="end" transform="rotate(-90 470.90 666.40)">HIGH</text>
<text x="399.00" y="626.00" font-size="6.8" fill="#222" stroke="#222" stroke-width="0.22" text-anchor="middle" textLength="27.60" lengthAdjust="spacingAndGlyphs" transform="rotate(-90 399.00 626.00)">log2(CPM)</text>
<text x="450.00" y="572.60" font-size="8.6" fill="#2a2a2a" stroke="#2a2a2a" stroke-width="0.22" text-anchor="middle" textLength="24.50" lengthAdjust="spacingAndGlyphs">Others</text>
<text x="416.20" y="583.20" font-size="7.0" font-weight="bold" stroke-width="0.12" textLength="66.50" lengthAdjust="spacingAndGlyphs"><tspan fill="#111" stroke="#111">L:3277, M:1270, H:646</tspan></text>
</svg>
</body></html>
